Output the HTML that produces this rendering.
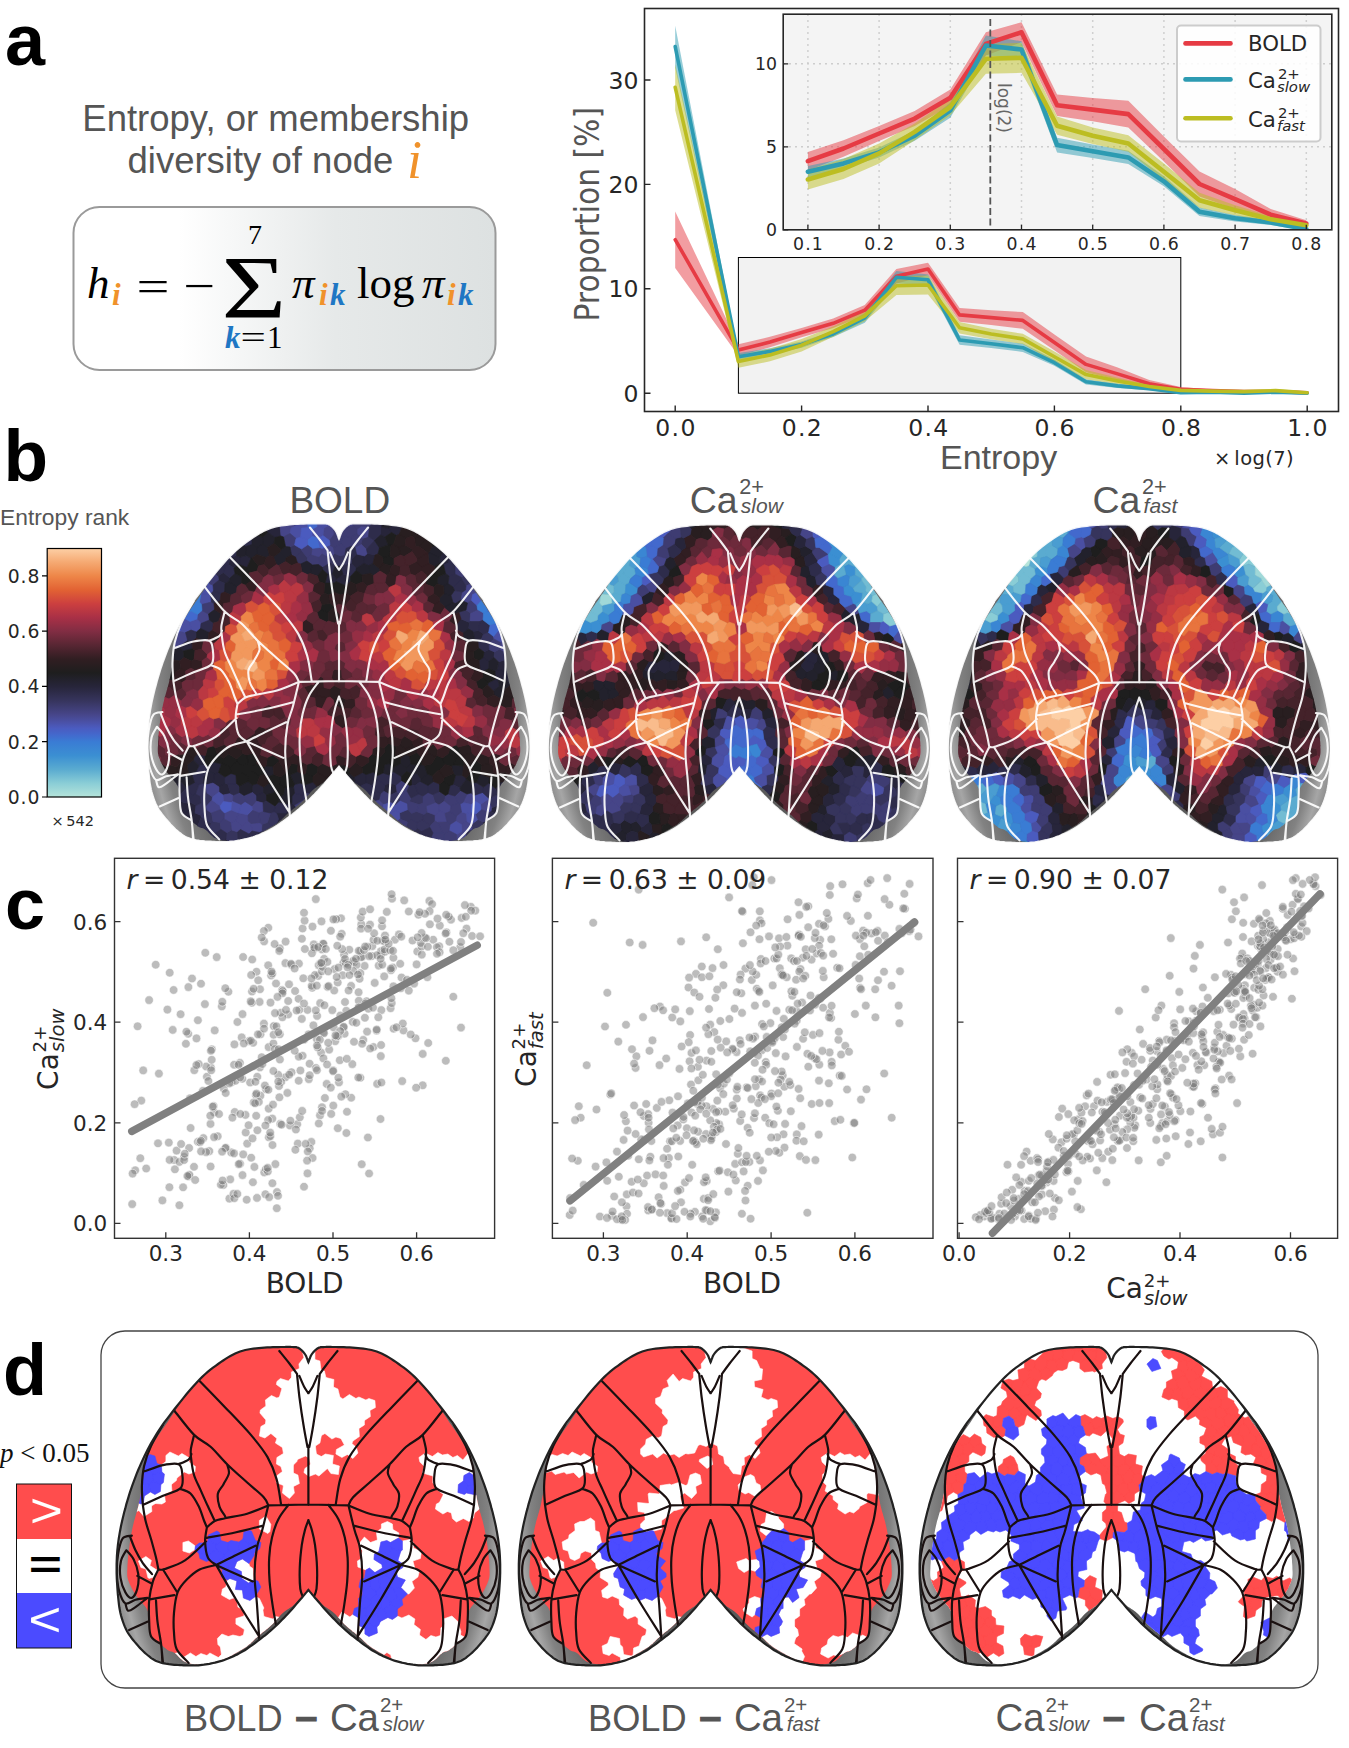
<!DOCTYPE html>
<html lang="en"><head><meta charset="utf-8"><title>Entropy figure</title>
<style>html,body{margin:0;padding:0;background:#fff}svg{display:block}</style></head><body>
<svg width="1349" height="1748" viewBox="0 0 1349 1748">
<rect width="1349" height="1748" fill="#fff"/>
<defs>
<path id="bo" d="M0.0 15.2L-0.3 14.6L-0.6 13.7L-0.9 12.6L-1.4 11.5L-1.8 10.3L-2.3 9.1L-2.9 8.0L-3.5 7.0L-4.2 6.1L-4.9 5.2L-5.7 4.4L-6.5 3.5L-7.3 2.8L-8.2 2.1L-9.0 1.5L-9.9 1.0L-10.7 0.6L-11.6 0.4L-12.4 0.2L-13.3 0.1L-14.2 0.1L-15.1 0.1L-16.0 0.0L-17.0 0.0L-17.9 -0.1L-18.7 -0.1L-19.5 -0.1L-20.4 -0.1L-21.3 -0.1L-22.4 -0.1L-23.8 -0.0L-25.5 0.0L-27.6 0.0L-29.9 0.1L-32.6 0.1L-35.4 0.2L-38.3 0.3L-41.2 0.4L-44.1 0.6L-46.9 0.8L-49.6 1.1L-52.3 1.4L-55.0 1.7L-57.7 2.0L-60.4 2.5L-63.1 3.0L-65.7 3.7L-68.3 4.5L-70.8 5.5L-73.2 6.5L-75.6 7.7L-78.0 9.0L-80.4 10.4L-82.8 11.9L-85.2 13.5L-87.7 15.2L-90.3 17.0L-92.8 18.8L-95.4 20.7L-98.0 22.7L-100.7 24.9L-103.4 27.3L-106.2 29.9L-109.1 32.7L-112.1 35.9L-115.3 39.5L-118.6 43.3L-122.0 47.3L-125.3 51.4L-128.5 55.4L-131.6 59.2L-134.4 62.8L-137.0 66.1L-139.4 69.3L-141.7 72.3L-143.9 75.2L-146.0 78.2L-148.0 81.1L-150.0 84.1L-151.9 87.1L-153.8 90.2L-155.6 93.3L-157.4 96.3L-159.1 99.4L-160.7 102.6L-162.3 105.8L-163.9 109.0L-165.5 112.4L-167.1 115.9L-168.6 119.4L-170.2 123.0L-171.7 126.6L-173.1 130.3L-174.5 134.1L-175.9 137.8L-177.2 141.6L-178.5 145.4L-179.7 149.4L-180.9 153.4L-182.1 157.4L-183.1 161.4L-184.2 165.3L-185.1 169.1L-186.0 172.7L-186.8 176.2L-187.5 179.5L-188.1 182.8L-188.7 185.9L-189.2 189.0L-189.7 192.0L-190.1 195.0L-190.5 198.0L-190.8 200.9L-191.1 203.7L-191.3 206.4L-191.5 209.1L-191.6 211.7L-191.7 214.4L-191.8 217.2L-191.8 220.0L-191.8 222.9L-191.8 225.9L-191.7 228.9L-191.6 232.0L-191.4 235.1L-191.2 238.1L-191.0 241.1L-190.8 244.0L-190.6 246.9L-190.3 249.7L-190.0 252.6L-189.7 255.4L-189.4 258.1L-189.0 260.8L-188.5 263.5L-188.0 266.0L-187.4 268.5L-186.7 270.9L-186.0 273.2L-185.2 275.5L-184.4 277.7L-183.5 279.9L-182.5 282.0L-181.5 284.0L-180.4 286.0L-179.1 287.9L-177.8 289.7L-176.5 291.5L-175.1 293.2L-173.7 294.9L-172.3 296.5L-171.0 298.0L-169.7 299.5L-168.5 300.9L-167.2 302.2L-165.9 303.5L-164.7 304.7L-163.5 305.9L-162.2 307.0L-161.0 308.0L-159.8 309.0L-158.6 309.9L-157.5 310.8L-156.4 311.6L-155.2 312.3L-154.0 313.1L-152.8 313.7L-151.5 314.3L-150.1 314.8L-148.7 315.3L-147.3 315.7L-145.8 316.1L-144.3 316.4L-142.7 316.7L-141.1 316.9L-139.5 317.2L-137.8 317.4L-136.0 317.6L-134.2 317.8L-132.3 317.9L-130.4 318.0L-128.5 318.1L-126.7 318.2L-124.8 318.3L-123.0 318.4L-121.1 318.4L-119.3 318.5L-117.4 318.5L-115.6 318.5L-113.7 318.5L-111.9 318.4L-110.0 318.3L-108.2 318.1L-106.3 317.9L-104.5 317.7L-102.6 317.4L-100.8 317.1L-98.9 316.8L-97.1 316.4L-95.2 316.0L-93.4 315.6L-91.5 315.1L-89.7 314.6L-87.8 314.1L-86.0 313.6L-84.1 313.0L-82.3 312.3L-80.4 311.6L-78.5 310.8L-76.7 310.0L-74.8 309.2L-73.0 308.3L-71.1 307.4L-69.2 306.4L-67.4 305.4L-65.5 304.3L-63.6 303.2L-61.8 302.0L-59.9 300.7L-58.1 299.4L-56.2 298.1L-54.4 296.8L-52.5 295.4L-50.7 294.0L-48.9 292.6L-47.0 291.2L-45.2 289.7L-43.3 288.3L-41.5 286.8L-39.6 285.2L-37.8 283.6L-35.9 282.0L-34.0 280.3L-32.1 278.5L-30.2 276.6L-28.3 274.7L-26.4 272.8L-24.5 270.9L-22.7 269.0L-21.0 267.2L-19.4 265.4L-17.8 263.7L-16.2 262.0L-14.7 260.3L-13.3 258.6L-11.9 256.9L-10.5 255.3L-9.2 253.8L-7.9 252.3L-6.5 250.7L-5.2 249.1L-3.9 247.6L-2.7 246.1L-1.6 244.9L-0.7 243.8L0.0 243.0L0.7 243.8L1.6 244.9L2.7 246.1L3.9 247.6L5.2 249.1L6.5 250.7L7.9 252.3L9.2 253.8L10.5 255.3L11.9 256.9L13.3 258.6L14.7 260.3L16.2 262.0L17.8 263.7L19.4 265.4L21.0 267.2L22.7 269.0L24.5 270.9L26.4 272.8L28.3 274.7L30.2 276.6L32.1 278.5L34.0 280.3L35.9 282.0L37.8 283.6L39.6 285.2L41.5 286.8L43.3 288.3L45.2 289.7L47.0 291.2L48.9 292.6L50.7 294.0L52.5 295.4L54.4 296.8L56.2 298.1L58.1 299.4L59.9 300.7L61.8 302.0L63.6 303.2L65.5 304.3L67.4 305.4L69.2 306.4L71.1 307.4L73.0 308.3L74.8 309.2L76.7 310.0L78.5 310.8L80.4 311.6L82.3 312.3L84.1 313.0L86.0 313.6L87.8 314.1L89.7 314.6L91.5 315.1L93.4 315.6L95.2 316.0L97.1 316.4L98.9 316.8L100.8 317.1L102.6 317.4L104.5 317.7L106.3 317.9L108.2 318.1L110.0 318.3L111.9 318.4L113.7 318.5L115.6 318.5L117.4 318.5L119.3 318.5L121.1 318.4L123.0 318.4L124.8 318.3L126.7 318.2L128.5 318.1L130.4 318.0L132.3 317.9L134.2 317.8L136.0 317.6L137.8 317.4L139.5 317.2L141.1 316.9L142.7 316.7L144.3 316.4L145.8 316.1L147.3 315.7L148.7 315.3L150.1 314.8L151.5 314.3L152.8 313.7L154.0 313.1L155.2 312.3L156.4 311.6L157.5 310.8L158.6 309.9L159.8 309.0L161.0 308.0L162.2 307.0L163.5 305.9L164.7 304.7L165.9 303.5L167.2 302.2L168.5 300.9L169.7 299.5L171.0 298.0L172.3 296.5L173.7 294.9L175.1 293.2L176.5 291.5L177.8 289.7L179.1 287.9L180.4 286.0L181.5 284.0L182.5 282.0L183.5 279.9L184.4 277.7L185.2 275.5L186.0 273.2L186.7 270.9L187.4 268.5L188.0 266.0L188.5 263.5L189.0 260.8L189.4 258.1L189.7 255.4L190.0 252.6L190.3 249.7L190.6 246.9L190.8 244.0L191.0 241.1L191.2 238.1L191.4 235.1L191.6 232.0L191.7 228.9L191.8 225.9L191.8 222.9L191.8 220.0L191.8 217.2L191.7 214.4L191.6 211.7L191.5 209.1L191.3 206.4L191.1 203.7L190.8 200.9L190.5 198.0L190.1 195.0L189.7 192.0L189.2 189.0L188.7 185.9L188.1 182.8L187.5 179.5L186.8 176.2L186.0 172.7L185.1 169.1L184.2 165.3L183.1 161.4L182.1 157.4L180.9 153.4L179.7 149.4L178.5 145.4L177.2 141.6L175.9 137.8L174.5 134.1L173.1 130.3L171.7 126.6L170.2 123.0L168.6 119.4L167.1 115.9L165.5 112.4L163.9 109.0L162.3 105.8L160.7 102.6L159.1 99.4L157.4 96.3L155.6 93.3L153.8 90.2L151.9 87.1L150.0 84.1L148.0 81.1L146.0 78.2L143.9 75.2L141.7 72.3L139.4 69.3L137.0 66.1L134.4 62.8L131.6 59.2L128.5 55.4L125.3 51.4L122.0 47.3L118.6 43.3L115.3 39.5L112.1 35.9L109.1 32.7L106.2 29.9L103.4 27.3L100.7 24.9L98.0 22.7L95.4 20.7L92.8 18.8L90.3 17.0L87.7 15.2L85.2 13.5L82.8 11.9L80.4 10.4L78.0 9.0L75.6 7.7L73.2 6.5L70.8 5.5L68.3 4.5L65.7 3.7L63.1 3.0L60.4 2.5L57.7 2.0L55.0 1.7L52.3 1.4L49.6 1.1L46.9 0.8L44.1 0.6L41.2 0.4L38.3 0.3L35.4 0.2L32.6 0.1L29.9 0.1L27.6 0.0L25.5 0.0L23.8 -0.0L22.4 -0.1L21.3 -0.1L20.4 -0.1L19.5 -0.1L18.7 -0.1L17.9 -0.1L17.0 0.0L16.0 0.0L15.1 0.1L14.2 0.1L13.3 0.1L12.4 0.2L11.6 0.4L10.7 0.6L9.9 1.0L9.0 1.5L8.2 2.1L7.3 2.8L6.5 3.5L5.7 4.4L4.9 5.2L4.2 6.1L3.5 7.0L2.9 8.0L2.3 9.1L1.8 10.3L1.4 11.5L0.9 12.6L0.6 13.7L0.3 14.6Z"/>
<clipPath id="dclip"><path d="M0.0 15.2L-0.3 14.6L-0.6 13.7L-0.9 12.6L-1.4 11.5L-1.8 10.3L-2.3 9.1L-2.9 8.0L-3.5 7.0L-4.2 6.1L-4.9 5.2L-5.7 4.4L-6.5 3.5L-7.3 2.8L-8.2 2.1L-9.0 1.5L-9.9 1.0L-10.7 0.6L-11.6 0.4L-12.4 0.2L-13.3 0.1L-14.2 0.1L-15.1 0.1L-16.0 0.0L-17.0 0.0L-17.9 -0.1L-18.7 -0.1L-19.5 -0.1L-20.4 -0.1L-21.3 -0.1L-22.4 -0.1L-23.8 -0.0L-25.5 0.0L-27.6 0.0L-29.9 0.1L-32.6 0.1L-35.4 0.2L-38.3 0.3L-41.2 0.4L-44.1 0.6L-46.9 0.8L-49.6 1.1L-52.3 1.4L-55.0 1.7L-57.7 2.0L-60.4 2.5L-63.1 3.0L-65.7 3.7L-68.3 4.5L-70.8 5.5L-73.2 6.5L-75.6 7.7L-78.0 9.0L-80.4 10.4L-82.8 11.9L-85.2 13.5L-87.7 15.2L-90.3 17.1L-93.1 19.1L-95.9 21.3L-98.7 23.6L-101.5 25.9L-104.2 28.2L-106.8 30.5L-109.1 32.7L-111.2 34.7L-113.1 36.7L-114.8 38.6L-116.4 40.5L-118.0 42.4L-119.6 44.5L-121.2 46.6L-123.0 49.0L-124.9 51.6L-126.9 54.4L-128.9 57.3L-131.0 60.3L-133.0 63.4L-135.1 66.4L-137.1 69.4L-139.0 72.3L-140.9 75.2L-142.9 78.0L-144.8 80.8L-146.8 83.6L-148.6 86.3L-150.4 89.1L-152.1 91.7L-153.7 94.3L-155.1 96.8L-156.5 99.2L-157.7 101.5L-158.9 103.7L-160.0 106.0L-161.1 108.4L-162.0 110.9L-162.8 113.6L-163.5 116.5L-164.1 119.6L-164.5 122.9L-164.9 126.3L-165.2 129.7L-165.5 133.0L-165.9 136.2L-166.3 139.2L-166.8 142.0L-167.2 144.6L-167.6 147.2L-168.1 149.6L-168.6 152.0L-169.1 154.4L-169.6 156.9L-170.1 159.3L-170.8 161.8L-171.4 164.3L-172.2 166.8L-172.9 169.3L-173.6 171.8L-174.4 174.3L-175.0 176.9L-175.6 179.5L-176.2 182.2L-176.7 184.9L-177.2 187.8L-177.7 190.6L-178.2 193.4L-178.6 196.2L-179.0 198.9L-179.3 201.5L-179.6 204.0L-179.9 206.4L-180.2 208.9L-180.4 211.2L-180.6 213.5L-180.7 215.7L-180.9 217.8L-181.0 219.8L-181.0 221.6L-181.1 223.2L-181.2 224.7L-181.2 226.2L-181.2 227.6L-181.1 229.0L-180.9 230.4L-180.5 232.0L-180.0 233.7L-179.3 235.5L-178.6 237.3L-177.7 239.1L-176.8 241.0L-175.9 242.7L-174.9 244.4L-174.0 246.0L-173.1 247.4L-172.1 248.8L-171.0 250.0L-170.0 251.2L-168.9 252.4L-167.9 253.6L-166.9 254.8L-166.0 256.0L-165.1 257.2L-164.3 258.2L-163.4 259.2L-162.6 260.3L-161.9 261.4L-161.2 262.7L-160.5 264.2L-160.0 266.0L-159.6 268.2L-159.4 270.9L-159.4 273.8L-159.3 276.9L-159.3 280.0L-159.1 282.9L-158.8 285.5L-158.2 287.7L-157.4 289.4L-156.3 290.9L-155.1 292.1L-153.8 293.1L-152.5 294.0L-151.1 294.8L-149.8 295.7L-148.6 296.6L-147.5 297.6L-146.3 298.6L-145.2 299.5L-144.1 300.5L-143.0 301.3L-142.0 302.1L-141.0 302.9L-140.0 303.5L-139.1 304.0L-138.3 304.3L-137.6 304.5L-136.9 304.6L-136.2 304.8L-135.5 305.1L-134.6 305.4L-133.7 306.0L-132.7 306.8L-131.6 307.8L-130.5 309.0L-129.3 310.2L-128.1 311.4L-126.8 312.6L-125.4 313.7L-124.0 314.5L-122.4 315.2L-120.8 315.8L-119.0 316.3L-117.1 316.7L-115.3 317.0L-113.5 317.3L-111.7 317.5L-110.0 317.6L-108.4 317.7L-106.9 317.6L-105.3 317.5L-103.9 317.3L-102.4 317.1L-100.9 316.8L-99.5 316.5L-98.0 316.2L-96.5 315.9L-95.0 315.6L-93.5 315.2L-92.0 314.8L-90.6 314.4L-89.1 314.0L-87.7 313.5L-86.3 313.0L-85.0 312.5L-83.7 312.0L-82.5 311.4L-81.3 310.9L-80.1 310.2L-78.8 309.6L-77.4 308.8L-75.9 308.0L-74.2 307.1L-72.4 306.0L-70.5 304.9L-68.5 303.8L-66.5 302.6L-64.6 301.4L-62.8 300.2L-61.1 299.0L-59.6 297.8L-58.3 296.7L-57.0 295.5L-55.8 294.4L-54.6 293.2L-53.4 292.0L-52.1 290.8L-50.7 289.5L-49.2 288.2L-47.5 286.9L-45.9 285.6L-44.1 284.2L-42.4 282.8L-40.7 281.4L-39.0 280.0L-37.4 278.5L-35.8 277.0L-34.3 275.4L-32.8 273.7L-31.3 272.0L-29.8 270.4L-28.3 268.8L-26.9 267.3L-25.5 266.0L-24.1 264.8L-22.7 263.8L-21.4 262.8L-20.0 261.9L-18.7 261.1L-17.5 260.3L-16.2 259.4L-15.1 258.5L-14.0 257.6L-13.0 256.6L-12.1 255.7L-11.2 254.8L-10.4 253.8L-9.5 252.9L-8.6 252.0L-7.7 251.0L-6.7 250.0L-5.6 248.8L-4.5 247.7L-3.4 246.5L-2.3 245.4L-1.4 244.4L-0.6 243.6L0.0 243.0L0.6 243.6L1.4 244.4L2.3 245.4L3.4 246.5L4.5 247.7L5.6 248.8L6.7 250.0L7.7 251.0L8.6 252.0L9.5 252.9L10.4 253.8L11.2 254.8L12.1 255.7L13.0 256.6L14.0 257.6L15.1 258.5L16.2 259.4L17.5 260.3L18.7 261.1L20.0 261.9L21.4 262.8L22.7 263.8L24.1 264.8L25.5 266.0L26.9 267.3L28.3 268.8L29.8 270.4L31.3 272.0L32.8 273.7L34.3 275.4L35.8 277.0L37.4 278.5L39.0 280.0L40.7 281.4L42.4 282.8L44.1 284.2L45.9 285.6L47.5 286.9L49.2 288.2L50.7 289.5L52.1 290.8L53.4 292.0L54.6 293.2L55.8 294.4L57.0 295.5L58.3 296.7L59.6 297.8L61.1 299.0L62.8 300.2L64.6 301.4L66.5 302.6L68.5 303.8L70.5 304.9L72.4 306.0L74.2 307.1L75.9 308.0L77.4 308.8L78.8 309.6L80.1 310.2L81.3 310.9L82.5 311.4L83.7 312.0L85.0 312.5L86.3 313.0L87.7 313.5L89.1 314.0L90.6 314.4L92.0 314.8L93.5 315.2L95.0 315.6L96.5 315.9L98.0 316.2L99.5 316.5L100.9 316.8L102.4 317.1L103.9 317.3L105.3 317.5L106.9 317.6L108.4 317.7L110.0 317.6L111.7 317.5L113.5 317.3L115.3 317.0L117.1 316.7L119.0 316.3L120.8 315.8L122.4 315.2L124.0 314.5L125.4 313.7L126.8 312.6L128.1 311.4L129.3 310.2L130.5 309.0L131.6 307.8L132.7 306.8L133.7 306.0L134.6 305.4L135.5 305.1L136.2 304.8L136.9 304.6L137.6 304.5L138.3 304.3L139.1 304.0L140.0 303.5L141.0 302.9L142.0 302.1L143.0 301.3L144.1 300.5L145.2 299.5L146.3 298.6L147.5 297.6L148.6 296.6L149.8 295.7L151.1 294.8L152.5 294.0L153.8 293.1L155.1 292.1L156.3 290.9L157.4 289.4L158.2 287.7L158.8 285.5L159.1 282.9L159.3 280.0L159.3 276.9L159.4 273.8L159.4 270.9L159.6 268.2L160.0 266.0L160.5 264.2L161.2 262.7L161.9 261.4L162.6 260.3L163.4 259.2L164.3 258.2L165.1 257.2L166.0 256.0L166.9 254.8L167.9 253.6L168.9 252.4L170.0 251.2L171.0 250.0L172.1 248.8L173.1 247.4L174.0 246.0L174.9 244.4L175.9 242.7L176.8 241.0L177.7 239.1L178.6 237.3L179.3 235.5L180.0 233.7L180.5 232.0L180.9 230.4L181.1 229.0L181.2 227.6L181.2 226.2L181.2 224.7L181.1 223.2L181.0 221.6L181.0 219.8L180.9 217.8L180.7 215.7L180.6 213.5L180.4 211.2L180.2 208.9L179.9 206.4L179.6 204.0L179.3 201.5L179.0 198.9L178.6 196.2L178.2 193.4L177.7 190.6L177.2 187.8L176.7 184.9L176.2 182.2L175.6 179.5L175.0 176.9L174.4 174.3L173.6 171.8L172.9 169.3L172.2 166.8L171.4 164.3L170.8 161.8L170.1 159.3L169.6 156.9L169.1 154.4L168.6 152.0L168.1 149.6L167.6 147.2L167.2 144.6L166.8 142.0L166.3 139.2L165.9 136.2L165.5 133.0L165.2 129.7L164.9 126.3L164.5 122.9L164.1 119.6L163.5 116.5L162.8 113.6L162.0 110.9L161.1 108.4L160.0 106.0L158.9 103.7L157.7 101.5L156.5 99.2L155.1 96.8L153.7 94.3L152.1 91.7L150.4 89.1L148.6 86.3L146.8 83.6L144.8 80.8L142.9 78.0L140.9 75.2L139.0 72.3L137.1 69.4L135.1 66.4L133.0 63.4L131.0 60.3L128.9 57.3L126.9 54.4L124.9 51.6L123.0 49.0L121.2 46.6L119.6 44.5L118.0 42.4L116.4 40.5L114.8 38.6L113.1 36.7L111.2 34.7L109.1 32.7L106.8 30.5L104.2 28.2L101.5 25.9L98.7 23.6L95.9 21.3L93.1 19.1L90.3 17.1L87.7 15.2L85.2 13.5L82.8 11.9L80.4 10.4L78.0 9.0L75.6 7.7L73.2 6.5L70.8 5.5L68.3 4.5L65.7 3.7L63.1 3.0L60.4 2.5L57.7 2.0L55.0 1.7L52.3 1.4L49.6 1.1L46.9 0.8L44.1 0.6L41.2 0.4L38.3 0.3L35.4 0.2L32.6 0.1L29.9 0.1L27.6 0.0L25.5 0.0L23.8 -0.0L22.4 -0.1L21.3 -0.1L20.4 -0.1L19.5 -0.1L18.7 -0.1L17.9 -0.1L17.0 0.0L16.0 0.0L15.1 0.1L14.2 0.1L13.3 0.1L12.4 0.2L11.6 0.4L10.7 0.6L9.9 1.0L9.0 1.5L8.2 2.1L7.3 2.8L6.5 3.5L5.7 4.4L4.9 5.2L4.2 6.1L3.5 7.0L2.9 8.0L2.3 9.1L1.8 10.3L1.4 11.5L0.9 12.6L0.6 13.7L0.3 14.6Z"/></clipPath>
<clipPath id="oclip"><use href="#bo"/></clipPath>
<path id="bl" fill="none" d="M-29.1 4.0C-27.4 6.1 -22.0 12.7 -19.0 16.5C-16.1 20.3 -12.6 25.2 -11.4 26.9M-11.4 26.9C-11.0 30.8 -10.0 41.5 -9.0 50.0C-7.9 58.5 -6.3 69.7 -4.9 78.0C-3.6 86.4 -1.6 96.3 -0.9 100.0M-0.0 98.9L-0.0 157.9M-9.0 28.9C-8.2 30.7 -5.9 36.5 -4.4 39.4C-2.9 42.2 -0.9 45.0 -0.2 46.2M-108.8 33.9C-104.5 38.3 -91.7 51.4 -83.2 60.4C-74.6 69.4 -64.5 79.7 -57.5 87.9C-50.5 96.2 -45.3 102.6 -41.0 109.9C-36.8 117.2 -34.2 123.9 -31.9 131.9C-29.6 139.8 -28.1 153.2 -27.3 157.5M-134.4 63.2C-131.1 67.3 -120.4 81.8 -114.3 87.9C-108.2 94.0 -103.3 94.9 -97.8 99.8C-92.3 104.7 -87.4 111.3 -81.3 117.2C-75.2 123.2 -67.3 130.0 -61.2 135.5C-55.1 141.0 -48.2 146.4 -44.7 150.2C-41.2 154.0 -40.9 157.1 -40.1 158.4M-40.1 158.4L-0.0 157.5M-114.3 87.9C-114.8 90.4 -117.1 98.3 -117.6 102.6C-118.0 106.8 -117.6 109.3 -117.0 113.6C-116.5 117.8 -115.8 123.3 -114.3 128.2C-112.8 133.1 -110.2 137.7 -107.9 142.9C-105.6 148.0 -102.9 154.2 -100.5 159.3C-98.2 164.5 -94.7 171.6 -93.6 174.0M-40.1 158.4C-43.6 159.8 -54.0 164.5 -61.2 166.7C-68.3 168.8 -77.7 170.0 -83.2 171.2C-88.6 172.5 -90.5 172.5 -93.6 174.0C-96.6 175.5 -100.2 179.3 -101.5 180.4M-81.3 117.2C-81.0 118.7 -78.9 123.0 -79.5 126.4C-80.1 129.7 -83.2 134.0 -85.0 137.4C-86.8 140.7 -89.8 142.9 -90.5 146.5C-91.1 150.2 -90.2 155.5 -89.0 159.3C-87.8 163.2 -84.1 167.7 -83.2 169.4M-128.0 141.9C-126.3 142.7 -121.0 143.6 -117.9 146.5C-114.9 149.4 -112.0 154.8 -109.7 159.3C-107.4 163.9 -105.6 170.5 -104.2 174.0C-102.8 177.5 -101.9 179.3 -101.5 180.4M-101.5 180.4C-101.8 182.7 -103.4 189.1 -103.3 194.1C-103.1 199.2 -102.4 206.7 -100.5 210.6C-98.7 214.6 -93.7 216.7 -92.3 217.9M-164.7 124.5C-161.4 123.5 -151.2 119.4 -145.4 118.1C-139.6 116.9 -133.1 115.8 -129.9 117.2C-126.6 118.6 -126.6 122.4 -126.2 126.4C-125.8 130.3 -124.5 137.3 -127.7 141.0C-130.9 144.7 -139.1 145.9 -145.4 148.7C-151.7 151.5 -162.2 156.3 -165.6 157.9M-129.9 117.2C-128.2 116.5 -121.9 114.3 -119.8 112.6C-117.6 111.0 -117.5 108.1 -117.0 107.1M-145.4 77.8C-147.4 81.3 -154.2 92.0 -157.3 98.9C-160.5 105.8 -162.8 112.3 -164.3 119.0C-165.8 125.8 -166.3 132.7 -166.5 139.2C-166.7 145.7 -165.7 154.8 -165.6 157.9M-165.6 157.9C-165.1 160.6 -164.2 168.3 -162.8 174.0C-161.4 179.7 -159.1 186.2 -157.3 192.3C-155.6 198.4 -153.6 205.6 -152.4 210.6C-151.2 215.7 -150.4 220.5 -150.0 222.5M-150.0 222.5C-148.9 222.4 -148.0 223.5 -143.6 222.0C-139.2 220.5 -130.3 217.9 -123.4 213.4C-116.6 208.8 -105.9 197.6 -102.4 194.5M-145.4 222.5L-131.7 244.5M-92.3 217.9C-95.1 218.7 -103.9 220.1 -108.8 222.5C-113.7 225.0 -117.9 228.8 -121.6 232.6C-125.3 236.4 -128.6 239.9 -130.8 245.4C-132.9 250.9 -133.8 258.9 -134.4 265.6C-135.0 272.3 -134.9 279.6 -134.4 285.7C-134.0 291.8 -134.1 297.2 -131.7 302.2C-129.2 307.2 -121.8 313.6 -119.8 315.9M-158.6 252.4L-134.1 248.2M-150.0 222.5C-150.9 224.5 -154.0 229.4 -155.5 234.4C-157.0 239.5 -158.5 246.0 -159.2 252.7C-159.8 259.5 -159.5 268.6 -159.2 274.7C-158.9 280.8 -159.3 285.7 -157.3 289.4C-155.3 293.1 -148.9 295.8 -147.3 297.1M-152.4 253.7C-152.1 257.2 -151.8 267.5 -150.9 274.7C-150.1 282.0 -148.1 290.2 -147.3 297.1C-146.4 303.9 -146.2 312.8 -146.0 315.9M-92.3 217.9C-88.9 216.3 -78.7 211.1 -72.2 207.9C-65.6 204.7 -56.1 200.2 -52.9 198.7M-92.3 217.9C-89.3 219.3 -80.1 223.4 -74.0 226.2C-67.9 228.9 -58.7 233.1 -55.7 234.4M-92.3 217.9C-88.9 223.7 -79.2 241.0 -72.2 252.7C-65.1 264.5 -53.5 282.5 -49.8 288.5M-40.1 158.4C-41.1 162.5 -44.2 176.0 -46.2 183.2C-48.1 190.3 -50.4 193.8 -51.6 201.5C-52.9 209.1 -53.9 219.8 -53.8 228.9C-53.8 238.1 -52.3 245.7 -51.5 256.4C-50.7 267.1 -49.5 286.9 -49.1 293.0M-101.5 190.8C-96.6 189.9 -81.6 187.4 -72.2 185.3C-62.8 183.3 -49.6 179.7 -45.1 178.6M-20.0 157.9C-21.6 160.3 -27.3 166.7 -30.0 172.2C-32.8 177.6 -34.9 184.1 -36.4 190.5C-38.0 196.9 -38.8 203.3 -39.2 210.6C-39.6 217.9 -39.4 226.2 -38.8 234.4C-38.2 242.7 -36.8 251.5 -35.5 260.1C-34.2 268.6 -31.7 281.4 -31.0 285.7M-0.0 173.1C-0.6 174.8 -2.4 179.0 -3.5 183.2C-4.6 187.3 -5.7 191.7 -6.6 197.8C-7.4 203.9 -8.4 212.5 -8.6 219.8C-8.9 227.1 -8.7 236.5 -8.1 241.8C-7.4 247.0 -5.3 249.7 -4.8 251.3M-176.6 188.6C-178.1 189.1 -183.4 188.3 -185.7 191.4C-188.0 194.4 -189.3 201.3 -190.3 207.0C-191.3 212.6 -191.7 219.2 -191.6 225.3C-191.4 231.4 -190.8 238.4 -189.4 243.6C-187.9 248.8 -185.7 254.9 -183.0 256.4C-180.2 257.9 -176.6 253.7 -172.9 252.7C-169.2 251.8 -163.0 251.2 -161.0 250.9M-178.4 189.6C-177.5 191.8 -175.0 198.9 -172.9 203.3C-170.8 207.7 -168.3 212.1 -165.6 216.1C-162.8 220.1 -157.9 225.3 -156.4 227.1M-182.1 203.3C-183.0 205.1 -186.6 209.7 -187.5 214.3C-188.5 218.9 -188.7 225.6 -187.9 230.8C-187.1 236.0 -184.9 242.1 -183.0 245.4C-181.1 248.8 -178.5 251.5 -176.6 250.9C-174.6 250.3 -172.1 245.7 -171.1 241.8C-170.0 237.8 -169.5 232.0 -170.1 227.1C-170.8 222.2 -172.7 216.4 -174.7 212.5C-176.7 208.5 -180.8 204.8 -182.1 203.3M-183.0 256.4C-182.5 257.6 -181.9 263.1 -180.2 263.7C-178.5 264.3 -176.1 262.2 -172.9 260.1C-169.7 257.9 -163.0 252.4 -161.0 250.9M-179.3 283.0L-161.0 274.7M-147.3 297.1L-145.4 315.9M-171.1 228.9L-157.3 236.3M29.1 4.0C27.4 6.1 22.0 12.7 19.0 16.5C16.1 20.3 12.6 25.2 11.4 26.9M11.4 26.9C11.0 30.8 10.0 41.5 9.0 50.0C7.9 58.5 6.3 69.7 4.9 78.0C3.6 86.4 1.6 96.3 0.9 100.0M0.0 98.9L0.0 157.9M9.0 28.9C8.2 30.7 5.9 36.5 4.4 39.4C2.9 42.2 0.9 45.0 0.2 46.2M108.8 33.9C104.5 38.3 91.7 51.4 83.2 60.4C74.6 69.4 64.5 79.7 57.5 87.9C50.5 96.2 45.3 102.6 41.0 109.9C36.8 117.2 34.2 123.9 31.9 131.9C29.6 139.8 28.1 153.2 27.3 157.5M134.4 63.2C131.1 67.3 120.4 81.8 114.3 87.9C108.2 94.0 103.3 94.9 97.8 99.8C92.3 104.7 87.4 111.3 81.3 117.2C75.2 123.2 67.3 130.0 61.2 135.5C55.1 141.0 48.2 146.4 44.7 150.2C41.2 154.0 40.9 157.1 40.1 158.4M40.1 158.4L0.0 157.5M114.3 87.9C114.8 90.4 117.1 98.3 117.6 102.6C118.0 106.8 117.6 109.3 117.0 113.6C116.5 117.8 115.8 123.3 114.3 128.2C112.8 133.1 110.2 137.7 107.9 142.9C105.6 148.0 102.9 154.2 100.5 159.3C98.2 164.5 94.7 171.6 93.6 174.0M40.1 158.4C43.6 159.8 54.0 164.5 61.2 166.7C68.3 168.8 77.7 170.0 83.2 171.2C88.6 172.5 90.5 172.5 93.6 174.0C96.6 175.5 100.2 179.3 101.5 180.4M81.3 117.2C81.0 118.7 78.9 123.0 79.5 126.4C80.1 129.7 83.2 134.0 85.0 137.4C86.8 140.7 89.8 142.9 90.5 146.5C91.1 150.2 90.2 155.5 89.0 159.3C87.8 163.2 84.1 167.7 83.2 169.4M128.0 141.9C126.3 142.7 121.0 143.6 117.9 146.5C114.9 149.4 112.0 154.8 109.7 159.3C107.4 163.9 105.6 170.5 104.2 174.0C102.8 177.5 101.9 179.3 101.5 180.4M101.5 180.4C101.8 182.7 103.4 189.1 103.3 194.1C103.1 199.2 102.4 206.7 100.5 210.6C98.7 214.6 93.7 216.7 92.3 217.9M164.7 124.5C161.4 123.5 151.2 119.4 145.4 118.1C139.6 116.9 133.1 115.8 129.9 117.2C126.6 118.6 126.6 122.4 126.2 126.4C125.8 130.3 124.5 137.3 127.7 141.0C130.9 144.7 139.1 145.9 145.4 148.7C151.7 151.5 162.2 156.3 165.6 157.9M129.9 117.2C128.2 116.5 121.9 114.3 119.8 112.6C117.6 111.0 117.5 108.1 117.0 107.1M145.4 77.8C147.4 81.3 154.2 92.0 157.3 98.9C160.5 105.8 162.8 112.3 164.3 119.0C165.8 125.8 166.3 132.7 166.5 139.2C166.7 145.7 165.7 154.8 165.6 157.9M165.6 157.9C165.1 160.6 164.2 168.3 162.8 174.0C161.4 179.7 159.1 186.2 157.3 192.3C155.6 198.4 153.6 205.6 152.4 210.6C151.2 215.7 150.4 220.5 150.0 222.5M150.0 222.5C148.9 222.4 148.0 223.5 143.6 222.0C139.2 220.5 130.3 217.9 123.4 213.4C116.6 208.8 105.9 197.6 102.4 194.5M145.4 222.5L131.7 244.5M92.3 217.9C95.1 218.7 103.9 220.1 108.8 222.5C113.7 225.0 117.9 228.8 121.6 232.6C125.3 236.4 128.6 239.9 130.8 245.4C132.9 250.9 133.8 258.9 134.4 265.6C135.0 272.3 134.9 279.6 134.4 285.7C134.0 291.8 134.1 297.2 131.7 302.2C129.2 307.2 121.8 313.6 119.8 315.9M158.6 252.4L134.1 248.2M150.0 222.5C150.9 224.5 154.0 229.4 155.5 234.4C157.0 239.5 158.5 246.0 159.2 252.7C159.8 259.5 159.5 268.6 159.2 274.7C158.9 280.8 159.3 285.7 157.3 289.4C155.3 293.1 148.9 295.8 147.3 297.1M152.4 253.7C152.1 257.2 151.8 267.5 150.9 274.7C150.1 282.0 148.1 290.2 147.3 297.1C146.4 303.9 146.2 312.8 146.0 315.9M92.3 217.9C88.9 216.3 78.7 211.1 72.2 207.9C65.6 204.7 56.1 200.2 52.9 198.7M92.3 217.9C89.3 219.3 80.1 223.4 74.0 226.2C67.9 228.9 58.7 233.1 55.7 234.4M92.3 217.9C88.9 223.7 79.2 241.0 72.2 252.7C65.1 264.5 53.5 282.5 49.8 288.5M40.1 158.4C41.1 162.5 44.2 176.0 46.2 183.2C48.1 190.3 50.4 193.8 51.6 201.5C52.9 209.1 53.9 219.8 53.8 228.9C53.8 238.1 52.3 245.7 51.5 256.4C50.7 267.1 49.5 286.9 49.1 293.0M101.5 190.8C96.6 189.9 81.6 187.4 72.2 185.3C62.8 183.3 49.6 179.7 45.1 178.6M20.0 157.9C21.6 160.3 27.3 166.7 30.0 172.2C32.8 177.6 34.9 184.1 36.4 190.5C38.0 196.9 38.8 203.3 39.2 210.6C39.6 217.9 39.4 226.2 38.8 234.4C38.2 242.7 36.8 251.5 35.5 260.1C34.2 268.6 31.7 281.4 31.0 285.7M0.0 173.1C0.6 174.8 2.4 179.0 3.5 183.2C4.6 187.3 5.7 191.7 6.6 197.8C7.4 203.9 8.4 212.5 8.6 219.8C8.9 227.1 8.7 236.5 8.1 241.8C7.4 247.0 5.3 249.7 4.8 251.3M176.6 188.6C178.1 189.1 183.4 188.3 185.7 191.4C188.0 194.4 189.3 201.3 190.3 207.0C191.3 212.6 191.7 219.2 191.6 225.3C191.4 231.4 190.8 238.4 189.4 243.6C187.9 248.8 185.7 254.9 183.0 256.4C180.2 257.9 176.6 253.7 172.9 252.7C169.2 251.8 163.0 251.2 161.0 250.9M178.4 189.6C177.5 191.8 175.0 198.9 172.9 203.3C170.8 207.7 168.3 212.1 165.6 216.1C162.8 220.1 157.9 225.3 156.4 227.1M182.1 203.3C183.0 205.1 186.6 209.7 187.5 214.3C188.5 218.9 188.7 225.6 187.9 230.8C187.1 236.0 184.9 242.1 183.0 245.4C181.1 248.8 178.5 251.5 176.6 250.9C174.6 250.3 172.1 245.7 171.1 241.8C170.0 237.8 169.5 232.0 170.1 227.1C170.8 222.2 172.7 216.4 174.7 212.5C176.7 208.5 180.8 204.8 182.1 203.3M183.0 256.4C182.5 257.6 181.9 263.1 180.2 263.7C178.5 264.3 176.1 262.2 172.9 260.1C169.7 257.9 163.0 252.4 161.0 250.9M179.3 283.0L161.0 274.7M147.3 297.1L145.4 315.9M171.1 228.9L157.3 236.3"/>
<radialGradient id="gg" cx="0" cy="110" r="200" gradientUnits="userSpaceOnUse" gradientTransform="scale(1 1.5)"><stop offset="0.5" stop-color="#5a5a5a"/><stop offset="0.8" stop-color="#6a6a6a"/><stop offset="0.9" stop-color="#828282"/><stop offset="0.955" stop-color="#a6a6a6"/><stop offset="1" stop-color="#8c8c8c"/></radialGradient>
<linearGradient id="fg" x1="0" x2="1" y1="0" y2="0"><stop offset="0" stop-color="#fff"/><stop offset="0.25" stop-color="#fff"/><stop offset="0.62" stop-color="#e6e9e9"/><stop offset="1" stop-color="#dde1e1"/></linearGradient>
<linearGradient id="cb" x1="0" x2="0" y1="1" y2="0">
<stop offset="0.0000" stop-color="#b5e4da"/>
<stop offset="0.0556" stop-color="#8acdd6"/>
<stop offset="0.1111" stop-color="#5aabd0"/>
<stop offset="0.1667" stop-color="#3b8fd2"/>
<stop offset="0.2222" stop-color="#3a7cd4"/>
<stop offset="0.2500" stop-color="#4369cd"/>
<stop offset="0.2778" stop-color="#4b5bbf"/>
<stop offset="0.3056" stop-color="#4a4fa2"/>
<stop offset="0.3333" stop-color="#464588"/>
<stop offset="0.3889" stop-color="#36345c"/>
<stop offset="0.4444" stop-color="#27253a"/>
<stop offset="0.5000" stop-color="#1e1e1e"/>
<stop offset="0.5556" stop-color="#311e22"/>
<stop offset="0.6111" stop-color="#582633"/>
<stop offset="0.6667" stop-color="#812d43"/>
<stop offset="0.7222" stop-color="#a93046"/>
<stop offset="0.7778" stop-color="#cc3f3f"/>
<stop offset="0.8333" stop-color="#e26233"/>
<stop offset="0.8889" stop-color="#ee8648"/>
<stop offset="0.9444" stop-color="#f5a972"/>
<stop offset="1.0000" stop-color="#fdcfa5"/>
</linearGradient>
</defs>
<text x="5.0" y="65.0" font-family="'Liberation Sans',sans-serif" font-size="72.0" fill="#000" font-weight="bold">a</text>
<text x="3.5" y="481.0" font-family="'Liberation Sans',sans-serif" font-size="73.0" fill="#000" font-weight="bold">b</text>
<text x="5.0" y="929.0" font-family="'Liberation Sans',sans-serif" font-size="72.0" fill="#000" font-weight="bold">c</text>
<text x="3.0" y="1395.0" font-family="'Liberation Sans',sans-serif" font-size="72.0" fill="#000" font-weight="bold">d</text>
<text x="275.7" y="131.0" font-family="'Liberation Sans',sans-serif" font-size="36.5" fill="#555555" text-anchor="middle">Entropy, or membership</text>
<text x="127.5" y="172.5" font-family="'Liberation Sans',sans-serif" font-size="36.5" fill="#555555">diversity of node</text>
<text x="407.0" y="178.0" font-family="'Liberation Serif','DejaVu Serif',serif" font-size="54.0" fill="#f0922b" font-style="italic">i</text>
<rect x="73.5" y="207" width="422" height="163" rx="26" ry="26" fill="url(#fg)" stroke="#9a9a9a" stroke-width="2"/>
<text x="87.0" y="298.0" font-family="'Liberation Serif','DejaVu Serif',serif" font-size="45.0" fill="#000" font-style="italic">h</text>
<text x="112.0" y="305.0" font-family="'Liberation Serif','DejaVu Serif',serif" font-size="31.0" fill="#f0922b" font-weight="bold" font-style="italic">i</text>
<text transform="translate(136.5 301.0) scale(1.3 1)" font-family="'Liberation Serif','DejaVu Serif',serif" font-size="45" fill="#000">=</text>
<text transform="translate(183.5 301.0) scale(1.25 1)" font-family="'Liberation Serif','DejaVu Serif',serif" font-size="45" fill="#000">−</text>
<text transform="translate(221.5 317) scale(1.25 1)" font-family="'Liberation Serif','DejaVu Serif',serif" font-size="89" fill="#000">Σ</text>
<text x="255.0" y="243.5" font-family="'Liberation Serif','DejaVu Serif',serif" font-size="28.0" fill="#000" text-anchor="middle">7</text>
<text x="225.0" y="348.0" font-family="'Liberation Serif','DejaVu Serif',serif" font-size="31.0" fill="#1f77c4" font-weight="bold" font-style="italic">k</text>
<text transform="translate(240.5 348) scale(1.45 1)" font-family="'Liberation Serif','DejaVu Serif',serif" font-size="31" fill="#000">=</text>
<text x="267.0" y="348.0" font-family="'Liberation Serif','DejaVu Serif',serif" font-size="31.0" fill="#000">1</text>
<text x="292.0" y="298.0" font-family="'Liberation Serif','DejaVu Serif',serif" font-size="45.0" fill="#000" font-style="italic">π</text>
<text x="319.0" y="305.0" font-family="'Liberation Serif','DejaVu Serif',serif" font-size="31.0" fill="#f0922b" font-weight="bold" font-style="italic">i</text>
<text x="330.0" y="305.0" font-family="'Liberation Serif','DejaVu Serif',serif" font-size="31.0" fill="#1f77c4" font-weight="bold" font-style="italic">k</text>
<text x="357.0" y="298.0" font-family="'Liberation Serif','DejaVu Serif',serif" font-size="45.0" fill="#000">log</text>
<text x="422.0" y="298.0" font-family="'Liberation Serif','DejaVu Serif',serif" font-size="45.0" fill="#000" font-style="italic">π</text>
<text x="447.0" y="305.0" font-family="'Liberation Serif','DejaVu Serif',serif" font-size="31.0" fill="#f0922b" font-weight="bold" font-style="italic">i</text>
<text x="458.0" y="305.0" font-family="'Liberation Serif','DejaVu Serif',serif" font-size="31.0" fill="#1f77c4" font-weight="bold" font-style="italic">k</text>
<rect x="738.4" y="257.5" width="442.4" height="135.7" fill="#f2f2f2" stroke="#000" stroke-width="1"/>
<path d="M675.2 211.5L738.4 344.3L770.0 336.8L801.6 327.9L833.2 318.6L864.8 305.0L896.4 269.0L928.0 262.7L959.6 308.1L991.2 310.3L1022.8 312.1L1054.4 334.5L1086.0 356.6L1117.6 367.6L1149.2 380.0L1180.8 387.1L1212.4 389.5L1244.0 390.6L1275.6 390.6L1307.2 392.2L1307.2 393.2L1275.6 392.7L1244.0 392.7L1212.4 391.6L1180.8 391.3L1149.2 387.4L1117.6 380.1L1086.0 372.2L1054.4 350.2L1022.8 328.8L991.2 324.9L959.6 321.7L928.0 275.2L896.4 283.6L864.8 315.4L833.2 327.9L801.6 337.3L770.0 347.3L738.4 355.8L675.2 267.9Z" fill="#e63b44" fill-opacity="0.50"/><path d="M675.2 25.7L738.4 353.0L770.0 348.3L801.6 341.4L833.2 330.9L864.8 313.3L896.4 271.1L928.0 274.6L959.6 335.3L991.2 339.6L1022.8 343.5L1054.4 359.6L1086.0 379.2L1117.6 383.8L1149.2 387.0L1180.8 391.7L1212.4 391.1L1244.0 392.7L1275.6 391.6L1307.2 392.7L1307.2 393.7L1275.6 392.7L1244.0 393.7L1212.4 393.2L1180.8 393.8L1149.2 390.2L1117.6 388.0L1086.0 384.4L1054.4 365.8L1022.8 351.9L991.2 348.0L959.6 344.7L928.0 285.0L896.4 283.6L864.8 322.7L833.2 337.1L801.6 347.7L770.0 354.6L738.4 360.3L675.2 67.5Z" fill="#2d9bb2" fill-opacity="0.50"/><path d="M675.2 64.3L738.4 355.3L770.0 348.7L801.6 338.9L833.2 326.4L864.8 310.7L896.4 276.3L928.0 275.6L959.6 322.0L991.2 328.8L1022.8 333.7L1054.4 351.4L1086.0 369.9L1117.6 377.7L1149.2 384.4L1180.8 388.8L1212.4 389.5L1244.0 390.1L1275.6 389.0L1307.2 391.6L1307.2 393.7L1275.6 392.2L1244.0 393.2L1212.4 392.7L1180.8 391.9L1149.2 388.6L1117.6 384.0L1086.0 379.3L1054.4 361.9L1022.8 344.1L991.2 339.2L959.6 333.5L928.0 294.4L896.4 295.1L864.8 321.2L833.2 336.8L801.6 351.4L770.0 361.3L738.4 367.8L675.2 110.3Z" fill="#bcbd22" fill-opacity="0.50"/><path d="M675.2 239.7L738.4 350.1L770.0 342.0L801.6 332.6L833.2 323.3L864.8 310.2L896.4 276.3L928.0 269.0L959.6 314.9L991.2 317.6L1022.8 320.4L1054.4 342.4L1086.0 364.4L1117.6 373.9L1149.2 383.7L1180.8 389.2L1212.4 390.6L1244.0 391.6L1275.6 391.6L1307.2 392.7" fill="none" stroke="#e63b44" stroke-width="3.6" stroke-linejoin="round" stroke-linecap="round"/><path d="M675.2 46.6L738.4 356.7L770.0 351.4L801.6 344.5L833.2 334.0L864.8 318.0L896.4 277.3L928.0 279.8L959.6 340.0L991.2 343.8L1022.8 347.7L1054.4 362.7L1086.0 381.8L1117.6 385.9L1149.2 388.6L1180.8 392.8L1212.4 392.2L1244.0 393.2L1275.6 392.2L1307.2 393.2" fill="none" stroke="#2d9bb2" stroke-width="3.6" stroke-linejoin="round" stroke-linecap="round"/><path d="M675.2 87.3L738.4 361.6L770.0 355.0L801.6 345.2L833.2 331.6L864.8 315.9L896.4 285.7L928.0 285.0L959.6 327.7L991.2 334.0L1022.8 338.9L1054.4 356.7L1086.0 374.6L1117.6 380.9L1149.2 386.5L1180.8 390.4L1212.4 391.1L1244.0 391.6L1275.6 390.6L1307.2 392.7" fill="none" stroke="#bcbd22" stroke-width="3.6" stroke-linejoin="round" stroke-linecap="round"/>
<rect x="644.5" y="8.5" width="694.0" height="403.0" fill="none" stroke="#262626" stroke-width="1.6"/>
<text x="676.0" y="435.6" font-family="'DejaVu Sans','Liberation Sans',sans-serif" font-size="23.5" fill="#262626" text-anchor="middle" letter-spacing="1.3">0.0</text>
<text x="802.4" y="435.6" font-family="'DejaVu Sans','Liberation Sans',sans-serif" font-size="23.5" fill="#262626" text-anchor="middle" letter-spacing="1.3">0.2</text>
<text x="928.8" y="435.6" font-family="'DejaVu Sans','Liberation Sans',sans-serif" font-size="23.5" fill="#262626" text-anchor="middle" letter-spacing="1.3">0.4</text>
<text x="1055.2" y="435.6" font-family="'DejaVu Sans','Liberation Sans',sans-serif" font-size="23.5" fill="#262626" text-anchor="middle" letter-spacing="1.3">0.6</text>
<text x="1181.6" y="435.6" font-family="'DejaVu Sans','Liberation Sans',sans-serif" font-size="23.5" fill="#262626" text-anchor="middle" letter-spacing="1.3">0.8</text>
<text x="1308.0" y="435.6" font-family="'DejaVu Sans','Liberation Sans',sans-serif" font-size="23.5" fill="#262626" text-anchor="middle" letter-spacing="1.3">1.0</text>
<text x="638.5" y="401.8" font-family="'DejaVu Sans','Liberation Sans',sans-serif" font-size="23.5" fill="#262626" text-anchor="end">0</text>
<text x="638.5" y="297.4" font-family="'DejaVu Sans','Liberation Sans',sans-serif" font-size="23.5" fill="#262626" text-anchor="end">10</text>
<text x="638.5" y="193.0" font-family="'DejaVu Sans','Liberation Sans',sans-serif" font-size="23.5" fill="#262626" text-anchor="end">20</text>
<text x="638.5" y="88.6" font-family="'DejaVu Sans','Liberation Sans',sans-serif" font-size="23.5" fill="#262626" text-anchor="end">30</text>
<path d="M675.2 411.5v-6M801.6 411.5v-6M928.0 411.5v-6M1054.4 411.5v-6M1180.8 411.5v-6M1307.2 411.5v-6M644.5 393.2h6M644.5 288.8h6M644.5 184.4h6M644.5 80.0h6" stroke="#262626" stroke-width="1.4" fill="none"/>
<text x="998.6" y="468.6" font-family="'Liberation Sans',sans-serif" font-size="34.0" fill="#555555" text-anchor="middle">Entropy</text>
<text transform="translate(598.6 214.3) rotate(-90) scale(0.9 1)" font-family="'DejaVu Sans','Liberation Sans',sans-serif" font-size="33.1" fill="#555555" text-anchor="middle">Proportion [%]</text>
<text x="1214.0" y="465.0" font-family="'DejaVu Sans','Liberation Sans',sans-serif" font-size="19.5" fill="#262626" word-spacing="-3" letter-spacing="0.4">× log(7)</text>
<rect x="783.2" y="14.2" width="548.6" height="215.6" fill="#f4f4f4"/>
<path d="M807.9 14.2V229.8M879.1 14.2V229.8M950.3 14.2V229.8M1021.5 14.2V229.8M1092.7 14.2V229.8M1163.9 14.2V229.8M1235.1 14.2V229.8M1306.3 14.2V229.8M783.2 146.8H1331.8M783.2 63.8H1331.8" stroke="#c4c4c4" stroke-width="1.5" stroke-dasharray="1.6 4.4" fill="none"/>
<clipPath id="iclip"><rect x="783.2" y="14.2" width="548.6" height="215.6"/></clipPath>
<g clip-path="url(#iclip)"><path d="M807.9 152.1L843.5 140.2L879.1 126.0L914.7 111.1L950.3 89.5L985.9 32.3L1021.5 22.3L1057.1 94.5L1092.7 98.0L1128.3 100.8L1163.9 136.5L1199.5 171.5L1235.1 189.1L1270.7 208.9L1306.3 220.2L1306.3 226.8L1270.7 220.5L1235.1 209.1L1199.5 196.4L1163.9 161.4L1128.3 127.4L1092.7 121.2L1057.1 116.1L1021.5 42.2L985.9 55.5L950.3 106.1L914.7 126.0L879.1 141.0L843.5 156.8L807.9 170.4Z" fill="#e63b44" fill-opacity="0.50"/><path d="M807.9 165.9L843.5 158.4L879.1 147.5L914.7 130.7L950.3 102.8L985.9 35.6L1021.5 41.2L1057.1 137.7L1092.7 144.6L1128.3 150.8L1163.9 176.3L1199.5 207.6L1235.1 214.9L1270.7 220.0L1306.3 227.5L1306.3 230.8L1270.7 225.0L1235.1 221.5L1199.5 215.9L1163.9 186.3L1128.3 164.1L1092.7 157.9L1057.1 152.6L1021.5 57.8L985.9 55.5L950.3 117.8L914.7 140.7L879.1 157.4L843.5 168.4L807.9 177.5Z" fill="#2d9bb2" fill-opacity="0.50"/><path d="M807.9 169.5L843.5 159.1L879.1 143.5L914.7 123.6L950.3 98.7L985.9 43.9L1021.5 42.9L1057.1 116.6L1092.7 127.4L1128.3 135.2L1163.9 163.4L1199.5 192.8L1235.1 205.2L1270.7 215.9L1306.3 222.8L1306.3 227.8L1270.7 222.5L1235.1 215.2L1199.5 207.7L1163.9 180.0L1128.3 151.8L1092.7 144.0L1057.1 134.8L1021.5 72.8L985.9 73.8L950.3 115.3L914.7 140.2L879.1 163.4L843.5 179.0L807.9 189.5Z" fill="#bcbd22" fill-opacity="0.50"/><path d="M807.9 161.2L843.5 148.5L879.1 133.5L914.7 118.6L950.3 97.8L985.9 43.9L1021.5 32.3L1057.1 105.3L1092.7 109.6L1128.3 114.1L1163.9 149.0L1199.5 184.0L1235.1 199.1L1270.7 214.7L1306.3 223.5" fill="none" stroke="#e63b44" stroke-width="4.6" stroke-linejoin="round" stroke-linecap="round"/><path d="M807.9 171.7L843.5 163.4L879.1 152.4L914.7 135.7L950.3 110.3L985.9 45.5L1021.5 49.5L1057.1 145.1L1092.7 151.3L1128.3 157.4L1163.9 181.3L1199.5 211.7L1235.1 218.2L1270.7 222.5L1306.3 229.1" fill="none" stroke="#2d9bb2" stroke-width="4.6" stroke-linejoin="round" stroke-linecap="round"/><path d="M807.9 179.5L843.5 169.0L879.1 153.4L914.7 131.9L950.3 107.0L985.9 58.8L1021.5 57.8L1057.1 125.7L1092.7 135.7L1128.3 143.5L1163.9 171.7L1199.5 200.3L1235.1 210.2L1270.7 219.2L1306.3 225.3" fill="none" stroke="#bcbd22" stroke-width="4.6" stroke-linejoin="round" stroke-linecap="round"/></g>
<path d="M990.3 19.0V229.8" stroke="#555" stroke-width="1.8" stroke-dasharray="7 3.5" fill="none"/>
<text transform="translate(997.8 83) rotate(90)" font-family="'DejaVu Sans','Liberation Sans',sans-serif" font-size="17" fill="#666">log(2)</text>
<rect x="783.2" y="14.2" width="548.6" height="215.6" fill="none" stroke="#262626" stroke-width="1.6"/>
<text x="808.5" y="249.8" font-family="'DejaVu Sans','Liberation Sans',sans-serif" font-size="17.3" fill="#262626" text-anchor="middle" letter-spacing="1.2">0.1</text>
<text x="879.7" y="249.8" font-family="'DejaVu Sans','Liberation Sans',sans-serif" font-size="17.3" fill="#262626" text-anchor="middle" letter-spacing="1.2">0.2</text>
<text x="950.9" y="249.8" font-family="'DejaVu Sans','Liberation Sans',sans-serif" font-size="17.3" fill="#262626" text-anchor="middle" letter-spacing="1.2">0.3</text>
<text x="1022.1" y="249.8" font-family="'DejaVu Sans','Liberation Sans',sans-serif" font-size="17.3" fill="#262626" text-anchor="middle" letter-spacing="1.2">0.4</text>
<text x="1093.3" y="249.8" font-family="'DejaVu Sans','Liberation Sans',sans-serif" font-size="17.3" fill="#262626" text-anchor="middle" letter-spacing="1.2">0.5</text>
<text x="1164.5" y="249.8" font-family="'DejaVu Sans','Liberation Sans',sans-serif" font-size="17.3" fill="#262626" text-anchor="middle" letter-spacing="1.2">0.6</text>
<text x="1235.7" y="249.8" font-family="'DejaVu Sans','Liberation Sans',sans-serif" font-size="17.3" fill="#262626" text-anchor="middle" letter-spacing="1.2">0.7</text>
<text x="1306.9" y="249.8" font-family="'DejaVu Sans','Liberation Sans',sans-serif" font-size="17.3" fill="#262626" text-anchor="middle" letter-spacing="1.2">0.8</text>
<text x="777.0" y="236.2" font-family="'DejaVu Sans','Liberation Sans',sans-serif" font-size="17.3" fill="#262626" text-anchor="end">0</text>
<text x="777.0" y="153.2" font-family="'DejaVu Sans','Liberation Sans',sans-serif" font-size="17.3" fill="#262626" text-anchor="end">5</text>
<text x="777.0" y="70.2" font-family="'DejaVu Sans','Liberation Sans',sans-serif" font-size="17.3" fill="#262626" text-anchor="end">10</text>
<path d="M807.9 229.8v-5M879.1 229.8v-5M950.3 229.8v-5M1021.5 229.8v-5M1092.7 229.8v-5M1163.9 229.8v-5M1235.1 229.8v-5M1306.3 229.8v-5M783.2 229.8h5M783.2 146.8h5M783.2 63.8h5" stroke="#262626" stroke-width="1.3" fill="none"/>
<rect x="1177" y="25.5" width="143.5" height="116" rx="4" ry="4" fill="#fff" fill-opacity="0.85" stroke="#cccccc" stroke-width="2"/>
<path d="M1185.5 43.4H1230.5" stroke="#e63b44" stroke-width="4.6" stroke-linecap="round"/>
<path d="M1185.5 79.4H1230.5" stroke="#2d9bb2" stroke-width="4.6" stroke-linecap="round"/>
<path d="M1185.5 118.3H1230.5" stroke="#bcbd22" stroke-width="4.6" stroke-linecap="round"/>
<text x="1248.0" y="51.2" font-family="'DejaVu Sans','Liberation Sans',sans-serif" font-size="21.3" fill="#262626">BOLD</text>
<text x="1248.0" y="87.5" font-family="'DejaVu Sans','Liberation Sans',sans-serif" font-size="21.3" fill="#262626">Ca</text><text x="1277.9" y="79.0" font-family="'DejaVu Sans','Liberation Sans',sans-serif" font-size="14.9" fill="#262626">2+</text><text x="1276.9" y="92.2" font-family="'DejaVu Sans','Liberation Sans',sans-serif" font-size="14.9" fill="#262626" font-style="italic">slow</text>
<text x="1248.0" y="126.5" font-family="'DejaVu Sans','Liberation Sans',sans-serif" font-size="21.3" fill="#262626">Ca</text><text x="1277.9" y="118.0" font-family="'DejaVu Sans','Liberation Sans',sans-serif" font-size="14.9" fill="#262626">2+</text><text x="1276.9" y="131.2" font-family="'DejaVu Sans','Liberation Sans',sans-serif" font-size="14.9" fill="#262626" font-style="italic">fast</text>
<text x="0.0" y="525.0" font-family="'Liberation Sans',sans-serif" font-size="22.8" fill="#555555">Entropy rank</text>
<rect x="47.2" y="548.5" width="54.3" height="248.5" fill="url(#cb)" stroke="#000" stroke-width="1.2"/>
<text x="40.5" y="803.9" font-family="'DejaVu Sans','Liberation Sans',sans-serif" font-size="18.8" fill="#262626" text-anchor="end" letter-spacing="1">0.0</text>
<text x="40.5" y="748.6" font-family="'DejaVu Sans','Liberation Sans',sans-serif" font-size="18.8" fill="#262626" text-anchor="end" letter-spacing="1">0.2</text>
<text x="40.5" y="693.3" font-family="'DejaVu Sans','Liberation Sans',sans-serif" font-size="18.8" fill="#262626" text-anchor="end" letter-spacing="1">0.4</text>
<text x="40.5" y="638.0" font-family="'DejaVu Sans','Liberation Sans',sans-serif" font-size="18.8" fill="#262626" text-anchor="end" letter-spacing="1">0.6</text>
<text x="40.5" y="582.7" font-family="'DejaVu Sans','Liberation Sans',sans-serif" font-size="18.8" fill="#262626" text-anchor="end" letter-spacing="1">0.8</text>
<path d="M47 797.0h-5M47 741.7h-5M47 686.4h-5M47 631.1h-5M47 575.8h-5" stroke="#000" stroke-width="1.2" fill="none"/>
<text x="51.5" y="825.5" font-family="'DejaVu Sans','Liberation Sans',sans-serif" font-size="14.5" fill="#262626" word-spacing="-2">× 542</text>
<g transform="translate(339.0 523.5)"><use href="#bo" fill="url(#gg)"/><g clip-path="url(#dclip)"><g transform="scale(0.5)" stroke-width="1.2" stroke-linejoin="round"><path fill="#27253a" stroke="#27253a" d="M-132 6l-2-15l-6-3l-12 6l-1 9l10 15l1 0zM-128 28l-14-10l10-12l14 0l2 19zM100 9l5 9l-13 9l-9-4l0-15l2-1zM110-2l16 8l-5 15l-6 3l-10-6l-5-9zM209 57l-1-7l17-8l8 3l1 14l-12 6zM-210 89l-11-7l4-14l12-4l8 3l-2 15zM-176 70l-9-6l-12 3l-2 15l15 6zM35 61l16 4l-1 15l-16 10l-9-10l0-8zM50 80l9 4l9-4l4-17l-15-3l-6 5zM209 57l-8 12l1 11l7 3l10-4l3-14zM-218 109l-13-11l-11 7l1 9l13 6l8-4zM-9 119l-19 0l5-18l10-1l8 11l-1 5zM14 125l9-9l0-10l-15-5l-13 10l-1 5zM248 219l-14-7l-1-8l11-13l17 7l-2 13zM272 235l6 2l6-4l5-12l-10-7l-11 2zM-316 242l-2 6l7 7l18-5l-1-14l-9-3zM310 268l-10 7l-12-7l2-11l10-5l11 5zM287 296l12-5l1-16l-12-7l-8 6l2 19zM336 296l5-4l-1-16l-6-4l-15 5l-3 15zM336 296l-20-4l-4 3l1 16l5 3l15-4zM336 296l5-4l11 5l3 12l-13 15l-9-14zM318 314l3 11l-12 10l-12-12l1-4l15-8zM-268 464l0 19l-12 2l-11-12l0-3l7-9zM-235 481l-6 17l-8 3l-11-6l-4-10l13-8zM-252 519l3-18l-11-6l-12 11l-1 14l6 3zM-228 519l0-12l-13-9l-8 3l-3 18l12 8zM47 498l7 4l1 18l-10 4l-13-10l-2-7zM54 502l1 18l10 4l12-12l0-8l-8-7zM164 511l-8-11l-11 1l0 22l7 1l11-8zM242 529l-14-7l5-18l14 0l7 5l1 2zM-320 545l14-15l0-3l-9-10l-14 7l1 15zM-222 522l-6-3l-12 8l0 10l8 6l15-3zM-151 527l0 11l-15 6l-8-7l1-14l9-3zM-66 539l-3-16l17-6l7 8l-3 14l-2 3zM22 526l10-12l13 10l-3 13l-7 4l-12-3zM101 519l-9 4l-3 12l14 8l13-6l-2-14zM324 517l-11 13l3 12l20-6l-3-19zM-145 543l0 11l-7 5l-14-4l0-11l15-6zM-322 559l-3 17l7 5l14-5l-4-17l-10-4zM-286 564l-14-8l-8 3l4 17l8 6l8-3zM-94 560l5 3l7 11l-20 9l-4-4l5-17zM322 585l-18-9l1-7l20-9l6 4l1 11zM-302 597l-16-8l0-8l14-5l8 6l-5 14zM-301 596l5-14l8-3l12 5l0 4l-7 18l-2 0zM-102 597l2-1l-2-13l-4-4l-19 0l4 12zM-102 597l-19-6l-7 18l1 0l8 7l11-6zM302 600l-8-5l-6 2l-4 20l14 3l8-6zM-220 652l0-15l-6-6l-17 6l2 12l16 6z"/><path fill="#36345c" stroke="#36345c" d="M-109-6l-7-8l-18 5l2 15l14 0l9-9zM-8-17l17 5l-2 15l-19 6l-7-6l0-5zM47 30l12-4l12 8l-16 18l-11-11zM-87 67l12-13l0-3l-14-8l-9 4l3 16zM-87 67l12-13l12 15l-1 6l-13 6l-6-2zM-18 79l10 7l8-1l3-20l-12-5l-9 10zM12 62l-9 3l-3 20l3 1l22-6l0-8zM271 117l-17 8l-9-14l0-3l10-10l17 7zM228 158l5 2l11-7l3-16l-16-3l-7 10zM263 179l-1 17l-1 2l-17-7l-4-13l0-1l14-4zM284 233l15 7l11-9l-1-5l-11-9l-9 4zM310 268l9 9l15-5l-5-16l-7-5l-11 6zM-287 541l7-19l7-2l6 3l3 16l-14 7zM-253 547l-11-8l-14 7l2 13l11 6l11-12zM-66 539l16 3l1 11l-15 8l-8-8l1-9zM123 554l-3-14l-4-3l-13 6l-2 14l12 6zM168 559l0-14l-9-4l-15 8l-3 7l19 6zM213 544l-12-8l-14 6l5 16l8 5l11-8zM316 542l-16 8l-1 1l6 18l20-9zM-264 573l-12 11l-12-5l2-15l10-5l11 6zM-257 600l-19-12l0-4l12-11l9 6l3 17zM-128 609l-15-11l6-19l7-3l5 3l4 12zM137 597l8-5l0-12l-7-8l-17 7l1 12zM170 582l-3 11l-11 5l-11-6l0-12l10-4zM176 577l16 6l0 12l-9 9l-16-11l3-11zM-236 612l-14 9l-11-10l4-11l5-4l14 2zM-128 609l-15-11l-11 4l-1 14l9 4l19-11zM133 612l16 5l8-6l-1-13l-11-6l-8 5zM165 616l17-8l1-4l-16-11l-11 5l1 13zM278 592l10 5l-4 20l-6 4l-12-8l0-12zM-215 613l12 4l1 16l-18 4l-6-6l1-12zM-199 649l-10 7l-11-4l0-15l18-4l5 5zM223 642l-13-9l-11 9l0 13l10 8l13-14z"/><path fill="#464588" stroke="#464588" d="M-109-6l15-10l13 6l-2 13l-13 6l-13-12zM13 8l-6-5l2-15l4-4l16 5l-1 16zM-111 27l-5-2l-2-19l9-9l13 12l-2 11zM-9 21l-10 13l-13-10l2-15l11-6l7 6zM36 21l11 9l12-4l2-20l-16-1l-9 6zM-56 63l2-13l16-2l4 2l0 11l-6 7zM-18 70l9-10l-2-12l-7-5l-16 7l0 11zM32 48l12-7l11 11l2 8l-6 5l-16-4zM271 117l-17 8l-1 8l14 9l12-5l-1-13zM265 154l2-12l-14-9l-6 4l-3 16l13 6zM-276 200l17-7l-2-12l-13-7l-9 8l-1 9zM277 172l12 7l-1 14l-6 3l-20 0l1-17zM-307 218l4 15l-13 9l-11-19l1-2l9-6zM-327 223l-13 12l3 17l2 1l17-5l2-6zM329 234l17 3l0 14l-17 5l-7-5l1-13zM-240 537l0-10l-12-8l-15 4l3 16l11 8zM-231 556l-1-13l15-3l6 3l-1 12l-3 3zM264 539l-8 2l-8 17l17 4l7-7l-2-11zM-238 565l-16-12l-11 12l1 8l9 6l19-7zM-174 565l8-10l14 4l1 17l-9 3l-13-5zM88 577l1-16l-9-9l-16 4l1 18l15 5zM176 577l16 6l9-8l-1-12l-8-5l-18 7zM211 555l-11 8l1 12l11 5l10-4l2-11zM301 578l-17-6l-1-10l16-11l6 18l-1 7zM-217 598l11-5l5-14l-15-6l-13 6l-1 12zM-201 579l-5 14l11 13l14-11l-1-12l-18-4zM192 595l0-12l9-8l11 5l4 17l-19 1zM255 580l-10-3l-10 8l-2 10l12 7l11-6zM-215 613l12 4l6-5l2-6l-11-13l-11 5zM-181 595l5 5l2 15l-6 6l-17-9l2-6zM-155 616l-4 2l-15-3l-2-15l18-2l4 4zM266 601l0 12l-12 5l-8-2l-1-14l11-6zM236 637l-1-15l11-6l8 2l3 17l-14 6z"/><path fill="#4a4fa2" stroke="#4a4fa2" d="M-81-10l2-1l16 1l1 18l-13 1l-8-6zM-34-18l-12 9l2 15l14 3l11-6l0-5zM-98 20l2-11l13-6l8 6l-2 18l-9 3zM-44 6l-10 6l0 13l12 5l10-6l2-15zM-276 140l0-1l5-17l11-2l8 3l1 12l-6 6zM-275 162l20-5l-2-16l-19-1l-3 17zM-296 213l-11 5l-10-3l0-19l8-6l11 6zM-296 213l-2-17l14-5l8 9l-1 10l-8 7zM309 226l14-17l9 8l-3 17l-6 4l-13-7zM-238 565l-16-12l1-6l13-10l8 6l1 13zM270 544l2 11l11 7l16-11l1-1l-13-12zM-216 573l15 6l1 0l4-17l-16-7l-3 3zM-200 579l4-17l8-6l14 9l1 9l-9 9zM88 577l9 6l16-9l0-11l-12-6l-12 4zM137 560l-14-6l-10 9l0 11l8 5l17-7zM255 580l-10-3l-3-16l6-3l17 4l-1 15zM122 591l-1-12l-8-5l-16 9l2 10l11 8zM278 592l-12 9l-10-5l-1-16l9-3l10 4zM246 616l-11 6l-15-8l2-12l11-7l12 7z"/><path fill="#4369cd" stroke="#4369cd" d="M-58-14l12 5l2 15l-10 6l-8-4l-1-18zM-63 32l0 11l9 7l16-2l-4-18l-12-5zM-282 105l0 6l11 11l11-2l-1-16l-14-5zM297 173l9-17l-4-13l-1-1l-10 1l-5 10zM-298 196l-11-6l0-5l13-10l13 7l-1 9zM301 203l-3 14l11 9l14-17l-3-7l-5-3z"/><path fill="#3e3c72" stroke="#3e3c72" d="M36 11l9-6l-2-17l-8-3l-6 4l-1 16zM45 5l-2-17l14-4l8 8l0 10l-4 4zM13 25l-7 4l-15-8l-3-12l19-6l6 5zM13 25l0-17l15-3l8 6l0 10l-13 7zM-111 27l4 19l9 1l9-4l3-13l-12-10zM6 29l-2 12l-15 7l-7-5l-1-9l10-13zM13 25l-7 4l-2 12l10 9l11-5l-2-17zM23 28l2 17l7 3l12-7l3-11l-11-9zM-63 69l7-6l2-13l-9-7l-12 8l0 3zM14 50l-10-9l-15 7l2 12l12 5l9-3zM-64 75l11 8l12-1l1-14l-16-5l-7 6zM-41 82l8 6l15-9l0-9l-16-9l-6 7zM256 85l-1 13l-10 10l-13-7l0-16l9-7zM-241 114l-1-9l-7-7l-12 6l1 16l8 3zM-275 162l1 12l13 7l12-9l-1-12l-5-3zM277 172l-14 7l-9-6l3-14l8-5l11 10zM310 231l13 7l-1 13l-11 6l-11-5l-1-12zM340 276l15-9l0-8l-9-8l-17 5l5 16zM125 514l16 10l-5 11l-16 5l-4-3l-2-14zM-211 543l12-5l9 6l2 12l-8 6l-16-7zM-188 556l14 9l8-10l0-11l-8-7l-16 7zM89 561l12-4l2-14l-14-8l-6 5l-3 12zM137 560l4-4l3-7l-8-14l-16 5l3 14zM168 559l0-14l10-7l9 4l5 16l-18 7zM213 544l-2 11l13 10l14-6l-6-14l-14-4zM243 534l-11 11l6 14l4 2l6-3l8-17zM-72 553l-17 10l7 11l6 5l10-4l2-14zM137 560l4-4l19 6l-5 14l-10 4l-7-8zM176 577l-2-12l-6-6l-8 3l-5 14l15 6zM238 559l4 2l3 16l-10 8l-13-9l2-11zM-238 598l-14-2l-3-17l19-7l7 7l-1 12zM-182 583l9-9l13 5l2 19l-18 2l-5-5zM-154 602l-4-4l-2-19l9-3l14 3l-6 19zM233 595l-11 7l-6-5l-4-17l10-4l13 9zM278 592l10 5l6-2l7-17l-17-6l-10 9zM-215 613l-2-15l-13-7l-8 7l2 14l11 7zM126 617l-12-3l-4-13l12-10l15 6l-4 15zM182 608l1-4l9-9l5 3l11 21l-20 0zM197 598l19-1l6 5l-2 12l-10 7l-2-2zM182 633l17 9l11-9l0-12l-2-2l-20 0zM236 637l-1-15l-15-8l-10 7l0 12l13 9z"/><path fill="#2e2c4b" stroke="#2e2c4b" d="M90-11l-12-6l-13 9l0 10l18 6l2-1zM83 23l-12 11l-12-8l2-20l4-4l18 6zM-174 42l0-15l-11-4l-13 11l0 6l11 6zM-217 68l-11-13l0-4l7-8l17 1l-1 20zM32 48l3 13l-10 11l-13-10l2-12l11-5zM55 52l16-18l10 15l-3 12l-6 2l-15-3zM-227 84l6-2l4-14l-11-13l-12 11l4 14zM222 65l12-6l6 5l1 14l-9 7l-13-6zM-227 84l-4 14l-11 7l-7-7l-1-11l14-7zM-208 100l-10 9l-13-11l4-14l6-2l11 7zM-33 88l15-9l10 7l-5 14l-10 1l-10-9zM34 90l0 4l-11 12l-15-5l-5-15l22-6zM209 83l4 17l7 5l12-4l0-16l-13-6zM220 105l-2 15l10 7l17-16l0-3l-13-7zM-236 140l7-3l1-17l-13-6l-11 9l1 12zM253 133l1-8l-9-14l-17 16l3 7l16 3zM-255 157l5 3l12-5l2-15l-15-5l-6 6zM-277 210l17 8l7-5l2-14l-8-6l-17 7zM268 216l11-2l3-18l-20 0l-1 2l-2 13zM288 193l13 10l-3 14l-9 4l-10-7l3-18zM-296 213l-11 5l4 15l9 3l9-7l0-12zM284 233l15 7l1 12l-10 5l-11-8l-1-12zM-268 483l4 2l4 10l-12 11l-14-10l6-11zM-280 522l7-2l1-14l-14-10l-9 4l6 18zM-206 503l1 17l-17 2l-6-3l0-12l12-7zM100 503l-12-4l-11 5l0 8l15 11l9-4zM100 503l1 16l13 4l11-9l0-8l-17-10zM-292 543l-14-13l0-3l17-9l9 4l-7 19zM-211 543l-6-3l-5-18l17-2l6 5l0 13zM-89 539l18 5l5-5l-3-16l-8-4l-12 3l-2 4zM57 546l-15-9l3-13l10-4l10 4l2 6zM67 530l-2-6l12-12l15 11l-3 12l-6 5zM159 541l-15 8l-8-14l5-11l4-1l7 1zM178 524l0 14l-10 7l-9-4l-7-17l11-8zM189 516l12 5l0 15l-14 6l-9-4l0-14zM242 529l-14-7l-6 2l-4 17l14 4l11-11zM264 539l2-20l8-1l15 9l-2 11l-17 6zM287 538l13 12l16-8l-3-12l-13-11l-11 8zM-318 555l10 4l8-3l8-13l-14-13l-14 15zM-276 559l-2-13l-9-5l-5 2l-8 13l14 8zM-94 546l0 14l5 3l17-10l1-9l-18-5zM80 552l3-12l-16-10l-10 16l2 7l5 3zM-152 559l7-5l17 11l-2 11l-7 3l-14-3zM-101 562l-5 17l-19 0l-5-3l2-11l7-8zM302 600l-8-5l7-17l3-2l18 9l0 8zM-261 611l-12 4l-10-9l7-18l19 12zM-261 611l-12 4l-4 18l14 5l14-5l-1-12zM-225 619l-1 12l-17 6l-6-4l-1-12l14-9zM-197 638l-5-5l-1-16l6-5l17 9l-1 14zM-178 637l17-5l2-14l-15-3l-6 6l-1 14zM-155 616l-4 2l-2 14l11 10l10-8l-6-14zM165 616l2 14l-13 4l-5-3l0-14l8-6zM165 616l17-8l6 11l-6 14l-6 3l-9-6zM266 613l12 8l-2 11l-11 6l-8-3l-3-17z"/><path fill="#22212c" stroke="#22212c" d="M108-9l-12-5l-6 3l-5 18l15 2l10-11zM108-9l10-11l15 13l-4 12l-3 1l-16-8zM-164 48l11-7l1-14l-15-4l-7 4l0 15zM-128 28l-14-10l-1 0l-9 9l-1 14l10 7l13-8zM83 23l-12 11l10 15l18-6l-7-16zM-185 64l-2-18l-11-6l-6 4l-1 20l8 3zM-176 70l-9-6l-2-18l13-4l10 6l-1 14l-9 7zM-145 68l-20-6l1-14l11-7l10 7l4 16zM-106 69l-12-12l2-5l9-6l9 1l3 16zM186 46l-6 12l21 11l8-12l-1-7l-9-7zM-125 82l-6-15l13-10l12 12l-1 7l-14 8zM202 80l-11 6l-11-6l-2-21l2-1l21 11zM-77 81l3 16l11 5l5-2l5-17l-11-8zM-53 83l-5 17l15 5l10-13l0-4l-8-6zM-8 86l-5 14l8 11l13-10l-5-15l-3-1zM34 90l0 4l12 9l17-3l-4-16l-9-4zM82 95l-13 9l-6-4l-4-16l9-4l13 10zM-208 100l-10 9l-2 7l16 11l9-7l0-14zM220 105l-2 15l-9 5l-12-4l0-14l16-7zM-216 143l-13-6l1-17l8-4l16 11l-1 11zM224 144l7-10l-3-7l-10-7l-9 5l1 15zM201 157l10 9l17-8l-4-14l-14-4l-9 9zM228 158l5 2l7 17l0 1l-13 5l-16-14l0-3zM257 159l-13-6l-11 7l7 17l14-4zM-235 181l-14-9l-12 9l2 12l8 6l10-3zM-285 217l0 12l14 7l9-4l2-14l-17-8zM248 232l0-13l11-8l9 5l4 19l-18 3zM-340 280l-15-5l10-21l8-2l2 1l4 20zM-319 275l9-7l-1-13l-7-7l-17 5l4 20zM316 292l3-15l-9-9l-10 7l-1 16l13 4zM333 310l9 14l-10 8l-11-7l-3-11zM321 349l9-7l2-10l-11-7l-12 10l1 8zM123 469l0 11l12 9l9-8l-3-16l-7-3zM-291 473l11 12l-6 11l-9 4l-6-1l-3-16zM-130 502l-12 5l-8-5l1-15l3-2l14 1zM100 503l-12-4l3-17l10-2l7 8l0 8zM108 496l0-8l15-8l12 9l0 7l-10 10zM163 483l-19-2l-9 8l0 7l10 5l11-1zM171 484l-5-2l-3 1l-7 17l8 11l13-10zM233 504l-4-4l-4-14l4-3l20 2l-2 19zM-323 500l9 6l-1 11l-14 7l-11-5l2-14zM-314 506l-1 11l9 10l17-9l-6-18l-6-1zM-89 522l-9-19l15-7l12 6l-6 17zM5 521l5-14l13-6l7 6l2 7l-10 12zM187 505l2 11l-11 8l-15-8l1-5l13-10zM289 527l11-8l1-11l-18-7l-9 17zM-199 538l0-13l17-9l9 7l-1 14l-16 7zM-128 527l-13-7l-10 7l0 11l6 5l16-5zM-94 546l-17-4l3-14l17-2l2 13zM-45 525l17-4l7 7l1 6l-8 7l-20-2zM264 539l-8 2l-13-7l-1-5l13-18l11 8zM-322 559l-25 1l5-18l14-3l8 6l2 10zM-94 546l0 14l-7 2l-20-5l0-9l10-6zM316 542l20-6l9 4l-1 14l-13 10l-6-4z"/><path fill="#1e1e1e" stroke="#1e1e1e" d="M-143 18l-9 9l-15-4l-2-16l16-4zM-111 27l-5-2l-12 3l-2 12l14 12l9-6zM92 27l7 16l5 1l5-2l6-18l-10-6zM175 29l11-8l16 11l-3 11l-13 3l-10-15zM87 68l-9-7l3-12l18-6l5 1l-2 21zM88 80l-1-12l15-3l8 5l0 11l-5 4zM-184 88l-15-6l-11 7l2 11l13 6l13-8zM-164 95l3-10l-13-16l-2 1l-8 18l2 10l2 1zM209 83l4 17l-16 7l-8-7l2-14l11-6zM-180 99l-2-1l-13 8l0 14l7 3l14-9zM-33 92l10 9l-5 18l-1 1l-11-4l-3-11zM47 117l-1-14l-12-9l-11 12l0 10l11 6zM197 121l-8 6l-16-6l3-17l13-4l8 7zM-20 143l11-5l0-19l-19 0l-1 1l-1 19zM3 143l-12-5l0-19l3-3l20 9l-1 14zM-35 162l18-2l8 7l-12 11l-16-6zM-44 178l4 12l15 7l4-2l0-17l-16-6zM-290 271l2-17l-5-4l-18 5l1 13l15 7zM288 268l-8 6l-10-4l-1-14l10-7l11 8zM-330 311l-5 3l-19-8l0-3l15-16l11 11zM287 296l12-5l13 4l1 16l-15 8l-10-12zM288 307l10 12l-1 4l-11 9l-8-3l-4-12zM-252 445l5 4l2 10l-8 7l-14-2l4-16zM92 457l12 8l8-2l3-17l-16-6l-9 9zM222 448l12-5l5 4l5 16l-10 6l-15-9zM-267 464l14 2l2 11l-13 8l-4-2l0-19zM-253 466l2 11l16 4l2-2l2-9l-14-11zM-204 476l-14 11l-15-8l2-9l10-9l16 10zM-193 460l-12 11l1 5l7 8l16-4l-4-17zM-185 463l4 17l9 4l7-4l3-14l-12-6zM-120 476l-12 10l-14-1l3-17l10-5l13 9zM60 477l9 8l13-7l0-10l-16-7l-7 7zM82 468l10-11l12 8l-3 15l-10 2l-9-4zM101 480l7 8l15-8l0-11l-11-6l-8 2zM163 483l-19-2l-3-16l15-7l9 10l1 14zM207 469l5 13l-11 12l-3 0l-13-13l9-15l2-2zM219 460l15 9l-5 14l-4 3l-13-4l-5-13zM244 463l1 1l6 18l-2 3l-20-2l5-14zM-216 500l-12 7l-13-9l6-17l2-2l15 8zM-197 484l0 14l-9 5l-10-3l-2-13l14-11zM-181 480l9 4l-2 12l-9 8l-14-6l0-14zM-150 502l1-15l-16-7l-7 4l-2 12l16 9zM-106 499l8 4l15-7l1-14l-13-2zM-55 479l-9 3l-3 18l15 6l9-8l1-12zM23 501l-13 6l-10-7l-1-16l12-1l10 6zM46 487l14-10l9 8l0 12l-15 5l-7-4zM82 478l9 4l-3 17l-11 5l-8-7l0-12zM187 505l-10-4l-6-17l14-3l13 13zM274 474l-9 8l1 14l17 5l3-18zM-197 498l-9 5l1 17l6 5l17-9l-1-12zM-164 520l-9 3l-9-7l-1-12l9-8l16 9zM-117 507l-2 14l-9 6l-13-7l-1-13l12-5zM-91 526l2-4l-9-19l-8-4l-11 8l-2 14l11 7zM-77 519l8 4l17-6l0-11l-15-6l-4 2zM125 514l16 10l4-1l0-22l-10-5l-10 10zM233 504l-4-4l-19 8l-2 8l14 8l6-2zM266 519l-11-8l-1-2l12-13l17 5l-9 17zM311 500l-1 0l-9 8l-1 11l13 11l11-13zM-108 528l-11-7l-9 6l-1 11l8 10l10-6zM213 544l-12-8l0-15l7-5l14 8l-4 17zM-129 538l-16 5l0 11l17 11l7-8l0-9z"/><path fill="#4b5bbf" stroke="#4b5bbf" d="M-62 8l-13 1l-2 18l14 5l9-7l0-13zM-86 30l9-3l14 5l0 11l-12 8l-14-8zM-19 34l1 9l-16 7l-4-2l-4-18l10-6zM276 164l10-11l5-10l-12-6l-12 5l-2 12zM296 176l16 5l8-6l-1-12l-13-7l-9 17zM-317 215l-9 6l-13-10l-2-10l16-7l8 2zM-238 565l7-9l16 2l-1 15l-13 6l-7-7zM274 581l10-9l-1-10l-11-7l-7 7l-1 15z"/><path fill="#281e20" stroke="#281e20" d="M126 6l-5 15l13 9l12-5l0-13l-17-7zM146 12l8-6l12 5l2 12l-17 6l-5-4zM134 30l-2 13l-12 5l-11-6l6-18l6-3zM175 29l-7-6l-17 6l2 17l7 0l16-15zM-131 67l13-10l2-5l-14-12l-13 8l4 16zM110 70l13-7l-3-15l-11-6l-5 2l-2 21zM123 63l-3-15l12-5l15 9l-1 4l-16 10zM176 31l-16 15l18 13l2-1l6-12zM-161 85l-13-16l9-7l20 6l-5 14zM-107 76l12 8l12-5l-4-12l-8-4l-11 6zM81 90l-13-10l4-17l6-2l9 7l1 12zM82 95l13 8l6-3l4-15l-17-5l-7 10zM70 120l-1-16l-6-4l-17 3l1 14l10 8zM23 145l14-9l-3-14l-11-6l-9 9l-1 14zM201 149l9-9l-1-15l-12-4l-8 6l0 13zM-40 151l3-7l7-5l10 4l3 17l-18 2zM2 183l-1 9l-10 7l-12-4l0-17l12-11zM254 238l0 14l15 4l10-7l-1-12l-6-2zM254 252l15 4l1 14l-15 8l-6-6l0-14zM-316 290l-3-15l-12-2l-9 7l1 7l11 11zM270 295l12-2l-2-19l-10-4l-15 8l1 6zM-18 347l7 6l13-7l2-15l-14-7l-8 7zM310 343l-1-8l-12-12l-11 9l2 11l8 7zM357 342l-10 9l-17-9l2-10l10-8l16 11zM-11 353l13-7l12 6l-6 17l-4 2l-14-11zM321 349l9-7l17 9l-1 16l-13 2l-12-6zM122 442l11 9l15-9l-1-7l-16-10l-6 6zM-286 449l2 12l-7 9l-17-10l8-12l7-3zM-229 442l9 7l-1 12l-10 9l-14-11l-2-10zM-193 460l-12 11l-16-10l1-12l9-4l17 8zM82 468l10-11l-2-8l-12-4l-11 6l-1 10zM115 446l-3 17l11 6l11-7l-1-11l-11-9zM134 462l7 3l15-7l1-5l-9-11l-15 9zM197 452l-8-11l-13 8l2 11l16 6l2-2zM239 447l5 16l1 1l21-5l-2-13l-5-4zM-316 477l12 6l13-10l0-3l-17-10l-11 3zM171 484l-5-2l-1-14l13-8l16 6l-9 15zM274 474l-9 8l-14 0l-6-18l21-5l7 6zM283 460l-10 5l1 9l12 9l15-3l-1-13zM-345 487l-12-9l-14 8l0 10l11 7l13-6zM-337 483l-8 4l-2 10l9 8l15-5l-2-13zM-325 487l2 13l9 6l13-7l-3-16l-12-6zM-106 499l-11 8l-13-5l-2-16l12-10zM-33 480l15 7l-1 16l-7 5l-17-10l1-12zM-5 481l4 3l1 16l-11 5l-8-2l1-16zM46 487l-13-9l-12 11l2 12l7 6l17-9zM212 482l13 4l4 14l-19 8l-9-14zM254 509l12-13l-1-14l-14 0l-2 3l-2 19zM301 480l7 5l2 15l-9 8l-18-7l3-18zM-150 502l-8 3l-6 15l13 7l10-7l-1-13zM-45 525l17-4l2-13l-17-10l-9 8l0 11zM-28 521l7 7l16-8l-6-15l-8-2l-7 5zM187 505l2 11l12 5l7-5l2-8l-9-14l-3 0zM311 500l22-3l7 7l-2 8l-5 5l-9 0z"/><path fill="#311e22" stroke="#311e22" d="M146 25l5 4l2 17l-6 6l-15-9l2-13zM147 52l6-6l7 0l18 13l-22 12l-10-15zM-150 82l5-14l6-4l8 3l6 15l-15 11zM156 71l-1 5l10 11l15-7l-2-21zM101 100l14 6l6-3l2-17l-13-5l-5 4zM143 101l9 3l13-9l0-8l-10-11l-16 8zM180 80l-15 7l0 8l11 9l13-4l2-14zM101 100l14 6l-2 16l-13 6l-8-10l3-15zM-162 122l-12-8l-14 9l8 12l10 2l2-1zM-53 135l16 9l7-5l1-19l-11-4l-11 7zM51 140l6-15l-10-8l-13 5l3 14zM-236 140l7-3l13 6l-2 15l-13 2l-7-5zM-20 143l11-5l12 5l-4 18l-8 6l-8-7zM-1 161l4-18l10-4l10 6l1 5l-12 15zM201 157l-11 5l-14-7l1-8l12-7l12 9zM-238 155l7 5l-2 20l-2 1l-14-9l-1-12zM201 157l10 9l0 3l-8 13l-18-6l5-14zM233 204l11-13l-4-13l-13 5l-7 12zM-73 214l0-17l7-5l14 9l2 12l-13 8zM-238 222l-15-9l-7 5l-2 14l12 8l11-10zM-271 236l-3 15l-14 3l-5-4l-1-14l9-7zM-307 295l11-6l1-14l-15-7l-9 7l3 15zM-274 275l-16-4l-5 4l-1 14l8 5l15-6zM-306 313l-1-18l-9-5l-12 8l-2 13l16 7zM-12 295l3-3l14 1l1 15l-16 7l-5-6zM270 295l12-2l5 3l1 11l-14 10l-12-6zM-37 306l-14 17l8 10l13-5l-1-19zM-70 327l16-5l3 1l8 10l-1 11l-4 5l-10-2zM-30 328l12 3l0 16l-6 2l-20-5l1-11zM-47 365l-1-16l4-5l20 5l-10 21l-9-2zM26 350l-12 2l-6 17l18 2l7-6l-1-13zM321 349l0 14l-9 6l-17-7l1-12l14-7zM7 410l-15-10l-3-12l14-7l12 9l-1 16zM-147 410l-2 12l-17 2l-3-4l0-5l9-9zM-194 453l-17-8l7-16l8-3l9 6l2 7zM-185 439l-2-7l18-12l3 4l7 17l-13 4zM76 427l2 18l12 4l9-9l-1-12l-5-3zM105 424l20 7l-3 11l-7 4l-16-6l-1-12zM157 453l11-8l0-17l-5-3l-16 10l1 7zM-193 460l8 3l11-3l2-15l-13-6l-9 14zM-174 460l12 6l5-3l3-20l-5-2l-13 4zM176 449l-8-4l-11 8l-1 5l9 10l13-8zM213 443l-16 9l-1 12l11 5l12-9l3-12zM-321 461l2 2l3 14l-9 10l-12-4l0-17zM-157 463l14 5l-3 17l-3 2l-16-7l3-14zM-106 499l-14-23l0-4l10-6l9 2l6 12zM-77 467l1 9l-6 6l-13-2l-6-12l12-8zM14 469l-3 14l-12 1l-4-3l-2-14l6-4zM46 487l14-10l-1-9l-17-6l-8 4l-1 12zM300 467l1 13l7 5l13-8l2-14l-16-4zM-83 496l1-14l6-6l12 6l-3 18l-4 2zM311 500l-1 0l-2-15l13-8l13 8l-1 12zM333 497l1-12l9-7l9 5l6 16l-18 5z"/><path fill="#44222a" stroke="#44222a" d="M110 81l0-11l13-7l7 3l3 16l-10 4zM130 66l16-10l10 15l-1 5l-16 8l-6-2zM-164 95l3-10l11-3l10 11l-2 9l-9 6zM-121 84l14-8l12 8l-5 15l-10 4l-4-3zM-95 84l-5 15l14 7l12-9l-3-16l-6-2zM121 103l12 4l10-6l-4-17l-6-2l-10 4zM-51 123l11-7l-3-11l-15-5l-5 2l-1 13zM173 121l3-17l-11-9l-13 9l3 16l14 3zM177 147l-9-9l1-15l4-2l16 6l0 13zM23 145l14-9l14 4l-3 16l-12 6l-12-12zM-52 176l-5-17l17-8l5 11l-2 10l-7 6zM12 165l5 9l9 3l7-4l3-11l-12-12zM-233 180l14 1l2 20l-10 5l-14-10l6-15zM-227 206l-1 10l-10 6l-15-9l2-14l10-3zM-45 214l13-2l10 13l-1 4l-7 7l-11-4zM248 232l-16 7l-9-9l-2-9l13-9l14 7zM-264 267l1-5l-11-11l-14 3l-2 17l16 4zM256 284l-1-6l-6-6l-17 5l-3 11l16 10zM270 295l-8 16l-6 3l-11-9l0-7l11-14zM-339 327l-13 6l-7-5l3-20l2-2l19 8zM-314 318l-16-7l-5 3l-4 13l10 12l16-10zM13 313l-1 15l-8 3l-14-7l0-9l16-7zM262 311l12 6l4 12l-9 5l-15-10l2-10zM26 350l-6-19l-8-3l-8 3l-2 15l12 6zM35 322l-15 9l6 19l6 2l9-5l3-17zM266 347l6 5l16-9l-2-11l-8-3l-9 5zM296 350l-8-7l-16 9l3 11l13 4l7-5zM-129 370l-2 14l-8 6l-16-3l1-18l14-7zM-129 370l11-3l4 1l8 19l-12 7l-13-10zM3 381l1-10l-14-11l-14 17l1 6l12 5zM15 390l7-3l4-16l-18-2l-4 2l-1 10zM350 370l-4-3l-13 2l-4 21l16 4l9-8zM76 389l0 17l13 2l13-7l-1-7l-16-9zM-238 412l11-7l8 8l2 10l-13 10l-8-8zM-147 410l-2 12l6 7l11-5l-1-14l-5-4zM76 406l13 2l4 17l-17 2l-5-4l1-13zM108 407l-3 17l20 7l6-6l1-11l-9-8zM132 414l-1 11l16 10l16-10l-4-11l-18-5zM-252 430l0 15l5 4l18-7l-1-9l-8-8zM-148 442l5-13l-6-7l-17 2l7 17l5 2zM256 428l3 14l-20 5l-5-4l1-11l13-8zM-263 448l-4 16l-1 0l-16-3l-2-12l14-8zM-110 466l-1-23l-7-5l-16 11l1 14l13 9zM-89 453l-12-11l-10 1l1 23l9 2l12-8zM283 460l-10 5l-7-6l-2-13l13-10l11 12zM-54 467l11-10l13 6l-3 17l-9 6l-13-7zM33 478l1-12l-9-5l-11 8l-3 14l10 6z"/><path fill="#582633" stroke="#582633" d="M-142 102l2-9l15-11l4 2l7 16l-18 6zM-154 117l3-9l-13-13l-16 4l6 15l12 8zM82 95l-13 9l1 16l22-2l3-15zM134 121l12 7l9-8l-3-16l-9-3l-10 6zM-205 138l1-11l9-7l7 3l8 12l-16 10zM77 139l-6 6l-20-5l6-15l13-5zM99 133l-11 7l-11-1l-7-19l22-2l8 10zM153 146l-7-4l0-14l9-8l14 3l-1 15zM-218 158l2-15l11-5l9 7l3 13l-18 7zM-53 135l16 9l-3 7l-17 8l-4-2l-1-18zM-233 180l2-20l13-2l7 7l-2 12l-6 4zM-1 161l-8 6l11 16l15-9l-5-9zM36 162l-3 11l14 11l8-4l2-18l-9-6zM77 166l-6-6l-14 2l-2 18l10 3l12-16zM176 155l-8 6l0 12l9 7l8-4l5-14zM-66 192l3-9l11-7l8 2l4 12l-12 11zM35 199l-12-7l3-15l7-4l14 11l-1 10zM-50 213l-2-12l12-11l15 7l-7 15l-13 2zM-22 225l16-7l-3-19l-12-4l-4 2l-7 15zM14 198l-13-6l-10 7l3 19l8 4l14-8zM207 216l14 5l13-9l-1-8l-13-9l-10 1zM-64 234l9 5l14-7l-4-18l-5-1l-13 8zM1 259l13-5l-2-14l-8-5l-11 8l-2 8zM248 232l-16 7l-4 13l21 6l5-6l0-14zM-18 273l-12 6l2 13l16 3l3-3l-4-16zM-13 276l4 16l14 1l6-5l2-9l-13-8zM-293 314l-13-1l-1-18l11-6l8 5l2 16zM-37 306l-1-3l10-11l16 3l-3 14l-16 0zM13 313l14-6l-1-8l-15-11l-6 5l1 15zM-73 327l-3-9l15-17l7 21l-16 5zM-31 309l16 0l5 6l0 9l-8 7l-12-3zM-339 327l10 12l-1 5l-10 7l-12-5l0-13zM-306 337l-7-8l-16 10l-1 5l14 11l11-12zM-75 355l17-8l-12-20l-3 0l-12 10l0 1zM-77 369l2-14l17-8l10 2l1 16l-12 5zM252 365l14 6l9-8l-3-11l-6-5l-11 2zM357 342l-10 9l-1 16l4 3l16-6l3-11zM33 365l12 9l1 13l-7 4l-17-4l4-16zM-206 392l-12 0l-8 6l-1 7l8 8l16-4zM-206 392l5-4l17 7l0 9l-12 10l-7-5zM-131 384l13 10l0 12l-15 4l-5-4l-1-16zM-118 394l0 12l9 7l12-10l2-12l-11-4zM164 391l-7-4l-12 3l-4 19l18 5l8-11zM367 390l1 17l-12 7l-11-7l0-13l9-8zM-203 409l7 5l0 12l-8 3l-13-6l-2-10zM-169 420l-18 12l-9-6l0-12l12-10l15 11zM89 408l13-7l6 6l-3 17l-7 4l-5-3zM179 427l-11 1l-5-3l-4-11l8-11l18 5zM189 434l15-8l-3-16l-13-4l-3 2l-6 19zM278 428l10-5l-1-14l-16-6l-4 4l2 16zM-374 419l16 7l-2 16l-12 7l-8-6l-1-16zM-230 433l13-10l13 6l-7 16l-9 4l-9-7zM-119 433l-13-9l-11 5l-5 13l14 7l16-11zM189 434l0 7l-13 8l-8-4l0-17l11-1zM256 428l13-5l9 5l-1 8l-13 10l-5-4zM288 448l-11-12l1-8l10-5l11 5l2 15zM-347 462l-9 6l-16-9l0-10l12-7l12 8zM-325 444l8-7l17 11l-8 12l-11 3l-2-2zM-157 463l3-20l6-1l14 7l1 14l-10 5zM-66 449l17-4l1 1l5 11l-11 10l-13-8zM17 445l8 16l-11 8l-15-6l8-16zM283 460l17 7l7-8l-3-14l-3-2l-13 5zM-337 466l0 17l-8 4l-12-9l1-10l9-6zM-67 459l13 8l-1 12l-9 3l-12-6l-1-9zM352 483l-9-5l0-10l13-6l10 6l-1 5zM362 500l-4-1l-6-16l13-10l10 19l-2 4z"/><path fill="#812d43" stroke="#812d43" d="M-154 117l3-9l9-6l10 4l3 16l-12 5zM121 103l12 4l1 14l-11 6l-10-5l2-16zM-154 117l13 10l1 10l-11 10l-17-11l6-14zM-71 135l9 4l9-4l2-12l-13-8l-10 8zM123 127l1 12l13 6l9-3l0-14l-12-7zM88 140l3 19l-14 7l-6-6l0-15l6-6zM99 133l13 14l0 9l-11 7l-10-4l-3-19zM185 176l18 6l2 9l-18 6l-10-5l0-12zM35 199l-12-7l-9 6l2 16l10 5l8-5zM50 217l-16-3l1-15l11-5l10 11l-1 9zM-74 240l10-6l1-13l-10-7l-11 3l-4 19zM-7 243l-16-14l1-4l16-7l8 4l2 13zM-9 251l2-8l-16-14l-7 7l0 16l9 4zM12 240l16-7l10 8l0 2l-17 15l-7-4zM-18 273l-3-17l12-5l10 8l-1 12l-13 5zM0 271l13 8l12-8l-4-13l-7-4l-13 5zM-50 277l-2 15l-9 6l-17-5l-1-17l15-5zM33 274l-8-3l-12 8l-2 9l15 11l9-10zM46 294l-11-5l-2-15l7-3l15 5l2 11zM66 308l3-14l-12-7l-11 7l0 13l14 5zM245 305l-13 6l-13-4l-1-11l11-8l16 10zM-73 327l-3-9l-9-9l-15 10l0 4l15 14zM80 317l-14-9l-6 4l-2 14l8 9l13-6zM245 305l-13 6l4 19l7 3l11-9l2-10zM-280 349l-1-14l-10-5l-15 7l1 6l14 9zM-98 347l-14-4l-2-12l14-8l15 14l0 1zM58 326l-14 4l-3 17l16 4l8-5l1-11zM77 353l-12-7l1-11l13-6l11 8l-1 10zM-291 352l-14-9l-11 12l0 10l10 4l9-3zM-178 371l-5-3l-3-12l14-8l8 3l1 14zM-140 362l0-8l-13-13l-11 10l1 14l9 4zM-129 370l11-3l2-20l-15-2l-9 9l0 8zM-77 369l2-14l-10-17l-13 9l0 17l17 9zM123 367l13 3l10-7l0-9l-10-11l-15 13zM146 354l12-5l10 5l1 11l-13 6l-10-8zM-178 371l-5-3l-17 8l-1 12l17 7l9-8zM-81 373l-17-9l-16 4l8 19l11 4l13-9zM77 363l-9 9l2 13l6 4l9-4l5-14zM123 367l13 3l2 16l-14 5l-12-11l0-2zM203 385l1-16l7-3l11 10l-3 10l-9 5zM266 384l5 4l17-4l0-17l-13-4l-9 8zM375 386l3-13l-12-9l-16 6l4 16l13 4zM-251 408l0-17l11-3l14 10l-1 7l-11 7zM-82 382l-13 9l-2 12l12 8l12-8l-1-12zM51 390l-5-3l-7 4l-6 16l14 6l8-9zM76 389l0 17l-4 4l-17-6l-4-14l19-5zM333 415l12-8l0-13l-16-4l-8 3l-1 12zM-340 428l15-9l-2-9l-11-7l-9 7l-3 12zM-109 413l12-10l12 8l1 16l-6 1l-18-12zM7 410l-2 7l-14 10l-4-1l-7-16l12-10zM308 422l2-11l-15-10l-8 8l1 14l11 5zM308 422l2-11l10-6l13 10l-1 9l-9 5zM-335 441l-5-13l-10-6l-8 4l-2 16l12 8zM-293 445l-7 3l-17-11l3-10l7-4l13 7zM-75 441l-14 12l0 7l12 7l10-8l1-10zM304 445l17-4l11 11l-1 6l-8 5l-16-4z"/><path fill="#6d2a3b" stroke="#6d2a3b" d="M-129 122l8 2l11-11l0-10l-4-3l-18 6zM-85 118l11 5l10-8l1-13l-11-5l-12 9zM-193 158l6 3l12-6l5-18l-10-2l-16 10zM51 140l20 5l0 15l-14 2l-9-6zM176 155l-8 6l-13-7l-2-8l15-8l9 9zM89 188l-12-21l0-1l14-7l10 4l1 16zM2 183l-1 9l13 6l9-6l3-15l-9-3zM78 197l-6-1l-7-13l12-16l12 21l-2 5zM205 191l-2-9l8-13l16 14l-7 12l-10 1zM12 240l16-7l-2-14l-10-5l-14 8l2 13zM-262 232l12 8l2 10l-15 12l-11-11l3-15zM-55 239l14-7l11 4l0 16l-11 4l-11-7zM-46 275l16 4l12-6l-3-17l-9-4l-11 4zM228 252l21 6l0 14l-17 5l-8-8l0-14zM-264 267l14 12l-1 12l-14 6l-8-9l-1-13zM-46 275l16 4l2 13l-10 11l-14-11l2-15zM-286 310l-2-16l15-6l8 9l-3 14l-4 3zM-76 318l15-17l0-3l-17-5l-7 6l0 10zM-37 306l-1-3l-14-11l-9 6l0 3l7 21l3 1zM35 313l-8-6l-1-8l9-10l11 5l0 13zM-291 330l-15 7l-7-8l-1-11l8-5l13 1zM-281 335l10-11l-1-10l-14-4l-7 4l2 16zM35 313l-8-6l-14 6l-1 15l8 3l15-9zM58 326l-14 4l-9-8l0-9l11-6l14 5zM112 332l10-3l13 9l1 5l-15 13l-12-5zM-24 349l-10 21l10 7l14-17l-1-7l-7-6zM32 352l9-5l16 4l0 15l-12 8l-12-9zM101 355l8-4l12 5l2 11l-11 11l-13-10zM-154 369l-9-4l-15 6l3 16l14 4l6-4zM-77 369l18 1l2 20l-17 1l-8-9l1-9zM-59 370l12-5l4 3l-5 22l-3 3l-6-3zM70 385l-19 5l-5-3l-1-13l12-8l11 6zM90 371l-5 14l16 9l11-14l0-2l-13-10zM146 363l10 8l1 16l-12 3l-7-4l-2-16zM164 391l-7-4l-1-16l13-6l12 7l-1 10zM295 362l-7 5l0 17l8 6l14-5l2-16zM321 363l12 6l-4 21l-8 3l-11-8l2-16zM-175 387l-9 8l0 9l15 11l9-9l-1-15zM-139 390l1 16l-9 4l-13-4l-1-15l6-4zM14 406l12 4l7-3l6-16l-17-4l-7 3zM112 380l12 11l-1 15l-15 1l-6-6l-1-7zM123 406l9 8l9-5l4-19l-7-4l-14 5zM188 406l0-18l-8-6l-16 9l3 12l18 5zM295 401l1-11l14-5l11 8l-1 12l-10 6zM-109 413l-9-7l-15 4l1 14l13 9l11-17zM52 430l19-7l1-13l-17-6l-8 9l2 16zM204 426l5 2l15-5l2-14l-16-7l-9 8zM-325 444l8-7l3-10l-11-8l-15 9l5 13zM-272 441l-14 8l-7-4l-1-15l13-7l9 4zM-262 422l-10 5l0 14l9 7l11-3l0-15zM-108 416l-11 17l1 5l7 5l10-1l11-14zM-75 441l-1-11l-8-3l-6 1l-11 14l12 11zM17 445l-10 2l-14-7l-2-13l14-10l12 16l1 11zM52 430l19-7l5 4l2 18l-11 6l-11-8zM213 443l-4-15l-5-2l-15 8l0 7l8 11zM213 443l-4-15l15-5l11 9l-1 11l-12 5zM-325 444l4 17l-16 5l-10-4l-1-12l13-9zM-23 459l16 8l6-4l8-16l-14-7l-13 11zM59 468l7-7l1-10l-11-8l-12 13l-2 6zM331 458l12 10l13-6l-1-13l-15-4l-8 7zM-371 486l-8-8l1-13l6-6l16 9l-1 10zM-33 480l15 7l13-6l-2-14l-16-8l-7 4zM321 477l13 8l9-7l0-10l-12-10l-8 5z"/><path fill="#952e44" stroke="#952e44" d="M-110 103l10-4l14 7l1 12l-11 8l-14-13zM-85 146l14-11l9 4l1 18l-15 4l-10-7zM155 154l-10 12l-13-10l5-11l9-3l7 4zM-76 161l1 12l12 10l11-7l-5-17l-4-2zM-73 197l-10-3l-4-12l12-9l12 10l-3 9zM78 197l-6-1l-16 9l-1 9l12 7l11-6zM50 217l-2 17l-10 7l-10-8l-2-14l8-5zM-74 240l-1 11l11 7l12-9l-3-10l-9-5zM210 240l13-10l9 9l-4 13l-4 3l-13-4zM-85 309l-15 10l-7-10l4-15l1 0l17 5zM80 317l12-6l-1-11l-15-9l-7 3l-3 14zM-112 343l-2-12l-9-5l-9 5l1 14l15 2zM89 347l1-10l13-9l9 4l-3 19l-8 4zM168 354l12-8l-2-12l-7-6l-10 5l-3 16zM255 349l11-2l3-13l-15-10l-11 9l1 9zM-339 364l-1-13l-12-5l-11 7l0 8l14 10zM-316 365l0-10l-14-11l-10 7l1 13l14 7zM-280 349l-11 3l-6 14l14 10l12-9l-1-13zM-98 364l-16 4l-4-1l2-20l4-4l14 4zM77 363l-9 9l-11-6l0-15l8-5l12 7zM-325 371l-14-7l-10 7l-1 13l13 7l10-6zM-48 390l5-22l9 2l10 7l1 6l-3 4zM188 388l-8-6l1-10l10-9l13 6l-1 16zM-316 392l0 10l-11 8l-11-7l1-12l10-6zM201 410l9-8l0-11l-7-6l-15 3l0 18zM295 401l1-11l-8-6l-17 4l0 15l16 6zM-262 422l10 8l14-5l0-13l-13-4l-9 5zM-38 410l-2 11l12 9l15-4l-7-16l-12-3zM7 410l-2 7l12 16l12-12l-3-11l-12-4zM49 429l-2-16l-14-6l-7 3l3 11l15 9zM248 424l-1-17l-1-1l-8-4l-12 7l-2 14l11 9zM376 411l0 14l-13 6l-6-5l-1-12l12-7zM-75 441l-1-11l12-7l14 5l1 17l-17 4zM-29 438l9 13l13-11l-2-13l-4-1l-15 4zM18 444l17-5l9-9l-15-9l-12 12zM304 445l17-4l2-12l-15-7l-9 6l2 15zM332 452l-11-11l2-12l9-5l9 8l-1 13zM356 462l10 6l9-4l0-16l-11-7l-9 8z"/><path fill="#a93046" stroke="#a93046" d="M-141 127l12-5l8 2l4 13l-12 7l-11-7zM-168 136l-2 1l-5 18l14 9l11-6l-1-11zM137 145l-13-6l-12 8l0 9l10 6l10-6zM-211 165l18-7l6 3l2 15l-11 10l-17-9zM-86 154l10 7l1 12l-12 9l-11-4l3-19zM155 154l-10 12l0 9l9 3l14-5l0-12zM-95 202l-10-6l0-14l7-4l11 4l4 12zM78 197l0 18l11 8l10-11l-3-11l-9-8zM207 216l3-20l-5-5l-18 6l2 15l16 4zM-238 222l10-6l12 9l-1 7l-9 7l-13-9zM68 235l-6 3l-14-4l2-17l5-3l12 7zM207 216l14 5l2 9l-13 10l-9-10l4-14zM-264 267l1-5l15-12l9 4l2 19l-13 6zM-64 258l0 13l-15 5l-2-2l-3-14l9-9zM-64 258l0 13l14 6l4-2l5-19l-11-7zM45 253l-5 18l-7 3l-8-3l-4-13l17-15zM-85 299l-17-5l1-17l20-3l2 2l1 17zM69 294l-12-7l-2-11l9-9l16 13l-4 11zM91 300l10-9l-2-15l-8-4l-11 8l-4 11zM209 275l15-6l8 8l-3 11l-11 8l-8-5zM-268 311l3-14l14-6l6 5l2 15l-5 5zM-114 331l-9-5l-1-13l1-1l16-3l7 10l0 4zM103 328l-4-12l-7-5l-12 6l-1 12l11 8zM122 329l13 9l10-9l1-14l-14-8l-7 4zM214 325l8 7l14-2l-4-19l-13-4l-5 7zM146 354l12-5l3-16l-16-4l-10 9l1 5zM194 329l-16 5l2 12l10 8l12-9l-2-13zM77 363l13 8l9-3l2-13l-12-8l-12 6zM168 354l12-8l10 8l1 9l-10 9l-12-7zM-349 371l-1 13l-13 6l-10-5l1-16l9-8zM-316 365l-9 6l-2 14l11 7l12-6l-2-17zM-347 410l-14-10l-2-10l13-6l13 7l-1 12zM-260 413l-14-12l1-6l14-8l8 4l0 17zM-51 393l3-3l22-3l-6 20l-6 3l-11-9zM-26 387l3-4l12 5l3 12l-12 10l-12-3zM-374 417l13-17l14 10l-3 12l-8 4l-16-7zM-327 410l11-8l13 8l-4 13l-7 4l-11-8zM-262 422l-10 5l-9-4l-4-15l11-7l14 12zM256 428l13-5l-2-16l-20 0l1 17zM-43 457l-5-11l19-8l9 13l-3 8l-7 4z"/><path fill="#bb3842" stroke="#bb3842" d="M-117 137l6 2l14-7l1-6l-14-13l-11 11zM-85 146l14-11l-3-12l-11-5l-11 8l-1 6zM99 133l13 14l12-8l-1-12l-10-5l-13 6zM-85 146l-12-14l-14 7l2 16l14 4l9-5zM-95 159l-3 19l-7 4l-11-4l-1-17l8-6zM115 185l-13-6l-1-16l11-7l10 6l4 13zM-219 181l6-4l17 9l1 7l-10 12l-12-4zM-116 203l-14-9l1-9l13-7l11 4l0 14zM56 205l16-9l-7-13l-10-3l-8 4l-1 10zM87 193l2-5l13-9l13 6l1 10l-20 6zM155 191l13 8l9-7l0-12l-9-7l-14 5zM-73 214l0-17l-10-3l-12 8l1 10l10 5zM-88 236l-8 3l-11-10l0-7l13-10l10 5zM89 223l1 7l-12 9l-10-4l-1-14l11-6zM-239 230l-11 10l2 10l9 4l12-4l1-11zM87 259l-7-4l-15 6l-1 6l16 13l11-8zM211 251l13 4l0 14l-15 6l-8-6l1-14zM92 311l7 5l16-10l-4-11l-10-4l-10 9zM-248 328l0-12l-20-5l-4 3l1 10l9 7zM103 328l-4-12l16-10l10 5l-3 18l-10 3zM194 329l-1-16l-13-3l-9 11l0 7l7 6zM194 329l-1-16l2-2l19 3l0 11l-14 7zM-280 349l-1-14l10-11l9 7l1 18l-11 5zM-153 336l0 5l13 13l9-9l-1-14l-13-2zM200 332l14-7l8 7l-5 19l-15-6zM232 355l-15-4l5-19l14-2l7 3l1 9zM-186 356l-10-9l-12 9l-3 10l11 10l17-8zM202 345l15 6l-6 15l-7 3l-13-6l-1-9zM238 371l14-6l3-16l-11-7l-12 13l6 16zM238 371l3 7l17 8l8-2l0-13l-14-6zM-304 386l7 4l2 15l-8 5l-13-8l0-10zM-284 383l-13 7l2 15l10 3l11-7l1-6zM-57 390l6 3l2 8l-15 11l-9-9l-1-12zM210 402l16 7l12-7l-2-7l-17-9l-9 5zM258 386l-12 20l1 1l20 0l4-4l0-15l-5-4zM-294 430l-13-7l4-13l8-5l10 3l4 15zM-73 403l-12 8l1 16l8 3l12-7l0-11zM-49 401l11 9l-2 11l-10 7l-14-5l0-11zM333 415l12-8l11 7l1 12l-16 6l-9-8zM52 430l4 13l-12 13l-9-17l9-9l5-1zM355 449l9-8l-1-10l-6-5l-16 6l-1 13zM17 445l8 16l9 5l8-4l2-6l-9-17l-17 5z"/><path fill="#3a7cd4" stroke="#3a7cd4" d="M-279 157l-17 1l-5-2l-4-11l10-13l19 7l0 1zM-309 185l-7-10l2-11l13-8l5 2l0 17zM-275 162l1 12l-9 8l-13-7l0-17l17-1zM277 172l12 7l7-3l1-3l-11-20l-10 11zM296 176l16 5l3 18l-14 4l-13-10l1-14z"/><path fill="#cc3f3f" stroke="#cc3f3f" d="M-151 147l1 11l10 6l11-7l0-13l-11-7zM-129 144l0 13l12 4l8-6l-2-16l-6-2zM137 179l-11-4l-4-13l10-6l13 10l0 9zM-94 212l-13 10l-9-8l0-11l11-7l10 6zM-74 240l-1 11l-9 9l-15-8l3-13l8-3zM48 234l14 4l-2 17l-15-2l-7-10l0-2zM78 239l2 16l7 4l16-12l-3-11l-10-6zM-84 260l-15-8l-9 7l0 10l7 8l20-3zM60 255l5 6l-1 6l-9 9l-15-5l5-18zM187 275l14-6l8 6l1 16l-12 2l-5-2zM214 314l5-7l-1-11l-8-5l-12 2l-3 18zM-240 342l-13 7l-8 0l-1-18l14-3l7 8zM-172 348l-4-14l12-5l11 7l0 5l-11 10zM-231 367l-1-19l10-3l14 11l-3 10l-12 4zM238 371l-16 5l-11-10l6-15l15 4zM-297 366l-9 3l2 17l7 4l13-7l1-7zM-206 392l5-4l1-12l-11-10l-12 4l5 22zM238 371l3 7l-5 17l-17-9l3-10l16-5zM241 378l-5 17l2 7l8 4l12-20zM-29 438l-19 8l-1-1l-1-17l10-7l12 9z"/><path fill="#d75139" stroke="#d75139" d="M-185 176l-2-15l12-6l14 9l-2 9l-12 6zM-129 157l-11 7l2 13l9 8l13-7l-1-17zM137 198l0-19l-11-4l-11 10l1 10l6 7zM141 200l14-9l-1-13l-9-3l-8 4l0 19zM-217 201l12 4l3 12l-14 8l-12-9l1-10zM-134 220l18-6l0-11l-14-9l-10 10l0 10zM-133 231l-1-11l18-6l9 8l0 7l-14 8zM99 212l17 4l-2 10l-14 10l-10-6l-1-7zM68 235l-6 3l-2 17l5 6l15-6l-2-16zM189 236l12-6l9 10l1 11l-9 4l-13-6zM-214 258l-13-8l-12 4l2 19l9 4l12-6zM181 273l6 2l14-6l1-14l-13-6l-12 7zM-125 294l2 18l16-3l4-15l-20-2zM111 295l13-11l11 11l-3 12l-7 4l-10-5zM193 313l-13-3l-3-12l16-7l5 2l-3 18zM-241 336l12-10l-1-13l-13-2l-5 5l0 12zM171 328l0-7l-15-11l-10 5l-1 14l16 4zM-172 348l-4-14l-10-3l-9 4l-1 12l10 9zM-271 367l10 8l2 12l-14 8l-11-12l1-7zM-226 398l-14-10l4-18l5-3l8 3l5 22z"/><path fill="#e26233" stroke="#e26233" d="M-163 173l11 11l14-7l-2-13l-10-6l-11 6zM-175 179l5 18l7 1l7-3l4-11l-11-11zM-152 184l-4 11l16 9l10-10l1-9l-9-8zM-140 214l0-10l-16-9l-7 3l3 15l10 5zM122 202l-6-7l-20 6l3 11l17 4l3-2zM141 200l6 11l-11 11l-17-8l3-12l15-4zM164 214l14 7l11-9l-2-15l-10-5l-9 7zM-208 254l-6 4l-13-8l1-11l9-7l11 9zM-121 237l14-8l11 10l-3 13l-9 7l-12-7zM109 272l-10 4l-8-4l-4-13l16-12l13 7zM-251 291l6 5l18-4l-1-15l-9-4l-13 6zM-137 291l12 3l2-2l4-17l-12-5l-8 6zM111 295l13-11l0-3l-15-9l-10 4l2 15zM-219 306l-11 7l-13-2l-2-15l18-4l8 8zM147 289l-12 6l-3 12l14 8l10-5l2-10zM172 294l5 4l3 12l-9 11l-15-11l2-10zM-215 333l10-5l-1-11l-13-11l-11 7l1 13zM-145 329l13 2l9-5l-1-13l-22-2zM-240 342l8 6l10-3l7-12l-14-7l-12 10zM-222 345l14 11l12-9l1-12l-10-7l-10 5zM-272 354l11-5l8 0l6 18l-14 8l-10-8zM-240 342l8 6l1 19l-5 3l-11-3l-6-18zM-240 388l4-18l-11-3l-14 8l2 12l8 4z"/><path fill="#ee8648" stroke="#ee8648" d="M-185 176l-11 10l1 7l16 10l9-6l-5-18zM-150 218l-10-5l-10 8l-1 10l7 5l8-2zM147 211l15 4l-7 19l-7 1l-10-6l-2-7zM-142 241l-14-7l-8 2l-1 13l15 8l8-6zM130 255l12-1l6-19l-10-6l-13 12l-1 10zM-131 256l0 14l-8 6l-13-6l2-13l8-6zM130 255l2 16l-8 10l-15-9l7-18l8-3zM-219 300l-8-8l-1-15l12-6l10 7l2 10zM-165 278l13-8l13 6l2 15l-11 7l-15-9zM-119 275l-4 17l20 2l1 0l1-17l-7-8zM-194 293l-10-5l-15 12l0 6l13 11l13-11zM-190 291l19 6l-3 13l-6 2l-13-6l-1-13zM-153 336l-11-7l-2-14l18-6l2 2l1 18z"/><path fill="#f2985d" stroke="#f2985d" d="M-195 193l16 10l-1 6l-15 12l-7-4l-3-12zM-189 234l-6-13l-7-4l-14 8l-1 7l11 9zM-194 257l-14-3l2-13l17-7l1 1l2 13zM-186 248l-2-13l17-4l7 5l-1 13l-7 6zM148 235l7-1l10 9l2 10l-11 8l-14-7zM180 228l9 8l0 13l-12 7l-10-3l-2-10zM-194 257l-14-3l-6 4l-2 13l10 7l15-10zM-194 257l3 11l11 6l7-1l1-18l-14-7zM130 255l2 16l18 7l5-4l1-13l-14-7zM171 281l-16-7l1-13l11-8l10 3l4 17zM124 281l0 3l11 11l12-6l3-11l-18-7zM-174 310l8 5l18-6l0-11l-15-9l-8 8zM-193 306l-13 11l1 11l10 7l9-4l6-19z"/><path fill="#e8743e" stroke="#e8743e" d="M-179 203l9-6l7 1l3 15l-10 8l-10-12zM141 200l14-9l13 8l-4 15l-2 1l-15-4zM-133 231l-1-11l-6-6l-10 4l-6 16l14 7zM205 216l-4 14l-12 6l-9-8l-2-7l11-9zM-133 231l-9 10l0 10l11 5l11-4l-1-15zM124 251l-8 3l-13-7l-3-11l14-10l11 15zM-173 273l8 5l13-8l2-13l-15-8l-7 6zM-120 252l12 7l0 10l-11 6l-12-5l0-14zM171 281l1 13l-14 6l-11-11l3-11l5-4zM171 281l1 13l5 4l16-7l-6-16l-6-2zM-148 309l0-11l11-7l12 3l2 18l-1 1l-22-2zM-180 312l-6 19l10 3l12-5l-2-14l-8-5z"/><path fill="#f5a972" stroke="#f5a972" d="M-189 234l-6-13l15-12l10 12l-1 10l-17 4zM136 222l2 7l-13 12l-11-15l2-10l3-2zM164 214l14 7l2 7l-15 15l-10-9l7-19zM-190 291l10-17l-11-6l-15 10l2 10l10 5z"/><path fill="#f9bc8c" stroke="#f9bc8c" d="M-190 291l10-17l7-1l8 5l2 11l-8 8z"/></g></g><use href="#bl" clip-path="url(#oclip)" stroke="#fff" stroke-opacity="0.92" stroke-width="2.1" stroke-linecap="round"/><use href="#bo" fill="none" stroke="#fff" stroke-opacity="0.92" stroke-width="2"/></g>
<g transform="translate(739.3 524.5)"><use href="#bo" fill="url(#gg)"/><g clip-path="url(#dclip)"><g transform="scale(0.5)" stroke-width="1.2" stroke-linejoin="round"><path fill="#4b5bbf" stroke="#4b5bbf" d="M-132 6l-2-15l-6-3l-12 6l-1 9l10 15l1 0zM-143 18l-9 9l-15-4l-2-16l16-4zM146 12l8-6l12 5l2 12l-17 6l-5-4zM156 71l-1 5l10 11l15-7l-2-21zM-180 99l-2-1l-13 8l0 14l7 3l14-9zM288 193l13 10l-3 14l-9 4l-10-7l3-18zM7 410l-15-10l-3-12l14-7l12 9l-1 16zM-38 410l-2 11l12 9l15-4l-7-16l-12-3zM18 444l17-5l9-9l-15-9l-12 12zM52 430l4 13l-12 13l-9-17l9-9l5-1zM-33 480l15 7l13-6l-2-14l-16-8l-7 4zM14 469l-3 14l-12 1l-4-3l-2-14l6-4zM46 487l14-10l-1-9l-17-6l-8 4l-1 12zM-33 480l15 7l-1 16l-7 5l-17-10l1-12zM-5 481l4 3l1 16l-11 5l-8-2l1-16zM-228 519l0-12l-13-9l-8 3l-3 18l12 8zM-28 521l7 7l16-8l-6-15l-8-2l-7 5zM-287 541l7-19l7-2l6 3l3 16l-14 7zM-240 537l0-10l-12-8l-15 4l3 16l11 8z"/><path fill="#464588" stroke="#464588" d="M-109-6l-7-8l-18 5l2 15l14 0l9-9zM108-9l10-11l15 13l-4 12l-3 1l-16-8zM126 6l-5 15l13 9l12-5l0-13l-17-7zM-161 85l-13-16l9-7l20 6l-5 14zM-162 122l-12-8l-14 9l8 12l10 2l2-1zM228 158l5 2l7 17l0 1l-13 5l-16-14l0-3zM-277 210l17 8l7-5l2-14l-8-6l-17 7zM51 390l-5-3l-7 4l-6 16l14 6l8-9zM-29 438l-19 8l-1-1l-1-17l10-7l12 9zM-292 543l-14-13l0-3l17-9l9 4l-7 19zM-211 543l-6-3l-5-18l17-2l6 5l0 13zM264 539l-8 2l-13-7l-1-5l13-18l11 8zM-253 547l-11-8l-14 7l2 13l11 6l11-12zM-238 565l-16-12l1-6l13-10l8 6l1 13zM-264 573l-12 11l-12-5l2-15l10-5l11 6zM-238 565l-16-12l-11 12l1 8l9 6l19-7z"/><path fill="#22212c" stroke="#22212c" d="M-109-6l15-10l13 6l-2 13l-13 6l-13-12zM123 63l-3-15l12-5l15 9l-1 4l-16 10zM-150 82l5-14l6-4l8 3l6 15l-15 11zM121 103l12 4l10-6l-4-17l-6-2l-10 4zM134 121l12 7l9-8l-3-16l-9-3l-10 6zM-193 158l6 3l12-6l5-18l-10-2l-16 10zM205 191l-2-9l8-13l16 14l-7 12l-10 1zM233 204l11-13l-4-13l-13 5l-7 12zM-285 217l0 12l14 7l9-4l2-14l-17-8zM-131 256l0 14l-8 6l-13-6l2-13l8-6zM171 281l-16-7l1-13l11-8l10 3l4 17zM171 281l1 13l-14 6l-11-11l3-11l5-4zM-190 291l19 6l-3 13l-6 2l-13-6l-1-13zM-174 310l8 5l18-6l0-11l-15-9l-8 8zM-148 309l0-11l11-7l12 3l2 18l-1 1l-22-2zM111 295l13-11l11 11l-3 12l-7 4l-10-5zM147 289l-12 6l-3 12l14 8l10-5l2-10zM193 313l-13-3l-3-12l16-7l5 2l-3 18zM-281 335l10-11l-1-10l-14-4l-7 4l2 16zM-248 328l0-12l-20-5l-4 3l1 10l9 7zM-280 349l-1-14l10-11l9 7l1 18l-11 5zM-240 342l-13 7l-8 0l-1-18l14-3l7 8zM310 343l-1-8l-12-12l-11 9l2 11l8 7zM-11 353l13-7l12 6l-6 17l-4 2l-14-11zM26 350l-12 2l-6 17l18 2l7-6l-1-13zM-59 370l12-5l4 3l-5 22l-3 3l-6-3zM70 385l-19 5l-5-3l-1-13l12-8l11 6zM-75 441l-1-11l12-7l14 5l1 17l-17 4zM244 463l1 1l6 18l-2 3l-20-2l5-14zM274 474l-9 8l-14 0l-6-18l21-5l7 6zM-291 473l11 12l-6 11l-9 4l-6-1l-3-16zM-83 496l1-14l6-6l12 6l-3 18l-4 2zM187 505l2 11l-11 8l-15-8l1-5l13-10zM189 516l12 5l0 15l-14 6l-9-4l0-14zM176 577l-2-12l-6-6l-8 3l-5 14l15 6zM-215 613l-2-15l-13-7l-8 7l2 14l11 7zM-215 613l12 4l6-5l2-6l-11-13l-11 5zM-225 619l-1 12l-17 6l-6-4l-1-12l14-9zM-178 637l17-5l2-14l-15-3l-6 6l-1 14zM165 616l17-8l6 11l-6 14l-6 3l-9-6z"/><path fill="#281e20" stroke="#281e20" d="M-81-10l2-1l16 1l1 18l-13 1l-8-6zM-8-17l17 5l-2 15l-19 6l-7-6l0-5zM13 8l-6-5l2-15l4-4l16 5l-1 16zM36 11l9-6l-2-17l-8-3l-6 4l-1 16zM-98 20l2-11l13-6l8 6l-2 18l-9 3zM-62 8l-13 1l-2 18l14 5l9-7l0-13zM100 9l5 9l-13 9l-9-4l0-15l2-1zM110 70l13-7l-3-15l-11-6l-5 2l-2 21zM110 81l0-11l13-7l7 3l3 16l-10 4zM-154 117l3-9l9-6l10 4l3 16l-12 5zM-233 180l14 1l2 20l-10 5l-14-10l6-15zM-227 206l-1 10l-10 6l-15-9l2-14l10-3zM272 235l6 2l6-4l5-12l-10-7l-11 2zM148 235l7-1l10 9l2 10l-11 8l-14-7zM-120 252l12 7l0 10l-11 6l-12-5l0-14zM130 255l2 16l-8 10l-15-9l7-18l8-3zM-190 291l10-17l-11-6l-15 10l2 10l10 5zM-119 275l-4 17l20 2l1 0l1-17l-7-8zM111 295l13-11l0-3l-15-9l-10 4l2 15zM-125 294l2 18l16-3l4-15l-20-2zM336 296l-20-4l-4 3l1 16l5 3l15-4zM-193 306l-13 11l1 11l10 7l9-4l6-19zM-145 329l13 2l9-5l-1-13l-22-2zM288 307l10 12l-1 4l-11 9l-8-3l-4-12zM266 347l6 5l16-9l-2-11l-8-3l-9 5zM-291 352l-14-9l-11 12l0 10l10 4l9-3zM-280 349l-11 3l-6 14l14 10l12-9l-1-13zM32 352l9-5l16 4l0 15l-12 8l-12-9zM321 363l12 6l-4 21l-8 3l-11-8l2-16zM-253 466l2 11l16 4l2-2l2-9l-14-11zM311 500l-1 0l-2-15l13-8l13 8l-1 12zM-151 527l0 11l-15 6l-8-7l1-14l9-3zM-89 539l18 5l5-5l-3-16l-8-4l-12 3l-2 4zM67 530l-2-6l12-12l15 11l-3 12l-6 5zM159 541l-15 8l-8-14l5-11l4-1l7 1zM178 524l0 14l-10 7l-9-4l-7-17l11-8zM168 559l0-14l-9-4l-15 8l-3 7l19 6zM-174 565l8-10l14 4l1 17l-9 3l-13-5zM137 560l4-4l19 6l-5 14l-10 4l-7-8zM-154 602l-4-4l-2-19l9-3l14 3l-6 19zM-155 616l-4 2l-15-3l-2-15l18-2l4 4zM126 617l-12-3l-4-13l12-10l15 6l-4 15zM-197 638l-5-5l-1-16l6-5l17 9l-1 14zM-155 616l-4 2l-2 14l11 10l10-8l-6-14z"/><path fill="#311e22" stroke="#311e22" d="M-58-14l12 5l2 15l-10 6l-8-4l-1-18zM-34-18l-12 9l2 15l14 3l11-6l0-5zM45 5l-2-17l14-4l8 8l0 10l-4 4zM83 23l-12 11l-12-8l2-20l4-4l18 6zM-111 27l4 19l9 1l9-4l3-13l-12-10zM83 23l-12 11l10 15l18-6l-7-16zM-106 69l-12-12l2-5l9-6l9 1l3 16zM-125 82l-6-15l13-10l12 12l-1 7l-14 8zM-154 117l13 10l1 10l-11 10l-17-11l6-14zM153 146l-7-4l0-14l9-8l14 3l-1 15zM-142 241l-14-7l-8 2l-1 13l15 8l8-6zM329 234l17 3l0 14l-17 5l-7-5l1-13zM187 275l14-6l8 6l1 16l-12 2l-5-2zM-330 311l-5 3l-19-8l0-3l15-16l11 11zM-219 306l-11 7l-13-2l-2-15l18-4l8 8zM-194 293l-10-5l-15 12l0 6l13 11l13-11zM270 295l12-2l5 3l1 11l-14 10l-12-6zM287 296l12-5l13 4l1 16l-15 8l-10-12zM-339 327l-13 6l-7-5l3-20l2-2l19 8zM-314 318l-16-7l-5 3l-4 13l10 12l16-10zM-291 330l-15 7l-7-8l-1-11l8-5l13 1zM-241 336l12-10l-1-13l-13-2l-5 5l0 12zM-215 333l10-5l-1-11l-13-11l-11 7l1 13zM-180 312l-6 19l10 3l12-5l-2-14l-8-5zM-153 336l-11-7l-2-14l18-6l2 2l1 18zM-114 331l-9-5l-1-13l1-1l16-3l7 10l0 4zM122 329l13 9l10-9l1-14l-14-8l-7 4zM194 329l-1-16l-13-3l-9 11l0 7l7 6zM194 329l-1-16l2-2l19 3l0 11l-14 7zM-240 342l8 6l10-3l7-12l-14-7l-12 10zM357 342l-10 9l-17-9l2-10l10-8l16 11zM-316 365l0-10l-14-11l-10 7l1 13l14 7zM-272 354l11-5l8 0l6 18l-14 8l-10-8zM-240 342l8 6l1 19l-5 3l-11-3l-6-18zM321 349l0 14l-9 6l-17-7l1-12l14-7zM321 349l9-7l17 9l-1 16l-13 2l-12-6zM-349 371l-1 13l-13 6l-10-5l1-16l9-8zM-316 365l-9 6l-2 14l11 7l12-6l-2-17zM-297 366l-9 3l2 17l7 4l13-7l1-7zM-77 369l18 1l2 20l-17 1l-8-9l1-9zM295 362l-7 5l0 17l8 6l14-5l2-16zM350 370l-4-3l-13 2l-4 21l16 4l9-8zM375 386l3-13l-12-9l-16 6l4 16l13 4zM333 415l12-8l0-13l-16-4l-8 3l-1 12zM213 443l-16 9l-1 12l11 5l12-9l3-12zM-268 464l0 19l-12 2l-11-12l0-3l7-9zM283 460l-10 5l1 9l12 9l15-3l-1-13zM-325 487l2 13l9 6l13-7l-3-16l-12-6zM-150 502l1-15l-16-7l-7 4l-2 12l16 9zM171 484l-5-2l-3 1l-7 17l8 11l13-10zM-164 520l-9 3l-9-7l-1-12l9-8l16 9zM-89 522l-9-19l15-7l12 6l-6 17zM100 503l-12-4l-11 5l0 8l15 11l9-4zM164 511l-8-11l-11 1l0 22l7 1l11-8zM-128 527l-13-7l-10 7l0 11l6 5l16-5zM-94 546l0 14l5 3l17-10l1-9l-18-5zM88 577l1-16l-9-9l-16 4l1 18l15 5zM-128 609l-15-11l6-19l7-3l5 3l4 12zM-102 597l2-1l-2-13l-4-4l-19 0l4 12zM137 597l8-5l0-12l-7-8l-17 7l1 12zM-102 597l-19-6l-7 18l1 0l8 7l11-6z"/><path fill="#1e1e1e" stroke="#1e1e1e" d="M90-11l-12-6l-13 9l0 10l18 6l2-1zM92 27l7 16l5 1l5-2l6-18l-10-6zM-142 102l2-9l15-11l4 2l7 16l-18 6zM284 233l15 7l11-9l-1-5l-11-9l-9 4zM-173 273l8 5l13-8l2-13l-15-8l-7 6zM171 281l1 13l5 4l16-7l-6-16l-6-2zM172 294l5 4l3 12l-9 11l-15-11l2-10zM214 314l5-7l-1-11l-8-5l-12 2l-3 18zM171 328l0-7l-15-11l-10 5l-1 14l16 4zM318 314l3 11l-12 10l-12-12l1-4l15-8zM333 310l9 14l-10 8l-11-7l-3-11zM-306 337l-7-8l-16 10l-1 5l14 11l11-12zM-280 349l-1-14l-10-5l-15 7l1 6l14 9zM321 349l9-7l2-10l-11-7l-12 10l1 8zM-47 365l-1-16l4-5l20 5l-10 21l-9-2zM-57 390l6 3l2 8l-15 11l-9-9l-1-12zM-75 441l-14 12l0 7l12 7l10-8l1-10zM82 468l10-11l-2-8l-12-4l-11 6l-1 10zM222 448l12-5l5 4l5 16l-10 6l-15-9zM-267 464l14 2l2 11l-13 8l-4-2l0-19zM-204 476l-14 11l-15-8l2-9l10-9l16 10zM-193 460l-12 11l1 5l7 8l16-4l-4-17zM219 460l15 9l-5 14l-4 3l-13-4l-5-13zM-181 480l9 4l-2 12l-9 8l-14-6l0-14zM82 478l9 4l-3 17l-11 5l-8-7l0-12zM187 505l-10-4l-6-17l14-3l13 13zM301 480l7 5l2 15l-9 8l-18-7l3-18zM-323 500l9 6l-1 11l-14 7l-11-5l2-14zM311 500l22-3l7 7l-2 8l-5 5l-9 0zM80 552l3-12l-16-10l-10 16l2 7l5 3zM-182 583l9-9l13 5l2 19l-18 2l-5-5zM-128 609l-15-11l-11 4l-1 14l9 4l19-11zM133 612l16 5l8-6l-1-13l-11-6l-8 5zM-199 649l-10 7l-11-4l0-15l18-4l5 5z"/><path fill="#27253a" stroke="#27253a" d="M108-9l-12-5l-6 3l-5 18l15 2l10-11zM-111 27l-5-2l-12 3l-2 12l14 12l9-6zM134 30l-2 13l-12 5l-11-6l6-18l6-3zM130 66l16-10l10 15l-1 5l-16 8l-6-2zM177 147l-9-9l1-15l4-2l16 6l0 13zM201 157l-11 5l-14-7l1-8l12-7l12 9zM248 219l-14-7l-1-8l11-13l17 7l-2 13zM-307 218l4 15l-13 9l-11-19l1-2l9-6zM130 255l2 16l18 7l5-4l1-13l-14-7zM-190 291l10-17l7-1l8 5l2 11l-8 8zM-165 278l13-8l13 6l2 15l-11 7l-15-9zM-137 291l12 3l2-2l4-17l-12-5l-8 6zM124 281l0 3l11 11l12-6l3-11l-18-7zM-24 349l-10 21l10 7l14-17l-1-7l-7-6zM15 390l7-3l4-16l-18-2l-4 2l-1 10zM76 389l0 17l-4 4l-17-6l-4-14l19-5zM-67 459l13 8l-1 12l-9 3l-12-6l-1-9zM207 469l5 13l-11 12l-3 0l-13-13l9-15l2-2zM-235 481l-6 17l-8 3l-11-6l-4-10l13-8zM212 482l13 4l4 14l-19 8l-9-14zM254 509l12-13l-1-14l-14 0l-2 3l-2 19zM311 500l-1 0l-9 8l-1 11l13 11l11-13zM-320 545l14-15l0-3l-9-10l-14 7l1 15zM-199 538l0-13l17-9l9 7l-1 14l-16 7zM-66 539l-3-16l17-6l7 8l-3 14l-2 3zM-188 556l14 9l8-10l0-11l-8-7l-16 7zM168 559l0-14l10-7l9 4l5 16l-18 7zM-322 559l-3 17l7 5l14-5l-4-17l-10-4zM-200 579l4-17l8-6l14 9l1 9l-9 9zM170 582l-3 11l-11 5l-11-6l0-12l10-4zM176 577l16 6l0 12l-9 9l-16-11l3-11zM-236 612l-14 9l-11-10l4-11l5-4l14 2zM-181 595l5 5l2 15l-6 6l-17-9l2-6zM165 616l17-8l1-4l-16-11l-11 5l1 13zM-215 613l12 4l1 16l-18 4l-6-6l1-12zM165 616l2 14l-13 4l-5-3l0-14l8-6zM182 633l17 9l11-9l0-12l-2-2l-20 0zM-220 652l0-15l-6-6l-17 6l2 12l16 6z"/><path fill="#3e3c72" stroke="#3e3c72" d="M-128 28l-14-10l10-12l14 0l2 19zM-128 28l-14-10l-1 0l-9 9l-1 14l10 7l13-8zM-145 68l-20-6l1-14l11-7l10 7l4 16zM147 52l6-6l7 0l18 13l-22 12l-10-15zM-205 138l1-11l9-7l7 3l8 12l-16 10zM-48 390l5-22l9 2l10 7l1 6l-3 4zM33 365l12 9l1 13l-7 4l-17-4l4-16zM-280 522l7-2l1-14l-14-10l-9 4l6 18zM266 519l-11-8l-1-2l12-13l17 5l-9 17zM289 527l11-8l1-11l-18-7l-9 17zM-45 525l17-4l7 7l1 6l-8 7l-20-2zM-276 559l-2-13l-9-5l-5 2l-8 13l14 8zM-231 556l-1-13l15-3l6 3l-1 12l-3 3zM213 544l-2 11l13 10l14-6l-6-14l-14-4zM243 534l-11 11l6 14l4 2l6-3l8-17zM264 539l-8 2l-8 17l17 4l7-7l-2-11zM-286 564l-14-8l-8 3l4 17l8 6l8-3zM238 559l4 2l3 16l-10 8l-13-9l2-11zM255 580l-10-3l-3-16l6-3l17 4l-1 15zM274 581l10-9l-1-10l-11-7l-7 7l-1 15zM301 578l-17-6l-1-10l16-11l6 18l-1 7zM278 592l10 5l6-2l7-17l-17-6l-10 9zM236 637l-1-15l-15-8l-10 7l0 12l13 9z"/><path fill="#36345c" stroke="#36345c" d="M-111 27l-5-2l-2-19l9-9l13 12l-2 11zM146 25l5 4l2 17l-6 6l-15-9l2-13zM-154 117l3-9l-13-13l-16 4l6 15l12 8zM173 121l3-17l-11-9l-13 9l3 16l14 3zM-49 401l11 9l-2 11l-10 7l-14-5l0-11zM-66 449l17-4l1 1l5 11l-11 10l-13-8zM60 477l9 8l13-7l0-10l-16-7l-7 7zM-216 500l-12 7l-13-9l6-17l2-2l15 8zM-55 479l-9 3l-3 18l15 6l9-8l1-12zM233 504l-4-4l-4-14l4-3l20 2l-2 19zM-77 519l8 4l17-6l0-11l-15-6l-4 2zM54 502l1 18l10 4l12-12l0-8l-8-7zM233 504l-4-4l-19 8l-2 8l14 8l6-2zM242 529l-14-7l5-18l14 0l7 5l1 2zM242 529l-14-7l-6 2l-4 17l14 4l11-11zM287 538l13 12l16-8l-3-12l-13-11l-11 8zM-318 555l10 4l8-3l8-13l-14-13l-14 15zM-211 543l12-5l9 6l2 12l-8 6l-16-7zM270 544l2 11l11 7l16-11l1-1l-13-12zM-238 565l7-9l16 2l-1 15l-13 6l-7-7zM-216 573l15 6l1 0l4-17l-16-7l-3 3zM176 577l16 6l9-8l-1-12l-8-5l-18 7zM211 555l-11 8l1 12l11 5l10-4l2-11zM322 585l-18-9l1-7l20-9l6 4l1 11zM-238 598l-14-2l-3-17l19-7l7 7l-1 12zM192 595l0-12l9-8l11 5l4 17l-19 1zM233 595l-11 7l-6-5l-4-17l10-4l13 9zM302 600l-8-5l7-17l3-2l18 9l0 8zM182 608l1-4l9-9l5 3l11 21l-20 0zM266 601l0 12l-12 5l-8-2l-1-14l11-6zM302 600l-8-5l-6 2l-4 20l14 3l8-6zM236 637l-1-15l11-6l8 2l3 17l-14 6zM266 613l12 8l-2 11l-11 6l-8-3l-3-17z"/><path fill="#812d43" stroke="#812d43" d="M-44 6l-10 6l0 13l12 5l10-6l2-15zM13 25l-7 4l-2 12l10 9l11-5l-2-17zM-18 70l9-10l-2-12l-7-5l-16 7l0 11zM32 48l3 13l-10 11l-13-10l2-12l11-5zM55 52l16-18l10 15l-3 12l-6 2l-15-3zM-18 79l10 7l8-1l3-20l-12-5l-9 10zM-121 84l14-8l12 8l-5 15l-10 4l-4-3zM-8 86l-5 14l8 11l13-10l-5-15l-3-1zM-141 127l12-5l8 2l4 13l-12 7l-11-7zM-185 176l-2-15l12-6l14 9l-2 9l-12 6zM207 216l14 5l13-9l-1-8l-13-9l-10 1zM164 214l14 7l2 7l-15 15l-10-9l7-19zM-121 237l14-8l11 10l-3 13l-9 7l-12-7zM130 255l12-1l6-19l-10-6l-13 12l-1 10zM-84 260l-15-8l-9 7l0 10l7 8l20-3zM-316 290l-3-15l-12-2l-9 7l1 7l11 11zM-307 295l11-6l1-14l-15-7l-9 7l3 15zM-286 310l-2-16l15-6l8 9l-3 14l-4 3zM-31 309l16 0l5 6l0 9l-8 7l-12-3zM13 313l-1 15l-8 3l-14-7l0-9l16-7zM-172 348l-4-14l12-5l11 7l0 5l-11 10zM-75 355l17-8l-12-20l-3 0l-12 10l0 1zM168 354l12-8l-2-12l-7-6l-10 5l-3 16zM202 345l15 6l-6 15l-7 3l-13-6l-1-9zM-316 392l0 10l-11 8l-11-7l1-12l10-6zM-82 382l-13 9l-2 12l12 8l12-8l-1-12zM258 386l-12 20l1 1l20 0l4-4l0-15l-5-4zM295 401l1-11l-8-6l-17 4l0 15l16 6zM89 408l13-7l6 6l-3 17l-7 4l-5-3zM308 422l2-11l-15-10l-8 8l1 14l11 5zM333 415l12-8l11 7l1 12l-16 6l-9-8zM-230 433l13-10l13 6l-7 16l-9 4l-9-7zM213 443l-4-15l-5-2l-15 8l0 7l8 11zM256 428l13-5l9 5l-1 8l-13 10l-5-4zM283 460l-10 5l-7-6l-2-13l13-10l11 12zM108 496l0-8l15-8l12 9l0 7l-10 10z"/><path fill="#582633" stroke="#582633" d="M-9 21l-10 13l-13-10l2-15l11-6l7 6zM-86 30l9-3l14 5l0 11l-12 8l-14-8zM47 30l12-4l12 8l-16 18l-11-11zM-87 67l12-13l0-3l-14-8l-9 4l3 16zM87 68l-9-7l3-12l18-6l5 1l-2 21zM101 100l14 6l6-3l2-17l-13-5l-5 4zM176 155l-8 6l0 12l9 7l8-4l5-14zM-133 231l-9 10l0 10l11 5l11-4l-1-15zM310 231l13 7l-1 13l-11 6l-11-5l-1-12zM-340 280l-15-5l10-21l8-2l2 1l4 20zM109 272l-10 4l-8-4l-4-13l16-12l13 7zM-219 300l-8-8l-1-15l12-6l10 7l2 10zM-85 299l-17-5l1-17l20-3l2 2l1 17zM-306 313l-1-18l-9-5l-12 8l-2 13l16 7zM-268 311l3-14l14-6l6 5l2 15l-5 5zM245 305l-13 6l-13-4l-1-11l11-8l16 10zM245 305l-13 6l4 19l7 3l11-9l2-10zM-222 345l14 11l12-9l1-12l-10-7l-10 5zM35 322l-15 9l6 19l6 2l9-5l3-17zM58 326l-14 4l-3 17l16 4l8-5l1-11zM194 329l-16 5l2 12l10 8l12-9l-2-13zM232 355l-15-4l5-19l14-2l7 3l1 9zM-77 369l2-14l17-8l10 2l1 16l-12 5zM77 363l-9 9l-11-6l0-15l8-5l12 7zM-271 367l10 8l2 12l-14 8l-11-12l1-7zM-304 386l7 4l2 15l-8 5l-13-8l0-10zM295 401l1-11l14-5l11 8l-1 12l-10 6zM-73 403l-12 8l1 16l8 3l12-7l0-11zM76 406l13 2l4 17l-17 2l-5-4l1-13zM376 411l0 14l-13 6l-6-5l-1-12l12-7zM76 427l2 18l12 4l9-9l-1-12l-5-3zM256 428l3 14l-20 5l-5-4l1-11l13-8zM-252 445l5 4l2 10l-8 7l-14-2l4-16zM-193 460l-12 11l-16-10l1-12l9-4l17 8zM82 468l10-11l12 8l-3 15l-10 2l-9-4zM300 467l1 13l7 5l13-8l2-14l-16-4zM-345 487l-12-9l-14 8l0 10l11 7l13-6zM-337 483l-8 4l-2 10l9 8l15-5l-2-13zM-106 499l8 4l15-7l1-14l-13-2zM163 483l-19-2l-9 8l0 7l10 5l11-1zM-150 502l-8 3l-6 15l13 7l10-7l-1-13zM-117 507l-2 14l-9 6l-13-7l-1-13l12-5zM-91 526l2-4l-9-19l-8-4l-11 8l-2 14l11 7zM125 514l16 10l4-1l0-22l-10-5l-10 10zM-108 528l-11-7l-9 6l-1 11l8 10l10-6zM-94 546l-17-4l3-14l17-2l2 13zM101 519l-9 4l-3 12l14 8l13-6l-2-14zM125 514l16 10l-5 11l-16 5l-4-3l-2-14zM89 561l12-4l2-14l-14-8l-6 5l-3 12zM88 577l9 6l16-9l0-11l-12-6l-12 4zM122 591l-1-12l-8-5l-16 9l2 10l11 8z"/><path fill="#44222a" stroke="#44222a" d="M13 25l-7 4l-15-8l-3-12l19-6l6 5zM13 25l0-17l15-3l8 6l0 10l-13 7zM36 21l11 9l12-4l2-20l-16-1l-9 6zM23 28l2 17l7 3l12-7l3-11l-11-9zM-129 122l8 2l11-11l0-10l-4-3l-18 6zM-168 136l-2 1l-5 18l14 9l11-6l-1-11zM176 155l-8 6l-13-7l-2-8l15-8l9 9zM-211 165l18-7l6 3l2 15l-11 10l-17-9zM201 157l10 9l0 3l-8 13l-18-6l5-14zM-219 181l6-4l17 9l1 7l-10 12l-12-4zM-327 223l-13 12l3 17l2 1l17-5l2-6zM-194 257l3 11l11 6l7-1l1-18l-14-7zM181 273l6 2l14-6l1-14l-13-6l-12 7zM340 276l15-9l0-8l-9-8l-17 5l5 16zM-293 314l-13-1l-1-18l11-6l8 5l2 16zM92 311l7 5l16-10l-4-11l-10-4l-10 9zM336 296l5-4l11 5l3 12l-13 15l-9-14zM103 328l-4-12l16-10l10 5l-3 18l-10 3zM214 325l8 7l14-2l-4-19l-13-4l-5 7zM262 311l12 6l4 12l-9 5l-15-10l2-10zM-339 327l10 12l-1 5l-10 7l-12-5l0-13zM-30 328l12 3l0 16l-6 2l-20-5l1-11zM-18 347l7 6l13-7l2-15l-14-7l-8 7zM26 350l-6-19l-8-3l-8 3l-2 15l12 6zM255 349l11-2l3-13l-15-10l-11 9l1 9zM-339 364l-1-13l-12-5l-11 7l0 8l14 10zM238 371l14-6l3-16l-11-7l-12 13l6 16zM296 350l-8-7l-16 9l3 11l13 4l7-5zM357 342l-10 9l-1 16l4 3l16-6l3-11zM-325 371l-14-7l-10 7l-1 13l13 7l10-6zM266 384l5 4l17-4l0-17l-13-4l-9 8zM76 389l0 17l13 2l13-7l-1-7l-16-9zM367 390l1 17l-12 7l-11-7l0-13l9-8zM-75 441l-1-11l-8-3l-6 1l-11 14l12 11zM-229 442l9 7l-1 12l-10 9l-14-11l-2-10zM239 447l5 16l1 1l21-5l-2-13l-5-4zM-77 467l1 9l-6 6l-13-2l-6-12l12-8zM100 503l-12-4l3-17l10-2l7 8l0 8zM333 497l1-12l9-7l9 5l6 16l-18 5zM-145 543l0 11l-7 5l-14-4l0-11l15-6zM-129 538l-16 5l0 11l17 11l7-8l0-9zM-94 546l0 14l-7 2l-20-5l0-9l10-6zM-66 539l16 3l1 11l-15 8l-8-8l1-9zM123 554l-3-14l-4-3l-13 6l-2 14l12 6zM-152 559l7-5l17 11l-2 11l-7 3l-14-3zM-101 562l-5 17l-19 0l-5-3l2-11l7-8zM-94 560l5 3l7 11l-20 9l-4-4l5-17zM-72 553l-17 10l7 11l6 5l10-4l2-14zM137 560l-14-6l-10 9l0 11l8 5l17-7z"/><path fill="#2e2c4b" stroke="#2e2c4b" d="M110-2l16 8l-5 15l-6 3l-10-6l-5-9zM-131 67l13-10l2-5l-14-12l-13 8l4 16zM-164 95l3-10l11-3l10 11l-2 9l-9 6zM143 101l9 3l13-9l0-8l-10-11l-16 8zM-296 213l-11 5l4 15l9 3l9-7l0-12zM3 381l1-10l-14-11l-14 17l1 6l12 5zM-51 393l3-3l22-3l-6 20l-6 3l-11-9zM52 430l19-7l1-13l-17-6l-8 9l2 16zM52 430l19-7l5 4l2 18l-11 6l-11-8zM-268 483l4 2l4 10l-12 11l-14-10l6-11zM-197 484l0 14l-9 5l-10-3l-2-13l14-11zM274 474l-9 8l1 14l17 5l3-18zM-314 506l-1 11l9 10l17-9l-6-18l-6-1zM-197 498l-9 5l1 17l6 5l17-9l-1-12zM187 505l2 11l12 5l7-5l2-8l-9-14l-3 0zM57 546l-15-9l3-13l10-4l10 4l2 6zM213 544l-12-8l0-15l7-5l14 8l-4 17zM324 517l-11 13l3 12l20-6l-3-19zM-322 559l-25 1l5-18l14-3l8 6l2 10zM213 544l-12-8l-14 6l5 16l8 5l11-8zM316 542l-16 8l-1 1l6 18l20-9zM316 542l20-6l9 4l-1 14l-13 10l-6-4zM-302 597l-16-8l0-8l14-5l8 6l-5 14zM-301 596l5-14l8-3l12 5l0 4l-7 18l-2 0zM-257 600l-19-12l0-4l12-11l9 6l3 17zM-217 598l11-5l5-14l-15-6l-13 6l-1 12zM-201 579l-5 14l11 13l14-11l-1-12l-18-4zM255 580l-10-3l-10 8l-2 10l12 7l11-6zM278 592l-12 9l-10-5l-1-16l9-3l10 4zM-261 611l-12 4l-10-9l7-18l19 12zM197 598l19-1l6 5l-2 12l-10 7l-2-2zM246 616l-11 6l-15-8l2-12l11-7l12 7zM278 592l10 5l-4 20l-6 4l-12-8l0-12zM-261 611l-12 4l-4 18l14 5l14-5l-1-12zM223 642l-13-9l-11 9l0 13l10 8l13-14z"/><path fill="#4369cd" stroke="#4369cd" d="M-174 42l0-15l-11-4l-13 11l0 6l11 6zM-164 48l11-7l1-14l-15-4l-7 4l0 15zM175 29l-7-6l-17 6l2 17l7 0l16-15zM-176 70l-9-6l-2-18l13-4l10 6l-1 14l-9 7zM176 31l-16 15l18 13l2-1l6-12zM-164 95l3-10l-13-16l-2 1l-8 18l2 10l2 1zM197 121l-8 6l-16-6l3-17l13-4l8 7zM201 149l9-9l-1-15l-12-4l-8 6l0 13zM201 157l10 9l17-8l-4-14l-14-4l-9 9zM263 179l-1 17l-1 2l-17-7l-4-13l0-1l14-4zM301 203l-3 14l11 9l14-17l-3-7l-5-3zM7 410l-2 7l-14 10l-4-1l-7-16l12-10zM7 410l-2 7l12 16l12-12l-3-11l-12-4zM49 429l-2-16l-14-6l-7 3l3 11l15 9zM-29 438l9 13l13-11l-2-13l-4-1l-15 4zM17 445l-10 2l-14-7l-2-13l14-10l12 16l1 11zM33 478l1-12l-9-5l-11 8l-3 14l10 6zM23 501l-13 6l-10-7l-1-16l12-1l10 6zM46 487l-13-9l-12 11l2 12l7 6l17-9zM22 526l10-12l13 10l-3 13l-7 4l-12-3z"/><path fill="#6d2a3b" stroke="#6d2a3b" d="M-63 32l0 11l9 7l16-2l-4-18l-12-5zM-19 34l1 9l-16 7l-4-2l-4-18l10-6zM6 29l-2 12l-15 7l-7-5l-1-9l10-13zM-63 69l7-6l2-13l-9-7l-12 8l0 3zM14 50l-10-9l-15 7l2 12l12 5l9-3zM32 48l12-7l11 11l2 8l-6 5l-16-4zM-107 76l12 8l12-5l-4-12l-8-4l-11 6zM121 103l12 4l1 14l-11 6l-10-5l2-16zM123 127l1 12l13 6l9-3l0-14l-12-7zM248 232l0-13l11-8l9 5l4 19l-18 3zM-316 242l-2 6l7 7l18-5l-1-14l-9-3zM-186 248l-2-13l17-4l7 5l-1 13l-7 6zM284 233l15 7l1 12l-10 5l-11-8l-1-12zM-319 275l9-7l-1-13l-7-7l-17 5l4 20zM-194 257l-14-3l-6 4l-2 13l10 7l15-10zM310 268l9 9l15-5l-5-16l-7-5l-11 6zM209 275l15-6l8 8l-3 11l-11 8l-8-5zM336 296l5-4l-1-16l-6-4l-15 5l-3 15zM-85 309l-15 10l-7-10l4-15l1 0l17 5zM270 295l-8 16l-6 3l-11-9l0-7l11-14zM-172 348l-4-14l-10-3l-9 4l-1 12l10 9zM-112 343l-2-12l-9-5l-9 5l1 14l15 2zM146 354l12-5l3-16l-16-4l-10 9l1 5zM200 332l14-7l8 7l-5 19l-15-6zM-231 367l-1-19l10-3l14 11l-3 10l-12 4zM252 365l14 6l9-8l-3-11l-6-5l-11 2zM77 363l-9 9l2 13l6 4l9-4l5-14zM238 371l3 7l17 8l8-2l0-13l-14-6zM-347 410l-14-10l-2-10l13-6l13 7l-1 12zM-284 383l-13 7l2 15l10 3l11-7l1-6zM-374 417l13-17l14 10l-3 12l-8 4l-16-7zM213 443l-4-15l15-5l11 9l-1 11l-12 5zM197 452l-8-11l-13 8l2 11l16 6l2-2zM283 460l17 7l7-8l-3-14l-3-2l-13 5zM-337 466l0 17l-8 4l-12-9l1-10l9-6zM-321 461l2 2l3 14l-9 10l-12-4l0-17zM-316 477l12 6l13-10l0-3l-17-10l-11 3zM-185 463l4 17l9 4l7-4l3-14l-12-6zM-157 463l14 5l-3 17l-3 2l-16-7l3-14zM171 484l-5-2l-1-14l13-8l16 6l-9 15zM321 477l13 8l9-7l0-10l-12-10l-8 5zM352 483l-9-5l0-10l13-6l10 6l-1 5zM-130 502l-12 5l-8-5l1-15l3-2l14 1zM362 500l-4-1l-6-16l13-10l10 19l-2 4zM100 503l1 16l13 4l11-9l0-8l-17-10zM137 560l4-4l3-7l-8-14l-16 5l3 14z"/><path fill="#3b8fd2" stroke="#3b8fd2" d="M175 29l11-8l16 11l-3 11l-13 3l-10-15zM186 46l-6 12l21 11l8-12l-1-7l-9-7zM202 80l-11 6l-11-6l-2-21l2-1l21 11zM209 83l4 17l7 5l12-4l0-16l-13-6zM-216 143l-13-6l1-17l8-4l16 11l-1 11zM224 144l7-10l-3-7l-10-7l-9 5l1 15zM228 158l5 2l11-7l3-16l-16-3l-7 10zM-276 200l17-7l-2-12l-13-7l-9 8l-1 9zM-296 213l-11 5l-10-3l0-19l8-6l11 6zM-296 213l-2-17l14-5l8 9l-1 10l-8 7z"/><path fill="#4a9dd1" stroke="#4a9dd1" d="M-217 68l-11-13l0-4l7-8l17 1l-1 20zM-210 89l-11-7l4-14l12-4l8 3l-2 15zM-241 114l-1-9l-7-7l-12 6l1 16l8 3zM220 105l-2 15l10 7l17-16l0-3l-13-7zM-275 162l1 12l13 7l12-9l-1-12l-5-3zM257 159l-13-6l-11 7l7 17l14-4zM277 172l-14 7l-9-6l3-14l8-5l11 10zM-317 215l-9 6l-13-10l-2-10l16-7l8 2z"/><path fill="#3a86d3" stroke="#3a86d3" d="M-185 64l-2-18l-11-6l-6 4l-1 20l8 3zM-184 88l-15-6l-11 7l2 11l13 6l13-8zM220 105l-2 15l-9 5l-12-4l0-14l16-7zM-236 140l7-3l13 6l-2 15l-13 2l-7-5zM17 445l8 16l9 5l8-4l2-6l-9-17l-17 5z"/><path fill="#a93046" stroke="#a93046" d="M-56 63l2-13l16-2l4 2l0 11l-6 7zM-64 75l11 8l12-1l1-14l-16-5l-7 6zM35 61l16 4l-1 15l-16 10l-9-10l0-8zM50 80l9 4l9-4l4-17l-15-3l-6 5zM81 90l-13-10l4-17l6-2l9 7l1 12zM-33 92l10 9l-5 18l-1 1l-11-4l-3-11zM14 125l9-9l0-10l-15-5l-13 10l-1 5zM47 117l-1-14l-12-9l-11 12l0 10l11 6zM101 100l14 6l-2 16l-13 6l-8-10l3-15zM3 143l-12-5l0-19l3-3l20 9l-1 14zM23 145l14-9l-3-14l-11-6l-9 9l-1 14zM-20 143l11-5l12 5l-4 18l-8 6l-8-7zM155 154l-10 12l-13-10l5-11l9-3l7 4zM-195 193l16 10l-1 6l-15 12l-7-4l-3-12zM14 198l-13-6l-10 7l3 19l8 4l14-8zM207 216l3-20l-5-5l-18 6l2 15l16 4zM-133 231l-1-11l18-6l9 8l0 7l-14 8zM205 216l-4 14l-12 6l-9-8l-2-7l11-9zM78 239l2 16l7 4l16-12l-3-11l-10-6zM180 228l9 8l0 13l-12 7l-10-3l-2-10zM-264 267l1-5l-11-11l-14 3l-2 17l16 4zM310 268l-10 7l-12-7l2-11l10-5l11 5zM-274 275l-16-4l-5 4l-1 14l8 5l15-6zM-264 267l14 12l-1 12l-14 6l-8-9l-1-13zM-251 291l6 5l18-4l-1-15l-9-4l-13 6zM256 284l-1-6l-6-6l-17 5l-3 11l16 10zM270 295l12-2l-2-19l-10-4l-15 8l1 6zM80 317l12-6l-1-11l-15-9l-7 3l-3 14zM-73 327l-3-9l-9-9l-15 10l0 4l15 14zM-70 327l16-5l3 1l8 10l-1 11l-4 5l-10-2zM112 332l10-3l13 9l1 5l-15 13l-12-5zM-186 356l-10-9l-12 9l-3 10l11 10l17-8zM77 363l13 8l9-3l2-13l-12-8l-12 6zM168 354l12-8l10 8l1 9l-10 9l-12-7zM238 371l-16 5l-11-10l6-15l15 4zM241 378l-5 17l2 7l8 4l12-20zM-340 428l15-9l-2-9l-11-7l-9 7l-3 12zM-327 410l11-8l13 8l-4 13l-7 4l-11-8zM-262 422l-10 5l-9-4l-4-15l11-7l14 12zM-238 412l11-7l8 8l2 10l-13 10l-8-8zM-109 413l12-10l12 8l1 16l-6 1l-18-12zM-374 419l16 7l-2 16l-12 7l-8-6l-1-16zM-262 422l-10 5l0 14l9 7l11-3l0-15zM288 448l-11-12l1-8l10-5l11 5l2 15zM-286 449l2 12l-7 9l-17-10l8-12l7-3zM176 449l-8-4l-11 8l-1 5l9 10l13-8zM356 462l10 6l9-4l0-16l-11-7l-9 8zM-371 486l-8-8l1-13l6-6l16 9l-1 10zM101 480l7 8l15-8l0-11l-11-6l-8 2zM163 483l-19-2l-3-16l15-7l9 10l1 14z"/><path fill="#5aabd0" stroke="#5aabd0" d="M209 57l-1-7l17-8l8 3l1 14l-12 6zM-227 84l6-2l4-14l-11-13l-12 11l4 14zM209 57l-8 12l1 11l7 3l10-4l3-14zM222 65l12-6l6 5l1 14l-9 7l-13-6zM-227 84l-4 14l-11 7l-7-7l-1-11l14-7zM-208 100l-10 9l-13-11l4-14l6-2l11 7zM209 83l4 17l-16 7l-8-7l2-14l11-6zM256 85l-1 13l-10 10l-13-7l0-16l9-7zM-218 109l-13-11l-11 7l1 9l13 6l8-4zM-236 140l7-3l1-17l-13-6l-11 9l1 12zM253 133l1-8l-9-14l-17 16l3 7l16 3zM-255 157l5 3l12-5l2-15l-15-5l-6 6zM265 154l2-12l-14-9l-6 4l-3 16l13 6zM277 172l12 7l-1 14l-6 3l-20 0l1-17z"/><path fill="#3a7cd4" stroke="#3a7cd4" d="M-176 70l-9-6l-12 3l-2 15l15 6zM-208 100l-10 9l-2 7l16 11l9-7l0-14zM-238 155l7 5l-2 20l-2 1l-14-9l-1-12zM-235 181l-14-9l-12 9l2 12l8 6l10-3zM-23 459l16 8l6-4l8-16l-14-7l-13 11zM17 445l8 16l-11 8l-15-6l8-16zM5 521l5-14l13-6l7 6l2 7l-10 12z"/><path fill="#952e44" stroke="#952e44" d="M-87 67l12-13l12 15l-1 6l-13 6l-6-2zM-41 82l8 6l15-9l0-9l-16-9l-6 7zM12 62l-9 3l-3 20l3 1l22-6l0-8zM88 80l-1-12l15-3l8 5l0 11l-5 4zM34 90l0 4l-11 12l-15-5l-5-15l22-6zM-9 119l-19 0l5-18l10-1l8 11l-1 5zM-117 137l6 2l14-7l1-6l-14-13l-11 11zM185 176l18 6l2 9l-18 6l-10-5l0-12zM-217 201l12 4l3 12l-14 8l-12-9l1-10zM-133 231l-1-11l-6-6l-10 4l-6 16l14 7zM-271 236l-3 15l-14 3l-5-4l-1-14l9-7zM124 251l-8 3l-13-7l-3-11l14-10l11 15zM-290 271l2-17l-5-4l-18 5l1 13l15 7zM211 251l13 4l0 14l-15 6l-8-6l1-14zM91 300l10-9l-2-15l-8-4l-11 8l-4 11zM287 296l12-5l1-16l-12-7l-8 6l2 19zM316 292l3-15l-9-9l-10 7l-1 16l13 4zM-37 306l-14 17l8 10l13-5l-1-19zM35 313l-8-6l-14 6l-1 15l8 3l15-9zM58 326l-14 4l-9-8l0-9l11-6l14 5zM-153 336l0 5l13 13l9-9l-1-14l-13-2zM-240 388l4-18l-11-3l-14 8l2 12l8 4zM90 371l-5 14l16 9l11-14l0-2l-13-10zM248 424l-1-17l-1-1l-8-4l-12 7l-2 14l11 9zM256 428l13-5l-2-16l-20 0l1 17zM278 428l10-5l-1-14l-16-6l-4 4l2 16zM308 422l2-11l10-6l13 10l-1 9l-9 5zM-252 430l0 15l5 4l18-7l-1-9l-8-8zM-194 453l-17-8l7-16l8-3l9 6l2 7zM355 449l9-8l-1-10l-6-5l-16 6l-1 13zM-263 448l-4 16l-1 0l-16-3l-2-12l14-8zM-89 453l-12-11l-10 1l1 23l9 2l12-8zM304 445l17-4l11 11l-1 6l-8 5l-16-4zM-120 476l-12 10l-14-1l3-17l10-5l13 9zM-106 499l-14-23l0-4l10-6l9 2l6 12zM-106 499l-11 8l-13-5l-2-16l12-10z"/><path fill="#cc3f3f" stroke="#cc3f3f" d="M-95 84l-5 15l14 7l12-9l-3-16l-6-2zM-77 81l3 16l11 5l5-2l5-17l-11-8zM-53 83l-5 17l15 5l10-13l0-4l-8-6zM-33 88l15-9l10 7l-5 14l-10 1l-10-9zM34 90l0 4l12 9l17-3l-4-16l-9-4zM-110 103l10-4l14 7l1 12l-11 8l-14-13zM-53 135l16 9l7-5l1-19l-11-4l-11 7zM-20 143l11-5l0-19l-19 0l-1 1l-1 19zM137 145l-13-6l-12 8l0 9l10 6l10-6zM-163 173l11 11l14-7l-2-13l-10-6l-11 6zM155 154l-10 12l0 9l9 3l14-5l0-12zM2 183l-1 9l-10 7l-12-4l0-17l12-11zM155 191l13 8l9-7l0-12l-9-7l-14 5zM-179 203l9-6l7 1l3 15l-10 8l-10-12zM-140 214l0-10l-16-9l-7 3l3 15l10 5zM-189 234l-6-13l-7-4l-14 8l-1 7l11 9zM-7 243l-16-14l1-4l16-7l8 4l2 13zM99 212l17 4l-2 10l-14 10l-10-6l-1-7zM-194 257l-14-3l2-13l17-7l1 1l2 13zM189 236l12-6l9 10l1 11l-9 4l-13-6zM-64 258l0 13l-15 5l-2-2l-3-14l9-9zM87 259l-7-4l-15 6l-1 6l16 13l11-8zM288 268l-8 6l-10-4l-1-14l10-7l11 8zM-13 276l4 16l14 1l6-5l2-9l-13-8zM69 294l-12-7l-2-11l9-9l16 13l-4 11zM-12 295l3-3l14 1l1 15l-16 7l-5-6zM13 313l14-6l-1-8l-15-11l-6 5l1 15zM-73 327l-3-9l15-17l7 21l-16 5zM80 317l-14-9l-6 4l-2 14l8 9l13-6zM103 328l-4-12l-7-5l-12 6l-1 12l11 8zM-98 364l-16 4l-4-1l2-20l4-4l14 4zM-77 369l2-14l-10-17l-13 9l0 17l17 9zM146 354l12-5l10 5l1 11l-13 6l-10-8zM-226 398l-14-10l4-18l5-3l8 3l5 22zM203 385l1-16l7-3l11 10l-3 10l-9 5zM238 371l3 7l-5 17l-17-9l3-10l16-5zM-251 408l0-17l11-3l14 10l-1 7l-11 7zM210 402l16 7l12-7l-2-7l-17-9l-9 5zM-294 430l-13-7l4-13l8-5l10 3l4 15zM-262 422l10 8l14-5l0-13l-13-4l-9 5zM-335 441l-5-13l-10-6l-8 4l-2 16l12 8zM-272 441l-14 8l-7-4l-1-15l13-7l9 4zM189 434l0 7l-13 8l-8-4l0-17l11-1zM-347 462l-9 6l-16-9l0-10l12-7l12 8zM-174 460l12 6l5-3l3-20l-5-2l-13 4z"/><path fill="#d75139" stroke="#d75139" d="M82 95l-13 9l-6-4l-4-16l9-4l13 10zM70 120l-1-16l-6-4l-17 3l1 14l10 8zM82 95l-13 9l1 16l22-2l3-15zM51 140l6-15l-10-8l-13 5l3 14zM137 179l-11-4l-4-13l10-6l13 10l0 9zM-88 236l-8 3l-11-10l0-7l13-10l10 5zM-74 240l10-6l1-13l-10-7l-11 3l-4 19zM207 216l14 5l2 9l-13 10l-9-10l4-14zM248 232l-16 7l-9-9l-2-9l13-9l14 7zM-74 240l-1 11l11 7l12-9l-3-10l-9-5zM1 259l13-5l-2-14l-8-5l-11 8l-2 8zM68 235l-6 3l-2 17l5 6l15-6l-2-16zM-214 258l-13-8l-12 4l2 19l9 4l12-6zM-18 273l-3-17l12-5l10 8l-1 12l-13 5zM0 271l13 8l12-8l-4-13l-7-4l-13 5zM228 252l21 6l0 14l-17 5l-8-8l0-14zM254 252l15 4l1 14l-15 8l-6-6l0-14zM-46 275l16 4l2 13l-10 11l-14-11l2-15zM-18 273l-12 6l2 13l16 3l3-3l-4-16zM-37 306l-1-3l10-11l16 3l-3 14l-16 0zM35 313l-8-6l-1-8l9-10l11 5l0 13zM66 308l3-14l-12-7l-11 7l0 13l14 5zM101 355l8-4l12 5l2 11l-11 11l-13-10zM-206 392l5-4l1-12l-11-10l-12 4l5 22zM188 388l-8-6l1-10l10-9l13 6l-1 16zM204 426l5 2l15-5l2-14l-16-7l-9 8zM-325 444l8-7l3-10l-11-8l-15 9l5 13zM-293 445l-7 3l-17-11l3-10l7-4l13 7zM-325 444l8-7l17 11l-8 12l-11 3l-2-2zM-157 463l3-20l6-1l14 7l1 14l-10 5zM-110 466l-1-23l-7-5l-16 11l1 14l13 9z"/><path fill="#bb3842" stroke="#bb3842" d="M82 95l13 8l6-3l4-15l-17-5l-7 10zM99 133l13 14l12-8l-1-12l-10-5l-13 6zM-151 147l1 11l10 6l11-7l0-13l-11-7zM-1 161l4-18l10-4l10 6l1 5l-12 15zM-1 161l-8 6l11 16l15-9l-5-9zM-185 176l-11 10l1 7l16 10l9-6l-5-18zM164 214l14 7l11-9l-2-15l-10-5l-9 7zM-238 222l-15-9l-7 5l-2 14l12 8l11-10zM-189 234l-6-13l15-12l10 12l-1 10l-17 4zM-150 218l-10-5l-10 8l-1 10l7 5l8-2zM136 222l2 7l-13 12l-11-15l2-10l3-2zM147 211l15 4l-7 19l-7 1l-10-6l-2-7zM-74 240l-1 11l-9 9l-15-8l3-13l8-3zM-50 277l-2 15l-9 6l-17-5l-1-17l15-5zM-76 318l15-17l0-3l-17-5l-7 6l0 10zM-37 306l-1-3l-14-11l-9 6l0 3l7 21l3 1zM-98 347l-14-4l-2-12l14-8l15 14l0 1zM77 353l-12-7l1-11l13-6l11 8l-1 10zM89 347l1-10l13-9l9 4l-3 19l-8 4zM-178 371l-5-3l-3-12l14-8l8 3l1 14zM-140 362l0-8l-13-13l-11 10l1 14l9 4zM-129 370l11-3l2-20l-15-2l-9 9l0 8zM-81 373l-17-9l-16 4l8 19l11 4l13-9zM-260 413l-14-12l1-6l14-8l8 4l0 17zM-108 416l-11 17l1 5l7 5l10-1l11-14zM304 445l17-4l2-12l-15-7l-9 6l2 15zM332 452l-11-11l2-12l9-5l9 8l-1 13zM-325 444l4 17l-16 5l-10-4l-1-12l13-9zM-193 460l8 3l11-3l2-15l-13-6l-9 14zM92 457l12 8l8-2l3-17l-16-6l-9 9zM331 458l12 10l13-6l-1-13l-15-4l-8 7zM123 469l0 11l12 9l9-8l-3-16l-7-3z"/><path fill="#4a4fa2" stroke="#4a4fa2" d="M180 80l-15 7l0 8l11 9l13-4l2-14zM-218 158l2-15l11-5l9 7l3 13l-18 7zM-233 180l2-20l13-2l7 7l-2 12l-6 4zM268 216l11-2l3-18l-20 0l-1 2l-2 13zM309 226l14-17l9 8l-3 17l-6 4l-13-7zM-26 387l3-4l12 5l3 12l-12 10l-12-3zM14 406l12 4l7-3l6-16l-17-4l-7 3zM-43 457l-5-11l19-8l9 13l-3 8l-7 4zM59 468l7-7l1-10l-11-8l-12 13l-2 6zM-54 467l11-10l13 6l-3 17l-9 6l-13-7zM46 487l14-10l9 8l0 12l-15 5l-7-4zM-252 519l3-18l-11-6l-12 11l-1 14l6 3zM-206 503l1 17l-17 2l-6-3l0-12l12-7zM-45 525l17-4l2-13l-17-10l-9 8l0 11zM47 498l7 4l1 18l-10 4l-13-10l-2-7zM-222 522l-6-3l-12 8l0 10l8 6l15-3zM264 539l2-20l8-1l15 9l-2 11l-17 6z"/><path fill="#8acdd6" stroke="#8acdd6" d="M-282 105l0 6l11 11l11-2l-1-16l-14-5zM276 164l10-11l5-10l-12-6l-12 5l-2 12zM297 173l9-17l-4-13l-1-1l-10 1l-5 10zM-309 185l-7-10l2-11l13-8l5 2l0 17zM296 176l16 5l3 18l-14 4l-13-10l1-14z"/><path fill="#ee8648" stroke="#ee8648" d="M-85 118l11 5l10-8l1-13l-11-5l-12 9zM99 133l-11 7l-11-1l-7-19l22-2l8 10zM-85 146l-12-14l-14 7l2 16l14 4l9-5zM-85 146l14-11l9 4l1 18l-15 4l-10-7zM51 140l20 5l0 15l-14 2l-9-6zM99 133l13 14l0 9l-11 7l-10-4l-3-19zM-152 184l-4 11l16 9l10-10l1-9l-9-8zM-116 203l-14-9l1-9l13-7l11 4l0 14zM-95 202l-10-6l0-14l7-4l11 4l4 12zM35 199l-12-7l3-15l7-4l14 11l-1 10zM56 205l16-9l-7-13l-10-3l-8 4l-1 10zM78 197l-6-1l-7-13l12-16l12 21l-2 5zM-73 214l0-17l-10-3l-12 8l1 10l10 5zM-73 214l0-17l7-5l14 9l2 12l-13 8zM-22 225l16-7l-3-19l-12-4l-4 2l-7 15zM141 200l14-9l13 8l-4 15l-2 1l-15-4zM50 217l-2 17l-10 7l-10-8l-2-14l8-5zM89 223l1 7l-12 9l-10-4l-1-14l11-6zM12 240l16-7l10 8l0 2l-17 15l-7-4zM48 234l14 4l-2 17l-15-2l-7-10l0-2zM46 294l-11-5l-2-15l7-3l15 5l2 11zM-178 371l-5-3l-17 8l-1 12l17 7l9-8zM-131 384l13 10l0 12l-15 4l-5-4l-1-16zM108 407l-3 17l20 7l6-6l1-11l-9-8zM-185 439l-2-7l18-12l3 4l7 17l-13 4z"/><path fill="#e26233" stroke="#e26233" d="M-51 123l11-7l-3-11l-15-5l-5 2l-1 13zM-85 146l14-11l-3-12l-11-5l-11 8l-1 6zM-129 144l0 13l12 4l8-6l-2-16l-6-2zM-53 135l16 9l-3 7l-17 8l-4-2l-1-18zM-40 151l3-7l7-5l10 4l3 17l-18 2zM23 145l14-9l14 4l-3 16l-12 6l-12-12zM-76 161l1 12l12 10l11-7l-5-17l-4-2zM-35 162l18-2l8 7l-12 11l-16-6zM12 165l5 9l9 3l7-4l3-11l-12-12zM36 162l-3 11l14 11l8-4l2-18l-9-6zM-175 179l5 18l7 1l7-3l4-11l-11-11zM-44 178l4 12l15 7l4-2l0-17l-16-6zM-134 220l18-6l0-11l-14-9l-10 10l0 10zM78 197l0 18l11 8l10-11l-3-11l-9-8zM141 200l6 11l-11 11l-17-8l3-12l15-4zM12 240l16-7l-2-14l-10-5l-14 8l2 13zM-262 232l12 8l2 10l-15 12l-11-11l3-15zM-239 230l-11 10l2 10l9 4l12-4l1-11zM-208 254l-6 4l-13-8l1-11l9-7l11 9zM210 240l13-10l9 9l-4 13l-4 3l-13-4zM248 232l-16 7l-4 13l21 6l5-6l0-14zM254 238l0 14l15 4l10-7l-1-12l-6-2zM-264 267l1-5l15-12l9 4l2 19l-13 6zM-64 258l0 13l14 6l4-2l5-19l-11-7zM123 367l13 3l10-7l0-9l-10-11l-15 13zM-129 370l11-3l4 1l8 19l-12 7l-13-10zM146 363l10 8l1 16l-12 3l-7-4l-2-16zM112 380l12 11l-1 15l-15 1l-6-6l-1-7zM105 424l20 7l-3 11l-7 4l-16-6l-1-12zM115 446l-3 17l11 6l11-7l-1-11l-11-9z"/><path fill="#72bcd3" stroke="#72bcd3" d="M271 117l-17 8l-9-14l0-3l10-10l17 7zM-276 140l0-1l5-17l11-2l8 3l1 12l-6 6zM271 117l-17 8l-1 8l14 9l12-5l-1-13zM-279 157l-17 1l-5-2l-4-11l10-13l19 7l0 1zM-275 162l1 12l-9 8l-13-7l0-17l17-1zM277 172l12 7l7-3l1-3l-11-20l-10 11zM296 176l16 5l8-6l-1-12l-13-7l-9 17zM-298 196l-11-6l0-5l13-10l13 7l-1 9z"/><path fill="#e8743e" stroke="#e8743e" d="M-71 135l9 4l9-4l2-12l-13-8l-10 8zM77 139l-6 6l-20-5l6-15l13-5zM88 140l3 19l-14 7l-6-6l0-15l6-6zM-52 176l-5-17l17-8l5 11l-2 10l-7 6zM2 183l-1 9l13 6l9-6l3-15l-9-3zM87 193l2-5l13-9l13 6l1 10l-20 6zM141 200l14-9l-1-13l-9-3l-8 4l0 19zM-94 212l-13 10l-9-8l0-11l11-7l10 6zM122 202l-6-7l-20 6l3 11l17 4l3-2zM-238 222l10-6l12 9l-1 7l-9 7l-13-9zM68 235l-6 3l-14-4l2-17l5-3l12 7zM-55 239l14-7l11 4l0 16l-11 4l-11-7zM-9 251l2-8l-16-14l-7 7l0 16l9 4zM-46 275l16 4l12-6l-3-17l-9-4l-11 4zM45 253l-5 18l-7 3l-8-3l-4-13l17-15zM60 255l5 6l-1 6l-9 9l-15-5l5-18zM33 274l-8-3l-12 8l-2 9l15 11l9-10zM-129 370l-2 14l-8 6l-16-3l1-18l14-7zM123 367l13 3l2 16l-14 5l-12-11l0-2zM164 391l-7-4l-1-16l13-6l12 7l-1 10zM-206 392l-12 0l-8 6l-1 7l8 8l16-4zM-118 394l0 12l9 7l12-10l2-12l-11-4zM-203 409l7 5l0 12l-8 3l-13-6l-2-10zM189 434l15-8l-3-16l-13-4l-3 2l-6 19zM157 453l11-8l0-17l-5-3l-16 10l1 7zM134 462l7 3l15-7l1-5l-9-11l-15 9z"/><path fill="#a0d8d8" stroke="#a0d8d8" d="M-275 162l20-5l-2-16l-19-1l-3 17z"/><path fill="#f2985d" stroke="#f2985d" d="M-129 157l-11 7l2 13l9 8l13-7l-1-17zM-95 159l-3 19l-7 4l-11-4l-1-17l8-6zM-86 154l10 7l1 12l-12 9l-11-4l3-19zM77 166l-6-6l-14 2l-2 18l10 3l12-16zM89 188l-12-21l0-1l14-7l10 4l1 16zM137 198l0-19l-11-4l-11 10l1 10l6 7zM-50 213l-2-12l12-11l15 7l-7 15l-13 2zM35 199l-12-7l-9 6l2 16l10 5l8-5zM50 217l-16-3l1-15l11-5l10 11l-1 9zM78 197l-6-1l-16 9l-1 9l12 7l11-6zM-45 214l13-2l10 13l-1 4l-7 7l-11-4zM-154 369l-9-4l-15 6l3 16l14 4l6-4zM123 406l9 8l9-5l4-19l-7-4l-14 5zM-169 420l-18 12l-9-6l0-12l12-10l15 11zM-109 413l-9-7l-15 4l1 14l13 9l11-17zM-119 433l-13-9l-11 5l-5 13l14 7l16-11zM122 442l11 9l15-9l-1-7l-16-10l-6 6z"/><path fill="#f9bc8c" stroke="#f9bc8c" d="M115 185l-13-6l-1-16l11-7l10 6l4 13zM-206 392l5-4l17 7l0 9l-12 10l-7-5zM-175 387l-9 8l0 9l15 11l9-9l-1-15zM-147 410l-2 12l-17 2l-3-4l0-5l9-9zM-147 410l-2 12l6 7l11-5l-1-14l-5-4zM132 414l-1 11l16 10l16-10l-4-11l-18-5zM-148 442l5-13l-6-7l-17 2l7 17l5 2z"/><path fill="#f5a972" stroke="#f5a972" d="M-73 197l-10-3l-4-12l12-9l12 10l-3 9zM-66 192l3-9l11-7l8 2l4 12l-12 11zM-64 234l9 5l14-7l-4-18l-5-1l-13 8zM-139 390l1 16l-9 4l-13-4l-1-15l6-4zM164 391l-7-4l-12 3l-4 19l18 5l8-11zM188 406l0-18l-8-6l-16 9l3 12l18 5zM201 410l9-8l0-11l-7-6l-15 3l0 18zM179 427l-11 1l-5-3l-4-11l8-11l18 5z"/></g></g><use href="#bl" clip-path="url(#oclip)" stroke="#fff" stroke-opacity="0.92" stroke-width="2.1" stroke-linecap="round"/><use href="#bo" fill="none" stroke="#fff" stroke-opacity="0.92" stroke-width="2"/></g>
<g transform="translate(1139.3 524.5)"><use href="#bo" fill="url(#gg)"/><g clip-path="url(#dclip)"><g transform="scale(0.5)" stroke-width="1.2" stroke-linejoin="round"><path fill="#3b8fd2" stroke="#3b8fd2" d="M-132 6l-2-15l-6-3l-12 6l-1 9l10 15l1 0zM146 12l8-6l12 5l2 12l-17 6l-5-4zM156 71l-1 5l10 11l15-7l-2-21zM-184 88l-15-6l-11 7l2 11l13 6l13-8zM209 83l4 17l-16 7l-8-7l2-14l11-6zM-276 200l17-7l-2-12l-13-7l-9 8l-1 9zM-317 215l-9 6l-13-10l-2-10l16-7l8 2zM-33 480l15 7l13-6l-2-14l-16-8l-7 4zM-5 481l4 3l1 16l-11 5l-8-2l1-16zM23 501l-13 6l-10-7l-1-16l12-1l10 6zM287 538l13 12l16-8l-3-12l-13-11l-11 8zM-276 559l-2-13l-9-5l-5 2l-8 13l14 8zM274 581l10-9l-1-10l-11-7l-7 7l-1 15zM-301 596l5-14l8-3l12 5l0 4l-7 18l-2 0zM-257 600l-19-12l0-4l12-11l9 6l3 17zM266 601l0 12l-12 5l-8-2l-1-14l11-6zM-220 652l0-15l-6-6l-17 6l2 12l16 6z"/><path fill="#3a86d3" stroke="#3a86d3" d="M-109-6l-7-8l-18 5l2 15l14 0l9-9zM126 6l-5 15l13 9l12-5l0-13l-17-7zM146 25l5 4l2 17l-6 6l-15-9l2-13zM-145 68l-20-6l1-14l11-7l10 7l4 16zM147 52l6-6l7 0l18 13l-22 12l-10-15zM-208 100l-10 9l-2 7l16 11l9-7l0-14zM224 144l7-10l-3-7l-10-7l-9 5l1 15zM228 158l5 2l11-7l3-16l-16-3l-7 10zM277 172l12 7l-1 14l-6 3l-20 0l1-17zM-296 213l-2-17l14-5l8 9l-1 10l-8 7zM301 203l-3 14l11 9l14-17l-3-7l-5-3zM-23 459l16 8l6-4l8-16l-14-7l-13 11zM-33 480l15 7l-1 16l-7 5l-17-10l1-12zM46 487l-13-9l-12 11l2 12l7 6l17-9zM-45 525l17-4l2-13l-17-10l-9 8l0 11zM5 521l5-14l13-6l7 6l2 7l-10 12zM47 498l7 4l1 18l-10 4l-13-10l-2-7zM311 500l-1 0l-9 8l-1 11l13 11l11-13zM-287 541l7-19l7-2l6 3l3 16l-14 7zM264 539l-8 2l-8 17l17 4l7-7l-2-11zM-286 564l-14-8l-8 3l4 17l8 6l8-3zM255 580l-10-3l-3-16l6-3l17 4l-1 15zM278 592l-12 9l-10-5l-1-16l9-3l10 4zM-236 612l-14 9l-11-10l4-11l5-4l14 2zM-261 611l-12 4l-4 18l14 5l14-5l-1-12z"/><path fill="#4a4fa2" stroke="#4a4fa2" d="M-109-6l15-10l13 6l-2 13l-13 6l-13-12zM108-9l-12-5l-6 3l-5 18l15 2l10-11zM-111 27l-5-2l-12 3l-2 12l14 12l9-6zM130 66l16-10l10 15l-1 5l-16 8l-6-2zM-277 210l17 8l7-5l2-14l-8-6l-17 7zM288 193l13 10l-3 14l-9 4l-10-7l3-18zM-252 519l3-18l-11-6l-12 11l-1 14l6 3zM242 529l-14-7l-6 2l-4 17l14 4l11-11zM-231 556l-1-13l15-3l6 3l-1 12l-3 3zM-238 565l7-9l16 2l-1 15l-13 6l-7-7zM211 555l-11 8l1 12l11 5l10-4l2-11zM192 595l0-12l9-8l11 5l4 17l-19 1zM233 595l-11 7l-6-5l-4-17l10-4l13 9zM-215 613l12 4l6-5l2-6l-11-13l-11 5zM-199 649l-10 7l-11-4l0-15l18-4l5 5z"/><path fill="#3e3c72" stroke="#3e3c72" d="M-81-10l2-1l16 1l1 18l-13 1l-8-6zM90-11l-12-6l-13 9l0 10l18 6l2-1zM100 9l5 9l-13 9l-9-4l0-15l2-1zM-111 27l4 19l9 1l9-4l3-13l-12-10zM92 27l7 16l5 1l5-2l6-18l-10-6zM-164 95l3-10l11-3l10 11l-2 9l-9 6zM143 101l9 3l13-9l0-8l-10-11l-16 8zM201 157l10 9l17-8l-4-14l-14-4l-9 9zM14 406l12 4l7-3l6-16l-17-4l-7 3zM52 430l4 13l-12 13l-9-17l9-9l5-1zM-66 449l17-4l1 1l5 11l-11 10l-13-8zM46 487l14-10l9 8l0 12l-15 5l-7-4zM254 509l12-13l-1-14l-14 0l-2 3l-2 19zM-222 522l-6-3l-12 8l0 10l8 6l15-3zM-211 543l-6-3l-5-18l17-2l6 5l0 13zM213 544l-12-8l0-15l7-5l14 8l-4 17zM-211 543l12-5l9 6l2 12l-8 6l-16-7zM80 552l3-12l-16-10l-10 16l2 7l5 3zM-216 573l15 6l1 0l4-17l-16-7l-3 3zM-200 579l4-17l8-6l14 9l1 9l-9 9zM-201 579l-5 14l11 13l14-11l-1-12l-18-4zM165 616l17-8l1-4l-16-11l-11 5l1 13zM165 616l17-8l6 11l-6 14l-6 3l-9-6z"/><path fill="#2e2c4b" stroke="#2e2c4b" d="M-58-14l12 5l2 15l-10 6l-8-4l-1-18zM110 81l0-11l13-7l7 3l3 16l-10 4zM173 121l3-17l-11-9l-13 9l3 16l14 3zM-218 158l2-15l11-5l9 7l3 13l-18 7zM-296 213l-11 5l4 15l9 3l9-7l0-12zM-48 390l5-22l9 2l10 7l1 6l-3 4zM-51 393l3-3l22-3l-6 20l-6 3l-11-9zM52 430l19-7l1-13l-17-6l-8 9l2 16zM59 468l7-7l1-10l-11-8l-12 13l-2 6zM-337 483l-8 4l-2 10l9 8l15-5l-2-13zM-268 483l4 2l4 10l-12 11l-14-10l6-11zM-235 481l-6 17l-8 3l-11-6l-4-10l13-8zM301 480l7 5l2 15l-9 8l-18-7l3-18zM-206 503l1 17l-17 2l-6-3l0-12l12-7zM-94 546l0 14l5 3l17-10l1-9l-18-5zM168 559l0-14l10-7l9 4l5 16l-18 7zM88 577l1-16l-9-9l-16 4l1 18l15 5zM176 577l16 6l0 12l-9 9l-16-11l3-11z"/><path fill="#27253a" stroke="#27253a" d="M-34-18l-12 9l2 15l14 3l11-6l0-5zM83 23l-12 11l-12-8l2-20l4-4l18 6zM110 70l13-7l-3-15l-11-6l-5 2l-2 21zM-154 117l3-9l-13-13l-16 4l6 15l12 8zM-205 138l1-11l9-7l7 3l8 12l-16 10zM-233 180l2-20l13-2l7 7l-2 12l-6 4zM228 158l5 2l7 17l0 1l-13 5l-16-14l0-3zM248 219l-14-7l-1-8l11-13l17 7l-2 13zM26 350l-12 2l-6 17l18 2l7-6l-1-13zM33 365l12 9l1 13l-7 4l-17-4l4-16zM-49 401l11 9l-2 11l-10 7l-14-5l0-11zM52 430l19-7l5 4l2 18l-11 6l-11-8zM-67 459l13 8l-1 12l-9 3l-12-6l-1-9zM-325 487l2 13l9 6l13-7l-3-16l-12-6zM-291 473l11 12l-6 11l-9 4l-6-1l-3-16zM212 482l13 4l4 14l-19 8l-9-14zM233 504l-4-4l-4-14l4-3l20 2l-2 19zM311 500l-1 0l-2-15l13-8l13 8l-1 12zM54 502l1 18l10 4l12-12l0-8l-8-7zM187 505l2 11l12 5l7-5l2-8l-9-14l-3 0zM-89 539l18 5l5-5l-3-16l-8-4l-12 3l-2 4zM189 516l12 5l0 15l-14 6l-9-4l0-14zM-66 539l16 3l1 11l-15 8l-8-8l1-9zM-72 553l-17 10l7 11l6 5l10-4l2-14zM-182 583l9-9l13 5l2 19l-18 2l-5-5zM-155 616l-4 2l-15-3l-2-15l18-2l4 4zM-178 637l17-5l2-14l-15-3l-6 6l-1 14zM-155 616l-4 2l-2 14l11 10l10-8l-6-14z"/><path fill="#1e1e1e" stroke="#1e1e1e" d="M-8-17l17 5l-2 15l-19 6l-7-6l0-5zM36 21l11 9l12-4l2-20l-16-1l-9 6zM-86 30l9-3l14 5l0 11l-12 8l-14-8zM-87 67l12-13l0-3l-14-8l-9 4l3 16zM12 62l-9 3l-3 20l3 1l22-6l0-8zM121 103l12 4l10-6l-4-17l-6-2l-10 4zM177 147l-9-9l1-15l4-2l16 6l0 13zM233 204l11-13l-4-13l-13 5l-7 12zM-285 217l0 12l14 7l9-4l2-14l-17-8zM272 235l6 2l6-4l5-12l-10-7l-11 2zM310 231l13 7l-1 13l-11 6l-11-5l-1-12zM-339 327l10 12l-1 5l-10 7l-12-5l0-13zM-30 328l12 3l0 16l-6 2l-20-5l1-11zM-18 347l7 6l13-7l2-15l-14-7l-8 7zM26 350l-6-19l-8-3l-8 3l-2 15l12 6zM-47 365l-1-16l4-5l20 5l-10 21l-9-2zM32 352l9-5l16 4l0 15l-12 8l-12-9zM-204 476l-14 11l-15-8l2-9l10-9l16 10zM60 477l9 8l13-7l0-10l-16-7l-7 7zM274 474l-9 8l-14 0l-6-18l21-5l7 6zM-197 484l0 14l-9 5l-10-3l-2-13l14-11zM-83 496l1-14l6-6l12 6l-3 18l-4 2zM333 497l1-12l9-7l9 5l6 16l-18 5zM-199 538l0-13l17-9l9 7l-1 14l-16 7zM-94 560l5 3l7 11l-20 9l-4-4l5-17z"/><path fill="#22212c" stroke="#22212c" d="M13 8l-6-5l2-15l4-4l16 5l-1 16zM83 23l-12 11l10 15l18-6l-7-16zM-106 69l-12-12l2-5l9-6l9 1l3 16zM87 68l-9-7l3-12l18-6l5 1l-2 21zM-125 82l-6-15l13-10l12 12l-1 7l-14 8zM-162 122l-12-8l-14 9l8 12l10 2l2-1zM284 233l15 7l11-9l-1-5l-11-9l-9 4zM-327 223l-13 12l3 17l2 1l17-5l2-6zM329 234l17 3l0 14l-17 5l-7-5l1-13zM-340 280l-15-5l10-21l8-2l2 1l4 20zM340 276l15-9l0-8l-9-8l-17 5l5 16zM-339 327l-13 6l-7-5l3-20l2-2l19 8zM-24 349l-10 21l10 7l14-17l-1-7l-7-6zM-11 353l13-7l12 6l-6 17l-4 2l-14-11zM-75 441l-1-11l12-7l14 5l1 17l-17 4zM-253 466l2 11l16 4l2-2l2-9l-14-11zM244 463l1 1l6 18l-2 3l-20-2l5-14zM-345 487l-12-9l-14 8l0 10l11 7l13-6zM-216 500l-12 7l-13-9l6-17l2-2l15 8zM274 474l-9 8l1 14l17 5l3-18zM-197 498l-9 5l1 17l6 5l17-9l-1-12zM67 530l-2-6l12-12l15 11l-3 12l-6 5zM-174 565l8-10l14 4l1 17l-9 3l-13-5zM176 577l-2-12l-6-6l-8 3l-5 14l15 6zM170 582l-3 11l-11 5l-11-6l0-12l10-4zM-128 609l-15-11l-11 4l-1 14l9 4l19-11zM133 612l16 5l8-6l-1-13l-11-6l-8 5zM165 616l2 14l-13 4l-5-3l0-14l8-6z"/><path fill="#36345c" stroke="#36345c" d="M36 11l9-6l-2-17l-8-3l-6 4l-1 16zM45 5l-2-17l14-4l8 8l0 10l-4 4zM-98 20l2-11l13-6l8 6l-2 18l-9 3zM-62 8l-13 1l-2 18l14 5l9-7l0-13zM-150 82l5-14l6-4l8 3l6 15l-15 11zM-307 218l4 15l-13 9l-11-19l1-2l9-6zM3 381l1-10l-14-11l-14 17l1 6l12 5zM15 390l7-3l4-16l-18-2l-4 2l-1 10zM51 390l-5-3l-7 4l-6 16l14 6l8-9zM213 544l-12-8l-14 6l5 16l8 5l11-8zM176 577l16 6l9-8l-1-12l-8-5l-18 7zM-181 595l5 5l2 15l-6 6l-17-9l2-6zM-197 638l-5-5l-1-16l6-5l17 9l-1 14z"/><path fill="#4369cd" stroke="#4369cd" d="M108-9l10-11l15 13l-4 12l-3 1l-16-8zM-128 28l-14-10l10-12l14 0l2 19zM-111 27l-5-2l-2-19l9-9l13 12l-2 11zM123 63l-3-15l12-5l15 9l-1 4l-16 10zM-180 99l-2-1l-13 8l0 14l7 3l14-9zM-236 140l7-3l13 6l-2 15l-13 2l-7-5zM263 179l-1 17l-1 2l-17-7l-4-13l0-1l14-4zM268 216l11-2l3-18l-20 0l-1 2l-2 13zM7 410l-2 7l-14 10l-4-1l-7-16l12-10zM7 410l-2 7l12 16l12-12l-3-11l-12-4zM-54 467l11-10l13 6l-3 17l-9 6l-13-7zM-314 506l-1 11l9 10l17-9l-6-18l-6-1zM22 526l10-12l13 10l-3 13l-7 4l-12-3zM264 539l-8 2l-13-7l-1-5l13-18l11 8zM-238 565l-16-12l1-6l13-10l8 6l1 13zM255 580l-10-3l-10 8l-2 10l12 7l11-6z"/><path fill="#5aabd0" stroke="#5aabd0" d="M-143 18l-9 9l-15-4l-2-16l16-4zM-174 42l0-15l-11-4l-13 11l0 6l11 6zM175 29l11-8l16 11l-3 11l-13 3l-10-15zM-185 64l-2-18l-11-6l-6 4l-1 20l8 3zM-176 70l-9-6l-2-18l13-4l10 6l-1 14l-9 7zM176 31l-16 15l18 13l2-1l6-12zM-210 89l-11-7l4-14l12-4l8 3l-2 15zM-276 140l0-1l5-17l11-2l8 3l1 12l-6 6zM271 117l-17 8l-1 8l14 9l12-5l-1-13zM-279 157l-17 1l-5-2l-4-11l10-13l19 7l0 1zM276 164l10-11l5-10l-12-6l-12 5l-2 12zM277 172l-14 7l-9-6l3-14l8-5l11 10zM296 176l16 5l3 18l-14 4l-13-10l1-14zM33 478l1-12l-9-5l-11 8l-3 14l10 6zM-28 521l7 7l16-8l-6-15l-8-2l-7 5zM-320 545l14-15l0-3l-9-10l-14 7l1 15zM324 517l-11 13l3 12l20-6l-3-19zM-322 559l-25 1l5-18l14-3l8 6l2 10zM316 542l-16 8l-1 1l6 18l20-9zM316 542l20-6l9 4l-1 14l-13 10l-6-4zM-264 573l-12 11l-12-5l2-15l10-5l11 6zM301 578l-17-6l-1-10l16-11l6 18l-1 7zM322 585l-18-9l1-7l20-9l6 4l1 11zM302 600l-8-5l7-17l3-2l18 9l0 8zM302 600l-8-5l-6 2l-4 20l14 3l8-6z"/><path fill="#281e20" stroke="#281e20" d="M-44 6l-10 6l0 13l12 5l10-6l2-15zM-9 21l-10 13l-13-10l2-15l11-6l7 6zM13 25l0-17l15-3l8 6l0 10l-13 7zM13 25l-7 4l-2 12l10 9l11-5l-2-17zM23 28l2 17l7 3l12-7l3-11l-11-9zM47 30l12-4l12 8l-16 18l-11-11zM14 50l-10-9l-15 7l2 12l12 5l9-3zM32 48l3 13l-10 11l-13-10l2-12l11-5zM-107 76l12 8l12-5l-4-12l-8-4l-11 6zM-87 67l12-13l12 15l-1 6l-13 6l-6-2zM-142 102l2-9l15-11l4 2l7 16l-18 6zM-316 242l-2 6l7 7l18-5l-1-14l-9-3zM-330 311l-5 3l-19-8l0-3l15-16l11 11zM-12 295l3-3l14 1l1 15l-16 7l-5-6zM35 313l-8-6l-14 6l-1 15l8 3l15-9zM357 342l-10 9l-17-9l2-10l10-8l16 11zM-339 364l-1-13l-12-5l-11 7l0 8l14 10zM357 342l-10 9l-1 16l4 3l16-6l3-11zM-59 370l12-5l4 3l-5 22l-3 3l-6-3zM266 384l5 4l17-4l0-17l-13-4l-9 8zM295 362l-7 5l0 17l8 6l14-5l2-16zM375 386l3-13l-12-9l-16 6l4 16l13 4zM295 401l1-11l-8-6l-17 4l0 15l16 6zM-374 417l13-17l14 10l-3 12l-8 4l-16-7zM288 448l-11-12l1-8l10-5l11 5l2 15zM239 447l5 16l1 1l21-5l-2-13l-5-4zM-267 464l14 2l2 11l-13 8l-4-2l0-19zM219 460l15 9l-5 14l-4 3l-13-4l-5-13zM283 460l-10 5l1 9l12 9l15-3l-1-13zM82 478l9 4l-3 17l-11 5l-8-7l0-12zM-151 527l0 11l-15 6l-8-7l1-14l9-3zM-188 556l14 9l8-10l0-11l-8-7l-16 7zM-94 546l0 14l-7 2l-20-5l0-9l10-6zM88 577l9 6l16-9l0-11l-12-6l-12 4zM137 560l4-4l19 6l-5 14l-10 4l-7-8zM-154 602l-4-4l-2-19l9-3l14 3l-6 19zM-128 609l-15-11l6-19l7-3l5 3l4 12zM126 617l-12-3l-4-13l12-10l15 6l-4 15z"/><path fill="#311e22" stroke="#311e22" d="M13 25l-7 4l-15-8l-3-12l19-6l6 5zM-19 34l1 9l-16 7l-4-2l-4-18l10-6zM6 29l-2 12l-15 7l-7-5l-1-9l10-13zM-63 69l7-6l2-13l-9-7l-12 8l0 3zM-56 63l2-13l16-2l4 2l0 11l-6 7zM-41 82l8 6l15-9l0-9l-16-9l-6 7zM88 80l-1-12l15-3l8 5l0 11l-5 4zM-8 86l-5 14l8 11l13-10l-5-15l-3-1zM101 100l14 6l6-3l2-17l-13-5l-5 4zM-233 180l14 1l2 20l-10 5l-14-10l6-15zM-227 206l-1 10l-10 6l-15-9l2-14l10-3zM248 232l0-13l11-8l9 5l4 19l-18 3zM-319 275l9-7l-1-13l-7-7l-17 5l4 20zM-13 276l4 16l14 1l6-5l2-9l-13-8zM336 296l5-4l-1-16l-6-4l-15 5l-3 15zM336 296l-20-4l-4 3l1 16l5 3l15-4zM336 296l5-4l11 5l3 12l-13 15l-9-14zM-314 318l-16-7l-5 3l-4 13l10 12l16-10zM-31 309l16 0l5 6l0 9l-8 7l-12-3zM13 313l-1 15l-8 3l-14-7l0-9l16-7zM35 322l-15 9l6 19l6 2l9-5l3-17zM-349 371l-1 13l-13 6l-10-5l1-16l9-8zM70 385l-19 5l-5-3l-1-13l12-8l11 6zM-347 410l-14-10l-2-10l13-6l13 7l-1 12zM-57 390l6 3l2 8l-15 11l-9-9l-1-12zM333 415l12-8l0-13l-16-4l-8 3l-1 12zM367 390l1 17l-12 7l-11-7l0-13l9-8zM308 422l2-11l10-6l13 10l-1 9l-9 5zM82 468l10-11l-2-8l-12-4l-11 6l-1 10zM283 460l-10 5l-7-6l-2-13l13-10l11 12zM283 460l17 7l7-8l-3-14l-3-2l-13 5zM-316 477l12 6l13-10l0-3l-17-10l-11 3zM300 467l1 13l7 5l13-8l2-14l-16-4zM321 477l13 8l9-7l0-10l-12-10l-8 5zM362 500l-4-1l-6-16l13-10l10 19l-2 4zM-89 522l-9-19l15-7l12 6l-6 17zM187 505l2 11l-11 8l-15-8l1-5l13-10zM101 519l-9 4l-3 12l14 8l13-6l-2-14zM178 524l0 14l-10 7l-9-4l-7-17l11-8zM-145 543l0 11l-7 5l-14-4l0-11l15-6zM89 561l12-4l2-14l-14-8l-6 5l-3 12zM168 559l0-14l-9-4l-15 8l-3 7l19 6zM-102 597l2-1l-2-13l-4-4l-19 0l4 12zM122 591l-1-12l-8-5l-16 9l2 10l11 8zM137 597l8-5l0-12l-7-8l-17 7l1 12zM-102 597l-19-6l-7 18l1 0l8 7l11-6z"/><path fill="#4b5bbf" stroke="#4b5bbf" d="M110-2l16 8l-5 15l-6 3l-10-6l-5-9zM134 30l-2 13l-12 5l-11-6l6-18l6-3zM197 121l-8 6l-16-6l3-17l13-4l8 7zM-238 155l7 5l-2 20l-2 1l-14-9l-1-12zM257 159l-13-6l-11 7l7 17l14-4zM-235 181l-14-9l-12 9l2 12l8 6l10-3zM-26 387l3-4l12 5l3 12l-12 10l-12-3zM-38 410l-2 11l12 9l15-4l-7-16l-12-3zM18 444l17-5l9-9l-15-9l-12 12zM17 445l8 16l9 5l8-4l2-6l-9-17l-17 5zM-280 522l7-2l1-14l-14-10l-9 4l6 18zM242 529l-14-7l5-18l14 0l7 5l1 2zM289 527l11-8l1-11l-18-7l-9 17zM311 500l22-3l7 7l-2 8l-5 5l-9 0zM-45 525l17-4l7 7l1 6l-8 7l-20-2zM243 534l-11 11l6 14l4 2l6-3l8-17zM238 559l4 2l3 16l-10 8l-13-9l2-11zM-217 598l11-5l5-14l-15-6l-13 6l-1 12zM-215 613l12 4l1 16l-18 4l-6-6l1-12zM236 637l-1-15l-15-8l-10 7l0 12l13 9zM223 642l-13-9l-11 9l0 13l10 8l13-14z"/><path fill="#4a9dd1" stroke="#4a9dd1" d="M-164 48l11-7l1-14l-15-4l-7 4l0 15zM175 29l-7-6l-17 6l2 17l7 0l16-15zM-176 70l-9-6l-12 3l-2 15l15 6zM202 80l-11 6l-11-6l-2-21l2-1l21 11zM220 105l-2 15l-9 5l-12-4l0-14l16-7zM-275 162l20-5l-2-16l-19-1l-3 17zM-255 157l5 3l12-5l2-15l-15-5l-6 6zM265 154l2-12l-14-9l-6 4l-3 16l13 6zM-275 162l1 12l13 7l12-9l-1-12l-5-3zM-296 213l-11 5l-10-3l0-19l8-6l11 6zM14 469l-3 14l-12 1l-4-3l-2-14l6-4zM-292 543l-14-13l0-3l17-9l9 4l-7 19zM-318 555l10 4l8-3l8-13l-14-13l-14 15zM270 544l2 11l11 7l16-11l1-1l-13-12zM-302 597l-16-8l0-8l14-5l8 6l-5 14zM-261 611l-12 4l-10-9l7-18l19 12zM278 592l10 5l-4 20l-6 4l-12-8l0-12zM266 613l12 8l-2 11l-11 6l-8-3l-3-17z"/><path fill="#3a7cd4" stroke="#3a7cd4" d="M-128 28l-14-10l-1 0l-9 9l-1 14l10 7l13-8zM-161 85l-13-16l9-7l20 6l-5 14zM-164 95l3-10l-13-16l-2 1l-8 18l2 10l2 1zM180 80l-15 7l0 8l11 9l13-4l2-14zM-216 143l-13-6l1-17l8-4l16 11l-1 11zM-29 438l9 13l13-11l-2-13l-4-1l-15 4zM17 445l-10 2l-14-7l-2-13l14-10l12 16l1 11zM-43 457l-5-11l19-8l9 13l-3 8l-7 4zM17 445l8 16l-11 8l-15-6l8-16zM-323 500l9 6l-1 11l-14 7l-11-5l2-14zM-240 537l0-10l-12-8l-15 4l3 16l11 8zM264 539l2-20l8-1l15 9l-2 11l-17 6zM-253 547l-11-8l-14 7l2 13l11 6l11-12zM-238 565l-16-12l-11 12l1 8l9 6l19-7zM-238 598l-14-2l-3-17l19-7l7 7l-1 12zM-215 613l-2-15l-13-7l-8 7l2 14l11 7zM246 616l-11 6l-15-8l2-12l11-7l12 7zM-225 619l-1 12l-17 6l-6-4l-1-12l14-9zM236 637l-1-15l11-6l8 2l3 17l-14 6z"/><path fill="#44222a" stroke="#44222a" d="M-63 32l0 11l9 7l16-2l-4-18l-12-5zM-18 70l9-10l-2-12l-7-5l-16 7l0 11zM55 52l16-18l10 15l-3 12l-6 2l-15-3zM-64 75l11 8l12-1l1-14l-16-5l-7 6zM-18 79l10 7l8-1l3-20l-12-5l-9 10zM35 61l16 4l-1 15l-16 10l-9-10l0-8zM50 80l9 4l9-4l4-17l-15-3l-6 5zM-121 84l14-8l12 8l-5 15l-10 4l-4-3zM34 90l0 4l-11 12l-15-5l-5-15l22-6zM82 95l13 8l6-3l4-15l-17-5l-7 10zM134 121l12 7l9-8l-3-16l-9-3l-10 6zM-193 158l6 3l12-6l5-18l-10-2l-16 10zM-211 165l18-7l6 3l2 15l-11 10l-17-9zM205 191l-2-9l8-13l16 14l-7 12l-10 1zM1 259l13-5l-2-14l-8-5l-11 8l-2 8zM284 233l15 7l1 12l-10 5l-11-8l-1-12zM-18 273l-3-17l12-5l10 8l-1 12l-13 5zM310 268l9 9l15-5l-5-16l-7-5l-11 6zM-316 290l-3-15l-12-2l-9 7l1 7l11 11zM-307 295l11-6l1-14l-15-7l-9 7l3 15zM124 281l0 3l11 11l12-6l3-11l-18-7zM171 281l1 13l-14 6l-11-11l3-11l5-4zM-37 306l-1-3l10-11l16 3l-3 14l-16 0zM13 313l14-6l-1-8l-15-11l-6 5l1 15zM333 310l9 14l-10 8l-11-7l-3-11zM-306 337l-7-8l-16 10l-1 5l14 11l11-12zM58 326l-14 4l-3 17l16 4l8-5l1-11zM321 349l9-7l2-10l-11-7l-12 10l1 8zM296 350l-8-7l-16 9l3 11l13 4l7-5zM321 349l0 14l-9 6l-17-7l1-12l14-7zM321 349l9-7l17 9l-1 16l-13 2l-12-6zM-325 371l-14-7l-10 7l-1 13l13 7l10-6zM-316 365l-9 6l-2 14l11 7l12-6l-2-17zM321 363l12 6l-4 21l-8 3l-11-8l2-16zM350 370l-4-3l-13 2l-4 21l16 4l9-8zM-304 386l7 4l2 15l-8 5l-13-8l0-10zM76 389l0 17l-4 4l-17-6l-4-14l19-5zM295 401l1-11l14-5l11 8l-1 12l-10 6zM-73 403l-12 8l1 16l8 3l12-7l0-11zM278 428l10-5l-1-14l-16-6l-4 4l2 16zM308 422l2-11l-15-10l-8 8l1 14l11 5zM333 415l12-8l11 7l1 12l-16 6l-9-8zM376 411l0 14l-13 6l-6-5l-1-12l12-7zM-374 419l16 7l-2 16l-12 7l-8-6l-1-16zM-335 441l-5-13l-10-6l-8 4l-2 16l12 8zM304 445l17-4l2-12l-15-7l-9 6l2 15zM-252 445l5 4l2 10l-8 7l-14-2l4-16zM-229 442l9 7l-1 12l-10 9l-14-11l-2-10zM-193 460l-12 11l-16-10l1-12l9-4l17 8zM222 448l12-5l5 4l5 16l-10 6l-15-9zM304 445l17-4l11 11l-1 6l-8 5l-16-4zM331 458l12 10l13-6l-1-13l-15-4l-8 7zM-337 466l0 17l-8 4l-12-9l1-10l9-6zM-321 461l2 2l3 14l-9 10l-12-4l0-17zM-268 464l0 19l-12 2l-11-12l0-3l7-9zM207 469l5 13l-11 12l-3 0l-13-13l9-15l2-2zM187 505l-10-4l-6-17l14-3l13 13zM-94 546l-17-4l3-14l17-2l2 13zM123 554l-3-14l-4-3l-13 6l-2 14l12 6zM-152 559l7-5l17 11l-2 11l-7 3l-14-3zM-101 562l-5 17l-19 0l-5-3l2-11l7-8zM137 560l-14-6l-10 9l0 11l8 5l17-7z"/><path fill="#8acdd6" stroke="#8acdd6" d="M-217 68l-11-13l0-4l7-8l17 1l-1 20zM209 57l-1-7l17-8l8 3l1 14l-12 6zM209 57l-8 12l1 11l7 3l10-4l3-14zM222 65l12-6l6 5l1 14l-9 7l-13-6zM-282 105l0 6l11 11l11-2l-1-16l-14-5zM-241 114l-1-9l-7-7l-12 6l1 16l8 3zM253 133l1-8l-9-14l-17 16l3 7l16 3zM297 173l9-17l-4-13l-1-1l-10 1l-5 10zM277 172l12 7l7-3l1-3l-11-20l-10 11zM296 176l16 5l8-6l-1-12l-13-7l-9 17zM-298 196l-11-6l0-5l13-10l13 7l-1 9z"/><path fill="#464588" stroke="#464588" d="M-131 67l13-10l2-5l-14-12l-13 8l4 16zM201 149l9-9l-1-15l-12-4l-8 6l0 13zM309 226l14-17l9 8l-3 17l-6 4l-13-7zM7 410l-15-10l-3-12l14-7l12 9l-1 16zM49 429l-2-16l-14-6l-7 3l3 11l15 9zM-29 438l-19 8l-1-1l-1-17l10-7l12 9zM46 487l14-10l-1-9l-17-6l-8 4l-1 12zM-55 479l-9 3l-3 18l15 6l9-8l1-12zM-228 519l0-12l-13-9l-8 3l-3 18l12 8zM-77 519l8 4l17-6l0-11l-15-6l-4 2zM233 504l-4-4l-19 8l-2 8l14 8l6-2zM266 519l-11-8l-1-2l12-13l17 5l-9 17zM-66 539l-3-16l17-6l7 8l-3 14l-2 3zM57 546l-15-9l3-13l10-4l10 4l2 6zM213 544l-2 11l13 10l14-6l-6-14l-14-4zM182 608l1-4l9-9l5 3l11 21l-20 0zM197 598l19-1l6 5l-2 12l-10 7l-2-2zM182 633l17 9l11-9l0-12l-2-2l-20 0z"/><path fill="#582633" stroke="#582633" d="M32 48l12-7l11 11l2 8l-6 5l-16-4zM81 90l-13-10l4-17l6-2l9 7l1 12zM-77 81l3 16l11 5l5-2l5-17l-11-8zM-33 88l15-9l10 7l-5 14l-10 1l-10-9zM-154 117l3-9l9-6l10 4l3 16l-12 5zM-9 119l-19 0l5-18l10-1l8 11l-1 5zM3 143l-12-5l0-19l3-3l20 9l-1 14zM201 157l-11 5l-14-7l1-8l12-7l12 9zM14 198l-13-6l-10 7l3 19l8 4l14-8zM-7 243l-16-14l1-4l16-7l8 4l2 13zM-271 236l-3 15l-14 3l-5-4l-1-14l9-7zM-137 291l12 3l2-2l4-17l-12-5l-8 6zM-18 273l-12 6l2 13l16 3l3-3l-4-16zM316 292l3-15l-9-9l-10 7l-1 16l13 4zM-306 313l-1-18l-9-5l-12 8l-2 13l16 7zM147 289l-12 6l-3 12l14 8l10-5l2-10zM-291 330l-15 7l-7-8l-1-11l8-5l13 1zM-37 306l-14 17l8 10l13-5l-1-19zM318 314l3 11l-12 10l-12-12l1-4l15-8zM266 347l6 5l16-9l-2-11l-8-3l-9 5zM310 343l-1-8l-12-12l-11 9l2 11l8 7zM-316 365l0-10l-14-11l-10 7l1 13l14 7zM-291 352l-14-9l-11 12l0 10l10 4l9-3zM-77 369l18 1l2 20l-17 1l-8-9l1-9zM-316 392l0 10l-11 8l-11-7l1-12l10-6zM-82 382l-13 9l-2 12l12 8l12-8l-1-12zM-340 428l15-9l-2-9l-11-7l-9 7l-3 12zM256 428l3 14l-20 5l-5-4l1-11l13-8zM256 428l13-5l9 5l-1 8l-13 10l-5-4zM332 452l-11-11l2-12l9-5l9 8l-1 13zM355 449l9-8l-1-10l-6-5l-16 6l-1 13zM-347 462l-9 6l-16-9l0-10l12-7l12 8zM-325 444l4 17l-16 5l-10-4l-1-12l13-9zM-286 449l2 12l-7 9l-17-10l8-12l7-3zM-263 448l-4 16l-1 0l-16-3l-2-12l14-8zM-75 441l-14 12l0 7l12 7l10-8l1-10zM213 443l-16 9l-1 12l11 5l12-9l3-12zM356 462l10 6l9-4l0-16l-11-7l-9 8zM-77 467l1 9l-6 6l-13-2l-6-12l12-8zM-181 480l9 4l-2 12l-9 8l-14-6l0-14zM-164 520l-9 3l-9-7l-1-12l9-8l16 9zM-150 502l-8 3l-6 15l13 7l10-7l-1-13zM-91 526l2-4l-9-19l-8-4l-11 8l-2 14l11 7zM100 503l-12-4l-11 5l0 8l15 11l9-4zM-108 528l-11-7l-9 6l-1 11l8 10l10-6zM159 541l-15 8l-8-14l5-11l4-1l7 1zM137 560l4-4l3-7l-8-14l-16 5l3 14z"/><path fill="#72bcd3" stroke="#72bcd3" d="M186 46l-6 12l21 11l8-12l-1-7l-9-7zM-227 84l-4 14l-11 7l-7-7l-1-11l14-7zM-208 100l-10 9l-13-11l4-14l6-2l11 7zM209 83l4 17l7 5l12-4l0-16l-13-6zM-218 109l-13-11l-11 7l1 9l13 6l8-4zM220 105l-2 15l10 7l17-16l0-3l-13-7zM-236 140l7-3l1-17l-13-6l-11 9l1 12zM-309 185l-7-10l2-11l13-8l5 2l0 17zM-275 162l1 12l-9 8l-13-7l0-17l17-1zM-322 559l-3 17l7 5l14-5l-4-17l-10-4zM278 592l10 5l6-2l7-17l-17-6l-10 9z"/><path fill="#b5e4da" stroke="#b5e4da" d="M-227 84l6-2l4-14l-11-13l-12 11l4 14z"/><path fill="#812d43" stroke="#812d43" d="M-95 84l-5 15l14 7l12-9l-3-16l-6-2zM82 95l-13 9l-6-4l-4-16l9-4l13 10zM-51 123l11-7l-3-11l-15-5l-5 2l-1 13zM121 103l12 4l1 14l-11 6l-10-5l2-16zM23 145l14-9l-3-14l-11-6l-9 9l-1 14zM-1 161l4-18l10-4l10 6l1 5l-12 15zM-1 161l-8 6l11 16l15-9l-5-9zM176 155l-8 6l0 12l9 7l8-4l5-14zM201 157l10 9l0 3l-8 13l-18-6l5-14zM-219 181l6-4l17 9l1 7l-10 12l-12-4zM2 183l-1 9l13 6l9-6l3-15l-9-3zM-22 225l16-7l-3-19l-12-4l-4 2l-7 15zM12 240l16-7l-2-14l-10-5l-14 8l2 13zM254 238l0 14l15 4l10-7l-1-12l-6-2zM-290 271l2-17l-5-4l-18 5l1 13l15 7zM-194 257l3 11l11 6l7-1l1-18l-14-7zM-173 273l8 5l13-8l2-13l-15-8l-7 6zM-46 275l16 4l12-6l-3-17l-9-4l-11 4zM130 255l2 16l-8 10l-15-9l7-18l8-3zM310 268l-10 7l-12-7l2-11l10-5l11 5zM-119 275l-4 17l20 2l1 0l1-17l-7-8zM111 295l13-11l0-3l-15-9l-10 4l2 15zM171 281l1 13l5 4l16-7l-6-16l-6-2zM-293 314l-13-1l-1-18l11-6l8 5l2 16zM-190 291l19 6l-3 13l-6 2l-13-6l-1-13zM-174 310l8 5l18-6l0-11l-15-9l-8 8zM-148 309l0-11l11-7l12 3l2 18l-1 1l-22-2zM35 313l-8-6l-1-8l9-10l11 5l0 13zM58 326l-14 4l-9-8l0-9l11-6l14 5zM288 307l10 12l-1 4l-11 9l-8-3l-4-12zM255 349l11-2l3-13l-15-10l-11 9l1 9zM77 363l-9 9l-11-6l0-15l8-5l12 7zM-284 383l-13 7l2 15l10 3l11-7l1-6zM76 389l0 17l13 2l13-7l-1-7l-16-9zM76 406l13 2l4 17l-17 2l-5-4l1-13zM-252 430l0 15l5 4l18-7l-1-9l-8-8zM-75 441l-1-11l-8-3l-6 1l-11 14l12 11zM76 427l2 18l12 4l9-9l-1-12l-5-3zM213 443l-4-15l15-5l11 9l-1 11l-12 5zM-325 444l8-7l17 11l-8 12l-11 3l-2-2zM-150 502l1-15l-16-7l-7 4l-2 12l16 9zM100 503l-12-4l3-17l10-2l7 8l0 8zM171 484l-5-2l-3 1l-7 17l8 11l13-10zM-117 507l-2 14l-9 6l-13-7l-1-13l12-5zM125 514l16 10l4-1l0-22l-10-5l-10 10zM125 514l16 10l-5 11l-16 5l-4-3l-2-14z"/><path fill="#6d2a3b" stroke="#6d2a3b" d="M-53 83l-5 17l15 5l10-13l0-4l-8-6zM34 90l0 4l12 9l17-3l-4-16l-9-4zM-129 122l8 2l11-11l0-10l-4-3l-18 6zM-33 92l10 9l-5 18l-1 1l-11-4l-3-11zM14 125l9-9l0-10l-15-5l-13 10l-1 5zM70 120l-1-16l-6-4l-17 3l1 14l10 8zM-20 143l11-5l0-19l-19 0l-1 1l-1 19zM123 127l1 12l13 6l9-3l0-14l-12-7zM153 146l-7-4l0-14l9-8l14 3l-1 15zM-20 143l11-5l12 5l-4 18l-8 6l-8-7zM2 183l-1 9l-10 7l-12-4l0-17l12-11zM207 216l14 5l13-9l-1-8l-13-9l-10 1zM-9 251l2-8l-16-14l-7 7l0 16l9 4zM12 240l16-7l10 8l0 2l-17 15l-7-4zM0 271l13 8l12-8l-4-13l-7-4l-13 5zM130 255l2 16l18 7l5-4l1-13l-14-7zM171 281l-16-7l1-13l11-8l10 3l4 17zM-165 278l13-8l13 6l2 15l-11 7l-15-9zM33 274l-8-3l-12 8l-2 9l15 11l9-10zM111 295l13-11l11 11l-3 12l-7 4l-10-5zM172 294l5 4l3 12l-9 11l-15-11l2-10zM287 296l12-5l13 4l1 16l-15 8l-10-12zM-281 335l10-11l-1-10l-14-4l-7 4l2 16zM-280 349l-1-14l-10-5l-15 7l1 6l14 9zM-77 369l2-14l17-8l10 2l1 16l-12 5zM252 365l14 6l9-8l-3-11l-6-5l-11 2zM-297 366l-9 3l2 17l7 4l13-7l1-7zM-327 410l11-8l13 8l-4 13l-7 4l-11-8zM-294 430l-13-7l4-13l8-5l10 3l4 15zM-325 444l8-7l3-10l-11-8l-15 9l5 13zM-293 445l-7 3l-17-11l3-10l7-4l13 7zM-272 441l-14 8l-7-4l-1-15l13-7l9 4zM-262 422l-10 5l0 14l9 7l11-3l0-15zM-371 486l-8-8l1-13l6-6l16 9l-1 10zM-193 460l-12 11l1 5l7 8l16-4l-4-17zM82 468l10-11l12 8l-3 15l-10 2l-9-4zM352 483l-9-5l0-10l13-6l10 6l-1 5zM-106 499l8 4l15-7l1-14l-13-2zM164 511l-8-11l-11 1l0 22l7 1l11-8zM-128 527l-13-7l-10 7l0 11l6 5l16-5zM-129 538l-16 5l0 11l17 11l7-8l0-9z"/><path fill="#a0d8d8" stroke="#a0d8d8" d="M256 85l-1 13l-10 10l-13-7l0-16l9-7zM271 117l-17 8l-9-14l0-3l10-10l17 7z"/><path fill="#bb3842" stroke="#bb3842" d="M-110 103l10-4l14 7l1 12l-11 8l-14-13zM-71 135l9 4l9-4l2-12l-13-8l-10 8zM-53 135l16 9l7-5l1-19l-11-4l-11 7zM77 139l-6 6l-20-5l6-15l13-5zM99 133l-11 7l-11-1l-7-19l22-2l8 10zM-53 135l16 9l-3 7l-17 8l-4-2l-1-18zM51 140l20 5l0 15l-14 2l-9-6zM-52 176l-5-17l17-8l5 11l-2 10l-7 6zM36 162l-3 11l14 11l8-4l2-18l-9-6zM155 154l-10 12l0 9l9 3l14-5l0-12zM185 176l18 6l2 9l-18 6l-10-5l0-12zM-195 193l16 10l-1 6l-15 12l-7-4l-3-12zM-189 234l-6-13l-7-4l-14 8l-1 7l11 9zM-45 214l13-2l10 13l-1 4l-7 7l-11-4zM-194 257l-14-3l2-13l17-7l1 1l2 13zM-142 241l-14-7l-8 2l-1 13l15 8l8-6zM-133 231l-9 10l0 10l11 5l11-4l-1-15zM48 234l14 4l-2 17l-15-2l-7-10l0-2zM210 240l13-10l9 9l-4 13l-4 3l-13-4zM-264 267l1-5l-11-11l-14 3l-2 17l16 4zM-194 257l-14-3l-6 4l-2 13l10 7l15-10zM211 251l13 4l0 14l-15 6l-8-6l1-14zM288 268l-8 6l-10-4l-1-14l10-7l11 8zM91 300l10-9l-2-15l-8-4l-11 8l-4 11zM209 275l15-6l8 8l-3 11l-11 8l-8-5zM256 284l-1-6l-6-6l-17 5l-3 11l16 10zM66 308l3-14l-12-7l-11 7l0 13l14 5zM92 311l7 5l16-10l-4-11l-10-4l-10 9zM245 305l-13 6l-13-4l-1-11l11-8l16 10zM270 295l-8 16l-6 3l-11-9l0-7l11-14zM-215 333l10-5l-1-11l-13-11l-11 7l1 13zM194 329l-1-16l-13-3l-9 11l0 7l7 6zM-240 342l8 6l1 19l-5 3l-11-3l-6-18zM-77 369l2-14l-10-17l-13 9l0 17l17 9zM-262 422l10 8l14-5l0-13l-13-4l-9 5zM248 424l-1-17l-1-1l-8-4l-12 7l-2 14l11 9zM-193 460l8 3l11-3l2-15l-13-6l-9 14zM101 480l7 8l15-8l0-11l-11-6l-8 2zM-106 499l-11 8l-13-5l-2-16l12-10zM108 496l0-8l15-8l12 9l0 7l-10 10zM163 483l-19-2l-9 8l0 7l10 5l11-1z"/><path fill="#a93046" stroke="#a93046" d="M-85 118l11 5l10-8l1-13l-11-5l-12 9zM82 95l-13 9l1 16l22-2l3-15zM-141 127l12-5l8 2l4 13l-12 7l-11-7zM-40 151l3-7l7-5l10 4l3 17l-18 2zM23 145l14-9l14 4l-3 16l-12 6l-12-12zM164 214l14 7l11-9l-2-15l-10-5l-9 7zM-238 222l-15-9l-7 5l-2 14l12 8l11-10zM136 222l2 7l-13 12l-11-15l2-10l3-2zM164 214l14 7l2 7l-15 15l-10-9l7-19zM205 216l-4 14l-12 6l-9-8l-2-7l11-9zM207 216l14 5l2 9l-13 10l-9-10l4-14zM248 232l-16 7l-9-9l-2-9l13-9l14 7zM-186 248l-2-13l17-4l7 5l-1 13l-7 6zM180 228l9 8l0 13l-12 7l-10-3l-2-10zM189 236l12-6l9 10l1 11l-9 4l-13-6zM45 253l-5 18l-7 3l-8-3l-4-13l17-15zM181 273l6 2l14-6l1-14l-13-6l-12 7zM-274 275l-16-4l-5 4l-1 14l8 5l15-6zM-194 293l-10-5l-15 12l0 6l13 11l13-11zM-125 294l2 18l16-3l4-15l-20-2zM-37 306l-1-3l-14-11l-9 6l0 3l7 21l3 1zM193 313l-13-3l-3-12l16-7l5 2l-3 18zM270 295l12-2l5 3l1 11l-14 10l-12-6zM-248 328l0-12l-20-5l-4 3l1 10l9 7zM-241 336l12-10l-1-13l-13-2l-5 5l0 12zM-193 306l-13 11l1 11l10 7l9-4l6-19zM80 317l-14-9l-6 4l-2 14l8 9l13-6zM245 305l-13 6l4 19l7 3l11-9l2-10zM-280 349l-1-14l10-11l9 7l1 18l-11 5zM-75 355l17-8l-12-20l-3 0l-12 10l0 1zM-70 327l16-5l3 1l8 10l-1 11l-4 5l-10-2zM77 353l-12-7l1-11l13-6l11 8l-1 10zM232 355l-15-4l5-19l14-2l7 3l1 9zM-271 367l10 8l2 12l-14 8l-11-12l1-7zM77 363l-9 9l2 13l6 4l9-4l5-14zM-262 422l-10 5l-9-4l-4-15l11-7l14 12zM-230 433l13-10l13 6l-7 16l-9 4l-9-7zM197 452l-8-11l-13 8l2 11l16 6l2-2zM-185 463l4 17l9 4l7-4l3-14l-12-6zM-106 499l-14-23l0-4l10-6l9 2l6 12zM171 484l-5-2l-1-14l13-8l16 6l-9 15z"/><path fill="#952e44" stroke="#952e44" d="M47 117l-1-14l-12-9l-11 12l0 10l11 6zM101 100l14 6l-2 16l-13 6l-8-10l3-15zM-154 117l13 10l1 10l-11 10l-17-11l6-14zM51 140l6-15l-10-8l-13 5l3 14zM176 155l-8 6l-13-7l-2-8l15-8l9 9zM-35 162l18-2l8 7l-12 11l-16-6zM12 165l5 9l9 3l7-4l3-11l-12-12zM-44 178l4 12l15 7l4-2l0-17l-16-6zM35 199l-12-7l3-15l7-4l14 11l-1 10zM-217 201l12 4l3 12l-14 8l-12-9l1-10zM35 199l-12-7l-9 6l2 16l10 5l8-5zM130 255l12-1l6-19l-10-6l-13 12l-1 10zM148 235l7-1l10 9l2 10l-11 8l-14-7zM-131 256l0 14l-8 6l-13-6l2-13l8-6zM-120 252l12 7l0 10l-11 6l-12-5l0-14zM-190 291l10-17l-11-6l-15 10l2 10l10 5zM-190 291l10-17l7-1l8 5l2 11l-8 8zM-46 275l16 4l2 13l-10 11l-14-11l2-15zM187 275l14-6l8 6l1 16l-12 2l-5-2zM287 296l12-5l1-16l-12-7l-8 6l2 19zM-286 310l-2-16l15-6l8 9l-3 14l-4 3zM214 314l5-7l-1-11l-8-5l-12 2l-3 18zM-180 312l-6 19l10 3l12-5l-2-14l-8-5zM-153 336l-11-7l-2-14l18-6l2 2l1 18zM-145 329l13 2l9-5l-1-13l-22-2zM122 329l13 9l10-9l1-14l-14-8l-7 4zM171 328l0-7l-15-11l-10 5l-1 14l16 4zM194 329l-1-16l2-2l19 3l0 11l-14 7zM262 311l12 6l4 12l-9 5l-15-10l2-10zM-240 342l-13 7l-8 0l-1-18l14-3l7 8zM-280 349l-11 3l-6 14l14 10l12-9l-1-13zM-272 354l11-5l8 0l6 18l-14 8l-10-8zM238 371l14-6l3-16l-11-7l-12 13l6 16zM238 371l3 7l17 8l8-2l0-13l-14-6zM258 386l-12 20l1 1l20 0l4-4l0-15l-5-4zM256 428l13-5l-2-16l-20 0l1 17zM-194 453l-17-8l7-16l8-3l9 6l2 7zM213 443l-4-15l-5-2l-15 8l0 7l8 11zM100 503l1 16l13 4l11-9l0-8l-17-10z"/><path fill="#d75139" stroke="#d75139" d="M-117 137l6 2l14-7l1-6l-14-13l-11 11zM-151 147l1 11l10 6l11-7l0-13l-11-7zM137 145l-13-6l-12 8l0 9l10 6l10-6zM89 188l-12-21l0-1l14-7l10 4l1 16zM-185 176l-11 10l1 7l16 10l9-6l-5-18zM78 197l-6-1l-7-13l12-16l12 21l-2 5zM155 191l13 8l9-7l0-12l-9-7l-14 5zM-50 213l-2-12l12-11l15 7l-7 15l-13 2zM78 197l-6-1l-16 9l-1 9l12 7l11-6zM-133 231l-1-11l-6-6l-10 4l-6 16l14 7zM-133 231l-1-11l18-6l9 8l0 7l-14 8zM89 223l1 7l-12 9l-10-4l-1-14l11-6zM99 212l17 4l-2 10l-14 10l-10-6l-1-7zM147 211l15 4l-7 19l-7 1l-10-6l-2-7zM-121 237l14-8l11 10l-3 13l-9 7l-12-7zM87 259l-7-4l-15 6l-1 6l16 13l11-8zM228 252l21 6l0 14l-17 5l-8-8l0-14zM270 295l12-2l-2-19l-10-4l-15 8l1 6zM-73 327l-3-9l15-17l7 21l-16 5zM-222 345l14 11l12-9l1-12l-10-7l-10 5zM-112 343l-2-12l-9-5l-9 5l1 14l15 2zM89 347l1-10l13-9l9 4l-3 19l-8 4zM194 329l-16 5l2 12l10 8l12-9l-2-13zM-251 408l0-17l11-3l14 10l-1 7l-11 7zM-109 413l12-10l12 8l1 16l-6 1l-18-12zM-89 453l-12-11l-10 1l1 23l9 2l12-8zM92 457l12 8l8-2l3-17l-16-6l-9 9zM176 449l-8-4l-11 8l-1 5l9 10l13-8z"/><path fill="#e26233" stroke="#e26233" d="M-85 146l14-11l-3-12l-11-5l-11 8l-1 6zM-85 146l-12-14l-14 7l2 16l14 4l9-5zM-76 161l1 12l12 10l11-7l-5-17l-4-2zM115 185l-13-6l-1-16l11-7l10 6l4 13zM-140 214l0-10l-16-9l-7 3l3 15l10 5zM-73 214l0-17l7-5l14 9l2 12l-13 8zM50 217l-16-3l1-15l11-5l10 11l-1 9zM-238 222l10-6l12 9l-1 7l-9 7l-13-9zM-64 234l9 5l14-7l-4-18l-5-1l-13 8zM-239 230l-11 10l2 10l9 4l12-4l1-11zM-74 240l-1 11l11 7l12-9l-3-10l-9-5zM78 239l2 16l7 4l16-12l-3-11l-10-6zM248 232l-16 7l-4 13l21 6l5-6l0-14zM-84 260l-15-8l-9 7l0 10l7 8l20-3zM-85 299l-17-5l1-17l20-3l2 2l1 17zM69 294l-12-7l-2-11l9-9l16 13l-4 11zM-85 309l-15 10l-7-10l4-15l1 0l17 5zM80 317l12-6l-1-11l-15-9l-7 3l-3 14zM-114 331l-9-5l-1-13l1-1l16-3l7 10l0 4zM-73 327l-3-9l-9-9l-15 10l0 4l15 14zM103 328l-4-12l-7-5l-12 6l-1 12l11 8zM-172 348l-4-14l-10-3l-9 4l-1 12l10 9zM-172 348l-4-14l12-5l11 7l0 5l-11 10zM-98 347l-14-4l-2-12l14-8l15 14l0 1zM168 354l12-8l-2-12l-7-6l-10 5l-3 16zM200 332l14-7l8 7l-5 19l-15-6zM-231 367l-1-19l10-3l14 11l-3 10l-12 4zM-98 364l-16 4l-4-1l2-20l4-4l14 4zM77 363l13 8l9-3l2-13l-12-8l-12 6zM241 378l-5 17l2 7l8 4l12-20zM-108 416l-11 17l1 5l7 5l10-1l11-14zM-174 460l12 6l5-3l3-20l-5-2l-13 4zM-120 476l-12 10l-14-1l3-17l10-5l13 9zM123 469l0 11l12 9l9-8l-3-16l-7-3z"/><path fill="#cc3f3f" stroke="#cc3f3f" d="M99 133l13 14l12-8l-1-12l-10-5l-13 6zM-168 136l-2 1l-5 18l14 9l11-6l-1-11zM-85 146l14-11l9 4l1 18l-15 4l-10-7zM88 140l3 19l-14 7l-6-6l0-15l6-6zM99 133l13 14l0 9l-11 7l-10-4l-3-19zM155 154l-10 12l-13-10l5-11l9-3l7 4zM-185 176l-2-15l12-6l14 9l-2 9l-12 6zM77 166l-6-6l-14 2l-2 18l10 3l12-16zM137 179l-11-4l-4-13l10-6l13 10l0 9zM-175 179l5 18l7 1l7-3l4-11l-11-11zM-66 192l3-9l11-7l8 2l4 12l-12 11zM56 205l16-9l-7-13l-10-3l-8 4l-1 10zM141 200l14-9l-1-13l-9-3l-8 4l0 19zM-179 203l9-6l7 1l3 15l-10 8l-10-12zM141 200l6 11l-11 11l-17-8l3-12l15-4zM141 200l14-9l13 8l-4 15l-2 1l-15-4zM207 216l3-20l-5-5l-18 6l2 15l16 4zM-189 234l-6-13l15-12l10 12l-1 10l-17 4zM-150 218l-10-5l-10 8l-1 10l7 5l8-2zM50 217l-2 17l-10 7l-10-8l-2-14l8-5zM68 235l-6 3l-14-4l2-17l5-3l12 7zM-262 232l12 8l2 10l-15 12l-11-11l3-15zM-55 239l14-7l11 4l0 16l-11 4l-11-7zM68 235l-6 3l-2 17l5 6l15-6l-2-16zM124 251l-8 3l-13-7l-3-11l14-10l11 15zM60 255l5 6l-1 6l-9 9l-15-5l5-18zM109 272l-10 4l-8-4l-4-13l16-12l13 7zM254 252l15 4l1 14l-15 8l-6-6l0-14zM-251 291l6 5l18-4l-1-15l-9-4l-13 6zM-219 300l-8-8l-1-15l12-6l10 7l2 10zM46 294l-11-5l-2-15l7-3l15 5l2 11zM-268 311l3-14l14-6l6 5l2 15l-5 5zM-219 306l-11 7l-13-2l-2-15l18-4l8 8zM103 328l-4-12l16-10l10 5l-3 18l-10 3zM214 325l8 7l14-2l-4-19l-13-4l-5 7zM-240 342l8 6l10-3l7-12l-14-7l-12 10zM-153 336l0 5l13 13l9-9l-1-14l-13-2zM146 354l12-5l3-16l-16-4l-10 9l1 5zM-240 388l4-18l-11-3l-14 8l2 12l8 4zM90 371l-5 14l16 9l11-14l0-2l-13-10zM-260 413l-14-12l1-6l14-8l8 4l0 17zM-238 412l11-7l8 8l2 10l-13 10l-8-8zM-203 409l7 5l0 12l-8 3l-13-6l-2-10zM89 408l13-7l6 6l-3 17l-7 4l-5-3zM-130 502l-12 5l-8-5l1-15l3-2l14 1z"/><path fill="#ee8648" stroke="#ee8648" d="M-129 144l0 13l12 4l8-6l-2-16l-6-2zM-86 154l10 7l1 12l-12 9l-11-4l3-19zM-116 203l-14-9l1-9l13-7l11 4l0 14zM-95 202l-10-6l0-14l7-4l11 4l4 12zM-73 214l0-17l-10-3l-12 8l1 10l10 5zM-74 240l-1 11l-9 9l-15-8l3-13l8-3zM-64 258l0 13l-15 5l-2-2l-3-14l9-9zM-129 370l11-3l2-20l-15-2l-9 9l0 8zM202 345l15 6l-6 15l-7 3l-13-6l-1-9zM238 371l3 7l-5 17l-17-9l3-10l16-5zM204 426l5 2l15-5l2-14l-16-7l-9 8zM105 424l20 7l-3 11l-7 4l-16-6l-1-12zM189 434l0 7l-13 8l-8-4l0-17l11-1zM-110 466l-1-23l-7-5l-16 11l1 14l13 9z"/><path fill="#e8743e" stroke="#e8743e" d="M-163 173l11 11l14-7l-2-13l-10-6l-11 6zM-152 184l-4 11l16 9l10-10l1-9l-9-8zM-73 197l-10-3l-4-12l12-9l12 10l-3 9zM87 193l2-5l13-9l13 6l1 10l-20 6zM137 198l0-19l-11-4l-11 10l1 10l6 7zM-134 220l18-6l0-11l-14-9l-10 10l0 10zM-94 212l-13 10l-9-8l0-11l11-7l10 6zM78 197l0 18l11 8l10-11l-3-11l-9-8zM122 202l-6-7l-20 6l3 11l17 4l3-2zM-74 240l10-6l1-13l-10-7l-11 3l-4 19zM-208 254l-6 4l-13-8l1-11l9-7l11 9zM-264 267l1-5l15-12l9 4l2 19l-13 6zM-214 258l-13-8l-12 4l2 19l9 4l12-6zM-64 258l0 13l14 6l4-2l5-19l-11-7zM-264 267l14 12l-1 12l-14 6l-8-9l-1-13zM-50 277l-2 15l-9 6l-17-5l-1-17l15-5zM-76 318l15-17l0-3l-17-5l-7 6l0 10zM189 434l15-8l-3-16l-13-4l-3 2l-6 19zM-157 463l14 5l-3 17l-3 2l-16-7l3-14zM163 483l-19-2l-3-16l15-7l9 10l1 14z"/><path fill="#f2985d" stroke="#f2985d" d="M-129 157l-11 7l2 13l9 8l13-7l-1-17zM-95 159l-3 19l-7 4l-11-4l-1-17l8-6zM112 332l10-3l13 9l1 5l-15 13l-12-5zM101 355l8-4l12 5l2 11l-11 11l-13-10zM123 367l13 3l10-7l0-9l-10-11l-15 13zM238 371l-16 5l-11-10l6-15l15 4zM-226 398l-14-10l4-18l5-3l8 3l5 22zM-81 373l-17-9l-16 4l8 19l11 4l13-9zM-206 392l-12 0l-8 6l-1 7l8 8l16-4zM-118 394l0 12l9 7l12-10l2-12l-11-4zM-169 420l-18 12l-9-6l0-12l12-10l15 11zM-185 439l-2-7l18-12l3 4l7 17l-13 4zM157 453l11-8l0-17l-5-3l-16 10l1 7zM-157 463l3-20l6-1l14 7l1 14l-10 5zM134 462l7 3l15-7l1-5l-9-11l-15 9z"/><path fill="#f5a972" stroke="#f5a972" d="M-88 236l-8 3l-11-10l0-7l13-10l10 5zM-186 356l-10-9l-12 9l-3 10l11 10l17-8zM-140 362l0-8l-13-13l-11 10l1 14l9 4zM146 354l12-5l10 5l1 11l-13 6l-10-8zM168 354l12-8l10 8l1 9l-10 9l-12-7zM-206 392l5-4l1-12l-11-10l-12 4l5 22zM123 367l13 3l2 16l-14 5l-12-11l0-2zM203 385l1-16l7-3l11 10l-3 10l-9 5zM112 380l12 11l-1 15l-15 1l-6-6l-1-7zM201 410l9-8l0-11l-7-6l-15 3l0 18zM210 402l16 7l12-7l-2-7l-17-9l-9 5zM108 407l-3 17l20 7l6-6l1-11l-9-8zM115 446l-3 17l11 6l11-7l-1-11l-11-9z"/><path fill="#f9bc8c" stroke="#f9bc8c" d="M-178 371l-5-3l-3-12l14-8l8 3l1 14zM-178 371l-5-3l-17 8l-1 12l17 7l9-8zM188 388l-8-6l1-10l10-9l13 6l-1 16zM-206 392l5-4l17 7l0 9l-12 10l-7-5zM-175 387l-9 8l0 9l15 11l9-9l-1-15zM-139 390l1 16l-9 4l-13-4l-1-15l6-4zM-147 410l-2 12l-17 2l-3-4l0-5l9-9zM-109 413l-9-7l-15 4l1 14l13 9l11-17zM132 414l-1 11l16 10l16-10l-4-11l-18-5zM179 427l-11 1l-5-3l-4-11l8-11l18 5z"/><path fill="#fdcfa5" stroke="#fdcfa5" d="M-154 369l-9-4l-15 6l3 16l14 4l6-4zM-129 370l-2 14l-8 6l-16-3l1-18l14-7zM-129 370l11-3l4 1l8 19l-12 7l-13-10zM146 363l10 8l1 16l-12 3l-7-4l-2-16zM164 391l-7-4l-1-16l13-6l12 7l-1 10zM-131 384l13 10l0 12l-15 4l-5-4l-1-16zM123 406l9 8l9-5l4-19l-7-4l-14 5zM164 391l-7-4l-12 3l-4 19l18 5l8-11zM188 406l0-18l-8-6l-16 9l3 12l18 5zM-147 410l-2 12l6 7l11-5l-1-14l-5-4zM-148 442l5-13l-6-7l-17 2l7 17l5 2zM-119 433l-13-9l-11 5l-5 13l14 7l16-11zM122 442l11 9l15-9l-1-7l-16-10l-6 6z"/></g></g><use href="#bl" clip-path="url(#oclip)" stroke="#fff" stroke-opacity="0.92" stroke-width="2.1" stroke-linecap="round"/><use href="#bo" fill="none" stroke="#fff" stroke-opacity="0.92" stroke-width="2"/></g>
<text x="339.8" y="512.6" font-family="'Liberation Sans',sans-serif" font-size="37.0" fill="#555555" text-anchor="middle">BOLD</text>
<text x="689.7" y="512.8" font-family="'Liberation Sans',sans-serif" font-size="37.5" fill="#555555">Ca</text><text x="739.2" y="494.3" font-family="'Liberation Sans',sans-serif" font-size="21.7" fill="#555555">2+</text><text x="740.8" y="512.6" font-family="'Liberation Sans',sans-serif" font-size="21.0" fill="#555555" font-style="italic">slow</text>
<text x="1092.5" y="512.8" font-family="'Liberation Sans',sans-serif" font-size="37.5" fill="#555555">Ca</text><text x="1142.0" y="494.3" font-family="'Liberation Sans',sans-serif" font-size="21.7" fill="#555555">2+</text><text x="1143.6" y="512.6" font-family="'Liberation Sans',sans-serif" font-size="21.0" fill="#555555" font-style="italic">fast</text>
<g fill="#7a7a7a" fill-opacity="0.5" stroke="#fff" stroke-opacity="0.55" stroke-width="1"><circle cx="364.9" cy="1017.8" r="4.3"/><circle cx="301.8" cy="1018.9" r="4.3"/><circle cx="417.3" cy="951.5" r="4.3"/><circle cx="382.0" cy="926.3" r="4.3"/><circle cx="369.1" cy="1173.5" r="4.3"/><circle cx="354.2" cy="962.1" r="4.3"/><circle cx="264.3" cy="1172.4" r="4.3"/><circle cx="316.9" cy="1039.2" r="4.3"/><circle cx="380.8" cy="954.9" r="4.3"/><circle cx="311.4" cy="1141.9" r="4.3"/><circle cx="330.9" cy="930.8" r="4.3"/><circle cx="279.8" cy="948.3" r="4.3"/><circle cx="390.6" cy="1008.2" r="4.3"/><circle cx="351.1" cy="985.9" r="4.3"/><circle cx="268.6" cy="1047.1" r="4.3"/><circle cx="260.5" cy="1034.2" r="4.3"/><circle cx="221.8" cy="1006.4" r="4.3"/><circle cx="255.9" cy="1095.0" r="4.3"/><circle cx="371.8" cy="956.0" r="4.3"/><circle cx="323.7" cy="1032.1" r="4.3"/><circle cx="282.1" cy="990.0" r="4.3"/><circle cx="401.5" cy="977.5" r="4.3"/><circle cx="339.8" cy="1060.2" r="4.3"/><circle cx="394.9" cy="939.7" r="4.3"/><circle cx="239.9" cy="1062.9" r="4.3"/><circle cx="194.0" cy="1166.8" r="4.3"/><circle cx="313.8" cy="944.4" r="4.3"/><circle cx="141.3" cy="1100.6" r="4.3"/><circle cx="429.4" cy="900.9" r="4.3"/><circle cx="374.7" cy="982.9" r="4.3"/><circle cx="140.3" cy="1158.2" r="4.3"/><circle cx="309.6" cy="1063.7" r="4.3"/><circle cx="318.2" cy="975.9" r="4.3"/><circle cx="317.1" cy="1015.9" r="4.3"/><circle cx="451.0" cy="919.7" r="4.3"/><circle cx="320.0" cy="1115.4" r="4.3"/><circle cx="341.7" cy="933.8" r="4.3"/><circle cx="392.9" cy="967.5" r="4.3"/><circle cx="370.0" cy="924.6" r="4.3"/><circle cx="149.1" cy="1000.1" r="4.3"/><circle cx="428.2" cy="1043.0" r="4.3"/><circle cx="247.2" cy="1143.6" r="4.3"/><circle cx="288.1" cy="1014.5" r="4.3"/><circle cx="408.8" cy="990.6" r="4.3"/><circle cx="345.0" cy="1002.0" r="4.3"/><circle cx="392.0" cy="898.7" r="4.3"/><circle cx="242.5" cy="1175.1" r="4.3"/><circle cx="268.8" cy="1137.3" r="4.3"/><circle cx="245.5" cy="1114.9" r="4.3"/><circle cx="205.3" cy="952.8" r="4.3"/><circle cx="418.4" cy="914.7" r="4.3"/><circle cx="174.3" cy="1160.0" r="4.3"/><circle cx="258.2" cy="980.2" r="4.3"/><circle cx="372.3" cy="946.1" r="4.3"/><circle cx="321.5" cy="921.4" r="4.3"/><circle cx="364.6" cy="965.9" r="4.3"/><circle cx="274.6" cy="944.0" r="4.3"/><circle cx="250.1" cy="1082.5" r="4.3"/><circle cx="446.4" cy="932.4" r="4.3"/><circle cx="287.4" cy="1092.9" r="4.3"/><circle cx="380.9" cy="951.3" r="4.3"/><circle cx="407.0" cy="979.8" r="4.3"/><circle cx="321.1" cy="1052.6" r="4.3"/><circle cx="188.8" cy="1176.4" r="4.3"/><circle cx="341.0" cy="918.3" r="4.3"/><circle cx="273.4" cy="1043.5" r="4.3"/><circle cx="384.9" cy="951.7" r="4.3"/><circle cx="404.2" cy="900.4" r="4.3"/><circle cx="275.0" cy="1049.1" r="4.3"/><circle cx="282.7" cy="991.1" r="4.3"/><circle cx="162.4" cy="1200.4" r="4.3"/><circle cx="211.8" cy="1049.4" r="4.3"/><circle cx="189.1" cy="1148.0" r="4.3"/><circle cx="439.2" cy="946.3" r="4.3"/><circle cx="414.1" cy="983.6" r="4.3"/><circle cx="268.7" cy="1108.6" r="4.3"/><circle cx="231.2" cy="1152.4" r="4.3"/><circle cx="400.2" cy="963.8" r="4.3"/><circle cx="234.7" cy="1112.0" r="4.3"/><circle cx="449.4" cy="941.7" r="4.3"/><circle cx="285.4" cy="1077.3" r="4.3"/><circle cx="391.0" cy="970.2" r="4.3"/><circle cx="314.7" cy="948.8" r="4.3"/><circle cx="415.5" cy="1038.3" r="4.3"/><circle cx="337.7" cy="982.5" r="4.3"/><circle cx="297.2" cy="1124.2" r="4.3"/><circle cx="213.6" cy="1106.1" r="4.3"/><circle cx="214.1" cy="1112.5" r="4.3"/><circle cx="344.6" cy="1033.7" r="4.3"/><circle cx="185.9" cy="1043.8" r="4.3"/><circle cx="373.5" cy="1047.0" r="4.3"/><circle cx="189.4" cy="1174.7" r="4.3"/><circle cx="421.8" cy="954.6" r="4.3"/><circle cx="231.5" cy="1082.2" r="4.3"/><circle cx="307.5" cy="1009.9" r="4.3"/><circle cx="315.8" cy="1010.4" r="4.3"/><circle cx="322.0" cy="1107.2" r="4.3"/><circle cx="174.9" cy="1169.3" r="4.3"/><circle cx="346.3" cy="1010.8" r="4.3"/><circle cx="376.9" cy="955.3" r="4.3"/><circle cx="259.6" cy="1001.9" r="4.3"/><circle cx="223.4" cy="1185.0" r="4.3"/><circle cx="311.9" cy="953.3" r="4.3"/><circle cx="386.8" cy="911.9" r="4.3"/><circle cx="416.6" cy="964.4" r="4.3"/><circle cx="391.7" cy="1003.1" r="4.3"/><circle cx="190.6" cy="1128.0" r="4.3"/><circle cx="253.7" cy="1102.5" r="4.3"/><circle cx="343.4" cy="962.8" r="4.3"/><circle cx="251.8" cy="1002.8" r="4.3"/><circle cx="303.3" cy="978.3" r="4.3"/><circle cx="206.9" cy="1076.7" r="4.3"/><circle cx="412.5" cy="940.5" r="4.3"/><circle cx="285.4" cy="963.1" r="4.3"/><circle cx="460.3" cy="947.1" r="4.3"/><circle cx="134.6" cy="1104.2" r="4.3"/><circle cx="323.4" cy="1058.4" r="4.3"/><circle cx="358.6" cy="992.2" r="4.3"/><circle cx="203.4" cy="1138.1" r="4.3"/><circle cx="315.8" cy="899.1" r="4.3"/><circle cx="385.5" cy="941.7" r="4.3"/><circle cx="312.5" cy="926.6" r="4.3"/><circle cx="333.3" cy="1105.6" r="4.3"/><circle cx="240.1" cy="1163.7" r="4.3"/><circle cx="345.7" cy="963.3" r="4.3"/><circle cx="320.2" cy="1003.1" r="4.3"/><circle cx="352.7" cy="1021.9" r="4.3"/><circle cx="220.9" cy="1184.7" r="4.3"/><circle cx="265.9" cy="1169.0" r="4.3"/><circle cx="270.4" cy="1136.1" r="4.3"/><circle cx="361.3" cy="924.2" r="4.3"/><circle cx="381.3" cy="1010.1" r="4.3"/><circle cx="403.5" cy="1030.4" r="4.3"/><circle cx="393.4" cy="986.4" r="4.3"/><circle cx="281.2" cy="1082.0" r="4.3"/><circle cx="448.8" cy="916.7" r="4.3"/><circle cx="210.9" cy="1067.5" r="4.3"/><circle cx="241.7" cy="1037.4" r="4.3"/><circle cx="234.4" cy="1044.4" r="4.3"/><circle cx="219.0" cy="1114.0" r="4.3"/><circle cx="470.8" cy="906.8" r="4.3"/><circle cx="179.4" cy="1161.9" r="4.3"/><circle cx="321.9" cy="949.4" r="4.3"/><circle cx="252.2" cy="959.5" r="4.3"/><circle cx="197.9" cy="1141.7" r="4.3"/><circle cx="188.2" cy="1033.8" r="4.3"/><circle cx="433.2" cy="939.7" r="4.3"/><circle cx="278.6" cy="1049.3" r="4.3"/><circle cx="324.9" cy="1098.0" r="4.3"/><circle cx="461.0" cy="942.0" r="4.3"/><circle cx="348.6" cy="990.5" r="4.3"/><circle cx="384.6" cy="949.4" r="4.3"/><circle cx="362.4" cy="956.8" r="4.3"/><circle cx="361.0" cy="928.6" r="4.3"/><circle cx="167.4" cy="1009.6" r="4.3"/><circle cx="342.7" cy="975.2" r="4.3"/><circle cx="223.8" cy="1088.7" r="4.3"/><circle cx="208.4" cy="1081.0" r="4.3"/><circle cx="263.9" cy="1023.6" r="4.3"/><circle cx="373.5" cy="939.7" r="4.3"/><circle cx="299.8" cy="1117.3" r="4.3"/><circle cx="336.2" cy="919.2" r="4.3"/><circle cx="279.3" cy="950.9" r="4.3"/><circle cx="363.3" cy="1039.9" r="4.3"/><circle cx="378.7" cy="965.6" r="4.3"/><circle cx="390.9" cy="968.5" r="4.3"/><circle cx="257.3" cy="1076.8" r="4.3"/><circle cx="222.3" cy="1001.8" r="4.3"/><circle cx="360.4" cy="1077.8" r="4.3"/><circle cx="307.5" cy="1173.4" r="4.3"/><circle cx="253.1" cy="1042.8" r="4.3"/><circle cx="360.3" cy="973.1" r="4.3"/><circle cx="352.3" cy="1064.1" r="4.3"/><circle cx="461.0" cy="1027.6" r="4.3"/><circle cx="376.6" cy="1030.6" r="4.3"/><circle cx="316.0" cy="1068.0" r="4.3"/><circle cx="349.3" cy="949.7" r="4.3"/><circle cx="209.3" cy="1151.1" r="4.3"/><circle cx="234.0" cy="1153.4" r="4.3"/><circle cx="360.8" cy="917.5" r="4.3"/><circle cx="335.2" cy="1041.2" r="4.3"/><circle cx="304.1" cy="1039.7" r="4.3"/><circle cx="226.0" cy="1147.8" r="4.3"/><circle cx="242.5" cy="1014.1" r="4.3"/><circle cx="382.7" cy="940.7" r="4.3"/><circle cx="259.9" cy="1067.4" r="4.3"/><circle cx="323.9" cy="1033.3" r="4.3"/><circle cx="271.1" cy="975.5" r="4.3"/><circle cx="327.1" cy="1064.5" r="4.3"/><circle cx="260.4" cy="1095.6" r="4.3"/><circle cx="380.5" cy="1119.0" r="4.3"/><circle cx="322.9" cy="943.7" r="4.3"/><circle cx="361.7" cy="1164.2" r="4.3"/><circle cx="367.5" cy="946.9" r="4.3"/><circle cx="422.7" cy="1053.9" r="4.3"/><circle cx="376.7" cy="1029.5" r="4.3"/><circle cx="206.1" cy="1066.5" r="4.3"/><circle cx="206.1" cy="1152.1" r="4.3"/><circle cx="436.9" cy="947.2" r="4.3"/><circle cx="298.7" cy="1080.7" r="4.3"/><circle cx="346.8" cy="1058.8" r="4.3"/><circle cx="333.7" cy="1027.4" r="4.3"/><circle cx="402.8" cy="1023.5" r="4.3"/><circle cx="374.1" cy="933.2" r="4.3"/><circle cx="250.7" cy="1001.4" r="4.3"/><circle cx="201.1" cy="1151.4" r="4.3"/><circle cx="385.0" cy="935.5" r="4.3"/><circle cx="291.4" cy="964.9" r="4.3"/><circle cx="353.1" cy="960.9" r="4.3"/><circle cx="312.2" cy="987.8" r="4.3"/><circle cx="377.3" cy="940.7" r="4.3"/><circle cx="262.4" cy="1064.0" r="4.3"/><circle cx="309.7" cy="1148.3" r="4.3"/><circle cx="432.1" cy="904.1" r="4.3"/><circle cx="297.8" cy="1143.6" r="4.3"/><circle cx="285.6" cy="941.6" r="4.3"/><circle cx="361.2" cy="957.2" r="4.3"/><circle cx="318.6" cy="965.1" r="4.3"/><circle cx="201.0" cy="983.7" r="4.3"/><circle cx="453.3" cy="996.7" r="4.3"/><circle cx="132.2" cy="1204.1" r="4.3"/><circle cx="368.3" cy="1008.7" r="4.3"/><circle cx="333.1" cy="1070.3" r="4.3"/><circle cx="370.2" cy="1048.5" r="4.3"/><circle cx="273.6" cy="1034.7" r="4.3"/><circle cx="424.8" cy="937.5" r="4.3"/><circle cx="360.4" cy="951.0" r="4.3"/><circle cx="358.5" cy="1007.6" r="4.3"/><circle cx="334.6" cy="969.1" r="4.3"/><circle cx="381.1" cy="1045.0" r="4.3"/><circle cx="446.2" cy="914.8" r="4.3"/><circle cx="314.9" cy="975.0" r="4.3"/><circle cx="445.8" cy="1060.8" r="4.3"/><circle cx="242.3" cy="1078.8" r="4.3"/><circle cx="143.2" cy="1070.4" r="4.3"/><circle cx="369.2" cy="956.1" r="4.3"/><circle cx="382.2" cy="964.6" r="4.3"/><circle cx="302.2" cy="1110.9" r="4.3"/><circle cx="217.7" cy="1136.2" r="4.3"/><circle cx="230.2" cy="1179.4" r="4.3"/><circle cx="362.7" cy="911.6" r="4.3"/><circle cx="210.6" cy="1166.5" r="4.3"/><circle cx="272.4" cy="1183.2" r="4.3"/><circle cx="273.8" cy="1026.1" r="4.3"/><circle cx="366.6" cy="1001.2" r="4.3"/><circle cx="311.7" cy="985.8" r="4.3"/><circle cx="356.6" cy="964.9" r="4.3"/><circle cx="321.8" cy="971.3" r="4.3"/><circle cx="400.7" cy="988.2" r="4.3"/><circle cx="279.4" cy="1097.3" r="4.3"/><circle cx="249.0" cy="1041.1" r="4.3"/><circle cx="229.4" cy="1198.6" r="4.3"/><circle cx="304.0" cy="1186.7" r="4.3"/><circle cx="332.3" cy="1010.1" r="4.3"/><circle cx="176.6" cy="1150.6" r="4.3"/><circle cx="200.1" cy="1142.2" r="4.3"/><circle cx="181.1" cy="1144.0" r="4.3"/><circle cx="393.6" cy="1028.7" r="4.3"/><circle cx="272.3" cy="1118.6" r="4.3"/><circle cx="445.6" cy="933.5" r="4.3"/><circle cx="461.6" cy="917.9" r="4.3"/><circle cx="311.5" cy="978.4" r="4.3"/><circle cx="391.4" cy="998.2" r="4.3"/><circle cx="338.5" cy="967.6" r="4.3"/><circle cx="319.9" cy="1039.8" r="4.3"/><circle cx="172.7" cy="1029.9" r="4.3"/><circle cx="245.7" cy="1132.5" r="4.3"/><circle cx="232.4" cy="1117.6" r="4.3"/><circle cx="276.0" cy="983.5" r="4.3"/><circle cx="302.6" cy="1055.8" r="4.3"/><circle cx="256.5" cy="971.7" r="4.3"/><circle cx="225.4" cy="1148.0" r="4.3"/><circle cx="137.6" cy="1026.3" r="4.3"/><circle cx="344.1" cy="954.8" r="4.3"/><circle cx="370.1" cy="909.3" r="4.3"/><circle cx="410.7" cy="1034.5" r="4.3"/><circle cx="291.5" cy="1072.2" r="4.3"/><circle cx="329.2" cy="1049.6" r="4.3"/><circle cx="155.7" cy="964.7" r="4.3"/><circle cx="253.6" cy="1066.2" r="4.3"/><circle cx="190.0" cy="1098.3" r="4.3"/><circle cx="351.2" cy="1097.7" r="4.3"/><circle cx="305.6" cy="1143.9" r="4.3"/><circle cx="257.4" cy="1130.3" r="4.3"/><circle cx="273.0" cy="1104.6" r="4.3"/><circle cx="327.6" cy="986.9" r="4.3"/><circle cx="266.1" cy="1089.3" r="4.3"/><circle cx="338.4" cy="1035.9" r="4.3"/><circle cx="289.9" cy="1125.5" r="4.3"/><circle cx="299.4" cy="1009.7" r="4.3"/><circle cx="323.5" cy="943.8" r="4.3"/><circle cx="377.2" cy="1083.9" r="4.3"/><circle cx="324.1" cy="958.9" r="4.3"/><circle cx="298.9" cy="963.6" r="4.3"/><circle cx="422.7" cy="1085.3" r="4.3"/><circle cx="336.7" cy="977.0" r="4.3"/><circle cx="302.6" cy="928.5" r="4.3"/><circle cx="252.0" cy="991.5" r="4.3"/><circle cx="453.3" cy="950.2" r="4.3"/><circle cx="322.6" cy="966.9" r="4.3"/><circle cx="466.5" cy="928.6" r="4.3"/><circle cx="211.2" cy="1070.3" r="4.3"/><circle cx="295.4" cy="1149.8" r="4.3"/><circle cx="298.8" cy="1056.6" r="4.3"/><circle cx="282.4" cy="1017.3" r="4.3"/><circle cx="243.1" cy="957.0" r="4.3"/><circle cx="472.1" cy="936.0" r="4.3"/><circle cx="268.1" cy="1120.1" r="4.3"/><circle cx="355.9" cy="958.7" r="4.3"/><circle cx="475.3" cy="910.6" r="4.3"/><circle cx="260.0" cy="989.2" r="4.3"/><circle cx="427.4" cy="977.2" r="4.3"/><circle cx="471.2" cy="910.6" r="4.3"/><circle cx="343.6" cy="1027.6" r="4.3"/><circle cx="295.9" cy="1129.5" r="4.3"/><circle cx="264.0" cy="1028.6" r="4.3"/><circle cx="358.7" cy="950.7" r="4.3"/><circle cx="290.4" cy="1120.7" r="4.3"/><circle cx="288.2" cy="1001.0" r="4.3"/><circle cx="396.5" cy="1027.3" r="4.3"/><circle cx="465.8" cy="916.7" r="4.3"/><circle cx="346.4" cy="1133.0" r="4.3"/><circle cx="228.4" cy="991.7" r="4.3"/><circle cx="381.4" cy="1082.5" r="4.3"/><circle cx="261.7" cy="1057.2" r="4.3"/><circle cx="210.5" cy="1123.9" r="4.3"/><circle cx="256.4" cy="1093.6" r="4.3"/><circle cx="480.1" cy="936.3" r="4.3"/><circle cx="316.9" cy="1070.2" r="4.3"/><circle cx="308.8" cy="1079.1" r="4.3"/><circle cx="345.4" cy="1094.2" r="4.3"/><circle cx="358.3" cy="1077.5" r="4.3"/><circle cx="307.8" cy="1151.5" r="4.3"/><circle cx="280.3" cy="1123.9" r="4.3"/><circle cx="257.0" cy="1197.9" r="4.3"/><circle cx="251.2" cy="975.0" r="4.3"/><circle cx="408.8" cy="911.5" r="4.3"/><circle cx="192.0" cy="978.5" r="4.3"/><circle cx="278.2" cy="1074.7" r="4.3"/><circle cx="265.4" cy="1125.5" r="4.3"/><circle cx="225.7" cy="1093.0" r="4.3"/><circle cx="280.8" cy="1012.8" r="4.3"/><circle cx="341.3" cy="1096.6" r="4.3"/><circle cx="298.6" cy="998.8" r="4.3"/><circle cx="279.0" cy="1086.0" r="4.3"/><circle cx="390.2" cy="950.3" r="4.3"/><circle cx="339.0" cy="1082.4" r="4.3"/><circle cx="328.2" cy="1042.8" r="4.3"/><circle cx="343.7" cy="1026.7" r="4.3"/><circle cx="439.6" cy="952.2" r="4.3"/><circle cx="421.6" cy="946.5" r="4.3"/><circle cx="320.4" cy="963.3" r="4.3"/><circle cx="368.1" cy="928.6" r="4.3"/><circle cx="358.8" cy="1000.8" r="4.3"/><circle cx="282.4" cy="993.3" r="4.3"/><circle cx="169.7" cy="972.7" r="4.3"/><circle cx="272.3" cy="973.5" r="4.3"/><circle cx="340.2" cy="1031.1" r="4.3"/><circle cx="327.4" cy="961.9" r="4.3"/><circle cx="304.6" cy="920.6" r="4.3"/><circle cx="382.1" cy="920.3" r="4.3"/><circle cx="173.6" cy="990.0" r="4.3"/><circle cx="463.3" cy="933.2" r="4.3"/><circle cx="286.0" cy="1009.9" r="4.3"/><circle cx="363.9" cy="950.1" r="4.3"/><circle cx="225.3" cy="988.2" r="4.3"/><circle cx="276.4" cy="1026.4" r="4.3"/><circle cx="312.6" cy="1158.0" r="4.3"/><circle cx="365.5" cy="1003.4" r="4.3"/><circle cx="295.1" cy="991.0" r="4.3"/><circle cx="210.3" cy="1115.7" r="4.3"/><circle cx="258.8" cy="1101.9" r="4.3"/><circle cx="198.7" cy="1064.0" r="4.3"/><circle cx="399.0" cy="934.4" r="4.3"/><circle cx="304.0" cy="912.7" r="4.3"/><circle cx="212.7" cy="1106.6" r="4.3"/><circle cx="326.7" cy="1083.9" r="4.3"/><circle cx="256.2" cy="1115.8" r="4.3"/><circle cx="270.5" cy="1002.6" r="4.3"/><circle cx="303.7" cy="1039.4" r="4.3"/><circle cx="279.8" cy="1034.3" r="4.3"/><circle cx="233.5" cy="1193.8" r="4.3"/><circle cx="362.1" cy="1043.7" r="4.3"/><circle cx="264.9" cy="1085.5" r="4.3"/><circle cx="264.1" cy="941.4" r="4.3"/><circle cx="317.7" cy="1047.5" r="4.3"/><circle cx="314.3" cy="947.6" r="4.3"/><circle cx="331.2" cy="1113.9" r="4.3"/><circle cx="322.0" cy="1110.9" r="4.3"/><circle cx="268.4" cy="1089.8" r="4.3"/><circle cx="252.9" cy="1182.2" r="4.3"/><circle cx="135.2" cy="1170.3" r="4.3"/><circle cx="186.4" cy="1031.7" r="4.3"/><circle cx="342.1" cy="949.1" r="4.3"/><circle cx="270.2" cy="1132.6" r="4.3"/><circle cx="337.8" cy="1128.2" r="4.3"/><circle cx="250.8" cy="1040.8" r="4.3"/><circle cx="304.9" cy="949.0" r="4.3"/><circle cx="291.1" cy="963.8" r="4.3"/><circle cx="234.1" cy="1064.8" r="4.3"/><circle cx="308.6" cy="1034.4" r="4.3"/><circle cx="420.9" cy="943.0" r="4.3"/><circle cx="214.7" cy="1030.4" r="4.3"/><circle cx="416.1" cy="1087.7" r="4.3"/><circle cx="328.2" cy="971.4" r="4.3"/><circle cx="238.7" cy="1164.1" r="4.3"/><circle cx="197.9" cy="1020.2" r="4.3"/><circle cx="234.3" cy="1198.2" r="4.3"/><circle cx="268.3" cy="927.7" r="4.3"/><circle cx="333.1" cy="1071.2" r="4.3"/><circle cx="391.6" cy="894.2" r="4.3"/><circle cx="353.3" cy="970.9" r="4.3"/><circle cx="309.7" cy="1075.2" r="4.3"/><circle cx="330.8" cy="1087.6" r="4.3"/><circle cx="378.3" cy="1017.3" r="4.3"/><circle cx="426.0" cy="938.2" r="4.3"/><circle cx="187.4" cy="1176.0" r="4.3"/><circle cx="211.7" cy="1059.8" r="4.3"/><circle cx="358.7" cy="1007.5" r="4.3"/><circle cx="401.3" cy="936.6" r="4.3"/><circle cx="289.0" cy="984.3" r="4.3"/><circle cx="248.6" cy="1125.2" r="4.3"/><circle cx="427.9" cy="946.7" r="4.3"/><circle cx="277.0" cy="1192.1" r="4.3"/><circle cx="277.5" cy="996.9" r="4.3"/><circle cx="146.2" cy="1168.5" r="4.3"/><circle cx="263.9" cy="931.0" r="4.3"/><circle cx="195.2" cy="1180.0" r="4.3"/><circle cx="278.3" cy="1032.2" r="4.3"/><circle cx="158.0" cy="1143.3" r="4.3"/><circle cx="367.1" cy="1031.6" r="4.3"/><circle cx="367.9" cy="1137.5" r="4.3"/><circle cx="243.8" cy="1043.4" r="4.3"/><circle cx="265.4" cy="1194.2" r="4.3"/><circle cx="345.0" cy="959.0" r="4.3"/><circle cx="421.6" cy="933.0" r="4.3"/><circle cx="313.4" cy="1025.4" r="4.3"/><circle cx="316.8" cy="985.6" r="4.3"/><circle cx="278.0" cy="1195.8" r="4.3"/><circle cx="464.9" cy="905.1" r="4.3"/><circle cx="321.4" cy="962.8" r="4.3"/><circle cx="246.7" cy="1199.7" r="4.3"/><circle cx="183.1" cy="1187.3" r="4.3"/><circle cx="222.6" cy="1180.5" r="4.3"/><circle cx="393.4" cy="957.7" r="4.3"/><circle cx="393.0" cy="950.8" r="4.3"/><circle cx="196.5" cy="1038.4" r="4.3"/><circle cx="417.6" cy="937.3" r="4.3"/><circle cx="268.2" cy="965.3" r="4.3"/><circle cx="334.2" cy="990.5" r="4.3"/><circle cx="439.8" cy="925.6" r="4.3"/><circle cx="132.6" cy="1173.6" r="4.3"/><circle cx="333.4" cy="919.4" r="4.3"/><circle cx="356.3" cy="1022.8" r="4.3"/><circle cx="300.4" cy="1070.5" r="4.3"/><circle cx="188.4" cy="987.1" r="4.3"/><circle cx="373.0" cy="1007.6" r="4.3"/><circle cx="235.5" cy="1080.8" r="4.3"/><circle cx="168.8" cy="1142.6" r="4.3"/><circle cx="349.5" cy="975.0" r="4.3"/><circle cx="340.2" cy="936.6" r="4.3"/><circle cx="348.3" cy="964.8" r="4.3"/><circle cx="354.0" cy="1041.8" r="4.3"/><circle cx="388.6" cy="943.7" r="4.3"/><circle cx="328.6" cy="986.1" r="4.3"/><circle cx="254.4" cy="1166.9" r="4.3"/><circle cx="359.6" cy="978.8" r="4.3"/><circle cx="258.0" cy="1034.4" r="4.3"/><circle cx="340.3" cy="1015.6" r="4.3"/><circle cx="200.9" cy="1140.8" r="4.3"/><circle cx="240.2" cy="1077.4" r="4.3"/><circle cx="279.9" cy="1059.5" r="4.3"/><circle cx="276.8" cy="1208.2" r="4.3"/><circle cx="384.2" cy="976.4" r="4.3"/><circle cx="437.0" cy="953.8" r="4.3"/><circle cx="278.3" cy="1081.6" r="4.3"/><circle cx="347.5" cy="967.3" r="4.3"/><circle cx="380.8" cy="1056.1" r="4.3"/><circle cx="294.6" cy="968.5" r="4.3"/><circle cx="253.6" cy="988.8" r="4.3"/><circle cx="180.6" cy="1014.2" r="4.3"/><circle cx="301.9" cy="938.8" r="4.3"/><circle cx="269.2" cy="1197.1" r="4.3"/><circle cx="169.4" cy="1187.2" r="4.3"/><circle cx="202.8" cy="1090.8" r="4.3"/><circle cx="317.0" cy="1045.5" r="4.3"/><circle cx="169.6" cy="1159.9" r="4.3"/><circle cx="318.2" cy="947.0" r="4.3"/><circle cx="184.2" cy="1156.9" r="4.3"/><circle cx="358.0" cy="974.5" r="4.3"/><circle cx="275.0" cy="1013.1" r="4.3"/><circle cx="296.6" cy="1010.5" r="4.3"/><circle cx="158.9" cy="1073.6" r="4.3"/><circle cx="240.4" cy="1114.0" r="4.3"/><circle cx="261.7" cy="937.5" r="4.3"/><circle cx="210.9" cy="1050.7" r="4.3"/><circle cx="214.1" cy="1137.1" r="4.3"/><circle cx="243.2" cy="1154.4" r="4.3"/><circle cx="255.4" cy="1081.7" r="4.3"/><circle cx="318.8" cy="1123.5" r="4.3"/><circle cx="294.7" cy="1050.7" r="4.3"/><circle cx="429.9" cy="924.3" r="4.3"/><circle cx="179.4" cy="1205.2" r="4.3"/><circle cx="229.3" cy="1083.4" r="4.3"/><circle cx="204.9" cy="1004.1" r="4.3"/><circle cx="307.1" cy="1160.6" r="4.3"/><circle cx="184.1" cy="1160.0" r="4.3"/><circle cx="336.9" cy="1036.2" r="4.3"/><circle cx="194.3" cy="1070.2" r="4.3"/><circle cx="281.6" cy="1124.7" r="4.3"/><circle cx="429.6" cy="911.1" r="4.3"/><circle cx="216.7" cy="957.1" r="4.3"/><circle cx="238.5" cy="1064.8" r="4.3"/><circle cx="267.8" cy="1171.4" r="4.3"/><circle cx="338.4" cy="1077.7" r="4.3"/><circle cx="425.0" cy="913.8" r="4.3"/><circle cx="325.8" cy="949.0" r="4.3"/><circle cx="273.4" cy="1071.0" r="4.3"/><circle cx="196.4" cy="1065.1" r="4.3"/><circle cx="237.4" cy="1022.0" r="4.3"/><circle cx="289.2" cy="1074.6" r="4.3"/><circle cx="365.1" cy="946.5" r="4.3"/><circle cx="275.4" cy="1164.1" r="4.3"/><circle cx="419.6" cy="912.2" r="4.3"/><circle cx="437.5" cy="918.6" r="4.3"/><circle cx="304.0" cy="1003.5" r="4.3"/><circle cx="267.7" cy="1167.9" r="4.3"/><circle cx="271.5" cy="971.6" r="4.3"/><circle cx="252.5" cy="1138.4" r="4.3"/><circle cx="337.3" cy="945.7" r="4.3"/><circle cx="272.5" cy="1145.0" r="4.3"/><circle cx="380.6" cy="958.8" r="4.3"/><circle cx="184.7" cy="1153.7" r="4.3"/><circle cx="385.3" cy="939.5" r="4.3"/><circle cx="324.4" cy="1005.2" r="4.3"/><circle cx="255.1" cy="1103.3" r="4.3"/><circle cx="237.3" cy="1193.9" r="4.3"/><circle cx="347.0" cy="1111.8" r="4.3"/><circle cx="335.5" cy="1035.4" r="4.3"/><circle cx="222.1" cy="1151.6" r="4.3"/><circle cx="251.2" cy="1157.7" r="4.3"/><circle cx="402.2" cy="1081.1" r="4.3"/></g><path d="M131.8 1131.4L477.2 945.2" stroke="#808080" stroke-width="7.5" stroke-linecap="round"/><rect x="114.5" y="858.3" width="380.1" height="380.0" fill="none" stroke="#333" stroke-width="1.4"/><text x="165.8" y="1261.2" font-family="'DejaVu Sans','Liberation Sans',sans-serif" font-size="21.5" fill="#262626" text-anchor="middle">0.3</text><text x="249.4" y="1261.2" font-family="'DejaVu Sans','Liberation Sans',sans-serif" font-size="21.5" fill="#262626" text-anchor="middle">0.4</text><text x="333.0" y="1261.2" font-family="'DejaVu Sans','Liberation Sans',sans-serif" font-size="21.5" fill="#262626" text-anchor="middle">0.5</text><text x="416.6" y="1261.2" font-family="'DejaVu Sans','Liberation Sans',sans-serif" font-size="21.5" fill="#262626" text-anchor="middle">0.6</text><path d="M165.8 1238.3v-6M249.4 1238.3v-6M333.0 1238.3v-6M416.6 1238.3v-6M114.5 1223.4h6M114.5 1122.8h6M114.5 1022.2h6M114.5 921.6h6" stroke="#333" stroke-width="1.3" fill="none"/><text x="126.5" y="888.7" font-family="'DejaVu Sans','Liberation Sans',sans-serif" font-size="26.6" fill="#262626"><tspan font-style="italic">r</tspan><tspan dx="5.5">=</tspan><tspan dx="5.5">0.54</tspan> ± 0.12</text>
<text x="107.3" y="1231.3" font-family="'DejaVu Sans','Liberation Sans',sans-serif" font-size="21.5" fill="#262626" text-anchor="end">0.0</text>
<text x="107.3" y="1130.7" font-family="'DejaVu Sans','Liberation Sans',sans-serif" font-size="21.5" fill="#262626" text-anchor="end">0.2</text>
<text x="107.3" y="1030.1" font-family="'DejaVu Sans','Liberation Sans',sans-serif" font-size="21.5" fill="#262626" text-anchor="end">0.4</text>
<text x="107.3" y="929.5" font-family="'DejaVu Sans','Liberation Sans',sans-serif" font-size="21.5" fill="#262626" text-anchor="end">0.6</text>
<text x="304.6" y="1293.0" font-family="'DejaVu Sans','Liberation Sans',sans-serif" font-size="28.0" fill="#262626" text-anchor="middle">BOLD</text>
<g transform="translate(57.6 1049.6) rotate(-90)"><text x="-40.3" y="0.0" font-family="'DejaVu Sans','Liberation Sans',sans-serif" font-size="28.0" fill="#262626">Ca</text><text x="-2.8" y="-11.8" font-family="'DejaVu Sans','Liberation Sans',sans-serif" font-size="18.2" fill="#262626">2+</text><text x="-2.6" y="6.2" font-family="'DejaVu Sans','Liberation Sans',sans-serif" font-size="19.6" fill="#262626" font-style="italic">slow</text></g>
<g fill="#7a7a7a" fill-opacity="0.5" stroke="#fff" stroke-opacity="0.55" stroke-width="1"><circle cx="803.1" cy="1038.8" r="4.3"/><circle cx="739.8" cy="1040.3" r="4.3"/><circle cx="855.6" cy="964.9" r="4.3"/><circle cx="820.2" cy="939.8" r="4.3"/><circle cx="807.3" cy="1212.7" r="4.3"/><circle cx="792.3" cy="995.7" r="4.3"/><circle cx="702.2" cy="1216.4" r="4.3"/><circle cx="754.9" cy="1005.6" r="4.3"/><circle cx="819.0" cy="923.8" r="4.3"/><circle cx="749.4" cy="1161.9" r="4.3"/><circle cx="769.0" cy="936.4" r="4.3"/><circle cx="717.8" cy="949.2" r="4.3"/><circle cx="828.8" cy="1083.3" r="4.3"/><circle cx="789.3" cy="1009.8" r="4.3"/><circle cx="706.5" cy="1060.6" r="4.3"/><circle cx="698.3" cy="1080.3" r="4.3"/><circle cx="659.5" cy="1065.1" r="4.3"/><circle cx="693.8" cy="1140.5" r="4.3"/><circle cx="810.0" cy="1010.5" r="4.3"/><circle cx="761.7" cy="1050.3" r="4.3"/><circle cx="720.1" cy="1088.3" r="4.3"/><circle cx="839.7" cy="1075.6" r="4.3"/><circle cx="777.9" cy="1110.7" r="4.3"/><circle cx="833.1" cy="953.8" r="4.3"/><circle cx="677.7" cy="1125.4" r="4.3"/><circle cx="631.6" cy="1181.8" r="4.3"/><circle cx="751.8" cy="980.0" r="4.3"/><circle cx="578.8" cy="1106.2" r="4.3"/><circle cx="867.7" cy="883.2" r="4.3"/><circle cx="812.9" cy="1034.9" r="4.3"/><circle cx="577.8" cy="1160.8" r="4.3"/><circle cx="747.6" cy="1127.8" r="4.3"/><circle cx="756.3" cy="974.8" r="4.3"/><circle cx="755.1" cy="1036.6" r="4.3"/><circle cx="889.4" cy="904.7" r="4.3"/><circle cx="758.0" cy="1180.9" r="4.3"/><circle cx="779.8" cy="968.2" r="4.3"/><circle cx="831.1" cy="1018.0" r="4.3"/><circle cx="808.2" cy="927.2" r="4.3"/><circle cx="586.7" cy="1065.2" r="4.3"/><circle cx="866.5" cy="1089.3" r="4.3"/><circle cx="685.0" cy="1182.4" r="4.3"/><circle cx="726.0" cy="1144.0" r="4.3"/><circle cx="847.1" cy="1089.5" r="4.3"/><circle cx="783.1" cy="1037.0" r="4.3"/><circle cx="830.2" cy="886.1" r="4.3"/><circle cx="680.3" cy="1189.8" r="4.3"/><circle cx="706.7" cy="1180.9" r="4.3"/><circle cx="683.3" cy="1119.4" r="4.3"/><circle cx="643.0" cy="1017.1" r="4.3"/><circle cx="856.7" cy="898.4" r="4.3"/><circle cx="611.9" cy="1215.6" r="4.3"/><circle cx="696.0" cy="973.9" r="4.3"/><circle cx="810.5" cy="995.5" r="4.3"/><circle cx="759.5" cy="939.2" r="4.3"/><circle cx="802.8" cy="957.7" r="4.3"/><circle cx="712.5" cy="968.1" r="4.3"/><circle cx="687.9" cy="1103.4" r="4.3"/><circle cx="884.8" cy="935.6" r="4.3"/><circle cx="725.3" cy="1111.7" r="4.3"/><circle cx="819.1" cy="945.7" r="4.3"/><circle cx="845.3" cy="1045.8" r="4.3"/><circle cx="759.1" cy="1079.4" r="4.3"/><circle cx="626.5" cy="1206.3" r="4.3"/><circle cx="779.0" cy="938.3" r="4.3"/><circle cx="711.3" cy="1051.0" r="4.3"/><circle cx="823.1" cy="1007.7" r="4.3"/><circle cx="842.5" cy="884.3" r="4.3"/><circle cx="712.9" cy="1108.9" r="4.3"/><circle cx="720.7" cy="1047.6" r="4.3"/><circle cx="599.9" cy="1216.5" r="4.3"/><circle cx="649.5" cy="1050.8" r="4.3"/><circle cx="626.8" cy="1194.4" r="4.3"/><circle cx="877.6" cy="930.9" r="4.3"/><circle cx="852.3" cy="1157.5" r="4.3"/><circle cx="706.6" cy="1106.3" r="4.3"/><circle cx="668.9" cy="1158.0" r="4.3"/><circle cx="838.4" cy="1039.7" r="4.3"/><circle cx="672.5" cy="1112.6" r="4.3"/><circle cx="887.7" cy="942.3" r="4.3"/><circle cx="723.3" cy="1094.1" r="4.3"/><circle cx="829.2" cy="1103.1" r="4.3"/><circle cx="752.7" cy="971.5" r="4.3"/><circle cx="853.8" cy="1123.0" r="4.3"/><circle cx="775.8" cy="1053.1" r="4.3"/><circle cx="735.2" cy="1163.9" r="4.3"/><circle cx="651.4" cy="1141.0" r="4.3"/><circle cx="651.8" cy="1209.2" r="4.3"/><circle cx="782.7" cy="1075.4" r="4.3"/><circle cx="623.6" cy="1139.9" r="4.3"/><circle cx="811.7" cy="1104.0" r="4.3"/><circle cx="627.0" cy="1213.7" r="4.3"/><circle cx="860.1" cy="987.8" r="4.3"/><circle cx="669.3" cy="1100.3" r="4.3"/><circle cx="745.4" cy="968.6" r="4.3"/><circle cx="753.8" cy="1052.8" r="4.3"/><circle cx="760.1" cy="1095.4" r="4.3"/><circle cx="612.6" cy="1211.5" r="4.3"/><circle cx="784.4" cy="1086.7" r="4.3"/><circle cx="815.1" cy="1004.6" r="4.3"/><circle cx="697.5" cy="1103.9" r="4.3"/><circle cx="661.1" cy="1203.8" r="4.3"/><circle cx="749.9" cy="965.1" r="4.3"/><circle cx="825.0" cy="926.5" r="4.3"/><circle cx="854.9" cy="1014.0" r="4.3"/><circle cx="829.9" cy="1012.8" r="4.3"/><circle cx="628.2" cy="1155.7" r="4.3"/><circle cx="691.5" cy="1112.5" r="4.3"/><circle cx="781.5" cy="974.1" r="4.3"/><circle cx="689.6" cy="1061.3" r="4.3"/><circle cx="741.3" cy="993.3" r="4.3"/><circle cx="644.6" cy="1139.6" r="4.3"/><circle cx="850.8" cy="920.9" r="4.3"/><circle cx="723.3" cy="985.2" r="4.3"/><circle cx="898.7" cy="1005.6" r="4.3"/><circle cx="572.1" cy="1158.5" r="4.3"/><circle cx="761.4" cy="1097.4" r="4.3"/><circle cx="796.8" cy="1134.4" r="4.3"/><circle cx="641.2" cy="1139.4" r="4.3"/><circle cx="753.8" cy="877.2" r="4.3"/><circle cx="823.7" cy="977.3" r="4.3"/><circle cx="750.5" cy="932.3" r="4.3"/><circle cx="771.4" cy="1093.6" r="4.3"/><circle cx="677.9" cy="1190.9" r="4.3"/><circle cx="783.8" cy="1018.9" r="4.3"/><circle cx="758.2" cy="1103.0" r="4.3"/><circle cx="790.8" cy="1111.2" r="4.3"/><circle cx="658.6" cy="1197.2" r="4.3"/><circle cx="703.8" cy="1198.9" r="4.3"/><circle cx="708.3" cy="1198.0" r="4.3"/><circle cx="799.4" cy="914.9" r="4.3"/><circle cx="819.5" cy="1033.1" r="4.3"/><circle cx="841.7" cy="1075.9" r="4.3"/><circle cx="831.6" cy="1061.8" r="4.3"/><circle cx="719.1" cy="1124.3" r="4.3"/><circle cx="887.2" cy="878.1" r="4.3"/><circle cx="648.6" cy="1122.7" r="4.3"/><circle cx="679.5" cy="1068.9" r="4.3"/><circle cx="672.2" cy="1017.5" r="4.3"/><circle cx="656.8" cy="1107.9" r="4.3"/><circle cx="909.3" cy="931.1" r="4.3"/><circle cx="617.0" cy="1151.6" r="4.3"/><circle cx="759.9" cy="920.4" r="4.3"/><circle cx="690.1" cy="1035.0" r="4.3"/><circle cx="635.6" cy="1134.0" r="4.3"/><circle cx="625.9" cy="1121.3" r="4.3"/><circle cx="871.5" cy="933.4" r="4.3"/><circle cx="716.5" cy="1123.0" r="4.3"/><circle cx="762.9" cy="1170.4" r="4.3"/><circle cx="899.4" cy="928.9" r="4.3"/><circle cx="786.7" cy="977.2" r="4.3"/><circle cx="822.8" cy="970.9" r="4.3"/><circle cx="800.5" cy="969.1" r="4.3"/><circle cx="799.2" cy="935.2" r="4.3"/><circle cx="605.0" cy="1026.5" r="4.3"/><circle cx="780.7" cy="1079.4" r="4.3"/><circle cx="661.5" cy="1101.9" r="4.3"/><circle cx="646.2" cy="1104.0" r="4.3"/><circle cx="701.8" cy="1105.4" r="4.3"/><circle cx="811.6" cy="959.6" r="4.3"/><circle cx="737.8" cy="1153.8" r="4.3"/><circle cx="774.3" cy="958.5" r="4.3"/><circle cx="717.2" cy="989.6" r="4.3"/><circle cx="801.5" cy="1126.1" r="4.3"/><circle cx="816.8" cy="953.5" r="4.3"/><circle cx="829.1" cy="1017.4" r="4.3"/><circle cx="695.2" cy="1115.6" r="4.3"/><circle cx="660.0" cy="1006.5" r="4.3"/><circle cx="798.6" cy="1088.9" r="4.3"/><circle cx="745.5" cy="1200.5" r="4.3"/><circle cx="691.0" cy="1084.5" r="4.3"/><circle cx="798.5" cy="902.2" r="4.3"/><circle cx="790.4" cy="1085.0" r="4.3"/><circle cx="899.4" cy="1023.2" r="4.3"/><circle cx="814.8" cy="938.1" r="4.3"/><circle cx="754.0" cy="1118.0" r="4.3"/><circle cx="787.4" cy="945.6" r="4.3"/><circle cx="647.1" cy="1175.5" r="4.3"/><circle cx="671.7" cy="1218.6" r="4.3"/><circle cx="799.0" cy="934.5" r="4.3"/><circle cx="773.2" cy="1041.0" r="4.3"/><circle cx="742.1" cy="1162.3" r="4.3"/><circle cx="663.7" cy="1185.9" r="4.3"/><circle cx="680.3" cy="1021.4" r="4.3"/><circle cx="820.9" cy="953.1" r="4.3"/><circle cx="697.7" cy="1102.1" r="4.3"/><circle cx="762.0" cy="1081.5" r="4.3"/><circle cx="709.0" cy="1009.0" r="4.3"/><circle cx="765.2" cy="1117.7" r="4.3"/><circle cx="698.2" cy="1131.7" r="4.3"/><circle cx="818.7" cy="1134.6" r="4.3"/><circle cx="760.9" cy="959.0" r="4.3"/><circle cx="799.8" cy="1156.1" r="4.3"/><circle cx="805.7" cy="949.3" r="4.3"/><circle cx="861.0" cy="989.2" r="4.3"/><circle cx="814.8" cy="1058.2" r="4.3"/><circle cx="643.8" cy="1116.0" r="4.3"/><circle cx="643.8" cy="1183.3" r="4.3"/><circle cx="875.2" cy="989.3" r="4.3"/><circle cx="736.7" cy="1089.6" r="4.3"/><circle cx="784.9" cy="1029.5" r="4.3"/><circle cx="771.8" cy="1041.0" r="4.3"/><circle cx="841.1" cy="1054.5" r="4.3"/><circle cx="812.3" cy="949.0" r="4.3"/><circle cx="688.5" cy="987.5" r="4.3"/><circle cx="638.8" cy="1159.3" r="4.3"/><circle cx="823.2" cy="955.6" r="4.3"/><circle cx="729.4" cy="1019.0" r="4.3"/><circle cx="791.2" cy="958.4" r="4.3"/><circle cx="750.2" cy="1051.4" r="4.3"/><circle cx="815.5" cy="932.9" r="4.3"/><circle cx="700.3" cy="1109.3" r="4.3"/><circle cx="747.7" cy="1185.7" r="4.3"/><circle cx="870.5" cy="880.0" r="4.3"/><circle cx="735.8" cy="1180.5" r="4.3"/><circle cx="723.5" cy="965.0" r="4.3"/><circle cx="799.3" cy="971.5" r="4.3"/><circle cx="756.7" cy="988.7" r="4.3"/><circle cx="638.7" cy="889.6" r="4.3"/><circle cx="891.7" cy="1117.7" r="4.3"/><circle cx="569.7" cy="1215.0" r="4.3"/><circle cx="806.4" cy="955.9" r="4.3"/><circle cx="771.2" cy="1096.2" r="4.3"/><circle cx="808.3" cy="1066.7" r="4.3"/><circle cx="711.5" cy="1138.5" r="4.3"/><circle cx="863.1" cy="930.6" r="4.3"/><circle cx="798.6" cy="935.7" r="4.3"/><circle cx="796.7" cy="1020.7" r="4.3"/><circle cx="772.7" cy="985.4" r="4.3"/><circle cx="819.3" cy="1064.6" r="4.3"/><circle cx="884.6" cy="899.1" r="4.3"/><circle cx="753.0" cy="1038.6" r="4.3"/><circle cx="884.2" cy="1073.5" r="4.3"/><circle cx="680.1" cy="1140.9" r="4.3"/><circle cx="580.7" cy="1117.7" r="4.3"/><circle cx="807.4" cy="1053.7" r="4.3"/><circle cx="820.4" cy="998.0" r="4.3"/><circle cx="740.2" cy="1121.0" r="4.3"/><circle cx="655.5" cy="1174.4" r="4.3"/><circle cx="667.9" cy="1164.7" r="4.3"/><circle cx="800.8" cy="936.8" r="4.3"/><circle cx="648.3" cy="1210.5" r="4.3"/><circle cx="710.3" cy="1221.3" r="4.3"/><circle cx="711.7" cy="1136.2" r="4.3"/><circle cx="804.8" cy="1032.3" r="4.3"/><circle cx="749.7" cy="1132.7" r="4.3"/><circle cx="794.7" cy="1023.6" r="4.3"/><circle cx="759.8" cy="911.3" r="4.3"/><circle cx="838.9" cy="1031.7" r="4.3"/><circle cx="717.3" cy="1100.6" r="4.3"/><circle cx="686.9" cy="1128.2" r="4.3"/><circle cx="667.2" cy="1213.1" r="4.3"/><circle cx="741.9" cy="1213.8" r="4.3"/><circle cx="770.4" cy="1023.1" r="4.3"/><circle cx="614.2" cy="1196.5" r="4.3"/><circle cx="637.8" cy="1179.5" r="4.3"/><circle cx="618.8" cy="1176.7" r="4.3"/><circle cx="831.8" cy="1065.4" r="4.3"/><circle cx="710.2" cy="1120.3" r="4.3"/><circle cx="884.0" cy="971.7" r="4.3"/><circle cx="900.0" cy="971.2" r="4.3"/><circle cx="749.5" cy="1037.5" r="4.3"/><circle cx="829.6" cy="1052.4" r="4.3"/><circle cx="776.6" cy="958.5" r="4.3"/><circle cx="758.0" cy="1055.6" r="4.3"/><circle cx="610.3" cy="1094.5" r="4.3"/><circle cx="683.5" cy="1117.0" r="4.3"/><circle cx="670.1" cy="1141.3" r="4.3"/><circle cx="713.9" cy="1126.7" r="4.3"/><circle cx="740.6" cy="1043.9" r="4.3"/><circle cx="694.3" cy="992.5" r="4.3"/><circle cx="663.2" cy="1175.5" r="4.3"/><circle cx="575.1" cy="1120.1" r="4.3"/><circle cx="782.2" cy="974.6" r="4.3"/><circle cx="808.3" cy="906.3" r="4.3"/><circle cx="849.0" cy="1051.8" r="4.3"/><circle cx="729.4" cy="1073.1" r="4.3"/><circle cx="767.2" cy="1048.0" r="4.3"/><circle cx="593.2" cy="922.8" r="4.3"/><circle cx="691.5" cy="1052.9" r="4.3"/><circle cx="627.6" cy="1130.6" r="4.3"/><circle cx="789.3" cy="1081.9" r="4.3"/><circle cx="743.6" cy="1171.4" r="4.3"/><circle cx="695.3" cy="1142.2" r="4.3"/><circle cx="710.9" cy="1140.2" r="4.3"/><circle cx="765.7" cy="1062.0" r="4.3"/><circle cx="704.0" cy="1182.2" r="4.3"/><circle cx="776.4" cy="1106.6" r="4.3"/><circle cx="727.8" cy="1172.2" r="4.3"/><circle cx="737.4" cy="1086.9" r="4.3"/><circle cx="761.5" cy="923.3" r="4.3"/><circle cx="815.4" cy="1160.1" r="4.3"/><circle cx="762.1" cy="1024.0" r="4.3"/><circle cx="736.8" cy="992.2" r="4.3"/><circle cx="861.0" cy="1099.6" r="4.3"/><circle cx="774.8" cy="1038.2" r="4.3"/><circle cx="740.6" cy="974.6" r="4.3"/><circle cx="689.8" cy="1011.1" r="4.3"/><circle cx="891.6" cy="985.7" r="4.3"/><circle cx="760.6" cy="963.5" r="4.3"/><circle cx="904.9" cy="908.8" r="4.3"/><circle cx="649.0" cy="1129.4" r="4.3"/><circle cx="733.4" cy="1174.6" r="4.3"/><circle cx="736.8" cy="1098.5" r="4.3"/><circle cx="720.3" cy="1021.0" r="4.3"/><circle cx="681.0" cy="941.4" r="4.3"/><circle cx="910.5" cy="929.6" r="4.3"/><circle cx="706.0" cy="1134.0" r="4.3"/><circle cx="794.0" cy="961.0" r="4.3"/><circle cx="913.7" cy="922.9" r="4.3"/><circle cx="697.9" cy="1066.8" r="4.3"/><circle cx="865.8" cy="1005.6" r="4.3"/><circle cx="909.6" cy="883.9" r="4.3"/><circle cx="781.7" cy="1027.2" r="4.3"/><circle cx="733.8" cy="1108.6" r="4.3"/><circle cx="701.9" cy="1097.7" r="4.3"/><circle cx="796.9" cy="961.0" r="4.3"/><circle cx="728.4" cy="1191.6" r="4.3"/><circle cx="726.2" cy="1041.4" r="4.3"/><circle cx="834.7" cy="1121.1" r="4.3"/><circle cx="904.3" cy="893.8" r="4.3"/><circle cx="784.5" cy="1147.6" r="4.3"/><circle cx="666.2" cy="1058.5" r="4.3"/><circle cx="819.5" cy="1103.0" r="4.3"/><circle cx="699.5" cy="1059.7" r="4.3"/><circle cx="648.2" cy="1114.1" r="4.3"/><circle cx="694.3" cy="1102.3" r="4.3"/><circle cx="918.5" cy="936.4" r="4.3"/><circle cx="754.9" cy="1113.3" r="4.3"/><circle cx="746.7" cy="1087.4" r="4.3"/><circle cx="783.5" cy="1134.3" r="4.3"/><circle cx="796.4" cy="1140.7" r="4.3"/><circle cx="745.8" cy="1162.0" r="4.3"/><circle cx="718.2" cy="1171.3" r="4.3"/><circle cx="694.9" cy="1211.8" r="4.3"/><circle cx="689.1" cy="977.6" r="4.3"/><circle cx="847.1" cy="915.9" r="4.3"/><circle cx="629.7" cy="942.5" r="4.3"/><circle cx="716.1" cy="1132.0" r="4.3"/><circle cx="703.3" cy="1138.7" r="4.3"/><circle cx="663.5" cy="1158.1" r="4.3"/><circle cx="718.7" cy="1111.5" r="4.3"/><circle cx="779.3" cy="1152.8" r="4.3"/><circle cx="736.6" cy="1052.1" r="4.3"/><circle cx="716.9" cy="1129.7" r="4.3"/><circle cx="828.4" cy="918.9" r="4.3"/><circle cx="777.1" cy="1137.3" r="4.3"/><circle cx="766.2" cy="1064.7" r="4.3"/><circle cx="781.7" cy="1071.5" r="4.3"/><circle cx="878.0" cy="980.2" r="4.3"/><circle cx="859.9" cy="939.1" r="4.3"/><circle cx="758.4" cy="990.8" r="4.3"/><circle cx="806.3" cy="906.9" r="4.3"/><circle cx="796.9" cy="1046.9" r="4.3"/><circle cx="720.4" cy="1128.9" r="4.3"/><circle cx="607.3" cy="992.8" r="4.3"/><circle cx="710.2" cy="1024.6" r="4.3"/><circle cx="778.2" cy="1093.2" r="4.3"/><circle cx="765.5" cy="961.0" r="4.3"/><circle cx="742.6" cy="911.7" r="4.3"/><circle cx="820.3" cy="998.7" r="4.3"/><circle cx="611.2" cy="1093.4" r="4.3"/><circle cx="901.7" cy="933.2" r="4.3"/><circle cx="723.9" cy="1083.6" r="4.3"/><circle cx="802.1" cy="1002.5" r="4.3"/><circle cx="663.1" cy="1010.3" r="4.3"/><circle cx="714.3" cy="1032.1" r="4.3"/><circle cx="750.6" cy="1218.7" r="4.3"/><circle cx="803.7" cy="1141.3" r="4.3"/><circle cx="733.1" cy="1049.7" r="4.3"/><circle cx="648.0" cy="1207.1" r="4.3"/><circle cx="696.7" cy="1144.3" r="4.3"/><circle cx="636.4" cy="1056.3" r="4.3"/><circle cx="837.2" cy="967.7" r="4.3"/><circle cx="742.0" cy="911.0" r="4.3"/><circle cx="650.4" cy="1156.7" r="4.3"/><circle cx="764.8" cy="1099.1" r="4.3"/><circle cx="694.1" cy="1130.4" r="4.3"/><circle cx="708.4" cy="1034.2" r="4.3"/><circle cx="741.7" cy="1114.4" r="4.3"/><circle cx="717.7" cy="1039.6" r="4.3"/><circle cx="671.3" cy="1218.2" r="4.3"/><circle cx="800.2" cy="1098.2" r="4.3"/><circle cx="702.8" cy="1074.8" r="4.3"/><circle cx="701.9" cy="977.3" r="4.3"/><circle cx="755.7" cy="1086.2" r="4.3"/><circle cx="752.3" cy="885.1" r="4.3"/><circle cx="769.3" cy="1123.2" r="4.3"/><circle cx="760.0" cy="1160.4" r="4.3"/><circle cx="706.3" cy="1113.7" r="4.3"/><circle cx="690.7" cy="1213.6" r="4.3"/><circle cx="572.7" cy="1210.6" r="4.3"/><circle cx="624.1" cy="1115.0" r="4.3"/><circle cx="780.1" cy="946.5" r="4.3"/><circle cx="708.1" cy="1200.2" r="4.3"/><circle cx="775.8" cy="1151.0" r="4.3"/><circle cx="688.7" cy="1042.2" r="4.3"/><circle cx="742.9" cy="943.2" r="4.3"/><circle cx="729.1" cy="897.4" r="4.3"/><circle cx="671.9" cy="1141.3" r="4.3"/><circle cx="746.6" cy="1155.8" r="4.3"/><circle cx="859.2" cy="978.5" r="4.3"/><circle cx="652.5" cy="1040.4" r="4.3"/><circle cx="854.4" cy="1122.9" r="4.3"/><circle cx="766.2" cy="1003.7" r="4.3"/><circle cx="676.5" cy="1219.0" r="4.3"/><circle cx="635.6" cy="1067.9" r="4.3"/><circle cx="672.0" cy="1213.4" r="4.3"/><circle cx="706.2" cy="937.3" r="4.3"/><circle cx="771.2" cy="1137.5" r="4.3"/><circle cx="829.8" cy="895.0" r="4.3"/><circle cx="791.4" cy="991.3" r="4.3"/><circle cx="747.7" cy="1088.0" r="4.3"/><circle cx="768.8" cy="1151.7" r="4.3"/><circle cx="816.5" cy="1059.2" r="4.3"/><circle cx="864.3" cy="946.3" r="4.3"/><circle cx="625.1" cy="1219.9" r="4.3"/><circle cx="649.4" cy="1160.4" r="4.3"/><circle cx="796.8" cy="1011.3" r="4.3"/><circle cx="839.5" cy="968.3" r="4.3"/><circle cx="726.9" cy="1079.5" r="4.3"/><circle cx="686.5" cy="1135.3" r="4.3"/><circle cx="866.2" cy="932.6" r="4.3"/><circle cx="714.9" cy="1217.9" r="4.3"/><circle cx="715.4" cy="997.8" r="4.3"/><circle cx="583.7" cy="1184.9" r="4.3"/><circle cx="701.8" cy="966.5" r="4.3"/><circle cx="632.9" cy="1192.5" r="4.3"/><circle cx="716.2" cy="1112.1" r="4.3"/><circle cx="595.6" cy="1166.6" r="4.3"/><circle cx="805.3" cy="975.8" r="4.3"/><circle cx="806.0" cy="1159.9" r="4.3"/><circle cx="681.6" cy="1046.5" r="4.3"/><circle cx="703.2" cy="1218.8" r="4.3"/><circle cx="783.1" cy="975.5" r="4.3"/><circle cx="859.9" cy="956.2" r="4.3"/><circle cx="751.4" cy="1099.1" r="4.3"/><circle cx="754.8" cy="1062.8" r="4.3"/><circle cx="715.9" cy="1212.4" r="4.3"/><circle cx="903.3" cy="908.4" r="4.3"/><circle cx="759.4" cy="991.9" r="4.3"/><circle cx="684.5" cy="1211.8" r="4.3"/><circle cx="620.7" cy="1219.1" r="4.3"/><circle cx="660.4" cy="1203.1" r="4.3"/><circle cx="831.6" cy="1005.7" r="4.3"/><circle cx="831.3" cy="939.3" r="4.3"/><circle cx="634.1" cy="1105.5" r="4.3"/><circle cx="855.9" cy="935.6" r="4.3"/><circle cx="706.1" cy="1027.6" r="4.3"/><circle cx="772.2" cy="1042.7" r="4.3"/><circle cx="878.1" cy="940.8" r="4.3"/><circle cx="570.1" cy="1198.1" r="4.3"/><circle cx="771.5" cy="880.1" r="4.3"/><circle cx="794.4" cy="991.9" r="4.3"/><circle cx="738.4" cy="1148.0" r="4.3"/><circle cx="626.0" cy="1024.8" r="4.3"/><circle cx="811.2" cy="1055.9" r="4.3"/><circle cx="673.3" cy="1128.4" r="4.3"/><circle cx="606.4" cy="1162.4" r="4.3"/><circle cx="787.6" cy="919.3" r="4.3"/><circle cx="778.3" cy="954.6" r="4.3"/><circle cx="786.4" cy="937.0" r="4.3"/><circle cx="792.1" cy="1010.2" r="4.3"/><circle cx="826.8" cy="913.0" r="4.3"/><circle cx="766.7" cy="1036.9" r="4.3"/><circle cx="692.2" cy="1164.8" r="4.3"/><circle cx="797.7" cy="1003.6" r="4.3"/><circle cx="695.9" cy="1050.4" r="4.3"/><circle cx="778.4" cy="1082.7" r="4.3"/><circle cx="638.6" cy="1193.5" r="4.3"/><circle cx="678.0" cy="1096.3" r="4.3"/><circle cx="717.8" cy="1084.7" r="4.3"/><circle cx="714.7" cy="1217.2" r="4.3"/><circle cx="822.4" cy="1050.9" r="4.3"/><circle cx="875.4" cy="1017.3" r="4.3"/><circle cx="716.2" cy="1074.3" r="4.3"/><circle cx="785.6" cy="1056.4" r="4.3"/><circle cx="819.0" cy="1080.6" r="4.3"/><circle cx="732.5" cy="1048.7" r="4.3"/><circle cx="691.4" cy="1068.5" r="4.3"/><circle cx="618.3" cy="1041.6" r="4.3"/><circle cx="739.9" cy="979.5" r="4.3"/><circle cx="707.1" cy="1210.5" r="4.3"/><circle cx="607.0" cy="1217.9" r="4.3"/><circle cx="640.5" cy="1112.2" r="4.3"/><circle cx="755.0" cy="1079.2" r="4.3"/><circle cx="607.2" cy="1180.8" r="4.3"/><circle cx="756.2" cy="925.5" r="4.3"/><circle cx="621.9" cy="1202.3" r="4.3"/><circle cx="796.1" cy="979.7" r="4.3"/><circle cx="712.9" cy="1132.5" r="4.3"/><circle cx="734.6" cy="1008.6" r="4.3"/><circle cx="596.5" cy="1109.5" r="4.3"/><circle cx="678.3" cy="1156.5" r="4.3"/><circle cx="699.5" cy="996.8" r="4.3"/><circle cx="648.6" cy="1117.7" r="4.3"/><circle cx="651.8" cy="1209.6" r="4.3"/><circle cx="681.0" cy="1202.3" r="4.3"/><circle cx="693.3" cy="1090.8" r="4.3"/><circle cx="756.8" cy="1155.8" r="4.3"/><circle cx="732.7" cy="1105.2" r="4.3"/><circle cx="868.2" cy="954.7" r="4.3"/><circle cx="617.0" cy="1219.2" r="4.3"/><circle cx="667.1" cy="1148.7" r="4.3"/><circle cx="642.6" cy="944.9" r="4.3"/><circle cx="745.1" cy="1190.9" r="4.3"/><circle cx="621.8" cy="1216.4" r="4.3"/><circle cx="775.0" cy="1071.1" r="4.3"/><circle cx="632.0" cy="1049.2" r="4.3"/><circle cx="719.5" cy="1170.6" r="4.3"/><circle cx="867.9" cy="915.8" r="4.3"/><circle cx="654.4" cy="1008.2" r="4.3"/><circle cx="676.3" cy="1137.8" r="4.3"/><circle cx="705.7" cy="1177.4" r="4.3"/><circle cx="776.5" cy="1010.9" r="4.3"/><circle cx="863.4" cy="935.6" r="4.3"/><circle cx="763.8" cy="1026.4" r="4.3"/><circle cx="711.3" cy="1061.8" r="4.3"/><circle cx="634.1" cy="1063.6" r="4.3"/><circle cx="675.2" cy="1009.4" r="4.3"/><circle cx="727.2" cy="1052.4" r="4.3"/><circle cx="803.2" cy="978.4" r="4.3"/><circle cx="713.3" cy="1194.1" r="4.3"/><circle cx="857.9" cy="894.5" r="4.3"/><circle cx="875.8" cy="932.2" r="4.3"/><circle cx="742.0" cy="1012.9" r="4.3"/><circle cx="705.6" cy="1210.1" r="4.3"/><circle cx="709.4" cy="976.3" r="4.3"/><circle cx="690.3" cy="1216.5" r="4.3"/><circle cx="775.3" cy="947.4" r="4.3"/><circle cx="710.4" cy="1211.2" r="4.3"/><circle cx="818.7" cy="998.1" r="4.3"/><circle cx="622.4" cy="1219.9" r="4.3"/><circle cx="823.5" cy="925.2" r="4.3"/><circle cx="762.5" cy="1069.7" r="4.3"/><circle cx="693.0" cy="1141.0" r="4.3"/><circle cx="675.1" cy="1206.1" r="4.3"/><circle cx="785.1" cy="1123.9" r="4.3"/><circle cx="773.6" cy="1124.2" r="4.3"/><circle cx="659.9" cy="1212.7" r="4.3"/><circle cx="689.0" cy="1178.1" r="4.3"/><circle cx="840.4" cy="1119.8" r="4.3"/></g><path d="M570.0 1200.9L914.6 922.0" stroke="#808080" stroke-width="7.5" stroke-linecap="round"/><rect x="552.4" y="858.3" width="380.6" height="380.0" fill="none" stroke="#333" stroke-width="1.4"/><text x="603.4" y="1261.2" font-family="'DejaVu Sans','Liberation Sans',sans-serif" font-size="21.5" fill="#262626" text-anchor="middle">0.3</text><text x="687.2" y="1261.2" font-family="'DejaVu Sans','Liberation Sans',sans-serif" font-size="21.5" fill="#262626" text-anchor="middle">0.4</text><text x="771.1" y="1261.2" font-family="'DejaVu Sans','Liberation Sans',sans-serif" font-size="21.5" fill="#262626" text-anchor="middle">0.5</text><text x="854.9" y="1261.2" font-family="'DejaVu Sans','Liberation Sans',sans-serif" font-size="21.5" fill="#262626" text-anchor="middle">0.6</text><path d="M603.4 1238.3v-6M687.2 1238.3v-6M771.1 1238.3v-6M854.9 1238.3v-6M552.4 1223.4h6M552.4 1122.8h6M552.4 1022.2h6M552.4 921.6h6" stroke="#333" stroke-width="1.3" fill="none"/><text x="564.4" y="888.7" font-family="'DejaVu Sans','Liberation Sans',sans-serif" font-size="26.6" fill="#262626"><tspan font-style="italic">r</tspan><tspan dx="5.5">=</tspan><tspan dx="5.5">0.63</tspan> ± 0.09</text>
<text x="742.0" y="1293.0" font-family="'DejaVu Sans','Liberation Sans',sans-serif" font-size="28.0" fill="#262626" text-anchor="middle">BOLD</text>
<g transform="translate(536.3 1050) rotate(-90)"><text x="-36.9" y="0.0" font-family="'DejaVu Sans','Liberation Sans',sans-serif" font-size="28.0" fill="#262626">Ca</text><text x="0.6" y="-11.8" font-family="'DejaVu Sans','Liberation Sans',sans-serif" font-size="18.2" fill="#262626">2+</text><text x="0.8" y="6.2" font-family="'DejaVu Sans','Liberation Sans',sans-serif" font-size="19.6" fill="#262626" font-style="italic">fast</text></g>
<g fill="#7a7a7a" fill-opacity="0.5" stroke="#fff" stroke-opacity="0.55" stroke-width="1"><circle cx="1184.8" cy="1038.8" r="4.3"/><circle cx="1183.6" cy="1040.3" r="4.3"/><circle cx="1257.7" cy="964.9" r="4.3"/><circle cx="1285.4" cy="939.8" r="4.3"/><circle cx="1013.9" cy="1212.7" r="4.3"/><circle cx="1246.0" cy="995.7" r="4.3"/><circle cx="1015.0" cy="1216.4" r="4.3"/><circle cx="1161.4" cy="1005.6" r="4.3"/><circle cx="1253.9" cy="923.8" r="4.3"/><circle cx="1048.6" cy="1161.9" r="4.3"/><circle cx="1280.3" cy="936.4" r="4.3"/><circle cx="1261.2" cy="949.2" r="4.3"/><circle cx="1195.3" cy="1083.3" r="4.3"/><circle cx="1219.8" cy="1009.8" r="4.3"/><circle cx="1152.7" cy="1060.6" r="4.3"/><circle cx="1166.9" cy="1080.3" r="4.3"/><circle cx="1197.4" cy="1065.1" r="4.3"/><circle cx="1100.1" cy="1140.5" r="4.3"/><circle cx="1252.7" cy="1010.5" r="4.3"/><circle cx="1169.2" cy="1050.3" r="4.3"/><circle cx="1215.4" cy="1088.3" r="4.3"/><circle cx="1229.1" cy="1075.6" r="4.3"/><circle cx="1138.3" cy="1110.7" r="4.3"/><circle cx="1270.7" cy="953.8" r="4.3"/><circle cx="1135.3" cy="1125.4" r="4.3"/><circle cx="1021.3" cy="1181.8" r="4.3"/><circle cx="1265.5" cy="980.0" r="4.3"/><circle cx="1094.0" cy="1106.2" r="4.3"/><circle cx="1313.2" cy="883.2" r="4.3"/><circle cx="1223.2" cy="1034.9" r="4.3"/><circle cx="1030.7" cy="1160.8" r="4.3"/><circle cx="1134.4" cy="1127.8" r="4.3"/><circle cx="1230.9" cy="974.8" r="4.3"/><circle cx="1186.9" cy="1036.6" r="4.3"/><circle cx="1292.6" cy="904.7" r="4.3"/><circle cx="1077.7" cy="1180.9" r="4.3"/><circle cx="1277.1" cy="968.2" r="4.3"/><circle cx="1240.1" cy="1018.0" r="4.3"/><circle cx="1287.2" cy="927.2" r="4.3"/><circle cx="1204.3" cy="1065.2" r="4.3"/><circle cx="1157.2" cy="1089.3" r="4.3"/><circle cx="1046.7" cy="1182.4" r="4.3"/><circle cx="1188.4" cy="1144.0" r="4.3"/><circle cx="1214.7" cy="1089.5" r="4.3"/><circle cx="1202.2" cy="1037.0" r="4.3"/><circle cx="1315.6" cy="886.1" r="4.3"/><circle cx="1012.2" cy="1189.8" r="4.3"/><circle cx="1053.6" cy="1180.9" r="4.3"/><circle cx="1078.3" cy="1119.4" r="4.3"/><circle cx="1256.2" cy="1017.1" r="4.3"/><circle cx="1298.0" cy="898.4" r="4.3"/><circle cx="1028.8" cy="1215.6" r="4.3"/><circle cx="1226.1" cy="973.9" r="4.3"/><circle cx="1263.6" cy="995.5" r="4.3"/><circle cx="1290.7" cy="939.2" r="4.3"/><circle cx="1241.8" cy="957.7" r="4.3"/><circle cx="1265.9" cy="968.1" r="4.3"/><circle cx="1113.8" cy="1103.4" r="4.3"/><circle cx="1278.6" cy="935.6" r="4.3"/><circle cx="1102.4" cy="1111.7" r="4.3"/><circle cx="1257.9" cy="945.7" r="4.3"/><circle cx="1226.5" cy="1045.8" r="4.3"/><circle cx="1146.7" cy="1079.4" r="4.3"/><circle cx="1010.7" cy="1206.3" r="4.3"/><circle cx="1294.1" cy="938.3" r="4.3"/><circle cx="1156.6" cy="1051.0" r="4.3"/><circle cx="1257.4" cy="1007.7" r="4.3"/><circle cx="1313.7" cy="884.3" r="4.3"/><circle cx="1150.5" cy="1108.9" r="4.3"/><circle cx="1214.2" cy="1047.6" r="4.3"/><circle cx="984.3" cy="1216.5" r="4.3"/><circle cx="1150.2" cy="1050.8" r="4.3"/><circle cx="1041.8" cy="1194.4" r="4.3"/><circle cx="1263.4" cy="930.9" r="4.3"/><circle cx="1222.4" cy="1157.5" r="4.3"/><circle cx="1085.1" cy="1106.3" r="4.3"/><circle cx="1037.1" cy="1158.0" r="4.3"/><circle cx="1244.1" cy="1039.7" r="4.3"/><circle cx="1081.5" cy="1112.6" r="4.3"/><circle cx="1268.4" cy="942.3" r="4.3"/><circle cx="1119.5" cy="1094.1" r="4.3"/><circle cx="1237.1" cy="1103.1" r="4.3"/><circle cx="1260.6" cy="971.5" r="4.3"/><circle cx="1162.3" cy="1123.0" r="4.3"/><circle cx="1223.6" cy="1053.1" r="4.3"/><circle cx="1068.0" cy="1163.9" r="4.3"/><circle cx="1087.9" cy="1141.0" r="4.3"/><circle cx="1080.9" cy="1209.2" r="4.3"/><circle cx="1167.4" cy="1075.4" r="4.3"/><circle cx="1156.3" cy="1139.9" r="4.3"/><circle cx="1152.8" cy="1104.0" r="4.3"/><circle cx="1012.6" cy="1213.7" r="4.3"/><circle cx="1254.2" cy="987.8" r="4.3"/><circle cx="1114.2" cy="1100.3" r="4.3"/><circle cx="1193.5" cy="968.6" r="4.3"/><circle cx="1192.9" cy="1052.8" r="4.3"/><circle cx="1086.7" cy="1095.4" r="4.3"/><circle cx="1018.5" cy="1211.5" r="4.3"/><circle cx="1192.6" cy="1086.7" r="4.3"/><circle cx="1253.4" cy="1004.6" r="4.3"/><circle cx="1202.3" cy="1103.9" r="4.3"/><circle cx="1001.2" cy="1203.8" r="4.3"/><circle cx="1255.7" cy="965.1" r="4.3"/><circle cx="1301.2" cy="926.5" r="4.3"/><circle cx="1243.5" cy="1014.0" r="4.3"/><circle cx="1201.0" cy="1012.8" r="4.3"/><circle cx="1063.8" cy="1155.7" r="4.3"/><circle cx="1091.8" cy="1112.5" r="4.3"/><circle cx="1245.2" cy="974.1" r="4.3"/><circle cx="1201.3" cy="1061.3" r="4.3"/><circle cx="1228.3" cy="993.3" r="4.3"/><circle cx="1120.2" cy="1139.6" r="4.3"/><circle cx="1269.8" cy="920.9" r="4.3"/><circle cx="1244.9" cy="985.2" r="4.3"/><circle cx="1262.5" cy="1005.6" r="4.3"/><circle cx="1090.0" cy="1158.5" r="4.3"/><circle cx="1140.3" cy="1097.4" r="4.3"/><circle cx="1213.0" cy="1134.4" r="4.3"/><circle cx="1052.8" cy="1139.4" r="4.3"/><circle cx="1315.1" cy="877.2" r="4.3"/><circle cx="1268.4" cy="977.3" r="4.3"/><circle cx="1285.0" cy="932.3" r="4.3"/><circle cx="1088.5" cy="1093.6" r="4.3"/><circle cx="1024.6" cy="1190.9" r="4.3"/><circle cx="1244.6" cy="1018.9" r="4.3"/><circle cx="1201.0" cy="1103.0" r="4.3"/><circle cx="1180.4" cy="1111.2" r="4.3"/><circle cx="1001.6" cy="1197.2" r="4.3"/><circle cx="1018.8" cy="1198.9" r="4.3"/><circle cx="1055.0" cy="1198.0" r="4.3"/><circle cx="1287.6" cy="914.9" r="4.3"/><circle cx="1193.3" cy="1033.1" r="4.3"/><circle cx="1171.0" cy="1075.9" r="4.3"/><circle cx="1219.3" cy="1061.8" r="4.3"/><circle cx="1114.4" cy="1124.3" r="4.3"/><circle cx="1295.8" cy="878.1" r="4.3"/><circle cx="1130.3" cy="1122.7" r="4.3"/><circle cx="1163.3" cy="1068.9" r="4.3"/><circle cx="1155.7" cy="1017.5" r="4.3"/><circle cx="1079.2" cy="1107.9" r="4.3"/><circle cx="1306.7" cy="931.1" r="4.3"/><circle cx="1026.6" cy="1151.6" r="4.3"/><circle cx="1260.0" cy="920.4" r="4.3"/><circle cx="1248.8" cy="1035.0" r="4.3"/><circle cx="1048.8" cy="1134.0" r="4.3"/><circle cx="1167.3" cy="1121.3" r="4.3"/><circle cx="1270.6" cy="933.4" r="4.3"/><circle cx="1150.3" cy="1123.0" r="4.3"/><circle cx="1096.8" cy="1170.4" r="4.3"/><circle cx="1268.1" cy="928.9" r="4.3"/><circle cx="1214.9" cy="977.2" r="4.3"/><circle cx="1259.9" cy="970.9" r="4.3"/><circle cx="1251.9" cy="969.1" r="4.3"/><circle cx="1282.8" cy="935.2" r="4.3"/><circle cx="1193.9" cy="1026.5" r="4.3"/><circle cx="1231.6" cy="1079.4" r="4.3"/><circle cx="1107.0" cy="1101.9" r="4.3"/><circle cx="1115.5" cy="1104.0" r="4.3"/><circle cx="1178.5" cy="1105.4" r="4.3"/><circle cx="1270.6" cy="959.6" r="4.3"/><circle cx="1075.6" cy="1153.8" r="4.3"/><circle cx="1293.1" cy="958.5" r="4.3"/><circle cx="1258.3" cy="989.6" r="4.3"/><circle cx="1160.6" cy="1126.1" r="4.3"/><circle cx="1242.2" cy="953.5" r="4.3"/><circle cx="1239.0" cy="1017.4" r="4.3"/><circle cx="1120.0" cy="1115.6" r="4.3"/><circle cx="1202.5" cy="1006.5" r="4.3"/><circle cx="1119.0" cy="1088.9" r="4.3"/><circle cx="1014.0" cy="1200.5" r="4.3"/><circle cx="1157.4" cy="1084.5" r="4.3"/><circle cx="1234.0" cy="902.2" r="4.3"/><circle cx="1134.0" cy="1085.0" r="4.3"/><circle cx="1174.1" cy="1023.2" r="4.3"/><circle cx="1170.8" cy="938.1" r="4.3"/><circle cx="1129.7" cy="1118.0" r="4.3"/><circle cx="1259.6" cy="945.6" r="4.3"/><circle cx="1038.5" cy="1175.5" r="4.3"/><circle cx="1036.0" cy="1218.6" r="4.3"/><circle cx="1295.0" cy="934.5" r="4.3"/><circle cx="1159.1" cy="1041.0" r="4.3"/><circle cx="1160.8" cy="1162.3" r="4.3"/><circle cx="1042.1" cy="1185.9" r="4.3"/><circle cx="1188.9" cy="1021.4" r="4.3"/><circle cx="1269.5" cy="953.1" r="4.3"/><circle cx="1130.4" cy="1102.1" r="4.3"/><circle cx="1167.8" cy="1081.5" r="4.3"/><circle cx="1231.3" cy="1009.0" r="4.3"/><circle cx="1133.5" cy="1117.7" r="4.3"/><circle cx="1099.4" cy="1131.7" r="4.3"/><circle cx="1073.8" cy="1134.6" r="4.3"/><circle cx="1266.2" cy="959.0" r="4.3"/><circle cx="1024.1" cy="1156.1" r="4.3"/><circle cx="1262.7" cy="949.3" r="4.3"/><circle cx="1145.2" cy="989.2" r="4.3"/><circle cx="1172.0" cy="1058.2" r="4.3"/><circle cx="1131.4" cy="1116.0" r="4.3"/><circle cx="1037.3" cy="1183.3" r="4.3"/><circle cx="1262.4" cy="989.3" r="4.3"/><circle cx="1115.8" cy="1089.6" r="4.3"/><circle cx="1139.8" cy="1029.5" r="4.3"/><circle cx="1174.3" cy="1041.0" r="4.3"/><circle cx="1178.6" cy="1054.5" r="4.3"/><circle cx="1277.7" cy="949.0" r="4.3"/><circle cx="1202.9" cy="987.5" r="4.3"/><circle cx="1038.1" cy="1159.3" r="4.3"/><circle cx="1275.2" cy="955.6" r="4.3"/><circle cx="1242.9" cy="1019.0" r="4.3"/><circle cx="1247.3" cy="958.4" r="4.3"/><circle cx="1217.8" cy="1051.4" r="4.3"/><circle cx="1269.5" cy="932.9" r="4.3"/><circle cx="1134.1" cy="1109.3" r="4.3"/><circle cx="1041.5" cy="1185.7" r="4.3"/><circle cx="1309.7" cy="880.0" r="4.3"/><circle cx="1046.7" cy="1180.5" r="4.3"/><circle cx="1268.5" cy="965.0" r="4.3"/><circle cx="1251.4" cy="971.5" r="4.3"/><circle cx="1242.7" cy="988.7" r="4.3"/><circle cx="1222.3" cy="889.6" r="4.3"/><circle cx="1208.0" cy="1117.7" r="4.3"/><circle cx="980.3" cy="1215.0" r="4.3"/><circle cx="1194.8" cy="955.9" r="4.3"/><circle cx="1127.3" cy="1096.2" r="4.3"/><circle cx="1151.1" cy="1066.7" r="4.3"/><circle cx="1166.3" cy="1138.5" r="4.3"/><circle cx="1273.1" cy="930.6" r="4.3"/><circle cx="1258.2" cy="935.7" r="4.3"/><circle cx="1196.0" cy="1020.7" r="4.3"/><circle cx="1238.4" cy="985.4" r="4.3"/><circle cx="1155.0" cy="1064.6" r="4.3"/><circle cx="1297.9" cy="899.1" r="4.3"/><circle cx="1231.8" cy="1038.6" r="4.3"/><circle cx="1137.6" cy="1073.5" r="4.3"/><circle cx="1117.8" cy="1140.9" r="4.3"/><circle cx="1127.0" cy="1117.7" r="4.3"/><circle cx="1252.6" cy="1053.7" r="4.3"/><circle cx="1243.3" cy="998.0" r="4.3"/><circle cx="1082.6" cy="1121.0" r="4.3"/><circle cx="1054.8" cy="1174.4" r="4.3"/><circle cx="1007.5" cy="1164.7" r="4.3"/><circle cx="1301.4" cy="936.8" r="4.3"/><circle cx="1021.6" cy="1210.5" r="4.3"/><circle cx="1003.3" cy="1221.3" r="4.3"/><circle cx="1175.7" cy="1136.2" r="4.3"/><circle cx="1203.1" cy="1032.3" r="4.3"/><circle cx="1220.0" cy="1132.7" r="4.3"/><circle cx="1243.0" cy="1023.6" r="4.3"/><circle cx="1235.9" cy="911.3" r="4.3"/><circle cx="1217.3" cy="1031.7" r="4.3"/><circle cx="1097.5" cy="1100.6" r="4.3"/><circle cx="1159.3" cy="1128.2" r="4.3"/><circle cx="986.4" cy="1213.1" r="4.3"/><circle cx="999.4" cy="1213.8" r="4.3"/><circle cx="1193.3" cy="1023.1" r="4.3"/><circle cx="1039.0" cy="1196.5" r="4.3"/><circle cx="1048.3" cy="1179.5" r="4.3"/><circle cx="1046.2" cy="1176.7" r="4.3"/><circle cx="1172.9" cy="1065.4" r="4.3"/><circle cx="1074.2" cy="1120.3" r="4.3"/><circle cx="1277.5" cy="971.7" r="4.3"/><circle cx="1294.5" cy="971.2" r="4.3"/><circle cx="1228.1" cy="1037.5" r="4.3"/><circle cx="1206.4" cy="1052.4" r="4.3"/><circle cx="1240.0" cy="958.5" r="4.3"/><circle cx="1160.7" cy="1055.6" r="4.3"/><circle cx="1171.5" cy="1094.5" r="4.3"/><circle cx="1058.9" cy="1117.0" r="4.3"/><circle cx="1075.2" cy="1141.3" r="4.3"/><circle cx="1222.5" cy="1126.7" r="4.3"/><circle cx="1143.1" cy="1043.9" r="4.3"/><circle cx="1235.5" cy="992.5" r="4.3"/><circle cx="1041.9" cy="1175.5" r="4.3"/><circle cx="1175.5" cy="1120.1" r="4.3"/><circle cx="1254.0" cy="974.6" r="4.3"/><circle cx="1304.0" cy="906.3" r="4.3"/><circle cx="1166.5" cy="1051.8" r="4.3"/><circle cx="1125.1" cy="1073.1" r="4.3"/><circle cx="1149.9" cy="1048.0" r="4.3"/><circle cx="1243.2" cy="922.8" r="4.3"/><circle cx="1131.7" cy="1052.9" r="4.3"/><circle cx="1096.4" cy="1130.6" r="4.3"/><circle cx="1097.1" cy="1081.9" r="4.3"/><circle cx="1046.4" cy="1171.4" r="4.3"/><circle cx="1061.4" cy="1142.2" r="4.3"/><circle cx="1089.5" cy="1140.2" r="4.3"/><circle cx="1218.8" cy="1062.0" r="4.3"/><circle cx="1106.4" cy="1182.2" r="4.3"/><circle cx="1164.9" cy="1106.6" r="4.3"/><circle cx="1066.5" cy="1172.2" r="4.3"/><circle cx="1193.8" cy="1086.9" r="4.3"/><circle cx="1266.1" cy="923.3" r="4.3"/><circle cx="1112.3" cy="1160.1" r="4.3"/><circle cx="1249.5" cy="1024.0" r="4.3"/><circle cx="1244.3" cy="992.2" r="4.3"/><circle cx="1110.7" cy="1099.6" r="4.3"/><circle cx="1229.6" cy="1038.2" r="4.3"/><circle cx="1282.9" cy="974.6" r="4.3"/><circle cx="1213.7" cy="1011.1" r="4.3"/><circle cx="1259.1" cy="985.7" r="4.3"/><circle cx="1240.8" cy="963.5" r="4.3"/><circle cx="1282.8" cy="908.8" r="4.3"/><circle cx="1127.2" cy="1129.4" r="4.3"/><circle cx="1039.9" cy="1174.6" r="4.3"/><circle cx="1142.2" cy="1098.5" r="4.3"/><circle cx="1185.4" cy="1021.0" r="4.3"/><circle cx="1251.6" cy="941.4" r="4.3"/><circle cx="1274.7" cy="929.6" r="4.3"/><circle cx="1072.5" cy="1134.0" r="4.3"/><circle cx="1249.7" cy="961.0" r="4.3"/><circle cx="1302.5" cy="922.9" r="4.3"/><circle cx="1216.3" cy="1066.8" r="4.3"/><circle cx="1229.4" cy="1005.6" r="4.3"/><circle cx="1302.6" cy="883.9" r="4.3"/><circle cx="1174.0" cy="1027.2" r="4.3"/><circle cx="1062.2" cy="1108.6" r="4.3"/><circle cx="1173.0" cy="1097.7" r="4.3"/><circle cx="1258.6" cy="961.0" r="4.3"/><circle cx="1071.9" cy="1191.6" r="4.3"/><circle cx="1203.3" cy="1041.4" r="4.3"/><circle cx="1174.4" cy="1121.1" r="4.3"/><circle cx="1295.8" cy="893.8" r="4.3"/><circle cx="1058.4" cy="1147.6" r="4.3"/><circle cx="1213.5" cy="1058.5" r="4.3"/><circle cx="1113.8" cy="1103.0" r="4.3"/><circle cx="1141.6" cy="1059.7" r="4.3"/><circle cx="1068.3" cy="1114.1" r="4.3"/><circle cx="1101.7" cy="1102.3" r="4.3"/><circle cx="1274.3" cy="936.4" r="4.3"/><circle cx="1127.3" cy="1113.3" r="4.3"/><circle cx="1117.6" cy="1087.4" r="4.3"/><circle cx="1101.0" cy="1134.3" r="4.3"/><circle cx="1119.3" cy="1140.7" r="4.3"/><circle cx="1038.1" cy="1162.0" r="4.3"/><circle cx="1068.4" cy="1171.3" r="4.3"/><circle cx="987.1" cy="1211.8" r="4.3"/><circle cx="1231.9" cy="977.6" r="4.3"/><circle cx="1301.6" cy="915.9" r="4.3"/><circle cx="1228.0" cy="942.5" r="4.3"/><circle cx="1122.4" cy="1132.0" r="4.3"/><circle cx="1066.6" cy="1138.7" r="4.3"/><circle cx="1102.3" cy="1158.1" r="4.3"/><circle cx="1190.4" cy="1111.5" r="4.3"/><circle cx="1098.3" cy="1152.8" r="4.3"/><circle cx="1205.7" cy="1052.1" r="4.3"/><circle cx="1110.0" cy="1129.7" r="4.3"/><circle cx="1259.0" cy="918.9" r="4.3"/><circle cx="1113.9" cy="1137.3" r="4.3"/><circle cx="1157.4" cy="1064.7" r="4.3"/><circle cx="1175.1" cy="1071.5" r="4.3"/><circle cx="1256.8" cy="980.2" r="4.3"/><circle cx="1263.2" cy="939.1" r="4.3"/><circle cx="1244.7" cy="990.8" r="4.3"/><circle cx="1282.8" cy="906.9" r="4.3"/><circle cx="1203.5" cy="1046.9" r="4.3"/><circle cx="1211.7" cy="1128.9" r="4.3"/><circle cx="1234.3" cy="992.8" r="4.3"/><circle cx="1233.5" cy="1024.6" r="4.3"/><circle cx="1170.2" cy="1093.2" r="4.3"/><circle cx="1246.2" cy="961.0" r="4.3"/><circle cx="1291.5" cy="911.7" r="4.3"/><circle cx="1291.9" cy="998.7" r="4.3"/><circle cx="1215.4" cy="1093.4" r="4.3"/><circle cx="1277.8" cy="933.2" r="4.3"/><circle cx="1193.6" cy="1083.6" r="4.3"/><circle cx="1259.1" cy="1002.5" r="4.3"/><circle cx="1217.4" cy="1010.3" r="4.3"/><circle cx="1175.5" cy="1032.1" r="4.3"/><circle cx="1030.9" cy="1218.7" r="4.3"/><circle cx="1200.7" cy="1141.3" r="4.3"/><circle cx="1214.3" cy="1049.7" r="4.3"/><circle cx="1077.4" cy="1207.1" r="4.3"/><circle cx="1092.5" cy="1144.3" r="4.3"/><circle cx="1134.1" cy="1056.3" r="4.3"/><circle cx="1276.4" cy="967.7" r="4.3"/><circle cx="1300.2" cy="911.0" r="4.3"/><circle cx="1087.3" cy="1156.7" r="4.3"/><circle cx="1112.2" cy="1099.1" r="4.3"/><circle cx="1077.3" cy="1130.4" r="4.3"/><circle cx="1201.6" cy="1034.2" r="4.3"/><circle cx="1161.1" cy="1114.4" r="4.3"/><circle cx="1166.7" cy="1039.6" r="4.3"/><circle cx="991.6" cy="1218.2" r="4.3"/><circle cx="1156.4" cy="1098.2" r="4.3"/><circle cx="1110.5" cy="1074.8" r="4.3"/><circle cx="1268.7" cy="977.3" r="4.3"/><circle cx="1152.3" cy="1086.2" r="4.3"/><circle cx="1262.0" cy="885.1" r="4.3"/><circle cx="1079.3" cy="1123.2" r="4.3"/><circle cx="1082.7" cy="1160.4" r="4.3"/><circle cx="1105.8" cy="1113.7" r="4.3"/><circle cx="1004.3" cy="1213.6" r="4.3"/><circle cx="1017.4" cy="1210.6" r="4.3"/><circle cx="1169.6" cy="1115.0" r="4.3"/><circle cx="1260.3" cy="946.5" r="4.3"/><circle cx="1058.8" cy="1200.2" r="4.3"/><circle cx="1063.7" cy="1151.0" r="4.3"/><circle cx="1159.6" cy="1042.2" r="4.3"/><circle cx="1260.4" cy="943.2" r="4.3"/><circle cx="1244.1" cy="897.4" r="4.3"/><circle cx="1133.3" cy="1141.3" r="4.3"/><circle cx="1166.7" cy="1155.8" r="4.3"/><circle cx="1267.0" cy="978.5" r="4.3"/><circle cx="1171.0" cy="1040.4" r="4.3"/><circle cx="1108.1" cy="1122.9" r="4.3"/><circle cx="1235.8" cy="1003.7" r="4.3"/><circle cx="1024.2" cy="1219.0" r="4.3"/><circle cx="1182.3" cy="1067.9" r="4.3"/><circle cx="986.8" cy="1213.4" r="4.3"/><circle cx="1283.8" cy="937.3" r="4.3"/><circle cx="1126.3" cy="1137.5" r="4.3"/><circle cx="1320.6" cy="895.0" r="4.3"/><circle cx="1236.3" cy="991.3" r="4.3"/><circle cx="1121.8" cy="1088.0" r="4.3"/><circle cx="1108.2" cy="1151.7" r="4.3"/><circle cx="1185.4" cy="1059.2" r="4.3"/><circle cx="1272.3" cy="946.3" r="4.3"/><circle cx="1011.1" cy="1219.9" r="4.3"/><circle cx="1138.7" cy="1160.4" r="4.3"/><circle cx="1196.2" cy="1011.3" r="4.3"/><circle cx="1274.1" cy="968.3" r="4.3"/><circle cx="1221.7" cy="1079.5" r="4.3"/><circle cx="1066.9" cy="1135.3" r="4.3"/><circle cx="1262.9" cy="932.6" r="4.3"/><circle cx="993.4" cy="1217.9" r="4.3"/><circle cx="1207.8" cy="997.8" r="4.3"/><circle cx="1019.4" cy="1184.9" r="4.3"/><circle cx="1280.1" cy="966.5" r="4.3"/><circle cx="1006.8" cy="1192.5" r="4.3"/><circle cx="1169.0" cy="1112.1" r="4.3"/><circle cx="1047.1" cy="1166.6" r="4.3"/><circle cx="1169.7" cy="975.8" r="4.3"/><circle cx="1053.5" cy="1159.9" r="4.3"/><circle cx="1156.8" cy="1046.5" r="4.3"/><circle cx="991.2" cy="1218.8" r="4.3"/><circle cx="1249.4" cy="975.5" r="4.3"/><circle cx="1278.0" cy="956.2" r="4.3"/><circle cx="1176.5" cy="1099.1" r="4.3"/><circle cx="1220.2" cy="1062.8" r="4.3"/><circle cx="989.4" cy="1212.4" r="4.3"/><circle cx="1308.6" cy="908.4" r="4.3"/><circle cx="1245.3" cy="991.9" r="4.3"/><circle cx="985.1" cy="1211.8" r="4.3"/><circle cx="998.7" cy="1219.1" r="4.3"/><circle cx="1006.2" cy="1203.1" r="4.3"/><circle cx="1250.9" cy="1005.7" r="4.3"/><circle cx="1258.5" cy="939.3" r="4.3"/><circle cx="1162.3" cy="1105.5" r="4.3"/><circle cx="1273.2" cy="935.6" r="4.3"/><circle cx="1242.5" cy="1027.6" r="4.3"/><circle cx="1214.8" cy="1042.7" r="4.3"/><circle cx="1286.1" cy="940.8" r="4.3"/><circle cx="1013.7" cy="1198.1" r="4.3"/><circle cx="1292.9" cy="880.1" r="4.3"/><circle cx="1179.3" cy="991.9" r="4.3"/><circle cx="1127.0" cy="1148.0" r="4.3"/><circle cx="1218.5" cy="1024.8" r="4.3"/><circle cx="1196.0" cy="1055.9" r="4.3"/><circle cx="1115.7" cy="1128.4" r="4.3"/><circle cx="1047.8" cy="1162.4" r="4.3"/><circle cx="1231.9" cy="919.3" r="4.3"/><circle cx="1274.0" cy="954.6" r="4.3"/><circle cx="1243.0" cy="937.0" r="4.3"/><circle cx="1158.5" cy="1010.2" r="4.3"/><circle cx="1266.3" cy="913.0" r="4.3"/><circle cx="1219.7" cy="1036.9" r="4.3"/><circle cx="1021.1" cy="1164.8" r="4.3"/><circle cx="1227.7" cy="1003.6" r="4.3"/><circle cx="1166.6" cy="1050.4" r="4.3"/><circle cx="1187.3" cy="1082.7" r="4.3"/><circle cx="1049.8" cy="1193.5" r="4.3"/><circle cx="1119.4" cy="1096.3" r="4.3"/><circle cx="1139.1" cy="1084.7" r="4.3"/><circle cx="975.8" cy="1217.2" r="4.3"/><circle cx="1230.3" cy="1050.9" r="4.3"/><circle cx="1255.1" cy="1017.3" r="4.3"/><circle cx="1114.8" cy="1074.3" r="4.3"/><circle cx="1240.3" cy="1056.4" r="4.3"/><circle cx="1142.8" cy="1080.6" r="4.3"/><circle cx="1238.9" cy="1048.7" r="4.3"/><circle cx="1216.7" cy="1068.5" r="4.3"/><circle cx="1188.8" cy="1041.6" r="4.3"/><circle cx="1271.6" cy="979.5" r="4.3"/><circle cx="987.9" cy="1210.5" r="4.3"/><circle cx="998.9" cy="1217.9" r="4.3"/><circle cx="1104.6" cy="1112.2" r="4.3"/><circle cx="1154.4" cy="1079.2" r="4.3"/><circle cx="1028.8" cy="1180.8" r="4.3"/><circle cx="1262.6" cy="925.5" r="4.3"/><circle cx="1032.2" cy="1202.3" r="4.3"/><circle cx="1232.4" cy="979.7" r="4.3"/><circle cx="1190.0" cy="1132.5" r="4.3"/><circle cx="1192.9" cy="1008.6" r="4.3"/><circle cx="1123.6" cy="1109.5" r="4.3"/><circle cx="1079.2" cy="1156.5" r="4.3"/><circle cx="1273.0" cy="996.8" r="4.3"/><circle cx="1148.8" cy="1117.7" r="4.3"/><circle cx="1053.9" cy="1209.6" r="4.3"/><circle cx="1034.9" cy="1202.3" r="4.3"/><circle cx="1114.7" cy="1090.8" r="4.3"/><circle cx="1068.8" cy="1155.8" r="4.3"/><circle cx="1148.8" cy="1105.2" r="4.3"/><circle cx="1287.5" cy="954.7" r="4.3"/><circle cx="979.0" cy="1219.2" r="4.3"/><circle cx="1112.8" cy="1148.7" r="4.3"/><circle cx="1199.9" cy="944.9" r="4.3"/><circle cx="1028.0" cy="1190.9" r="4.3"/><circle cx="1028.7" cy="1216.4" r="4.3"/><circle cx="1164.7" cy="1071.1" r="4.3"/><circle cx="1127.3" cy="1049.2" r="4.3"/><circle cx="1067.5" cy="1170.6" r="4.3"/><circle cx="1302.0" cy="915.8" r="4.3"/><circle cx="1251.5" cy="1008.2" r="4.3"/><circle cx="1133.2" cy="1137.8" r="4.3"/><circle cx="1016.2" cy="1177.4" r="4.3"/><circle cx="1119.0" cy="1010.9" r="4.3"/><circle cx="1299.0" cy="935.6" r="4.3"/><circle cx="1260.4" cy="1026.4" r="4.3"/><circle cx="1126.5" cy="1061.8" r="4.3"/><circle cx="1132.9" cy="1063.6" r="4.3"/><circle cx="1180.2" cy="1009.4" r="4.3"/><circle cx="1122.4" cy="1052.4" r="4.3"/><circle cx="1263.2" cy="978.4" r="4.3"/><circle cx="1024.2" cy="1194.1" r="4.3"/><circle cx="1300.8" cy="894.5" r="4.3"/><circle cx="1293.7" cy="932.2" r="4.3"/><circle cx="1200.6" cy="1012.9" r="4.3"/><circle cx="1020.0" cy="1210.1" r="4.3"/><circle cx="1235.6" cy="976.3" r="4.3"/><circle cx="1052.5" cy="1216.5" r="4.3"/><circle cx="1264.0" cy="947.4" r="4.3"/><circle cx="1045.2" cy="1211.2" r="4.3"/><circle cx="1249.6" cy="998.1" r="4.3"/><circle cx="1035.6" cy="1219.9" r="4.3"/><circle cx="1270.8" cy="925.2" r="4.3"/><circle cx="1198.7" cy="1069.7" r="4.3"/><circle cx="1091.0" cy="1141.0" r="4.3"/><circle cx="991.5" cy="1206.1" r="4.3"/><circle cx="1081.6" cy="1123.9" r="4.3"/><circle cx="1165.5" cy="1124.2" r="4.3"/><circle cx="1037.9" cy="1212.7" r="4.3"/><circle cx="1031.2" cy="1178.1" r="4.3"/><circle cx="1115.3" cy="1119.8" r="4.3"/></g><path d="M992.5 1233.2L1320.0 893.9" stroke="#808080" stroke-width="7.5" stroke-linecap="round"/><rect x="957.5" y="858.3" width="380.1" height="380.0" fill="none" stroke="#333" stroke-width="1.4"/><text x="959.1" y="1261.2" font-family="'DejaVu Sans','Liberation Sans',sans-serif" font-size="21.5" fill="#262626" text-anchor="middle">0.0</text><text x="1069.6" y="1261.2" font-family="'DejaVu Sans','Liberation Sans',sans-serif" font-size="21.5" fill="#262626" text-anchor="middle">0.2</text><text x="1180.0" y="1261.2" font-family="'DejaVu Sans','Liberation Sans',sans-serif" font-size="21.5" fill="#262626" text-anchor="middle">0.4</text><text x="1290.5" y="1261.2" font-family="'DejaVu Sans','Liberation Sans',sans-serif" font-size="21.5" fill="#262626" text-anchor="middle">0.6</text><path d="M959.1 1238.3v-6M1069.6 1238.3v-6M1180.0 1238.3v-6M1290.5 1238.3v-6M957.5 1223.4h6M957.5 1122.8h6M957.5 1022.2h6M957.5 921.6h6" stroke="#333" stroke-width="1.3" fill="none"/><text x="969.5" y="888.7" font-family="'DejaVu Sans','Liberation Sans',sans-serif" font-size="26.6" fill="#262626"><tspan font-style="italic">r</tspan><tspan dx="5.5">=</tspan><tspan dx="5.5">0.90</tspan> ± 0.07</text>
<text x="1106.2" y="1298.3" font-family="'DejaVu Sans','Liberation Sans',sans-serif" font-size="28.0" fill="#262626">Ca</text><text x="1143.7" y="1286.5" font-family="'DejaVu Sans','Liberation Sans',sans-serif" font-size="18.2" fill="#262626">2+</text><text x="1143.9" y="1304.5" font-family="'DejaVu Sans','Liberation Sans',sans-serif" font-size="19.6" fill="#262626" font-style="italic">slow</text>
<rect x="101" y="1331" width="1217" height="357" rx="24" ry="24" fill="#fff" stroke="#444" stroke-width="1.3"/>
<text x="0" y="1462" font-family="'Liberation Serif','DejaVu Serif',serif" font-size="27" fill="#111"><tspan font-style="italic">p</tspan> &lt; 0.05</text>
<rect x="16.5" y="1484" width="55" height="55" fill="#ff4d4d"/>
<rect x="16.5" y="1593" width="55" height="55" fill="#4b4bff"/>
<rect x="16.5" y="1484" width="55" height="164" fill="none" stroke="#111" stroke-width="1"/>
<text transform="translate(46.5 1526.6) scale(1 0.83)" font-family="'Liberation Sans',sans-serif" font-size="57" fill="#fff" text-anchor="middle">&gt;</text>
<text transform="translate(45 1635.9) scale(1 0.83)" font-family="'Liberation Sans',sans-serif" font-size="57" fill="#fff" text-anchor="middle">&lt;</text>
<text transform="translate(45.3 1578) scale(1.5 1)" font-family="'Liberation Sans',sans-serif" font-size="38" font-weight="bold" fill="#000" text-anchor="middle">=</text>
<g transform="translate(308.4 1347.0)"><use href="#bo" fill="url(#gg)"/><g clip-path="url(#dclip)"><rect x="-200" y="-5" width="400" height="330" fill="#ff4d4d"/><g transform="scale(0.5)" stroke-width="1.2" stroke-linejoin="round"><path fill="#ffffff" stroke="#ffffff" d="M-8-17l17 5l-2 15l-19 6l-7-6l0-5zM13 25l-7 4l-15-8l-3-12l19-6l6 5zM6 29l-2 12l-15 7l-7-5l-1-9l10-13zM13 25l-7 4l-2 12l10 9l11-5l-2-17zM-18 70l9-10l-2-12l-7-5l-16 7l0 11zM14 50l-10-9l-15 7l2 12l12 5l9-3zM32 48l3 13l-10 11l-13-10l2-12l11-5zM-64 75l11 8l12-1l1-14l-16-5l-7 6zM-41 82l8 6l15-9l0-9l-16-9l-6 7zM-18 79l10 7l8-1l3-20l-12-5l-9 10zM12 62l-9 3l-3 20l3 1l22-6l0-8zM35 61l16 4l-1 15l-16 10l-9-10l0-8zM-53 83l-5 17l15 5l10-13l0-4l-8-6zM-33 88l15-9l10 7l-5 14l-10 1l-10-9zM-8 86l-5 14l8 11l13-10l-5-15l-3-1zM34 90l0 4l-11 12l-15-5l-5-15l22-6zM34 90l0 4l12 9l17-3l-4-16l-9-4zM-85 118l11 5l10-8l1-13l-11-5l-12 9zM-51 123l11-7l-3-11l-15-5l-5 2l-1 13zM-33 92l10 9l-5 18l-1 1l-11-4l-3-11zM-9 119l-19 0l5-18l10-1l8 11l-1 5zM14 125l9-9l0-10l-15-5l-13 10l-1 5zM47 117l-1-14l-12-9l-11 12l0 10l11 6zM70 120l-1-16l-6-4l-17 3l1 14l10 8zM82 95l-13 9l1 16l22-2l3-15zM101 100l14 6l-2 16l-13 6l-8-10l3-15zM121 103l12 4l1 14l-11 6l-10-5l2-16zM-85 146l14-11l-3-12l-11-5l-11 8l-1 6zM-71 135l9 4l9-4l2-12l-13-8l-10 8zM-53 135l16 9l7-5l1-19l-11-4l-11 7zM-20 143l11-5l0-19l-19 0l-1 1l-1 19zM3 143l-12-5l0-19l3-3l20 9l-1 14zM23 145l14-9l-3-14l-11-6l-9 9l-1 14zM51 140l6-15l-10-8l-13 5l3 14zM77 139l-6 6l-20-5l6-15l13-5zM99 133l-11 7l-11-1l-7-19l22-2l8 10zM99 133l13 14l12-8l-1-12l-10-5l-13 6zM-85 146l14-11l9 4l1 18l-15 4l-10-7zM-53 135l16 9l-3 7l-17 8l-4-2l-1-18zM-40 151l3-7l7-5l10 4l3 17l-18 2zM-20 143l11-5l12 5l-4 18l-8 6l-8-7zM-1 161l4-18l10-4l10 6l1 5l-12 15zM23 145l14-9l14 4l-3 16l-12 6l-12-12zM51 140l20 5l0 15l-14 2l-9-6zM88 140l3 19l-14 7l-6-6l0-15l6-6zM99 133l13 14l0 9l-11 7l-10-4l-3-19zM-86 154l10 7l1 12l-12 9l-11-4l3-19zM-76 161l1 12l12 10l11-7l-5-17l-4-2zM-52 176l-5-17l17-8l5 11l-2 10l-7 6zM-35 162l18-2l8 7l-12 11l-16-6zM-1 161l-8 6l11 16l15-9l-5-9zM12 165l5 9l9 3l7-4l3-11l-12-12zM36 162l-3 11l14 11l8-4l2-18l-9-6zM77 166l-6-6l-14 2l-2 18l10 3l12-16zM89 188l-12-21l0-1l14-7l10 4l1 16zM-66 192l3-9l11-7l8 2l4 12l-12 11zM-44 178l4 12l15 7l4-2l0-17l-16-6zM2 183l-1 9l-10 7l-12-4l0-17l12-11zM2 183l-1 9l13 6l9-6l3-15l-9-3zM78 197l-6-1l-7-13l12-16l12 21l-2 5zM-50 213l-2-12l12-11l15 7l-7 15l-13 2zM-22 225l16-7l-3-19l-12-4l-4 2l-7 15zM14 198l-13-6l-10 7l3 19l8 4l14-8zM78 197l-6-1l-16 9l-1 9l12 7l11-6zM78 197l0 18l11 8l10-11l-3-11l-9-8zM-285 217l0 12l14 7l9-4l2-14l-17-8zM-238 222l-15-9l-7 5l-2 14l12 8l11-10zM-64 234l9 5l14-7l-4-18l-5-1l-13 8zM-45 214l13-2l10 13l-1 4l-7 7l-11-4zM12 240l16-7l-2-14l-10-5l-14 8l2 13zM50 217l-2 17l-10 7l-10-8l-2-14l8-5zM248 232l-16 7l-9-9l-2-9l13-9l14 7zM248 232l0-13l11-8l9 5l4 19l-18 3zM272 235l6 2l6-4l5-12l-10-7l-11 2zM284 233l15 7l11-9l-1-5l-11-9l-9 4zM309 226l14-17l9 8l-3 17l-6 4l-13-7zM-271 236l-3 15l-14 3l-5-4l-1-14l9-7zM-262 232l12 8l2 10l-15 12l-11-11l3-15zM-239 230l-11 10l2 10l9 4l12-4l1-11zM-55 239l14-7l11 4l0 16l-11 4l-11-7zM1 259l13-5l-2-14l-8-5l-11 8l-2 8zM12 240l16-7l10 8l0 2l-17 15l-7-4zM48 234l14 4l-2 17l-15-2l-7-10l0-2zM248 232l-16 7l-4 13l21 6l5-6l0-14zM254 238l0 14l15 4l10-7l-1-12l-6-2zM284 233l15 7l1 12l-10 5l-11-8l-1-12zM310 231l13 7l-1 13l-11 6l-11-5l-1-12zM329 234l17 3l0 14l-17 5l-7-5l1-13zM-264 267l1-5l-11-11l-14 3l-2 17l16 4zM-64 258l0 13l14 6l4-2l5-19l-11-7zM-46 275l16 4l12-6l-3-17l-9-4l-11 4zM254 252l15 4l1 14l-15 8l-6-6l0-14zM288 268l-8 6l-10-4l-1-14l10-7l11 8zM310 268l-10 7l-12-7l2-11l10-5l11 5zM-274 275l-16-4l-5 4l-1 14l8 5l15-6zM-46 275l16 4l2 13l-10 11l-14-11l2-15zM270 295l12-2l-2-19l-10-4l-15 8l1 6zM287 296l12-5l1-16l-12-7l-8 6l2 19zM-306 313l-1-18l-9-5l-12 8l-2 13l16 7zM-293 314l-13-1l-1-18l11-6l8 5l2 16zM270 295l12-2l5 3l1 11l-14 10l-12-6zM287 296l12-5l13 4l1 16l-15 8l-10-12zM336 296l-20-4l-4 3l1 16l5 3l15-4zM336 296l5-4l11 5l3 12l-13 15l-9-14zM-339 327l-13 6l-7-5l3-20l2-2l19 8zM-314 318l-16-7l-5 3l-4 13l10 12l16-10zM262 311l12 6l4 12l-9 5l-15-10l2-10zM288 307l10 12l-1 4l-11 9l-8-3l-4-12zM318 314l3 11l-12 10l-12-12l1-4l15-8zM333 310l9 14l-10 8l-11-7l-3-11zM310 343l-1-8l-12-12l-11 9l2 11l8 7zM321 349l9-7l2-10l-11-7l-12 10l1 8zM-77 369l2-14l-10-17l-13 9l0 17l17 9zM146 354l12-5l10 5l1 11l-13 6l-10-8zM146 363l10 8l1 16l-12 3l-7-4l-2-16zM164 391l-7-4l-1-16l13-6l12 7l-1 10zM-251 408l0-17l11-3l14 10l-1 7l-11 7zM112 380l12 11l-1 15l-15 1l-6-6l-1-7zM123 406l9 8l9-5l4-19l-7-4l-14 5zM201 410l9-8l0-11l-7-6l-15 3l0 18zM108 407l-3 17l20 7l6-6l1-11l-9-8zM189 434l15-8l-3-16l-13-4l-3 2l-6 19zM204 426l5 2l15-5l2-14l-16-7l-9 8zM-325 444l8-7l3-10l-11-8l-15 9l5 13zM-119 433l-13-9l-11 5l-5 13l14 7l16-11zM105 424l20 7l-3 11l-7 4l-16-6l-1-12zM122 442l11 9l15-9l-1-7l-16-10l-6 6zM213 443l-4-15l-5-2l-15 8l0 7l8 11zM-325 444l8-7l17 11l-8 12l-11 3l-2-2zM-110 466l-1-23l-7-5l-16 11l1 14l13 9zM197 452l-8-11l-13 8l2 11l16 6l2-2zM213 443l-16 9l-1 12l11 5l12-9l3-12zM-157 463l14 5l-3 17l-3 2l-16-7l3-14zM207 469l5 13l-11 12l-3 0l-13-13l9-15l2-2zM-150 502l1-15l-16-7l-7 4l-2 12l16 9zM-130 502l-12 5l-8-5l1-15l3-2l14 1zM-117 507l-2 14l-9 6l-13-7l-1-13l12-5zM-91 526l2-4l-9-19l-8-4l-11 8l-2 14l11 7zM-108 528l-11-7l-9 6l-1 11l8 10l10-6zM-94 546l-17-4l3-14l17-2l2 13zM-129 538l-16 5l0 11l17 11l7-8l0-9zM-94 546l0 14l-7 2l-20-5l0-9l10-6zM-94 546l0 14l5 3l17-10l1-9l-18-5zM-66 539l16 3l1 11l-15 8l-8-8l1-9zM80 552l3-12l-16-10l-10 16l2 7l5 3zM89 561l12-4l2-14l-14-8l-6 5l-3 12zM168 559l0-14l-9-4l-15 8l-3 7l19 6zM168 559l0-14l10-7l9 4l5 16l-18 7zM213 544l-12-8l-14 6l5 16l8 5l11-8zM270 544l2 11l11 7l16-11l1-1l-13-12zM-101 562l-5 17l-19 0l-5-3l2-11l7-8zM-94 560l5 3l7 11l-20 9l-4-4l5-17zM-72 553l-17 10l7 11l6 5l10-4l2-14zM88 577l1-16l-9-9l-16 4l1 18l15 5zM88 577l9 6l16-9l0-11l-12-6l-12 4zM137 560l4-4l19 6l-5 14l-10 4l-7-8zM176 577l-2-12l-6-6l-8 3l-5 14l15 6zM176 577l16 6l9-8l-1-12l-8-5l-18 7zM211 555l-11 8l1 12l11 5l10-4l2-11zM274 581l10-9l-1-10l-11-7l-7 7l-1 15zM301 578l-17-6l-1-10l16-11l6 18l-1 7zM-182 583l9-9l13 5l2 19l-18 2l-5-5zM-154 602l-4-4l-2-19l9-3l14 3l-6 19zM-128 609l-15-11l6-19l7-3l5 3l4 12zM-102 597l2-1l-2-13l-4-4l-19 0l4 12zM122 591l-1-12l-8-5l-16 9l2 10l11 8zM137 597l8-5l0-12l-7-8l-17 7l1 12zM170 582l-3 11l-11 5l-11-6l0-12l10-4zM176 577l16 6l0 12l-9 9l-16-11l3-11zM192 595l0-12l9-8l11 5l4 17l-19 1zM233 595l-11 7l-6-5l-4-17l10-4l13 9zM255 580l-10-3l-10 8l-2 10l12 7l11-6zM278 592l-12 9l-10-5l-1-16l9-3l10 4zM278 592l10 5l6-2l7-17l-17-6l-10 9zM302 600l-8-5l7-17l3-2l18 9l0 8zM-155 616l-4 2l-15-3l-2-15l18-2l4 4zM-128 609l-15-11l-11 4l-1 14l9 4l19-11zM-102 597l-19-6l-7 18l1 0l8 7l11-6zM126 617l-12-3l-4-13l12-10l15 6l-4 15zM133 612l16 5l8-6l-1-13l-11-6l-8 5zM165 616l17-8l1-4l-16-11l-11 5l1 13zM182 608l1-4l9-9l5 3l11 21l-20 0zM197 598l19-1l6 5l-2 12l-10 7l-2-2zM246 616l-11 6l-15-8l2-12l11-7l12 7zM266 601l0 12l-12 5l-8-2l-1-14l11-6zM278 592l10 5l-4 20l-6 4l-12-8l0-12zM302 600l-8-5l-6 2l-4 20l14 3l8-6zM-261 611l-12 4l-4 18l14 5l14-5l-1-12zM-225 619l-1 12l-17 6l-6-4l-1-12l14-9zM-215 613l12 4l1 16l-18 4l-6-6l1-12zM-197 638l-5-5l-1-16l6-5l17 9l-1 14zM-178 637l17-5l2-14l-15-3l-6 6l-1 14zM-155 616l-4 2l-2 14l11 10l10-8l-6-14zM165 616l17-8l6 11l-6 14l-6 3l-9-6zM182 633l17 9l11-9l0-12l-2-2l-20 0zM236 637l-1-15l-15-8l-10 7l0 12l13 9zM236 637l-1-15l11-6l8 2l3 17l-14 6zM266 613l12 8l-2 11l-11 6l-8-3l-3-17zM-220 652l0-15l-6-6l-17 6l2 12l16 6zM-199 649l-10 7l-11-4l0-15l18-4l5 5zM223 642l-13-9l-11 9l0 13l10 8l13-14z"/><path fill="#4b4bff" stroke="#4b4bff" d="M-307 218l4 15l-13 9l-11-19l1-2l9-6zM-327 223l-13 12l3 17l2 1l17-5l2-6zM-316 242l-2 6l7 7l18-5l-1-14l-9-3zM-340 280l-15-5l10-21l8-2l2 1l4 20zM-319 275l9-7l-1-13l-7-7l-17 5l4 20zM-290 271l2-17l-5-4l-18 5l1 13l15 7zM310 268l9 9l15-5l-5-16l-7-5l-11 6zM340 276l15-9l0-8l-9-8l-17 5l5 16zM-316 290l-3-15l-12-2l-9 7l1 7l11 11zM-307 295l11-6l1-14l-15-7l-9 7l3 15zM316 292l3-15l-9-9l-10 7l-1 16l13 4zM336 296l5-4l-1-16l-6-4l-15 5l-3 15zM-330 311l-5 3l-19-8l0-3l15-16l11 11zM-178 371l-5-3l-17 8l-1 12l17 7l9-8zM-129 370l11-3l4 1l8 19l-12 7l-13-10zM-206 392l-12 0l-8 6l-1 7l8 8l16-4zM-206 392l5-4l17 7l0 9l-12 10l-7-5zM-175 387l-9 8l0 9l15 11l9-9l-1-15zM-139 390l1 16l-9 4l-13-4l-1-15l6-4zM-131 384l13 10l0 12l-15 4l-5-4l-1-16zM-118 394l0 12l9 7l12-10l2-12l-11-4zM164 391l-7-4l-12 3l-4 19l18 5l8-11zM188 406l0-18l-8-6l-16 9l3 12l18 5zM-203 409l7 5l0 12l-8 3l-13-6l-2-10zM-169 420l-18 12l-9-6l0-12l12-10l15 11zM-147 410l-2 12l-17 2l-3-4l0-5l9-9zM-147 410l-2 12l6 7l11-5l-1-14l-5-4zM-109 413l-9-7l-15 4l1 14l13 9l11-17zM132 414l-1 11l16 10l16-10l-4-11l-18-5zM179 427l-11 1l-5-3l-4-11l8-11l18 5zM-185 439l-2-7l18-12l3 4l7 17l-13 4zM-148 442l5-13l-6-7l-17 2l7 17l5 2zM157 453l11-8l0-17l-5-3l-16 10l1 7zM189 434l0 7l-13 8l-8-4l0-17l11-1zM-174 460l12 6l5-3l3-20l-5-2l-13 4zM-157 463l3-20l6-1l14 7l1 14l-10 5zM115 446l-3 17l11 6l11-7l-1-11l-11-9zM134 462l7 3l15-7l1-5l-9-11l-15 9zM176 449l-8-4l-11 8l-1 5l9 10l13-8zM-120 476l-12 10l-14-1l3-17l10-5l13 9zM-106 499l-14-23l0-4l10-6l9 2l6 12zM101 480l7 8l15-8l0-11l-11-6l-8 2zM123 469l0 11l12 9l9-8l-3-16l-7-3zM163 483l-19-2l-3-16l15-7l9 10l1 14zM171 484l-5-2l-1-14l13-8l16 6l-9 15zM-106 499l-11 8l-13-5l-2-16l12-10zM108 496l0-8l15-8l12 9l0 7l-10 10zM163 483l-19-2l-9 8l0 7l10 5l11-1zM171 484l-5-2l-3 1l-7 17l8 11l13-10zM187 505l-10-4l-6-17l14-3l13 13zM100 503l1 16l13 4l11-9l0-8l-17-10zM125 514l16 10l4-1l0-22l-10-5l-10 10zM164 511l-8-11l-11 1l0 22l7 1l11-8zM187 505l2 11l-11 8l-15-8l1-5l13-10zM101 519l-9 4l-3 12l14 8l13-6l-2-14zM125 514l16 10l-5 11l-16 5l-4-3l-2-14zM159 541l-15 8l-8-14l5-11l4-1l7 1zM178 524l0 14l-10 7l-9-4l-7-17l11-8zM123 554l-3-14l-4-3l-13 6l-2 14l12 6zM137 560l4-4l3-7l-8-14l-16 5l3 14zM137 560l-14-6l-10 9l0 11l8 5l17-7z"/></g></g><use href="#bl" clip-path="url(#oclip)" stroke="#1a1010" stroke-width="2.2" stroke-linecap="round"/><use href="#bo" fill="none" stroke="#222" stroke-width="2.2"/></g>
<g transform="translate(710.6 1347.0)"><use href="#bo" fill="url(#gg)"/><g clip-path="url(#dclip)"><rect x="-200" y="-5" width="400" height="330" fill="#ff4d4d"/><g transform="scale(0.5)" stroke-width="1.2" stroke-linejoin="round"><path fill="#ffffff" stroke="#ffffff" d="M-8-17l17 5l-2 15l-19 6l-7-6l0-5zM13 8l-6-5l2-15l4-4l16 5l-1 16zM36 11l9-6l-2-17l-8-3l-6 4l-1 16zM45 5l-2-17l14-4l8 8l0 10l-4 4zM13 25l-7 4l-15-8l-3-12l19-6l6 5zM13 25l0-17l15-3l8 6l0 10l-13 7zM36 21l11 9l12-4l2-20l-16-1l-9 6zM83 23l-12 11l-12-8l2-20l4-4l18 6zM6 29l-2 12l-15 7l-7-5l-1-9l10-13zM13 25l-7 4l-2 12l10 9l11-5l-2-17zM23 28l2 17l7 3l12-7l3-11l-11-9zM47 30l12-4l12 8l-16 18l-11-11zM83 23l-12 11l10 15l18-6l-7-16zM-18 70l9-10l-2-12l-7-5l-16 7l0 11zM14 50l-10-9l-15 7l2 12l12 5l9-3zM32 48l3 13l-10 11l-13-10l2-12l11-5zM32 48l12-7l11 11l2 8l-6 5l-16-4zM55 52l16-18l10 15l-3 12l-6 2l-15-3zM87 68l-9-7l3-12l18-6l5 1l-2 21zM-87 67l12-13l12 15l-1 6l-13 6l-6-2zM-64 75l11 8l12-1l1-14l-16-5l-7 6zM-41 82l8 6l15-9l0-9l-16-9l-6 7zM-18 79l10 7l8-1l3-20l-12-5l-9 10zM12 62l-9 3l-3 20l3 1l22-6l0-8zM35 61l16 4l-1 15l-16 10l-9-10l0-8zM50 80l9 4l9-4l4-17l-15-3l-6 5zM81 90l-13-10l4-17l6-2l9 7l1 12zM-95 84l-5 15l14 7l12-9l-3-16l-6-2zM-77 81l3 16l11 5l5-2l5-17l-11-8zM-53 83l-5 17l15 5l10-13l0-4l-8-6zM-33 88l15-9l10 7l-5 14l-10 1l-10-9zM-8 86l-5 14l8 11l13-10l-5-15l-3-1zM34 90l0 4l-11 12l-15-5l-5-15l22-6zM34 90l0 4l12 9l17-3l-4-16l-9-4zM82 95l-13 9l-6-4l-4-16l9-4l13 10zM82 95l13 8l6-3l4-15l-17-5l-7 10zM-110 103l10-4l14 7l1 12l-11 8l-14-13zM-85 118l11 5l10-8l1-13l-11-5l-12 9zM-51 123l11-7l-3-11l-15-5l-5 2l-1 13zM-33 92l10 9l-5 18l-1 1l-11-4l-3-11zM-9 119l-19 0l5-18l10-1l8 11l-1 5zM14 125l9-9l0-10l-15-5l-13 10l-1 5zM47 117l-1-14l-12-9l-11 12l0 10l11 6zM70 120l-1-16l-6-4l-17 3l1 14l10 8zM82 95l-13 9l1 16l22-2l3-15zM101 100l14 6l-2 16l-13 6l-8-10l3-15zM121 103l12 4l1 14l-11 6l-10-5l2-16zM-85 146l14-11l-3-12l-11-5l-11 8l-1 6zM-71 135l9 4l9-4l2-12l-13-8l-10 8zM-53 135l16 9l7-5l1-19l-11-4l-11 7zM-20 143l11-5l0-19l-19 0l-1 1l-1 19zM3 143l-12-5l0-19l3-3l20 9l-1 14zM23 145l14-9l-3-14l-11-6l-9 9l-1 14zM51 140l6-15l-10-8l-13 5l3 14zM77 139l-6 6l-20-5l6-15l13-5zM99 133l-11 7l-11-1l-7-19l22-2l8 10zM99 133l13 14l12-8l-1-12l-10-5l-13 6zM-85 146l14-11l9 4l1 18l-15 4l-10-7zM-53 135l16 9l-3 7l-17 8l-4-2l-1-18zM-40 151l3-7l7-5l10 4l3 17l-18 2zM-20 143l11-5l12 5l-4 18l-8 6l-8-7zM-1 161l4-18l10-4l10 6l1 5l-12 15zM23 145l14-9l14 4l-3 16l-12 6l-12-12zM51 140l20 5l0 15l-14 2l-9-6zM88 140l3 19l-14 7l-6-6l0-15l6-6zM99 133l13 14l0 9l-11 7l-10-4l-3-19zM-86 154l10 7l1 12l-12 9l-11-4l3-19zM-76 161l1 12l12 10l11-7l-5-17l-4-2zM-52 176l-5-17l17-8l5 11l-2 10l-7 6zM-35 162l18-2l8 7l-12 11l-16-6zM-1 161l-8 6l11 16l15-9l-5-9zM12 165l5 9l9 3l7-4l3-11l-12-12zM36 162l-3 11l14 11l8-4l2-18l-9-6zM77 166l-6-6l-14 2l-2 18l10 3l12-16zM89 188l-12-21l0-1l14-7l10 4l1 16zM-116 203l-14-9l1-9l13-7l11 4l0 14zM-95 202l-10-6l0-14l7-4l11 4l4 12zM-73 197l-10-3l-4-12l12-9l12 10l-3 9zM-66 192l3-9l11-7l8 2l4 12l-12 11zM-44 178l4 12l15 7l4-2l0-17l-16-6zM2 183l-1 9l-10 7l-12-4l0-17l12-11zM2 183l-1 9l13 6l9-6l3-15l-9-3zM35 199l-12-7l3-15l7-4l14 11l-1 10zM56 205l16-9l-7-13l-10-3l-8 4l-1 10zM78 197l-6-1l-7-13l12-16l12 21l-2 5zM-134 220l18-6l0-11l-14-9l-10 10l0 10zM-94 212l-13 10l-9-8l0-11l11-7l10 6zM-73 214l0-17l-10-3l-12 8l1 10l10 5zM-73 214l0-17l7-5l14 9l2 12l-13 8zM-50 213l-2-12l12-11l15 7l-7 15l-13 2zM35 199l-12-7l-9 6l2 16l10 5l8-5zM50 217l-16-3l1-15l11-5l10 11l-1 9zM78 197l-6-1l-16 9l-1 9l12 7l11-6zM78 197l0 18l11 8l10-11l-3-11l-9-8zM-307 218l4 15l-13 9l-11-19l1-2l9-6zM-296 213l-11 5l4 15l9 3l9-7l0-12zM-285 217l0 12l14 7l9-4l2-14l-17-8zM-238 222l-15-9l-7 5l-2 14l12 8l11-10zM-7 243l-16-14l1-4l16-7l8 4l2 13zM50 217l-2 17l-10 7l-10-8l-2-14l8-5zM68 235l-6 3l-14-4l2-17l5-3l12 7zM248 232l-16 7l-9-9l-2-9l13-9l14 7zM248 232l0-13l11-8l9 5l4 19l-18 3zM272 235l6 2l6-4l5-12l-10-7l-11 2zM284 233l15 7l11-9l-1-5l-11-9l-9 4zM309 226l14-17l9 8l-3 17l-6 4l-13-7zM-327 223l-13 12l3 17l2 1l17-5l2-6zM-316 242l-2 6l7 7l18-5l-1-14l-9-3zM-271 236l-3 15l-14 3l-5-4l-1-14l9-7zM-262 232l12 8l2 10l-15 12l-11-11l3-15zM-239 230l-11 10l2 10l9 4l12-4l1-11zM48 234l14 4l-2 17l-15-2l-7-10l0-2zM248 232l-16 7l-4 13l21 6l5-6l0-14zM254 238l0 14l15 4l10-7l-1-12l-6-2zM284 233l15 7l1 12l-10 5l-11-8l-1-12zM310 231l13 7l-1 13l-11 6l-11-5l-1-12zM329 234l17 3l0 14l-17 5l-7-5l1-13zM-46 275l16 4l12-6l-3-17l-9-4l-11 4zM87 259l-7-4l-15 6l-1 6l16 13l11-8zM228 252l21 6l0 14l-17 5l-8-8l0-14zM254 252l15 4l1 14l-15 8l-6-6l0-14zM288 268l-8 6l-10-4l-1-14l10-7l11 8zM310 268l-10 7l-12-7l2-11l10-5l11 5zM310 268l9 9l15-5l-5-16l-7-5l-11 6zM340 276l15-9l0-8l-9-8l-17 5l5 16zM-85 299l-17-5l1-17l20-3l2 2l1 17zM-50 277l-2 15l-9 6l-17-5l-1-17l15-5zM-46 275l16 4l2 13l-10 11l-14-11l2-15zM69 294l-12-7l-2-11l9-9l16 13l-4 11zM91 300l10-9l-2-15l-8-4l-11 8l-4 11zM256 284l-1-6l-6-6l-17 5l-3 11l16 10zM270 295l12-2l-2-19l-10-4l-15 8l1 6zM287 296l12-5l1-16l-12-7l-8 6l2 19zM316 292l3-15l-9-9l-10 7l-1 16l13 4zM336 296l5-4l-1-16l-6-4l-15 5l-3 15zM-125 294l2 18l16-3l4-15l-20-2zM-85 309l-15 10l-7-10l4-15l1 0l17 5zM-76 318l15-17l0-3l-17-5l-7 6l0 10zM270 295l-8 16l-6 3l-11-9l0-7l11-14zM270 295l12-2l5 3l1 11l-14 10l-12-6zM287 296l12-5l13 4l1 16l-15 8l-10-12zM-145 329l13 2l9-5l-1-13l-22-2zM-114 331l-9-5l-1-13l1-1l16-3l7 10l0 4zM-73 327l-3-9l-9-9l-15 10l0 4l15 14zM-73 327l-3-9l15-17l7 21l-16 5zM262 311l12 6l4 12l-9 5l-15-10l2-10zM288 307l10 12l-1 4l-11 9l-8-3l-4-12zM-112 343l-2-12l-9-5l-9 5l1 14l15 2zM-98 347l-14-4l-2-12l14-8l15 14l0 1zM112 332l10-3l13 9l1 5l-15 13l-12-5zM-272 354l11-5l8 0l6 18l-14 8l-10-8zM-240 342l8 6l1 19l-5 3l-11-3l-6-18zM-129 370l11-3l2-20l-15-2l-9 9l0 8zM-98 364l-16 4l-4-1l2-20l4-4l14 4zM101 355l8-4l12 5l2 11l-11 11l-13-10zM123 367l13 3l10-7l0-9l-10-11l-15 13zM-271 367l10 8l2 12l-14 8l-11-12l1-7zM-240 388l4-18l-11-3l-14 8l2 12l8 4zM-226 398l-14-10l4-18l5-3l8 3l5 22zM-284 383l-13 7l2 15l10 3l11-7l1-6zM-260 413l-14-12l1-6l14-8l8 4l0 17zM-251 408l0-17l11-3l14 10l-1 7l-11 7zM201 410l9-8l0-11l-7-6l-15 3l0 18zM-262 422l-10 5l-9-4l-4-15l11-7l14 12zM-238 412l11-7l8 8l2 10l-13 10l-8-8zM189 434l15-8l-3-16l-13-4l-3 2l-6 19zM204 426l5 2l15-5l2-14l-16-7l-9 8zM-325 444l8-7l3-10l-11-8l-15 9l5 13zM-293 445l-7 3l-17-11l3-10l7-4l13 7zM-230 433l13-10l13 6l-7 16l-9 4l-9-7zM-194 453l-17-8l7-16l8-3l9 6l2 7zM52 430l19-7l5 4l2 18l-11 6l-11-8zM76 427l2 18l12 4l9-9l-1-12l-5-3zM213 443l-4-15l-5-2l-15 8l0 7l8 11zM-325 444l8-7l17 11l-8 12l-11 3l-2-2zM-193 460l-12 11l-16-10l1-12l9-4l17 8zM197 452l-8-11l-13 8l2 11l16 6l2-2zM213 443l-16 9l-1 12l11 5l12-9l3-12zM-193 460l-12 11l1 5l7 8l16-4l-4-17zM207 469l5 13l-11 12l-3 0l-13-13l9-15l2-2zM-197 484l0 14l-9 5l-10-3l-2-13l14-11zM-181 480l9 4l-2 12l-9 8l-14-6l0-14zM187 505l-10-4l-6-17l14-3l13 13zM-164 520l-9 3l-9-7l-1-12l9-8l16 9zM-150 502l-8 3l-6 15l13 7l10-7l-1-13zM-117 507l-2 14l-9 6l-13-7l-1-13l12-5zM-91 526l2-4l-9-19l-8-4l-11 8l-2 14l11 7zM100 503l-12-4l-11 5l0 8l15 11l9-4zM164 511l-8-11l-11 1l0 22l7 1l11-8zM187 505l2 11l-11 8l-15-8l1-5l13-10zM-151 527l0 11l-15 6l-8-7l1-14l9-3zM-128 527l-13-7l-10 7l0 11l6 5l16-5zM-108 528l-11-7l-9 6l-1 11l8 10l10-6zM-94 546l-17-4l3-14l17-2l2 13zM67 530l-2-6l12-12l15 11l-3 12l-6 5zM159 541l-15 8l-8-14l5-11l4-1l7 1zM178 524l0 14l-10 7l-9-4l-7-17l11-8zM-129 538l-16 5l0 11l17 11l7-8l0-9zM-94 546l0 14l-7 2l-20-5l0-9l10-6zM-94 546l0 14l5 3l17-10l1-9l-18-5zM-66 539l16 3l1 11l-15 8l-8-8l1-9zM168 559l0-14l-9-4l-15 8l-3 7l19 6zM-101 562l-5 17l-19 0l-5-3l2-11l7-8zM-94 560l5 3l7 11l-20 9l-4-4l5-17zM-72 553l-17 10l7 11l6 5l10-4l2-14zM137 560l4-4l19 6l-5 14l-10 4l-7-8zM176 577l-2-12l-6-6l-8 3l-5 14l15 6zM-201 579l-5 14l11 13l14-11l-1-12l-18-4zM-128 609l-15-11l6-19l7-3l5 3l4 12zM-102 597l2-1l-2-13l-4-4l-19 0l4 12zM122 591l-1-12l-8-5l-16 9l2 10l11 8zM137 597l8-5l0-12l-7-8l-17 7l1 12zM170 582l-3 11l-11 5l-11-6l0-12l10-4zM255 580l-10-3l-10 8l-2 10l12 7l11-6zM278 592l-12 9l-10-5l-1-16l9-3l10 4zM278 592l10 5l6-2l7-17l-17-6l-10 9zM302 600l-8-5l7-17l3-2l18 9l0 8zM-215 613l12 4l6-5l2-6l-11-13l-11 5zM-181 595l5 5l2 15l-6 6l-17-9l2-6zM-128 609l-15-11l-11 4l-1 14l9 4l19-11zM-102 597l-19-6l-7 18l1 0l8 7l11-6zM126 617l-12-3l-4-13l12-10l15 6l-4 15zM133 612l16 5l8-6l-1-13l-11-6l-8 5zM165 616l17-8l1-4l-16-11l-11 5l1 13zM246 616l-11 6l-15-8l2-12l11-7l12 7zM266 601l0 12l-12 5l-8-2l-1-14l11-6zM278 592l10 5l-4 20l-6 4l-12-8l0-12zM302 600l-8-5l-6 2l-4 20l14 3l8-6zM-178 637l17-5l2-14l-15-3l-6 6l-1 14zM-155 616l-4 2l-2 14l11 10l10-8l-6-14zM165 616l2 14l-13 4l-5-3l0-14l8-6zM165 616l17-8l6 11l-6 14l-6 3l-9-6z"/><path fill="#4b4bff" stroke="#4b4bff" d="M-178 371l-5-3l-17 8l-1 12l17 7l9-8zM-129 370l-2 14l-8 6l-16-3l1-18l14-7zM-129 370l11-3l4 1l8 19l-12 7l-13-10zM123 367l13 3l2 16l-14 5l-12-11l0-2zM146 363l10 8l1 16l-12 3l-7-4l-2-16zM-206 392l-12 0l-8 6l-1 7l8 8l16-4zM-206 392l5-4l17 7l0 9l-12 10l-7-5zM-175 387l-9 8l0 9l15 11l9-9l-1-15zM-139 390l1 16l-9 4l-13-4l-1-15l6-4zM-131 384l13 10l0 12l-15 4l-5-4l-1-16zM-118 394l0 12l9 7l12-10l2-12l-11-4zM112 380l12 11l-1 15l-15 1l-6-6l-1-7zM123 406l9 8l9-5l4-19l-7-4l-14 5zM164 391l-7-4l-12 3l-4 19l18 5l8-11zM188 406l0-18l-8-6l-16 9l3 12l18 5zM-203 409l7 5l0 12l-8 3l-13-6l-2-10zM-169 420l-18 12l-9-6l0-12l12-10l15 11zM-147 410l-2 12l-17 2l-3-4l0-5l9-9zM-147 410l-2 12l6 7l11-5l-1-14l-5-4zM-109 413l-9-7l-15 4l1 14l13 9l11-17zM89 408l13-7l6 6l-3 17l-7 4l-5-3zM108 407l-3 17l20 7l6-6l1-11l-9-8zM132 414l-1 11l16 10l16-10l-4-11l-18-5zM179 427l-11 1l-5-3l-4-11l8-11l18 5zM-185 439l-2-7l18-12l3 4l7 17l-13 4zM-148 442l5-13l-6-7l-17 2l7 17l5 2zM-119 433l-13-9l-11 5l-5 13l14 7l16-11zM-108 416l-11 17l1 5l7 5l10-1l11-14zM105 424l20 7l-3 11l-7 4l-16-6l-1-12zM122 442l11 9l15-9l-1-7l-16-10l-6 6zM157 453l11-8l0-17l-5-3l-16 10l1 7zM189 434l0 7l-13 8l-8-4l0-17l11-1zM-193 460l8 3l11-3l2-15l-13-6l-9 14zM-174 460l12 6l5-3l3-20l-5-2l-13 4zM-157 463l3-20l6-1l14 7l1 14l-10 5zM-110 466l-1-23l-7-5l-16 11l1 14l13 9zM-89 453l-12-11l-10 1l1 23l9 2l12-8zM92 457l12 8l8-2l3-17l-16-6l-9 9zM115 446l-3 17l11 6l11-7l-1-11l-11-9zM134 462l7 3l15-7l1-5l-9-11l-15 9zM176 449l-8-4l-11 8l-1 5l9 10l13-8zM-185 463l4 17l9 4l7-4l3-14l-12-6zM-157 463l14 5l-3 17l-3 2l-16-7l3-14zM-120 476l-12 10l-14-1l3-17l10-5l13 9zM-106 499l-14-23l0-4l10-6l9 2l6 12zM101 480l7 8l15-8l0-11l-11-6l-8 2zM123 469l0 11l12 9l9-8l-3-16l-7-3zM163 483l-19-2l-3-16l15-7l9 10l1 14zM171 484l-5-2l-1-14l13-8l16 6l-9 15zM-150 502l1-15l-16-7l-7 4l-2 12l16 9zM-130 502l-12 5l-8-5l1-15l3-2l14 1zM-106 499l-11 8l-13-5l-2-16l12-10zM108 496l0-8l15-8l12 9l0 7l-10 10zM163 483l-19-2l-9 8l0 7l10 5l11-1zM171 484l-5-2l-3 1l-7 17l8 11l13-10zM100 503l1 16l13 4l11-9l0-8l-17-10zM125 514l16 10l4-1l0-22l-10-5l-10 10zM101 519l-9 4l-3 12l14 8l13-6l-2-14zM125 514l16 10l-5 11l-16 5l-4-3l-2-14zM123 554l-3-14l-4-3l-13 6l-2 14l12 6zM137 560l4-4l3-7l-8-14l-16 5l3 14zM88 577l9 6l16-9l0-11l-12-6l-12 4zM137 560l-14-6l-10 9l0 11l8 5l17-7z"/></g></g><use href="#bl" clip-path="url(#oclip)" stroke="#1a1010" stroke-width="2.2" stroke-linecap="round"/><use href="#bo" fill="none" stroke="#222" stroke-width="2.2"/></g>
<g transform="translate(1111.4 1347.0)"><use href="#bo" fill="url(#gg)"/><g clip-path="url(#dclip)"><rect x="-200" y="-5" width="400" height="330" fill="#ffffff"/><g transform="scale(0.5)" stroke-width="1.2" stroke-linejoin="round"><path fill="#ff4d4d" stroke="#ff4d4d" d="M-109-6l-7-8l-18 5l2 15l14 0l9-9zM-109-6l15-10l13 6l-2 13l-13 6l-13-12zM-81-10l2-1l16 1l1 18l-13 1l-8-6zM-58-14l12 5l2 15l-10 6l-8-4l-1-18zM-34-18l-12 9l2 15l14 3l11-6l0-5zM108-9l10-11l15 13l-4 12l-3 1l-16-8zM-128 28l-14-10l10-12l14 0l2 19zM-111 27l-5-2l-2-19l9-9l13 12l-2 11zM-98 20l2-11l13-6l8 6l-2 18l-9 3zM-62 8l-13 1l-2 18l14 5l9-7l0-13zM-44 6l-10 6l0 13l12 5l10-6l2-15zM-9 21l-10 13l-13-10l2-15l11-6l7 6zM110-2l16 8l-5 15l-6 3l-10-6l-5-9zM126 6l-5 15l13 9l12-5l0-13l-17-7zM146 12l8-6l12 5l2 12l-17 6l-5-4zM-164 48l11-7l1-14l-15-4l-7 4l0 15zM-128 28l-14-10l-1 0l-9 9l-1 14l10 7l13-8zM-111 27l-5-2l-12 3l-2 12l14 12l9-6zM-111 27l4 19l9 1l9-4l3-13l-12-10zM-63 32l0 11l9 7l16-2l-4-18l-12-5zM-19 34l1 9l-16 7l-4-2l-4-18l10-6zM146 25l5 4l2 17l-6 6l-15-9l2-13zM175 29l-7-6l-17 6l2 17l7 0l16-15zM-176 70l-9-6l-2-18l13-4l10 6l-1 14l-9 7zM-145 68l-20-6l1-14l11-7l10 7l4 16zM-131 67l13-10l2-5l-14-12l-13 8l4 16zM123 63l-3-15l12-5l15 9l-1 4l-16 10zM147 52l6-6l7 0l18 13l-22 12l-10-15zM176 31l-16 15l18 13l2-1l6-12zM-210 89l-11-7l4-14l12-4l8 3l-2 15zM-176 70l-9-6l-12 3l-2 15l15 6zM-161 85l-13-16l9-7l20 6l-5 14zM110 81l0-11l13-7l7 3l3 16l-10 4zM130 66l16-10l10 15l-1 5l-16 8l-6-2zM156 71l-1 5l10 11l15-7l-2-21zM202 80l-11 6l-11-6l-2-21l2-1l21 11zM-184 88l-15-6l-11 7l2 11l13 6l13-8zM-164 95l3-10l-13-16l-2 1l-8 18l2 10l2 1zM-164 95l3-10l11-3l10 11l-2 9l-9 6zM101 100l14 6l6-3l2-17l-13-5l-5 4zM121 103l12 4l10-6l-4-17l-6-2l-10 4zM143 101l9 3l13-9l0-8l-10-11l-16 8zM180 80l-15 7l0 8l11 9l13-4l2-14zM209 83l4 17l-16 7l-8-7l2-14l11-6zM209 83l4 17l7 5l12-4l0-16l-13-6zM-208 100l-10 9l-2 7l16 11l9-7l0-14zM-180 99l-2-1l-13 8l0 14l7 3l14-9zM-154 117l3-9l-13-13l-16 4l6 15l12 8zM134 121l12 7l9-8l-3-16l-9-3l-10 6zM173 121l3-17l-11-9l-13 9l3 16l14 3zM197 121l-8 6l-16-6l3-17l13-4l8 7zM220 105l-2 15l-9 5l-12-4l0-14l16-7zM220 105l-2 15l10 7l17-16l0-3l-13-7zM-216 143l-13-6l1-17l8-4l16 11l-1 11zM-205 138l1-11l9-7l7 3l8 12l-16 10zM-162 122l-12-8l-14 9l8 12l10 2l2-1zM-154 117l13 10l1 10l-11 10l-17-11l6-14zM153 146l-7-4l0-14l9-8l14 3l-1 15zM177 147l-9-9l1-15l4-2l16 6l0 13zM201 149l9-9l-1-15l-12-4l-8 6l0 13zM224 144l7-10l-3-7l-10-7l-9 5l1 15zM253 133l1-8l-9-14l-17 16l3 7l16 3zM-255 157l5 3l12-5l2-15l-15-5l-6 6zM-236 140l7-3l13 6l-2 15l-13 2l-7-5zM-193 158l6 3l12-6l5-18l-10-2l-16 10zM-53 135l16 9l-3 7l-17 8l-4-2l-1-18zM-40 151l3-7l7-5l10 4l3 17l-18 2zM-20 143l11-5l12 5l-4 18l-8 6l-8-7zM-1 161l4-18l10-4l10 6l1 5l-12 15zM201 157l-11 5l-14-7l1-8l12-7l12 9zM201 157l10 9l17-8l-4-14l-14-4l-9 9zM228 158l5 2l11-7l3-16l-16-3l-7 10zM265 154l2-12l-14-9l-6 4l-3 16l13 6zM276 164l10-11l5-10l-12-6l-12 5l-2 12zM297 173l9-17l-4-13l-1-1l-10 1l-5 10zM-238 155l7 5l-2 20l-2 1l-14-9l-1-12zM-233 180l2-20l13-2l7 7l-2 12l-6 4zM-52 176l-5-17l17-8l5 11l-2 10l-7 6zM-35 162l18-2l8 7l-12 11l-16-6zM-1 161l-8 6l11 16l15-9l-5-9zM201 157l10 9l0 3l-8 13l-18-6l5-14zM228 158l5 2l7 17l0 1l-13 5l-16-14l0-3zM257 159l-13-6l-11 7l7 17l14-4zM277 172l-14 7l-9-6l3-14l8-5l11 10zM277 172l12 7l7-3l1-3l-11-20l-10 11zM296 176l16 5l8-6l-1-12l-13-7l-9 17zM-298 196l-11-6l0-5l13-10l13 7l-1 9zM-276 200l17-7l-2-12l-13-7l-9 8l-1 9zM2 183l-1 9l13 6l9-6l3-15l-9-3zM185 176l18 6l2 9l-18 6l-10-5l0-12zM205 191l-2-9l8-13l16 14l-7 12l-10 1zM263 179l-1 17l-1 2l-17-7l-4-13l0-1l14-4zM277 172l12 7l-1 14l-6 3l-20 0l1-17zM296 176l16 5l3 18l-14 4l-13-10l1-14zM-317 215l-9 6l-13-10l-2-10l16-7l8 2zM-296 213l-11 5l-10-3l0-19l8-6l11 6zM-296 213l-2-17l14-5l8 9l-1 10l-8 7zM-277 210l17 8l7-5l2-14l-8-6l-17 7zM14 198l-13-6l-10 7l3 19l8 4l14-8zM207 216l3-20l-5-5l-18 6l2 15l16 4zM207 216l14 5l13-9l-1-8l-13-9l-10 1zM268 216l11-2l3-18l-20 0l-1 2l-2 13zM288 193l13 10l-3 14l-9 4l-10-7l3-18zM301 203l-3 14l11 9l14-17l-3-7l-5-3zM-307 218l4 15l-13 9l-11-19l1-2l9-6zM-296 213l-11 5l4 15l9 3l9-7l0-12zM-189 234l-6-13l-7-4l-14 8l-1 7l11 9zM-64 234l9 5l14-7l-4-18l-5-1l-13 8zM-45 214l13-2l10 13l-1 4l-7 7l-11-4zM-7 243l-16-14l1-4l16-7l8 4l2 13zM12 240l16-7l-2-14l-10-5l-14 8l2 13zM50 217l-2 17l-10 7l-10-8l-2-14l8-5zM205 216l-4 14l-12 6l-9-8l-2-7l11-9zM207 216l14 5l2 9l-13 10l-9-10l4-14zM248 232l-16 7l-9-9l-2-9l13-9l14 7zM284 233l15 7l11-9l-1-5l-11-9l-9 4zM309 226l14-17l9 8l-3 17l-6 4l-13-7zM-327 223l-13 12l3 17l2 1l17-5l2-6zM-316 242l-2 6l7 7l18-5l-1-14l-9-3zM-208 254l-6 4l-13-8l1-11l9-7l11 9zM-194 257l-14-3l2-13l17-7l1 1l2 13zM-55 239l14-7l11 4l0 16l-11 4l-11-7zM-9 251l2-8l-16-14l-7 7l0 16l9 4zM1 259l13-5l-2-14l-8-5l-11 8l-2 8zM12 240l16-7l10 8l0 2l-17 15l-7-4zM48 234l14 4l-2 17l-15-2l-7-10l0-2zM189 236l12-6l9 10l1 11l-9 4l-13-6zM210 240l13-10l9 9l-4 13l-4 3l-13-4zM248 232l-16 7l-4 13l21 6l5-6l0-14zM310 231l13 7l-1 13l-11 6l-11-5l-1-12zM329 234l17 3l0 14l-17 5l-7-5l1-13zM-340 280l-15-5l10-21l8-2l2 1l4 20zM-319 275l9-7l-1-13l-7-7l-17 5l4 20zM-290 271l2-17l-5-4l-18 5l1 13l15 7zM-18 273l-3-17l12-5l10 8l-1 12l-13 5zM0 271l13 8l12-8l-4-13l-7-4l-13 5zM45 253l-5 18l-7 3l-8-3l-4-13l17-15zM60 255l5 6l-1 6l-9 9l-15-5l5-18zM310 268l9 9l15-5l-5-16l-7-5l-11 6zM340 276l15-9l0-8l-9-8l-17 5l5 16zM-316 290l-3-15l-12-2l-9 7l1 7l11 11zM-307 295l11-6l1-14l-15-7l-9 7l3 15zM-13 276l4 16l14 1l6-5l2-9l-13-8zM33 274l-8-3l-12 8l-2 9l15 11l9-10zM46 294l-11-5l-2-15l7-3l15 5l2 11zM316 292l3-15l-9-9l-10 7l-1 16l13 4zM336 296l5-4l-1-16l-6-4l-15 5l-3 15zM-330 311l-5 3l-19-8l0-3l15-16l11 11zM-12 295l3-3l14 1l1 15l-16 7l-5-6zM13 313l14-6l-1-8l-15-11l-6 5l1 15zM35 313l-8-6l-1-8l9-10l11 5l0 13zM287 296l12-5l13 4l1 16l-15 8l-10-12zM336 296l-20-4l-4 3l1 16l5 3l15-4zM336 296l5-4l11 5l3 12l-13 15l-9-14zM-339 327l-13 6l-7-5l3-20l2-2l19 8zM13 313l-1 15l-8 3l-14-7l0-9l16-7zM318 314l3 11l-12 10l-12-12l1-4l15-8zM333 310l9 14l-10 8l-11-7l-3-11zM-18 347l7 6l13-7l2-15l-14-7l-8 7zM26 350l-6-19l-8-3l-8 3l-2 15l12 6zM321 349l9-7l2-10l-11-7l-12 10l1 8zM357 342l-10 9l-17-9l2-10l10-8l16 11zM-11 353l13-7l12 6l-6 17l-4 2l-14-11zM26 350l-12 2l-6 17l18 2l7-6l-1-13zM3 381l1-10l-14-11l-14 17l1 6l12 5zM-325 444l8-7l3-10l-11-8l-15 9l5 13zM-293 445l-7 3l-17-11l3-10l7-4l13 7zM-325 444l4 17l-16 5l-10-4l-1-12l13-9zM-325 444l8-7l17 11l-8 12l-11 3l-2-2zM-371 486l-8-8l1-13l6-6l16 9l-1 10zM-337 466l0 17l-8 4l-12-9l1-10l9-6zM-321 461l2 2l3 14l-9 10l-12-4l0-17zM-316 477l12 6l13-10l0-3l-17-10l-11 3zM-54 467l11-10l13 6l-3 17l-9 6l-13-7zM283 460l-10 5l1 9l12 9l15-3l-1-13zM300 467l1 13l7 5l13-8l2-14l-16-4zM321 477l13 8l9-7l0-10l-12-10l-8 5zM352 483l-9-5l0-10l13-6l10 6l-1 5zM-345 487l-12-9l-14 8l0 10l11 7l13-6zM-337 483l-8 4l-2 10l9 8l15-5l-2-13zM-325 487l2 13l9 6l13-7l-3-16l-12-6zM-55 479l-9 3l-3 18l15 6l9-8l1-12zM-33 480l15 7l-1 16l-7 5l-17-10l1-12zM274 474l-9 8l1 14l17 5l3-18zM301 480l7 5l2 15l-9 8l-18-7l3-18zM311 500l-1 0l-2-15l13-8l13 8l-1 12zM333 497l1-12l9-7l9 5l6 16l-18 5zM362 500l-4-1l-6-16l13-10l10 19l-2 4zM-323 500l9 6l-1 11l-14 7l-11-5l2-14zM-314 506l-1 11l9 10l17-9l-6-18l-6-1zM-280 522l7-2l1-14l-14-10l-9 4l6 18zM-45 525l17-4l2-13l-17-10l-9 8l0 11zM-28 521l7 7l16-8l-6-15l-8-2l-7 5zM266 519l-11-8l-1-2l12-13l17 5l-9 17zM289 527l11-8l1-11l-18-7l-9 17zM-320 545l14-15l0-3l-9-10l-14 7l1 15zM-292 543l-14-13l0-3l17-9l9 4l-7 19zM-287 541l7-19l7-2l6 3l3 16l-14 7zM-240 537l0-10l-12-8l-15 4l3 16l11 8zM-45 525l17-4l7 7l1 6l-8 7l-20-2zM264 539l2-20l8-1l15 9l-2 11l-17 6zM-322 559l-25 1l5-18l14-3l8 6l2 10zM-318 555l10 4l8-3l8-13l-14-13l-14 15zM-276 559l-2-13l-9-5l-5 2l-8 13l14 8zM-253 547l-11-8l-14 7l2 13l11 6l11-12zM-238 565l-16-12l1-6l13-10l8 6l1 13zM-322 559l-3 17l7 5l14-5l-4-17l-10-4zM-286 564l-14-8l-8 3l4 17l8 6l8-3zM-264 573l-12 11l-12-5l2-15l10-5l11 6zM-238 565l-16-12l-11 12l1 8l9 6l19-7zM-238 565l7-9l16 2l-1 15l-13 6l-7-7zM-302 597l-16-8l0-8l14-5l8 6l-5 14zM-301 596l5-14l8-3l12 5l0 4l-7 18l-2 0zM-257 600l-19-12l0-4l12-11l9 6l3 17zM-238 598l-14-2l-3-17l19-7l7 7l-1 12zM-182 583l9-9l13 5l2 19l-18 2l-5-5zM-154 602l-4-4l-2-19l9-3l14 3l-6 19zM-261 611l-12 4l-10-9l7-18l19 12zM-236 612l-14 9l-11-10l4-11l5-4l14 2zM-215 613l-2-15l-13-7l-8 7l2 14l11 7zM-155 616l-4 2l-15-3l-2-15l18-2l4 4z"/><path fill="#4b4bff" stroke="#4b4bff" d="M83 23l-12 11l10 15l18-6l-7-16zM-218 158l2-15l11-5l9 7l3 13l-18 7zM-129 144l0 13l12 4l8-6l-2-16l-6-2zM-85 146l-12-14l-14 7l2 16l14 4l9-5zM-85 146l14-11l9 4l1 18l-15 4l-10-7zM88 140l3 19l-14 7l-6-6l0-15l6-6zM-211 165l18-7l6 3l2 15l-11 10l-17-9zM-129 157l-11 7l2 13l9 8l13-7l-1-17zM-95 159l-3 19l-7 4l-11-4l-1-17l8-6zM-86 154l10 7l1 12l-12 9l-11-4l3-19zM-76 161l1 12l12 10l11-7l-5-17l-4-2zM-116 203l-14-9l1-9l13-7l11 4l0 14zM-95 202l-10-6l0-14l7-4l11 4l4 12zM-73 197l-10-3l-4-12l12-9l12 10l-3 9zM-134 220l18-6l0-11l-14-9l-10 10l0 10zM-94 212l-13 10l-9-8l0-11l11-7l10 6zM-73 214l0-17l-10-3l-12 8l1 10l10 5zM-73 214l0-17l7-5l14 9l2 12l-13 8zM-133 231l-1-11l18-6l9 8l0 7l-14 8zM-88 236l-8 3l-11-10l0-7l13-10l10 5zM-74 240l10-6l1-13l-10-7l-11 3l-4 19zM136 222l2 7l-13 12l-11-15l2-10l3-2zM-133 231l-9 10l0 10l11 5l11-4l-1-15zM-121 237l14-8l11 10l-3 13l-9 7l-12-7zM-74 240l-1 11l-9 9l-15-8l3-13l8-3zM-74 240l-1 11l11 7l12-9l-3-10l-9-5zM124 251l-8 3l-13-7l-3-11l14-10l11 15zM130 255l12-1l6-19l-10-6l-13 12l-1 10zM-264 267l1-5l-11-11l-14 3l-2 17l16 4zM-264 267l1-5l15-12l9 4l2 19l-13 6zM-214 258l-13-8l-12 4l2 19l9 4l12-6zM-194 257l-14-3l-6 4l-2 13l10 7l15-10zM-194 257l3 11l11 6l7-1l1-18l-14-7zM-131 256l0 14l-8 6l-13-6l2-13l8-6zM-120 252l12 7l0 10l-11 6l-12-5l0-14zM-84 260l-15-8l-9 7l0 10l7 8l20-3zM-64 258l0 13l-15 5l-2-2l-3-14l9-9zM87 259l-7-4l-15 6l-1 6l16 13l11-8zM109 272l-10 4l-8-4l-4-13l16-12l13 7zM130 255l2 16l-8 10l-15-9l7-18l8-3zM130 255l2 16l18 7l5-4l1-13l-14-7zM171 281l-16-7l1-13l11-8l10 3l4 17zM181 273l6 2l14-6l1-14l-13-6l-12 7zM211 251l13 4l0 14l-15 6l-8-6l1-14zM228 252l21 6l0 14l-17 5l-8-8l0-14zM-274 275l-16-4l-5 4l-1 14l8 5l15-6zM-264 267l14 12l-1 12l-14 6l-8-9l-1-13zM-251 291l6 5l18-4l-1-15l-9-4l-13 6zM-219 300l-8-8l-1-15l12-6l10 7l2 10zM-190 291l10-17l-11-6l-15 10l2 10l10 5zM-190 291l10-17l7-1l8 5l2 11l-8 8zM-165 278l13-8l13 6l2 15l-11 7l-15-9zM-137 291l12 3l2-2l4-17l-12-5l-8 6zM-119 275l-4 17l20 2l1 0l1-17l-7-8zM-85 299l-17-5l1-17l20-3l2 2l1 17zM-50 277l-2 15l-9 6l-17-5l-1-17l15-5zM69 294l-12-7l-2-11l9-9l16 13l-4 11zM91 300l10-9l-2-15l-8-4l-11 8l-4 11zM111 295l13-11l0-3l-15-9l-10 4l2 15zM124 281l0 3l11 11l12-6l3-11l-18-7zM171 281l1 13l-14 6l-11-11l3-11l5-4zM171 281l1 13l5 4l16-7l-6-16l-6-2zM187 275l14-6l8 6l1 16l-12 2l-5-2zM209 275l15-6l8 8l-3 11l-11 8l-8-5zM256 284l-1-6l-6-6l-17 5l-3 11l16 10zM-293 314l-13-1l-1-18l11-6l8 5l2 16zM-286 310l-2-16l15-6l8 9l-3 14l-4 3zM-268 311l3-14l14-6l6 5l2 15l-5 5zM-219 306l-11 7l-13-2l-2-15l18-4l8 8zM-194 293l-10-5l-15 12l0 6l13 11l13-11zM-190 291l19 6l-3 13l-6 2l-13-6l-1-13zM-174 310l8 5l18-6l0-11l-15-9l-8 8zM-148 309l0-11l11-7l12 3l2 18l-1 1l-22-2zM-125 294l2 18l16-3l4-15l-20-2zM-85 309l-15 10l-7-10l4-15l1 0l17 5zM-76 318l15-17l0-3l-17-5l-7 6l0 10zM80 317l12-6l-1-11l-15-9l-7 3l-3 14zM92 311l7 5l16-10l-4-11l-10-4l-10 9zM111 295l13-11l11 11l-3 12l-7 4l-10-5zM147 289l-12 6l-3 12l14 8l10-5l2-10zM172 294l5 4l3 12l-9 11l-15-11l2-10zM193 313l-13-3l-3-12l16-7l5 2l-3 18zM214 314l5-7l-1-11l-8-5l-12 2l-3 18zM245 305l-13 6l-13-4l-1-11l11-8l16 10zM270 295l-8 16l-6 3l-11-9l0-7l11-14zM270 295l12-2l5 3l1 11l-14 10l-12-6zM-291 330l-15 7l-7-8l-1-11l8-5l13 1zM-281 335l10-11l-1-10l-14-4l-7 4l2 16zM-248 328l0-12l-20-5l-4 3l1 10l9 7zM-241 336l12-10l-1-13l-13-2l-5 5l0 12zM-215 333l10-5l-1-11l-13-11l-11 7l1 13zM-193 306l-13 11l1 11l10 7l9-4l6-19zM-180 312l-6 19l10 3l12-5l-2-14l-8-5zM-153 336l-11-7l-2-14l18-6l2 2l1 18zM-145 329l13 2l9-5l-1-13l-22-2zM-114 331l-9-5l-1-13l1-1l16-3l7 10l0 4zM-73 327l-3-9l-9-9l-15 10l0 4l15 14zM-73 327l-3-9l15-17l7 21l-16 5zM80 317l-14-9l-6 4l-2 14l8 9l13-6zM103 328l-4-12l-7-5l-12 6l-1 12l11 8zM103 328l-4-12l16-10l10 5l-3 18l-10 3zM122 329l13 9l10-9l1-14l-14-8l-7 4zM171 328l0-7l-15-11l-10 5l-1 14l16 4zM194 329l-1-16l-13-3l-9 11l0 7l7 6zM194 329l-1-16l2-2l19 3l0 11l-14 7zM214 325l8 7l14-2l-4-19l-13-4l-5 7zM245 305l-13 6l4 19l7 3l11-9l2-10zM262 311l12 6l4 12l-9 5l-15-10l2-10zM288 307l10 12l-1 4l-11 9l-8-3l-4-12zM-306 337l-7-8l-16 10l-1 5l14 11l11-12zM-280 349l-1-14l-10-5l-15 7l1 6l14 9zM-280 349l-1-14l10-11l9 7l1 18l-11 5zM-240 342l-13 7l-8 0l-1-18l14-3l7 8zM-240 342l8 6l10-3l7-12l-14-7l-12 10zM-222 345l14 11l12-9l1-12l-10-7l-10 5zM-172 348l-4-14l-10-3l-9 4l-1 12l10 9zM-172 348l-4-14l12-5l11 7l0 5l-11 10zM-153 336l0 5l13 13l9-9l-1-14l-13-2zM-112 343l-2-12l-9-5l-9 5l1 14l15 2zM-98 347l-14-4l-2-12l14-8l15 14l0 1zM-75 355l17-8l-12-20l-3 0l-12 10l0 1zM58 326l-14 4l-3 17l16 4l8-5l1-11zM77 353l-12-7l1-11l13-6l11 8l-1 10zM89 347l1-10l13-9l9 4l-3 19l-8 4zM112 332l10-3l13 9l1 5l-15 13l-12-5zM146 354l12-5l3-16l-16-4l-10 9l1 5zM168 354l12-8l-2-12l-7-6l-10 5l-3 16zM194 329l-16 5l2 12l10 8l12-9l-2-13zM200 332l14-7l8 7l-5 19l-15-6zM232 355l-15-4l5-19l14-2l7 3l1 9zM255 349l11-2l3-13l-15-10l-11 9l1 9zM266 347l6 5l16-9l-2-11l-8-3l-9 5zM310 343l-1-8l-12-12l-11 9l2 11l8 7zM-316 365l0-10l-14-11l-10 7l1 13l14 7zM-291 352l-14-9l-11 12l0 10l10 4l9-3zM-280 349l-11 3l-6 14l14 10l12-9l-1-13zM-272 354l11-5l8 0l6 18l-14 8l-10-8zM-240 342l8 6l1 19l-5 3l-11-3l-6-18zM-231 367l-1-19l10-3l14 11l-3 10l-12 4zM-186 356l-10-9l-12 9l-3 10l11 10l17-8zM-178 371l-5-3l-3-12l14-8l8 3l1 14zM-140 362l0-8l-13-13l-11 10l1 14l9 4zM-129 370l11-3l2-20l-15-2l-9 9l0 8zM-98 364l-16 4l-4-1l2-20l4-4l14 4zM-77 369l2-14l-10-17l-13 9l0 17l17 9zM32 352l9-5l16 4l0 15l-12 8l-12-9zM77 363l-9 9l-11-6l0-15l8-5l12 7zM77 363l13 8l9-3l2-13l-12-8l-12 6zM101 355l8-4l12 5l2 11l-11 11l-13-10zM123 367l13 3l10-7l0-9l-10-11l-15 13zM146 354l12-5l10 5l1 11l-13 6l-10-8zM168 354l12-8l10 8l1 9l-10 9l-12-7zM202 345l15 6l-6 15l-7 3l-13-6l-1-9zM238 371l-16 5l-11-10l6-15l15 4zM238 371l14-6l3-16l-11-7l-12 13l6 16zM252 365l14 6l9-8l-3-11l-6-5l-11 2zM296 350l-8-7l-16 9l3 11l13 4l7-5zM357 342l-10 9l-1 16l4 3l16-6l3-11zM-325 371l-14-7l-10 7l-1 13l13 7l10-6zM-316 365l-9 6l-2 14l11 7l12-6l-2-17zM-297 366l-9 3l2 17l7 4l13-7l1-7zM-178 371l-5-3l-17 8l-1 12l17 7l9-8zM-154 369l-9-4l-15 6l3 16l14 4l6-4zM-129 370l-2 14l-8 6l-16-3l1-18l14-7zM-129 370l11-3l4 1l8 19l-12 7l-13-10zM-81 373l-17-9l-16 4l8 19l11 4l13-9zM-77 369l18 1l2 20l-17 1l-8-9l1-9zM-59 370l12-5l4 3l-5 22l-3 3l-6-3zM-48 390l5-22l9 2l10 7l1 6l-3 4zM15 390l7-3l4-16l-18-2l-4 2l-1 10zM33 365l12 9l1 13l-7 4l-17-4l4-16zM70 385l-19 5l-5-3l-1-13l12-8l11 6zM77 363l-9 9l2 13l6 4l9-4l5-14zM90 371l-5 14l16 9l11-14l0-2l-13-10zM123 367l13 3l2 16l-14 5l-12-11l0-2zM146 363l10 8l1 16l-12 3l-7-4l-2-16zM164 391l-7-4l-1-16l13-6l12 7l-1 10zM188 388l-8-6l1-10l10-9l13 6l-1 16zM238 371l3 7l17 8l8-2l0-13l-14-6zM266 384l5 4l17-4l0-17l-13-4l-9 8zM375 386l3-13l-12-9l-16 6l4 16l13 4zM-347 410l-14-10l-2-10l13-6l13 7l-1 12zM-316 392l0 10l-11 8l-11-7l1-12l10-6zM-304 386l7 4l2 15l-8 5l-13-8l0-10zM-175 387l-9 8l0 9l15 11l9-9l-1-15zM-139 390l1 16l-9 4l-13-4l-1-15l6-4zM-131 384l13 10l0 12l-15 4l-5-4l-1-16zM-118 394l0 12l9 7l12-10l2-12l-11-4zM-82 382l-13 9l-2 12l12 8l12-8l-1-12zM-57 390l6 3l2 8l-15 11l-9-9l-1-12zM-51 393l3-3l22-3l-6 20l-6 3l-11-9zM14 406l12 4l7-3l6-16l-17-4l-7 3zM51 390l-5-3l-7 4l-6 16l14 6l8-9zM76 389l0 17l-4 4l-17-6l-4-14l19-5zM76 389l0 17l13 2l13-7l-1-7l-16-9zM112 380l12 11l-1 15l-15 1l-6-6l-1-7zM123 406l9 8l9-5l4-19l-7-4l-14 5zM-374 417l13-17l14 10l-3 12l-8 4l-16-7zM-340 428l15-9l-2-9l-11-7l-9 7l-3 12zM-327 410l11-8l13 8l-4 13l-7 4l-11-8zM-169 420l-18 12l-9-6l0-12l12-10l15 11zM-147 410l-2 12l-17 2l-3-4l0-5l9-9zM-147 410l-2 12l6 7l11-5l-1-14l-5-4zM-109 413l-9-7l-15 4l1 14l13 9l11-17zM-109 413l12-10l12 8l1 16l-6 1l-18-12zM-73 403l-12 8l1 16l8 3l12-7l0-11zM-49 401l11 9l-2 11l-10 7l-14-5l0-11zM52 430l19-7l1-13l-17-6l-8 9l2 16zM76 406l13 2l4 17l-17 2l-5-4l1-13zM89 408l13-7l6 6l-3 17l-7 4l-5-3zM108 407l-3 17l20 7l6-6l1-11l-9-8zM132 414l-1 11l16 10l16-10l-4-11l-18-5zM-194 453l-17-8l7-16l8-3l9 6l2 7zM-185 439l-2-7l18-12l3 4l7 17l-13 4zM-148 442l5-13l-6-7l-17 2l7 17l5 2zM-119 433l-13-9l-11 5l-5 13l14 7l16-11zM-108 416l-11 17l1 5l7 5l10-1l11-14zM-75 441l-1-11l-8-3l-6 1l-11 14l12 11zM-75 441l-1-11l12-7l14 5l1 17l-17 4zM52 430l19-7l5 4l2 18l-11 6l-11-8zM76 427l2 18l12 4l9-9l-1-12l-5-3zM105 424l20 7l-3 11l-7 4l-16-6l-1-12zM122 442l11 9l15-9l-1-7l-16-10l-6 6zM157 453l11-8l0-17l-5-3l-16 10l1 7zM189 434l0 7l-13 8l-8-4l0-17l11-1zM-193 460l-12 11l-16-10l1-12l9-4l17 8zM-193 460l8 3l11-3l2-15l-13-6l-9 14zM-174 460l12 6l5-3l3-20l-5-2l-13 4zM-157 463l3-20l6-1l14 7l1 14l-10 5zM-110 466l-1-23l-7-5l-16 11l1 14l13 9zM-89 453l-12-11l-10 1l1 23l9 2l12-8zM-75 441l-14 12l0 7l12 7l10-8l1-10zM82 468l10-11l-2-8l-12-4l-11 6l-1 10zM92 457l12 8l8-2l3-17l-16-6l-9 9zM115 446l-3 17l11 6l11-7l-1-11l-11-9zM134 462l7 3l15-7l1-5l-9-11l-15 9zM176 449l-8-4l-11 8l-1 5l9 10l13-8zM197 452l-8-11l-13 8l2 11l16 6l2-2zM-193 460l-12 11l1 5l7 8l16-4l-4-17zM-185 463l4 17l9 4l7-4l3-14l-12-6zM-157 463l14 5l-3 17l-3 2l-16-7l3-14zM-120 476l-12 10l-14-1l3-17l10-5l13 9zM-106 499l-14-23l0-4l10-6l9 2l6 12zM-77 467l1 9l-6 6l-13-2l-6-12l12-8zM-67 459l13 8l-1 12l-9 3l-12-6l-1-9zM60 477l9 8l13-7l0-10l-16-7l-7 7zM82 468l10-11l12 8l-3 15l-10 2l-9-4zM101 480l7 8l15-8l0-11l-11-6l-8 2zM123 469l0 11l12 9l9-8l-3-16l-7-3zM163 483l-19-2l-3-16l15-7l9 10l1 14zM171 484l-5-2l-1-14l13-8l16 6l-9 15zM207 469l5 13l-11 12l-3 0l-13-13l9-15l2-2zM-197 484l0 14l-9 5l-10-3l-2-13l14-11zM-181 480l9 4l-2 12l-9 8l-14-6l0-14zM-150 502l1-15l-16-7l-7 4l-2 12l16 9zM-130 502l-12 5l-8-5l1-15l3-2l14 1zM-106 499l-11 8l-13-5l-2-16l12-10zM-106 499l8 4l15-7l1-14l-13-2zM-83 496l1-14l6-6l12 6l-3 18l-4 2zM82 478l9 4l-3 17l-11 5l-8-7l0-12zM100 503l-12-4l3-17l10-2l7 8l0 8zM108 496l0-8l15-8l12 9l0 7l-10 10zM163 483l-19-2l-9 8l0 7l10 5l11-1zM171 484l-5-2l-3 1l-7 17l8 11l13-10zM187 505l-10-4l-6-17l14-3l13 13zM-117 507l-2 14l-9 6l-13-7l-1-13l12-5zM-91 526l2-4l-9-19l-8-4l-11 8l-2 14l11 7zM100 503l1 16l13 4l11-9l0-8l-17-10zM125 514l16 10l4-1l0-22l-10-5l-10 10zM164 511l-8-11l-11 1l0 22l7 1l11-8zM187 505l2 11l-11 8l-15-8l1-5l13-10zM-108 528l-11-7l-9 6l-1 11l8 10l10-6zM101 519l-9 4l-3 12l14 8l13-6l-2-14zM125 514l16 10l-5 11l-16 5l-4-3l-2-14zM159 541l-15 8l-8-14l5-11l4-1l7 1zM178 524l0 14l-10 7l-9-4l-7-17l11-8zM80 552l3-12l-16-10l-10 16l2 7l5 3zM89 561l12-4l2-14l-14-8l-6 5l-3 12zM123 554l-3-14l-4-3l-13 6l-2 14l12 6zM137 560l4-4l3-7l-8-14l-16 5l3 14zM168 559l0-14l-9-4l-15 8l-3 7l19 6zM316 542l-16 8l-1 1l6 18l20-9zM316 542l20-6l9 4l-1 14l-13 10l-6-4zM88 577l1-16l-9-9l-16 4l1 18l15 5zM88 577l9 6l16-9l0-11l-12-6l-12 4zM137 560l-14-6l-10 9l0 11l8 5l17-7zM137 560l4-4l19 6l-5 14l-10 4l-7-8zM176 577l-2-12l-6-6l-8 3l-5 14l15 6zM322 585l-18-9l1-7l20-9l6 4l1 11zM170 582l-3 11l-11 5l-11-6l0-12l10-4zM165 616l17-8l1-4l-16-11l-11 5l1 13z"/></g></g><use href="#bl" clip-path="url(#oclip)" stroke="#1a1010" stroke-width="2.2" stroke-linecap="round"/><use href="#bo" fill="none" stroke="#222" stroke-width="2.2"/></g>
<text x="184.0" y="1730.8" font-family="'Liberation Sans',sans-serif" font-size="36.2" fill="#555555">BOLD</text><text transform="translate(295.6 1728.9) scale(1.08 1)" font-family="'Liberation Sans',sans-serif" font-size="36.2" font-weight="bold" fill="#555555" stroke="#555555" stroke-width="1.2">–</text><text x="329.9" y="1730.8" font-family="'Liberation Sans',sans-serif" font-size="38.4" fill="#555555">Ca</text><text x="379.9" y="1712.2" font-family="'Liberation Sans',sans-serif" font-size="20.5" fill="#555555">2+</text><text x="382.8" y="1730.8" font-family="'Liberation Sans',sans-serif" font-size="20.3" fill="#555555" font-style="italic">slow</text>
<text x="588.0" y="1730.8" font-family="'Liberation Sans',sans-serif" font-size="36.2" fill="#555555">BOLD</text><text transform="translate(699.6 1728.9) scale(1.08 1)" font-family="'Liberation Sans',sans-serif" font-size="36.2" font-weight="bold" fill="#555555" stroke="#555555" stroke-width="1.2">–</text><text x="733.9" y="1730.8" font-family="'Liberation Sans',sans-serif" font-size="38.4" fill="#555555">Ca</text><text x="783.9" y="1712.2" font-family="'Liberation Sans',sans-serif" font-size="20.5" fill="#555555">2+</text><text x="786.8" y="1730.8" font-family="'Liberation Sans',sans-serif" font-size="20.3" fill="#555555" font-style="italic">fast</text>
<text x="995.5" y="1730.8" font-family="'Liberation Sans',sans-serif" font-size="38.4" fill="#555555">Ca</text><text x="1045.5" y="1712.2" font-family="'Liberation Sans',sans-serif" font-size="20.5" fill="#555555">2+</text><text x="1048.4" y="1730.8" font-family="'Liberation Sans',sans-serif" font-size="20.3" fill="#555555" font-style="italic">slow</text><text transform="translate(1103.0 1728.9) scale(1.08 1)" font-family="'Liberation Sans',sans-serif" font-size="36.2" font-weight="bold" fill="#555555" stroke="#555555" stroke-width="1.2">–</text><text x="1139.0" y="1730.8" font-family="'Liberation Sans',sans-serif" font-size="38.4" fill="#555555">Ca</text><text x="1189.0" y="1712.2" font-family="'Liberation Sans',sans-serif" font-size="20.5" fill="#555555">2+</text><text x="1191.9" y="1730.8" font-family="'Liberation Sans',sans-serif" font-size="20.3" fill="#555555" font-style="italic">fast</text>
</svg></body></html>
